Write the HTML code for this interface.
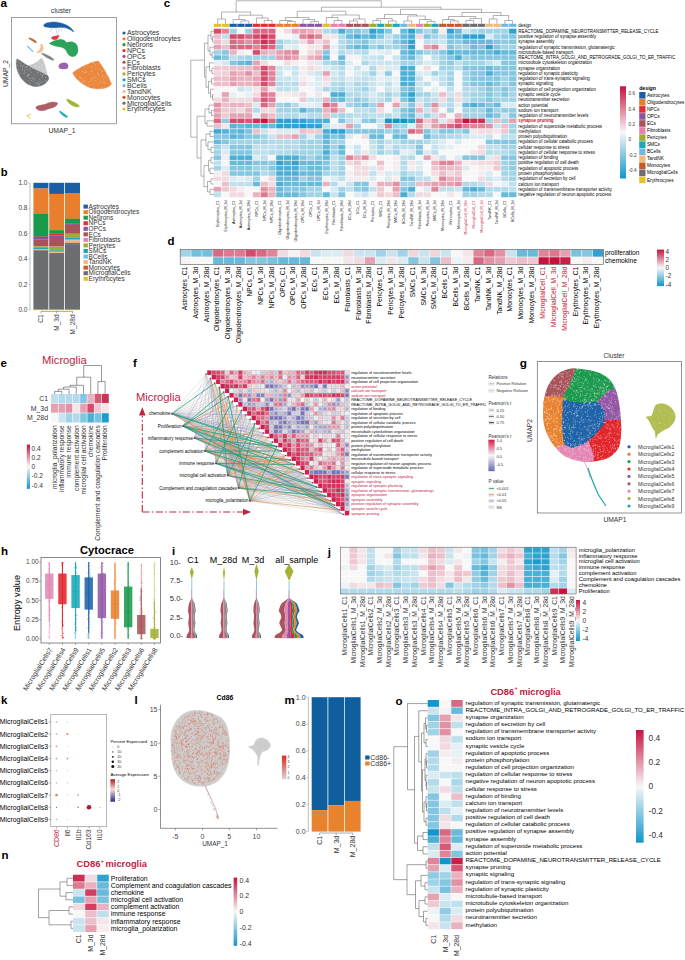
<!DOCTYPE html>
<html><head><meta charset="utf-8"><title>Figure</title>
<style>html,body{margin:0;padding:0;background:#fff;}svg{display:block;}text{font-family:"Liberation Sans", sans-serif;}</style>
</head><body>
<svg width="685" height="960" viewBox="0 0 685 960" font-family='"Liberation Sans", sans-serif'>
<rect x="0" y="0" width="685" height="960" fill="#ffffff"/>
<text x="0.40" y="6.80" font-size="11.8" font-weight="bold" fill="#000">a</text>
<text x="61.00" y="13.20" font-size="6.8" text-anchor="middle" fill="#333">cluster</text>
<rect x="11.40" y="17.40" width="105.00" height="106.40" fill="none" stroke="#777" stroke-width="0.7"/>
<text transform="translate(7.60,73.50) rotate(-90)" font-size="6.8" text-anchor="middle" fill="#333">UMAP_2</text>
<text x="62.00" y="133.40" font-size="6.8" text-anchor="middle" fill="#333">UMAP_1</text>
<path d="M16.4,59.5 C15.5,66 17,72 21,78 C25,83 30,86.5 36,86.6 C42,86.5 47,83.5 48.8,79 C48.9,77.5 48.5,76.5 47.5,75.5 C40,72 30,68 17.8,59.1 Z" stroke="#6b6e70" stroke-width="0.3" fill="#6b6e70" fill-opacity="0.97" stroke-opacity="0.97"/>
<path d="M24,65.5 C30,66 35,64 38,61 L42,57.8 C44,62 46,68 47.5,75.5 C40,72 30,68.5 24,65.5 Z" stroke="#6b6e70" stroke-width="0.3" fill="#6b6e70" fill-opacity="0.38" stroke-opacity="0.38"/>
<path d="M72.6,73 C78,68 90,62 98.5,61 C103,67 108,75 111.5,84 C108,89 100,89.5 93,88.5 C85,87 76,80 72.6,73 Z" stroke="#e97f2e" stroke-width="0.3" fill="#e97f2e" fill-opacity="0.93" stroke-opacity="0.93"/>
<path d="M43.6,25.3 C44.5,22.8 50,21.8 55,21.9 C60,22.2 64,23.5 67.5,25.5 C70,27 72.5,29.5 74,31.5 L72.8,31.6 C70,29.5 67,28.2 64,27.6 C60,27.6 55,28 50,27.7 C46,27.4 43.4,26.8 43.6,25.3 Z" stroke="#1c5ea6" stroke-width="0.3" fill="#1c5ea6" fill-opacity="1" stroke-opacity="1"/>
<path d="M49.1,43.5 C52,41.5 56,40 60,39.3 C63,39.3 65,40.5 66.5,42.5 C68,41.8 71,41.5 73.5,42.3 C77,43.5 78.3,47 78,51 C77.5,54.5 75.5,56.7 72.5,56.7 C69.5,56.5 67.5,54 66.5,51.5 C65.5,49 63,47.5 60,47 C56,46.5 52,45.5 49.1,43.5 Z" stroke="#1c9a4c" stroke-width="0.3" fill="#1c9a4c" fill-opacity="0.92" stroke-opacity="0.92"/>
<path d="M51.3,37.6 C52.5,36.3 55,36 57,35.8 L59.3,35.3 L58.3,37.5 C57.8,39 56,40 54,39.8 C52.5,39.5 51.5,38.7 51.3,37.6 Z" stroke="#e22d33" stroke-width="0.3" fill="#e22d33" fill-opacity="0.95" stroke-opacity="0.95"/>
<path d="M28.4,38.2 L30,37.8 C33,39 36,40 36.7,42.6 L35.5,43 C33,41 30,40 28.4,38.2 Z" stroke="#c25a2a" stroke-width="0.3" fill="#c25a2a" fill-opacity="0.9" stroke-opacity="0.9"/>
<path d="M27,46.2 L28,45.8 C30,48 32,50 33.6,51.5 L32.8,51.9 C30.5,50 28.5,48 27,46.2 Z" stroke="#6cbbe4" stroke-width="0.3" fill="#6cbbe4" fill-opacity="0.9" stroke-opacity="0.9"/>
<path d="M40.5,44.5 L42,44 C43.5,47 44,50 41,52.2 L37,52.8 L36.5,52 C40,50.5 41.5,48 40.5,44.5 Z" stroke="#f2b97e" stroke-width="0.3" fill="#f2b97e" fill-opacity="0.9" stroke-opacity="0.9"/>
<path d="M41.2,53.6 L43,53.2 C48,55 52,57 54.2,59.8 L53,60.5 C49,59 45,57 41.2,53.6 Z" stroke="#6b6e70" stroke-width="0.3" fill="#6b6e70" fill-opacity="0.85" stroke-opacity="0.85"/>
<path d="M58.8,66 C59,63.5 62,62.6 65,62.8 C68,63 68.5,66 68,68 C66,69.5 63,69.2 60,68.5 C59,68 58.6,67 58.8,66 Z" stroke="#8c55a4" stroke-width="0.3" fill="#8c55a4" fill-opacity="0.9" stroke-opacity="0.9"/>
<path d="M35.7,107.5 C37,104.5 43,105.5 47.5,103.2 C51,101.5 55,101.5 57.8,103 C57.5,106.5 52.5,108 47.5,109.2 C43,111.2 37.5,112 35.7,107.5 Z" stroke="#a8525a" stroke-width="0.3" fill="#a8525a" fill-opacity="0.93" stroke-opacity="0.93"/>
<path d="M66.2,99.5 L67.5,99 C72,101 77,103 79.5,106 C79,107.5 76,107.4 73,106 C70,104.5 67.5,102 66.2,99.5 Z" stroke="#9fae30" stroke-width="0.3" fill="#9fae30" fill-opacity="0.95" stroke-opacity="0.95"/>
<path d="M59.2,111.5 L60.5,111 C63,113 66,114.5 67.8,116.8 L66.5,117.8 C63.5,116.5 60.5,114 59.2,111.5 Z" stroke="#19a8b6" stroke-width="0.3" fill="#19a8b6" fill-opacity="0.95" stroke-opacity="0.95"/>
<path d="M26.2,115.5 L31.5,113.8 L30.2,115 L28,116 L30.5,118.5 L29.5,118.6 Z" stroke="#e2c12a" stroke-width="0.3" fill="#e2c12a" fill-opacity="0.7" stroke-opacity="0.7"/>
<path d="M23.9 73.3h0M28.2 75.1h0M36.6 59.0h0M16.4 82.1h0M24.6 64.0h0M48.9 71.1h0M43.6 71.3h0M37.1 61.5h0M37.0 83.0h0M33.3 79.2h0M38.2 58.9h0M41.0 74.7h0M25.9 57.9h0M44.6 71.2h0M39.7 83.4h0M39.6 84.6h0M29.0 81.0h0M30.7 85.1h0M45.0 59.9h0M20.5 63.5h0M47.9 70.1h0M36.7 66.0h0M32.7 68.6h0M27.6 74.6h0M35.3 84.1h0M38.5 84.9h0M44.3 86.7h0M38.2 61.9h0M44.4 85.9h0M45.9 74.1h0M39.6 63.3h0M43.4 74.2h0M25.4 58.9h0M44.2 86.7h0M18.9 81.0h0M29.5 61.5h0M25.7 80.1h0M44.8 58.3h0M36.3 58.3h0M39.7 66.9h0M45.1 86.4h0M32.7 87.0h0M26.2 59.3h0M35.8 57.9h0M22.5 69.2h0M36.1 61.7h0M17.4 83.0h0M26.4 85.8h0M45.6 68.3h0M31.2 72.6h0M37.2 74.9h0M34.5 75.6h0M47.0 72.2h0M30.2 78.6h0M23.8 66.0h0M48.3 72.6h0M34.1 57.3h0M29.7 74.4h0M16.7 75.5h0M36.9 58.8h0M36.7 71.0h0M38.4 67.6h0M39.3 79.1h0M16.7 58.8h0M38.3 85.9h0M24.3 70.7h0M35.6 66.6h0M28.0 66.4h0M28.2 74.9h0M25.9 68.3h0M41.5 57.8h0M34.8 79.1h0M26.2 63.7h0M42.5 64.2h0M22.2 70.1h0M39.0 60.1h0M26.6 67.0h0M43.5 70.2h0M44.2 62.1h0M27.1 76.5h0M45.2 70.5h0M23.4 60.6h0M33.5 62.7h0M42.6 82.2h0M22.1 65.4h0M42.6 76.3h0M42.6 67.4h0M20.3 65.8h0M42.2 65.1h0M27.4 69.5h0M29.9 69.3h0M46.4 61.7h0M16.2 85.3h0M45.0 86.6h0M30.3 85.5h0M46.6 63.7h0M40.6 82.1h0M37.9 72.6h0M25.5 67.2h0M23.5 59.0h0M35.4 65.6h0M42.7 58.4h0M45.8 77.8h0M46.5 83.9h0M45.7 74.3h0M16.4 79.4h0M21.7 66.0h0M37.9 72.7h0M29.7 85.2h0M36.2 67.2h0M24.3 82.8h0M31.7 80.5h0M27.6 62.9h0M33.6 81.5h0M21.7 80.8h0M46.4 81.2h0M43.2 57.2h0M36.7 82.9h0M17.6 65.1h0M24.9 72.8h0M30.0 71.2h0M41.6 57.1h0M17.8 60.8h0M20.1 59.1h0M48.2 82.6h0M18.8 72.1h0M26.4 66.4h0M27.6 76.4h0M35.4 67.8h0M22.3 66.9h0M20.1 73.7h0M39.6 68.4h0M18.6 62.4h0M28.3 75.1h0M41.8 68.4h0M42.4 75.7h0M30.2 68.2h0M32.4 78.1h0M29.9 77.8h0M31.2 64.4h0M33.7 77.9h0M18.4 69.7h0M30.1 83.4h0M46.9 68.2h0M45.6 80.7h0M24.7 70.9h0M20.1 81.4h0M37.9 83.6h0M42.2 77.0h0M40.2 73.9h0M19.4 74.6h0M16.2 61.3h0M41.6 58.3h0M19.0 60.0h0M45.1 62.4h0M16.8 82.2h0M20.0 82.3h0M38.2 82.1h0M47.4 74.4h0M42.4 58.1h0" stroke="#ffffff" stroke-width="0.7" stroke-linecap="round" stroke-opacity="0.5"/>
<path d="M102.7 75.3h0M100.6 63.2h0M102.0 88.0h0M74.4 69.7h0M94.6 84.8h0M81.7 65.4h0M82.0 78.5h0M102.1 71.8h0M86.7 71.9h0M86.0 72.5h0M75.3 75.0h0M110.9 72.4h0M101.9 64.8h0M99.6 82.7h0M99.0 75.5h0M91.3 79.3h0M107.9 64.5h0M75.8 82.4h0M108.7 75.5h0M89.7 81.6h0M79.4 68.0h0M80.0 77.6h0M84.6 67.0h0M99.6 88.6h0M83.8 81.2h0M88.5 85.6h0M95.4 68.0h0M80.7 60.7h0M91.2 71.5h0M78.9 70.8h0M84.9 83.2h0M77.7 89.7h0M91.2 78.0h0M90.7 85.0h0M104.9 76.7h0M91.3 81.6h0M106.3 72.0h0M101.3 88.8h0M90.7 66.9h0M81.4 81.5h0M99.0 88.8h0M106.2 67.3h0M79.6 67.8h0M79.5 81.1h0M106.3 87.0h0M82.2 86.0h0M84.5 72.7h0M101.2 62.6h0M75.7 85.0h0M83.7 70.7h0M95.2 80.3h0M72.3 70.0h0M89.4 74.6h0M80.4 77.6h0M110.2 71.7h0M93.8 63.6h0M83.0 80.0h0M76.5 86.6h0M108.4 62.9h0M109.7 71.2h0M102.9 82.7h0M83.8 80.3h0M98.2 84.2h0M82.6 82.6h0M110.5 80.2h0M93.4 63.4h0M91.8 70.6h0M100.7 80.4h0M94.7 65.5h0M97.8 78.9h0M79.2 86.7h0M98.2 63.7h0M109.3 64.2h0M85.3 81.6h0M95.9 76.6h0M97.9 73.7h0M84.5 65.3h0M74.7 81.5h0M102.2 76.3h0M101.6 70.8h0M82.6 71.5h0M106.9 61.3h0M92.2 67.4h0M102.8 70.6h0M85.3 72.1h0M93.7 83.2h0M86.1 85.4h0M76.5 68.1h0M76.0 63.4h0M103.2 81.8h0M79.4 65.7h0M88.7 82.3h0M104.6 82.5h0M95.7 64.4h0M87.9 65.8h0M93.1 77.1h0M80.1 67.5h0M103.3 60.9h0M104.1 86.7h0M110.0 71.5h0M94.1 77.5h0M97.3 89.3h0M99.5 69.0h0M106.4 74.5h0M96.1 81.8h0M72.1 83.1h0M98.5 74.8h0M92.9 73.8h0M79.7 75.9h0M73.5 75.0h0M97.8 73.3h0M94.6 88.8h0M107.7 64.1h0M103.7 78.7h0M74.0 70.8h0M81.3 62.3h0M93.6 87.9h0M84.9 86.1h0M99.8 64.0h0M106.3 78.0h0" stroke="#ffffff" stroke-width="0.7" stroke-linecap="round" stroke-opacity="0.5"/>
<path d="M52,28.5 L50,32 M56,28.5 L57,33 M60,28.5 L58,32.5 M63,28.5 L61,31 M58,33 L57,35.5" stroke="#1c5ea6" stroke-width="0.35" fill="none" stroke-opacity="0.7"/>
<circle cx="124" cy="33.00" r="1.6" fill="#1c5ea6"/>
<text x="127.00" y="35.30" font-size="6.9" fill="#333">Astrocytes</text>
<circle cx="124" cy="38.85" r="1.6" fill="#e97f2e"/>
<text x="127.00" y="41.15" font-size="6.9" fill="#333">Oligodendrocytes</text>
<circle cx="124" cy="44.70" r="1.6" fill="#1c9a4c"/>
<text x="127.00" y="47.00" font-size="6.9" fill="#333">Neurons</text>
<circle cx="124" cy="50.55" r="1.6" fill="#e22d33"/>
<text x="127.00" y="52.85" font-size="6.9" fill="#333">NPCs</text>
<circle cx="124" cy="56.40" r="1.6" fill="#8c55a4"/>
<text x="127.00" y="58.70" font-size="6.9" fill="#333">OPCs</text>
<circle cx="124" cy="62.25" r="1.6" fill="#a8525a"/>
<text x="127.00" y="64.55" font-size="6.9" fill="#333">ECs</text>
<circle cx="124" cy="68.10" r="1.6" fill="#e680b0"/>
<text x="127.00" y="70.40" font-size="6.9" fill="#333">Fibroblasts</text>
<circle cx="124" cy="73.95" r="1.6" fill="#9fae30"/>
<text x="127.00" y="76.25" font-size="6.9" fill="#333">Pericytes</text>
<circle cx="124" cy="79.80" r="1.6" fill="#19a8b6"/>
<text x="127.00" y="82.10" font-size="6.9" fill="#333">SMCs</text>
<circle cx="124" cy="85.65" r="1.6" fill="#6cbbe4"/>
<text x="127.00" y="87.95" font-size="6.9" fill="#333">BCells</text>
<circle cx="124" cy="91.50" r="1.6" fill="#f2b97e"/>
<text x="127.00" y="93.80" font-size="6.9" fill="#333">TandNK</text>
<circle cx="124" cy="97.35" r="1.6" fill="#c25a2a"/>
<text x="127.00" y="99.65" font-size="6.9" fill="#333">Monocytes</text>
<circle cx="124" cy="103.20" r="1.6" fill="#6b6e70"/>
<text x="127.00" y="105.50" font-size="6.9" fill="#333">MicroglialCells</text>
<circle cx="124" cy="109.05" r="1.6" fill="#e2c12a"/>
<text x="127.00" y="111.35" font-size="6.9" fill="#333">Erythrocytes</text>
<text x="0.80" y="175.60" font-size="11.2" font-weight="bold" fill="#000">b</text>
<line x1="30.00" y1="182.80" x2="30.00" y2="310.20" stroke="#c8c8c8" stroke-width="1.2"/>
<text x="27.50" y="185.00" font-size="6.5" text-anchor="end" fill="#444">1.0</text>
<line x1="28.30" y1="182.80" x2="30.00" y2="182.80" stroke="#999" stroke-width="0.5"/>
<text x="27.50" y="210.44" font-size="6.5" text-anchor="end" fill="#444">0.8</text>
<line x1="28.30" y1="208.24" x2="30.00" y2="208.24" stroke="#999" stroke-width="0.5"/>
<text x="27.50" y="235.88" font-size="6.5" text-anchor="end" fill="#444">0.6</text>
<line x1="28.30" y1="233.68" x2="30.00" y2="233.68" stroke="#999" stroke-width="0.5"/>
<text x="27.50" y="261.32" font-size="6.5" text-anchor="end" fill="#444">0.4</text>
<line x1="28.30" y1="259.12" x2="30.00" y2="259.12" stroke="#999" stroke-width="0.5"/>
<text x="27.50" y="286.76" font-size="6.5" text-anchor="end" fill="#444">0.2</text>
<line x1="28.30" y1="284.56" x2="30.00" y2="284.56" stroke="#999" stroke-width="0.5"/>
<text x="27.50" y="312.20" font-size="6.5" text-anchor="end" fill="#444">0.0</text>
<line x1="28.30" y1="310.00" x2="30.00" y2="310.00" stroke="#999" stroke-width="0.5"/>
<rect x="33.40" y="182.80" width="15.00" height="5.75" fill="#1c5ea6"/>
<rect x="33.40" y="188.40" width="15.00" height="25.34" fill="#e97f2e"/>
<rect x="33.40" y="213.58" width="15.00" height="23.17" fill="#1c9a4c"/>
<rect x="33.40" y="236.61" width="15.00" height="1.55" fill="#e22d33"/>
<rect x="33.40" y="238.00" width="15.00" height="1.55" fill="#8c55a4"/>
<rect x="33.40" y="239.40" width="15.00" height="6.76" fill="#a8525a"/>
<rect x="33.40" y="246.02" width="15.00" height="0.53" fill="#e680b0"/>
<rect x="33.40" y="246.40" width="15.00" height="1.68" fill="#9fae30"/>
<rect x="33.40" y="247.93" width="15.00" height="1.42" fill="#19a8b6"/>
<rect x="33.40" y="249.20" width="15.00" height="0.53" fill="#6cbbe4"/>
<rect x="33.40" y="249.58" width="15.00" height="0.79" fill="#f2b97e"/>
<rect x="33.40" y="250.22" width="15.00" height="0.66" fill="#c25a2a"/>
<rect x="33.40" y="250.72" width="15.00" height="59.04" fill="#6b6e70"/>
<rect x="33.40" y="309.62" width="15.00" height="0.53" fill="#e2c12a"/>
<rect x="49.20" y="182.80" width="15.00" height="11.22" fill="#1c5ea6"/>
<rect x="49.20" y="193.87" width="15.00" height="36.40" fill="#e97f2e"/>
<rect x="49.20" y="230.12" width="15.00" height="3.33" fill="#1c9a4c"/>
<rect x="49.20" y="233.30" width="15.00" height="2.06" fill="#e22d33"/>
<rect x="49.20" y="235.21" width="15.00" height="1.93" fill="#8c55a4"/>
<rect x="49.20" y="236.99" width="15.00" height="9.56" fill="#a8525a"/>
<rect x="49.20" y="246.40" width="15.00" height="0.53" fill="#e680b0"/>
<rect x="49.20" y="246.78" width="15.00" height="3.71" fill="#9fae30"/>
<rect x="49.20" y="250.34" width="15.00" height="1.42" fill="#19a8b6"/>
<rect x="49.20" y="251.62" width="15.00" height="0.79" fill="#6cbbe4"/>
<rect x="49.20" y="252.25" width="15.00" height="0.91" fill="#f2b97e"/>
<rect x="49.20" y="253.01" width="15.00" height="1.04" fill="#c25a2a"/>
<rect x="49.20" y="253.90" width="15.00" height="55.86" fill="#6b6e70"/>
<rect x="49.20" y="309.62" width="15.00" height="0.53" fill="#e2c12a"/>
<rect x="65.00" y="182.80" width="15.00" height="10.33" fill="#1c5ea6"/>
<rect x="65.00" y="192.98" width="15.00" height="25.97" fill="#e97f2e"/>
<rect x="65.00" y="218.80" width="15.00" height="4.86" fill="#1c9a4c"/>
<rect x="65.00" y="223.50" width="15.00" height="0.40" fill="#e22d33"/>
<rect x="65.00" y="223.76" width="15.00" height="1.17" fill="#8c55a4"/>
<rect x="65.00" y="224.78" width="15.00" height="9.05" fill="#a8525a"/>
<rect x="65.00" y="233.68" width="15.00" height="0.40" fill="#e680b0"/>
<rect x="65.00" y="233.93" width="15.00" height="3.84" fill="#9fae30"/>
<rect x="65.00" y="237.62" width="15.00" height="1.42" fill="#19a8b6"/>
<rect x="65.00" y="238.90" width="15.00" height="1.68" fill="#6cbbe4"/>
<rect x="65.00" y="240.42" width="15.00" height="2.57" fill="#f2b97e"/>
<rect x="65.00" y="242.84" width="15.00" height="1.42" fill="#c25a2a"/>
<rect x="65.00" y="244.11" width="15.00" height="65.66" fill="#6b6e70"/>
<rect x="65.00" y="309.62" width="15.00" height="0.53" fill="#e2c12a"/>
<line x1="41.00" y1="311.40" x2="72.60" y2="311.40" stroke="#555" stroke-width="0.5"/>
<line x1="41.00" y1="311.40" x2="41.00" y2="313.40" stroke="#555" stroke-width="0.5"/>
<line x1="56.70" y1="311.40" x2="56.70" y2="313.40" stroke="#555" stroke-width="0.5"/>
<line x1="72.50" y1="311.40" x2="72.50" y2="313.40" stroke="#555" stroke-width="0.5"/>
<text transform="translate(43.30,314.50) rotate(-90)" font-size="6.5" text-anchor="end" fill="#333">C1</text>
<text transform="translate(59.00,314.50) rotate(-90)" font-size="6.5" text-anchor="end" fill="#333">M_3d</text>
<text transform="translate(74.80,314.50) rotate(-90)" font-size="6.5" text-anchor="end" fill="#333">M_28d</text>
<rect x="83.50" y="204.60" width="4.40" height="4.00" fill="#1c5ea6"/>
<text x="88.60" y="208.80" font-size="6.5" fill="#333">Astrocytes</text>
<rect x="83.50" y="210.15" width="4.40" height="4.00" fill="#e97f2e"/>
<text x="88.60" y="214.35" font-size="6.5" fill="#333">Oligodendrocytes</text>
<rect x="83.50" y="215.70" width="4.40" height="4.00" fill="#1c9a4c"/>
<text x="88.60" y="219.90" font-size="6.5" fill="#333">Neurons</text>
<rect x="83.50" y="221.25" width="4.40" height="4.00" fill="#e22d33"/>
<text x="88.60" y="225.45" font-size="6.5" fill="#333">NPCs</text>
<rect x="83.50" y="226.80" width="4.40" height="4.00" fill="#8c55a4"/>
<text x="88.60" y="231.00" font-size="6.5" fill="#333">OPCs</text>
<rect x="83.50" y="232.35" width="4.40" height="4.00" fill="#a8525a"/>
<text x="88.60" y="236.55" font-size="6.5" fill="#333">ECs</text>
<rect x="83.50" y="237.90" width="4.40" height="4.00" fill="#e680b0"/>
<text x="88.60" y="242.10" font-size="6.5" fill="#333">Fibroblasts</text>
<rect x="83.50" y="243.45" width="4.40" height="4.00" fill="#9fae30"/>
<text x="88.60" y="247.65" font-size="6.5" fill="#333">Pericytes</text>
<rect x="83.50" y="249.00" width="4.40" height="4.00" fill="#19a8b6"/>
<text x="88.60" y="253.20" font-size="6.5" fill="#333">SMCs</text>
<rect x="83.50" y="254.55" width="4.40" height="4.00" fill="#6cbbe4"/>
<text x="88.60" y="258.75" font-size="6.5" fill="#333">BCells</text>
<rect x="83.50" y="260.10" width="4.40" height="4.00" fill="#f2b97e"/>
<text x="88.60" y="264.30" font-size="6.5" fill="#333">TandNK</text>
<rect x="83.50" y="265.65" width="4.40" height="4.00" fill="#c25a2a"/>
<text x="88.60" y="269.85" font-size="6.5" fill="#333">Monocytes</text>
<rect x="83.50" y="271.20" width="4.40" height="4.00" fill="#6b6e70"/>
<text x="88.60" y="275.40" font-size="6.5" fill="#333">MicroglialCells</text>
<rect x="83.50" y="276.75" width="4.40" height="4.00" fill="#e2c12a"/>
<text x="88.60" y="280.95" font-size="6.5" fill="#333">Erythrocytes</text>
<text x="163.80" y="7.20" font-size="11.5" font-weight="bold" fill="#000">c</text>
<rect x="213.80" y="23.80" width="7.76" height="3.10" fill="#e2c12a"/>
<rect x="221.56" y="23.80" width="7.76" height="3.10" fill="#e2c12a"/>
<rect x="229.32" y="23.80" width="7.76" height="3.10" fill="#1c5ea6"/>
<rect x="237.08" y="23.80" width="7.76" height="3.10" fill="#1c5ea6"/>
<rect x="244.84" y="23.80" width="7.76" height="3.10" fill="#1c5ea6"/>
<rect x="252.60" y="23.80" width="7.76" height="3.10" fill="#e22d33"/>
<rect x="260.36" y="23.80" width="7.76" height="3.10" fill="#e22d33"/>
<rect x="268.12" y="23.80" width="7.76" height="3.10" fill="#e22d33"/>
<rect x="275.88" y="23.80" width="7.76" height="3.10" fill="#e97f2e"/>
<rect x="283.64" y="23.80" width="7.76" height="3.10" fill="#e97f2e"/>
<rect x="291.40" y="23.80" width="7.76" height="3.10" fill="#e97f2e"/>
<rect x="299.16" y="23.80" width="7.76" height="3.10" fill="#8c55a4"/>
<rect x="306.92" y="23.80" width="7.76" height="3.10" fill="#8c55a4"/>
<rect x="314.68" y="23.80" width="7.76" height="3.10" fill="#8c55a4"/>
<rect x="322.44" y="23.80" width="7.76" height="3.10" fill="#e2c12a"/>
<rect x="330.20" y="23.80" width="7.76" height="3.10" fill="#e680b0"/>
<rect x="337.96" y="23.80" width="7.76" height="3.10" fill="#e680b0"/>
<rect x="345.72" y="23.80" width="7.76" height="3.10" fill="#a8525a"/>
<rect x="353.48" y="23.80" width="7.76" height="3.10" fill="#a8525a"/>
<rect x="361.24" y="23.80" width="7.76" height="3.10" fill="#a8525a"/>
<rect x="369.00" y="23.80" width="7.76" height="3.10" fill="#9fae30"/>
<rect x="376.76" y="23.80" width="7.76" height="3.10" fill="#19a8b6"/>
<rect x="384.52" y="23.80" width="7.76" height="3.10" fill="#9fae30"/>
<rect x="392.28" y="23.80" width="7.76" height="3.10" fill="#19a8b6"/>
<rect x="400.04" y="23.80" width="7.76" height="3.10" fill="#6cbbe4"/>
<rect x="407.80" y="23.80" width="7.76" height="3.10" fill="#f2b97e"/>
<rect x="415.56" y="23.80" width="7.76" height="3.10" fill="#e680b0"/>
<rect x="423.32" y="23.80" width="7.76" height="3.10" fill="#9fae30"/>
<rect x="431.08" y="23.80" width="7.76" height="3.10" fill="#19a8b6"/>
<rect x="438.84" y="23.80" width="7.76" height="3.10" fill="#c25a2a"/>
<rect x="446.60" y="23.80" width="7.76" height="3.10" fill="#c25a2a"/>
<rect x="454.36" y="23.80" width="7.76" height="3.10" fill="#c25a2a"/>
<rect x="462.12" y="23.80" width="7.76" height="3.10" fill="#6b6e70"/>
<rect x="469.88" y="23.80" width="7.76" height="3.10" fill="#6b6e70"/>
<rect x="477.64" y="23.80" width="7.76" height="3.10" fill="#6b6e70"/>
<rect x="485.40" y="23.80" width="7.76" height="3.10" fill="#f2b97e"/>
<rect x="493.16" y="23.80" width="7.76" height="3.10" fill="#f2b97e"/>
<rect x="500.92" y="23.80" width="7.76" height="3.10" fill="#6cbbe4"/>
<rect x="508.68" y="23.80" width="7.76" height="3.10" fill="#6cbbe4"/>
<path d="M221.56 23.8V26.9M229.32 23.8V26.9M237.08 23.8V26.9M244.84 23.8V26.9M252.60 23.8V26.9M260.36 23.8V26.9M268.12 23.8V26.9M275.88 23.8V26.9M283.64 23.8V26.9M291.40 23.8V26.9M299.16 23.8V26.9M306.92 23.8V26.9M314.68 23.8V26.9M322.44 23.8V26.9M330.20 23.8V26.9M337.96 23.8V26.9M345.72 23.8V26.9M353.48 23.8V26.9M361.24 23.8V26.9M369.00 23.8V26.9M376.76 23.8V26.9M384.52 23.8V26.9M392.28 23.8V26.9M400.04 23.8V26.9M407.80 23.8V26.9M415.56 23.8V26.9M423.32 23.8V26.9M431.08 23.8V26.9M438.84 23.8V26.9M446.60 23.8V26.9M454.36 23.8V26.9M462.12 23.8V26.9M469.88 23.8V26.9M477.64 23.8V26.9M485.40 23.8V26.9M493.16 23.8V26.9M500.92 23.8V26.9M508.68 23.8V26.9" stroke="#fff" stroke-width="0.5" fill="none"/>
<text x="518.30" y="27.20" font-size="4.42">design</text>
<rect x="213.80" y="28.70" width="7.76" height="5.27" fill="#d44b6c"/>
<rect x="221.56" y="28.70" width="7.76" height="5.27" fill="#e0849a"/>
<rect x="229.32" y="28.70" width="7.76" height="5.27" fill="#a1d3e6"/>
<rect x="237.08" y="28.70" width="7.76" height="5.27" fill="#f7f7f7"/>
<rect x="244.84" y="28.70" width="7.76" height="5.27" fill="#a1d3e6"/>
<rect x="252.60" y="28.70" width="7.76" height="5.27" fill="#da6883"/>
<rect x="260.36" y="28.70" width="7.76" height="5.27" fill="#da6883"/>
<rect x="268.12" y="28.70" width="7.76" height="5.27" fill="#da6883"/>
<rect x="275.88" y="28.70" width="7.76" height="5.27" fill="#f7f7f7"/>
<rect x="283.64" y="28.70" width="7.76" height="5.27" fill="#f1dae0"/>
<rect x="291.40" y="28.70" width="7.76" height="5.27" fill="#e5a1b2"/>
<rect x="299.16" y="28.70" width="7.76" height="5.27" fill="#e5a1b2"/>
<rect x="306.92" y="28.70" width="7.76" height="5.27" fill="#e8adbb"/>
<rect x="314.68" y="28.70" width="7.76" height="5.27" fill="#eec9d2"/>
<rect x="322.44" y="28.70" width="7.76" height="5.27" fill="#b2daea"/>
<rect x="330.20" y="28.70" width="7.76" height="5.27" fill="#a1d3e6"/>
<rect x="337.96" y="28.70" width="7.76" height="5.27" fill="#4baed5"/>
<rect x="345.72" y="28.70" width="7.76" height="5.27" fill="#84c6e0"/>
<rect x="353.48" y="28.70" width="7.76" height="5.27" fill="#84c6e0"/>
<rect x="361.24" y="28.70" width="7.76" height="5.27" fill="#a1d3e6"/>
<rect x="369.00" y="28.70" width="7.76" height="5.27" fill="#2fa2d0"/>
<rect x="376.76" y="28.70" width="7.76" height="5.27" fill="#4baed5"/>
<rect x="384.52" y="28.70" width="7.76" height="5.27" fill="#84c6e0"/>
<rect x="392.28" y="28.70" width="7.76" height="5.27" fill="#f7f7f7"/>
<rect x="400.04" y="28.70" width="7.76" height="5.27" fill="#68badb"/>
<rect x="407.80" y="28.70" width="7.76" height="5.27" fill="#2fa2d0"/>
<rect x="415.56" y="28.70" width="7.76" height="5.27" fill="#84c6e0"/>
<rect x="423.32" y="28.70" width="7.76" height="5.27" fill="#add7e8"/>
<rect x="431.08" y="28.70" width="7.76" height="5.27" fill="#84c6e0"/>
<rect x="438.84" y="28.70" width="7.76" height="5.27" fill="#f5ecee"/>
<rect x="446.60" y="28.70" width="7.76" height="5.27" fill="#2fa2d0"/>
<rect x="454.36" y="28.70" width="7.76" height="5.27" fill="#68badb"/>
<rect x="462.12" y="28.70" width="7.76" height="5.27" fill="#c9e4ee"/>
<rect x="469.88" y="28.70" width="7.76" height="5.27" fill="#b2daea"/>
<rect x="477.64" y="28.70" width="7.76" height="5.27" fill="#a1d3e6"/>
<rect x="485.40" y="28.70" width="7.76" height="5.27" fill="#a1d3e6"/>
<rect x="493.16" y="28.70" width="7.76" height="5.27" fill="#a1d3e6"/>
<rect x="500.92" y="28.70" width="7.76" height="5.27" fill="#a1d3e6"/>
<rect x="508.68" y="28.70" width="7.76" height="5.27" fill="#2fa2d0"/>
<rect x="213.80" y="33.97" width="7.76" height="5.27" fill="#ebbec9"/>
<rect x="221.56" y="33.97" width="7.76" height="5.27" fill="#bedfec"/>
<rect x="229.32" y="33.97" width="7.76" height="5.27" fill="#d44b6c"/>
<rect x="237.08" y="33.97" width="7.76" height="5.27" fill="#d44b6c"/>
<rect x="244.84" y="33.97" width="7.76" height="5.27" fill="#da6883"/>
<rect x="252.60" y="33.97" width="7.76" height="5.27" fill="#d44b6c"/>
<rect x="260.36" y="33.97" width="7.76" height="5.27" fill="#ce2f55"/>
<rect x="268.12" y="33.97" width="7.76" height="5.27" fill="#d44b6c"/>
<rect x="275.88" y="33.97" width="7.76" height="5.27" fill="#f7f7f7"/>
<rect x="283.64" y="33.97" width="7.76" height="5.27" fill="#f7f7f7"/>
<rect x="291.40" y="33.97" width="7.76" height="5.27" fill="#e6f0f4"/>
<rect x="299.16" y="33.97" width="7.76" height="5.27" fill="#e0849a"/>
<rect x="306.92" y="33.97" width="7.76" height="5.27" fill="#da6883"/>
<rect x="314.68" y="33.97" width="7.76" height="5.27" fill="#e0849a"/>
<rect x="322.44" y="33.97" width="7.76" height="5.27" fill="#f3e6e9"/>
<rect x="330.20" y="33.97" width="7.76" height="5.27" fill="#f3e6e9"/>
<rect x="337.96" y="33.97" width="7.76" height="5.27" fill="#b2daea"/>
<rect x="345.72" y="33.97" width="7.76" height="5.27" fill="#68badb"/>
<rect x="353.48" y="33.97" width="7.76" height="5.27" fill="#4baed5"/>
<rect x="361.24" y="33.97" width="7.76" height="5.27" fill="#68badb"/>
<rect x="369.00" y="33.97" width="7.76" height="5.27" fill="#4baed5"/>
<rect x="376.76" y="33.97" width="7.76" height="5.27" fill="#84c6e0"/>
<rect x="384.52" y="33.97" width="7.76" height="5.27" fill="#bedfec"/>
<rect x="392.28" y="33.97" width="7.76" height="5.27" fill="#a1d3e6"/>
<rect x="400.04" y="33.97" width="7.76" height="5.27" fill="#68badb"/>
<rect x="407.80" y="33.97" width="7.76" height="5.27" fill="#4baed5"/>
<rect x="415.56" y="33.97" width="7.76" height="5.27" fill="#f1dae0"/>
<rect x="423.32" y="33.97" width="7.76" height="5.27" fill="#84c6e0"/>
<rect x="431.08" y="33.97" width="7.76" height="5.27" fill="#a1d3e6"/>
<rect x="438.84" y="33.97" width="7.76" height="5.27" fill="#bedfec"/>
<rect x="446.60" y="33.97" width="7.76" height="5.27" fill="#68badb"/>
<rect x="454.36" y="33.97" width="7.76" height="5.27" fill="#68badb"/>
<rect x="462.12" y="33.97" width="7.76" height="5.27" fill="#2fa2d0"/>
<rect x="469.88" y="33.97" width="7.76" height="5.27" fill="#2fa2d0"/>
<rect x="477.64" y="33.97" width="7.76" height="5.27" fill="#2fa2d0"/>
<rect x="485.40" y="33.97" width="7.76" height="5.27" fill="#daebf1"/>
<rect x="493.16" y="33.97" width="7.76" height="5.27" fill="#a1d3e6"/>
<rect x="500.92" y="33.97" width="7.76" height="5.27" fill="#90cbe3"/>
<rect x="508.68" y="33.97" width="7.76" height="5.27" fill="#84c6e0"/>
<rect x="213.80" y="39.23" width="7.76" height="5.27" fill="#ebbec9"/>
<rect x="221.56" y="39.23" width="7.76" height="5.27" fill="#f1dae0"/>
<rect x="229.32" y="39.23" width="7.76" height="5.27" fill="#da6883"/>
<rect x="237.08" y="39.23" width="7.76" height="5.27" fill="#dd7991"/>
<rect x="244.84" y="39.23" width="7.76" height="5.27" fill="#e290a4"/>
<rect x="252.60" y="39.23" width="7.76" height="5.27" fill="#da6883"/>
<rect x="260.36" y="39.23" width="7.76" height="5.27" fill="#ce2f55"/>
<rect x="268.12" y="39.23" width="7.76" height="5.27" fill="#d44b6c"/>
<rect x="275.88" y="39.23" width="7.76" height="5.27" fill="#a1d3e6"/>
<rect x="283.64" y="39.23" width="7.76" height="5.27" fill="#bedfec"/>
<rect x="291.40" y="39.23" width="7.76" height="5.27" fill="#c9e4ee"/>
<rect x="299.16" y="39.23" width="7.76" height="5.27" fill="#f1dae0"/>
<rect x="306.92" y="39.23" width="7.76" height="5.27" fill="#e5a1b2"/>
<rect x="314.68" y="39.23" width="7.76" height="5.27" fill="#f1dae0"/>
<rect x="322.44" y="39.23" width="7.76" height="5.27" fill="#ebbec9"/>
<rect x="330.20" y="39.23" width="7.76" height="5.27" fill="#f7f7f7"/>
<rect x="337.96" y="39.23" width="7.76" height="5.27" fill="#b2daea"/>
<rect x="345.72" y="39.23" width="7.76" height="5.27" fill="#a1d3e6"/>
<rect x="353.48" y="39.23" width="7.76" height="5.27" fill="#96cee4"/>
<rect x="361.24" y="39.23" width="7.76" height="5.27" fill="#84c6e0"/>
<rect x="369.00" y="39.23" width="7.76" height="5.27" fill="#b2daea"/>
<rect x="376.76" y="39.23" width="7.76" height="5.27" fill="#bedfec"/>
<rect x="384.52" y="39.23" width="7.76" height="5.27" fill="#bedfec"/>
<rect x="392.28" y="39.23" width="7.76" height="5.27" fill="#90cbe3"/>
<rect x="400.04" y="39.23" width="7.76" height="5.27" fill="#68badb"/>
<rect x="407.80" y="39.23" width="7.76" height="5.27" fill="#2fa2d0"/>
<rect x="415.56" y="39.23" width="7.76" height="5.27" fill="#f7f7f7"/>
<rect x="423.32" y="39.23" width="7.76" height="5.27" fill="#bedfec"/>
<rect x="431.08" y="39.23" width="7.76" height="5.27" fill="#bedfec"/>
<rect x="438.84" y="39.23" width="7.76" height="5.27" fill="#c9e4ee"/>
<rect x="446.60" y="39.23" width="7.76" height="5.27" fill="#84c6e0"/>
<rect x="454.36" y="39.23" width="7.76" height="5.27" fill="#90cbe3"/>
<rect x="462.12" y="39.23" width="7.76" height="5.27" fill="#68badb"/>
<rect x="469.88" y="39.23" width="7.76" height="5.27" fill="#68badb"/>
<rect x="477.64" y="39.23" width="7.76" height="5.27" fill="#68badb"/>
<rect x="485.40" y="39.23" width="7.76" height="5.27" fill="#68badb"/>
<rect x="493.16" y="39.23" width="7.76" height="5.27" fill="#84c6e0"/>
<rect x="500.92" y="39.23" width="7.76" height="5.27" fill="#90cbe3"/>
<rect x="508.68" y="39.23" width="7.76" height="5.27" fill="#84c6e0"/>
<rect x="213.80" y="44.50" width="7.76" height="5.27" fill="#e5a1b2"/>
<rect x="221.56" y="44.50" width="7.76" height="5.27" fill="#ebbec9"/>
<rect x="229.32" y="44.50" width="7.76" height="5.27" fill="#da6883"/>
<rect x="237.08" y="44.50" width="7.76" height="5.27" fill="#da6883"/>
<rect x="244.84" y="44.50" width="7.76" height="5.27" fill="#da6883"/>
<rect x="252.60" y="44.50" width="7.76" height="5.27" fill="#e0849a"/>
<rect x="260.36" y="44.50" width="7.76" height="5.27" fill="#d44b6c"/>
<rect x="268.12" y="44.50" width="7.76" height="5.27" fill="#da6883"/>
<rect x="275.88" y="44.50" width="7.76" height="5.27" fill="#96cee4"/>
<rect x="283.64" y="44.50" width="7.76" height="5.27" fill="#e6f0f4"/>
<rect x="291.40" y="44.50" width="7.76" height="5.27" fill="#daebf1"/>
<rect x="299.16" y="44.50" width="7.76" height="5.27" fill="#f7f7f7"/>
<rect x="306.92" y="44.50" width="7.76" height="5.27" fill="#f3e6e9"/>
<rect x="314.68" y="44.50" width="7.76" height="5.27" fill="#f3e6e9"/>
<rect x="322.44" y="44.50" width="7.76" height="5.27" fill="#e5a1b2"/>
<rect x="330.20" y="44.50" width="7.76" height="5.27" fill="#e6f0f4"/>
<rect x="337.96" y="44.50" width="7.76" height="5.27" fill="#b2daea"/>
<rect x="345.72" y="44.50" width="7.76" height="5.27" fill="#84c6e0"/>
<rect x="353.48" y="44.50" width="7.76" height="5.27" fill="#68badb"/>
<rect x="361.24" y="44.50" width="7.76" height="5.27" fill="#68badb"/>
<rect x="369.00" y="44.50" width="7.76" height="5.27" fill="#a1d3e6"/>
<rect x="376.76" y="44.50" width="7.76" height="5.27" fill="#84c6e0"/>
<rect x="384.52" y="44.50" width="7.76" height="5.27" fill="#add7e8"/>
<rect x="392.28" y="44.50" width="7.76" height="5.27" fill="#a1d3e6"/>
<rect x="400.04" y="44.50" width="7.76" height="5.27" fill="#84c6e0"/>
<rect x="407.80" y="44.50" width="7.76" height="5.27" fill="#2fa2d0"/>
<rect x="415.56" y="44.50" width="7.76" height="5.27" fill="#f7f7f7"/>
<rect x="423.32" y="44.50" width="7.76" height="5.27" fill="#e5a1b2"/>
<rect x="431.08" y="44.50" width="7.76" height="5.27" fill="#e0849a"/>
<rect x="438.84" y="44.50" width="7.76" height="5.27" fill="#f3e6e9"/>
<rect x="446.60" y="44.50" width="7.76" height="5.27" fill="#84c6e0"/>
<rect x="454.36" y="44.50" width="7.76" height="5.27" fill="#a1d3e6"/>
<rect x="462.12" y="44.50" width="7.76" height="5.27" fill="#a1d3e6"/>
<rect x="469.88" y="44.50" width="7.76" height="5.27" fill="#68badb"/>
<rect x="477.64" y="44.50" width="7.76" height="5.27" fill="#84c6e0"/>
<rect x="485.40" y="44.50" width="7.76" height="5.27" fill="#2fa2d0"/>
<rect x="493.16" y="44.50" width="7.76" height="5.27" fill="#84c6e0"/>
<rect x="500.92" y="44.50" width="7.76" height="5.27" fill="#a1d3e6"/>
<rect x="508.68" y="44.50" width="7.76" height="5.27" fill="#a1d3e6"/>
<rect x="213.80" y="49.76" width="7.76" height="5.27" fill="#a1d3e6"/>
<rect x="221.56" y="49.76" width="7.76" height="5.27" fill="#84c6e0"/>
<rect x="229.32" y="49.76" width="7.76" height="5.27" fill="#e9b2c0"/>
<rect x="237.08" y="49.76" width="7.76" height="5.27" fill="#f5ecee"/>
<rect x="244.84" y="49.76" width="7.76" height="5.27" fill="#f7f7f7"/>
<rect x="252.60" y="49.76" width="7.76" height="5.27" fill="#d44b6c"/>
<rect x="260.36" y="49.76" width="7.76" height="5.27" fill="#e8adbb"/>
<rect x="268.12" y="49.76" width="7.76" height="5.27" fill="#ebbec9"/>
<rect x="275.88" y="49.76" width="7.76" height="5.27" fill="#e5a1b2"/>
<rect x="283.64" y="49.76" width="7.76" height="5.27" fill="#e290a4"/>
<rect x="291.40" y="49.76" width="7.76" height="5.27" fill="#e0849a"/>
<rect x="299.16" y="49.76" width="7.76" height="5.27" fill="#f7f7f7"/>
<rect x="306.92" y="49.76" width="7.76" height="5.27" fill="#f1dae0"/>
<rect x="314.68" y="49.76" width="7.76" height="5.27" fill="#ebbec9"/>
<rect x="322.44" y="49.76" width="7.76" height="5.27" fill="#84c6e0"/>
<rect x="330.20" y="49.76" width="7.76" height="5.27" fill="#ecf2f5"/>
<rect x="337.96" y="49.76" width="7.76" height="5.27" fill="#b2daea"/>
<rect x="345.72" y="49.76" width="7.76" height="5.27" fill="#c9e4ee"/>
<rect x="353.48" y="49.76" width="7.76" height="5.27" fill="#bedfec"/>
<rect x="361.24" y="49.76" width="7.76" height="5.27" fill="#b2daea"/>
<rect x="369.00" y="49.76" width="7.76" height="5.27" fill="#ecf2f5"/>
<rect x="376.76" y="49.76" width="7.76" height="5.27" fill="#e6f0f4"/>
<rect x="384.52" y="49.76" width="7.76" height="5.27" fill="#daebf1"/>
<rect x="392.28" y="49.76" width="7.76" height="5.27" fill="#f7f7f7"/>
<rect x="400.04" y="49.76" width="7.76" height="5.27" fill="#68badb"/>
<rect x="407.80" y="49.76" width="7.76" height="5.27" fill="#4baed5"/>
<rect x="415.56" y="49.76" width="7.76" height="5.27" fill="#84c6e0"/>
<rect x="423.32" y="49.76" width="7.76" height="5.27" fill="#a1d3e6"/>
<rect x="431.08" y="49.76" width="7.76" height="5.27" fill="#a1d3e6"/>
<rect x="438.84" y="49.76" width="7.76" height="5.27" fill="#84c6e0"/>
<rect x="446.60" y="49.76" width="7.76" height="5.27" fill="#4baed5"/>
<rect x="454.36" y="49.76" width="7.76" height="5.27" fill="#68badb"/>
<rect x="462.12" y="49.76" width="7.76" height="5.27" fill="#68badb"/>
<rect x="469.88" y="49.76" width="7.76" height="5.27" fill="#68badb"/>
<rect x="477.64" y="49.76" width="7.76" height="5.27" fill="#68badb"/>
<rect x="485.40" y="49.76" width="7.76" height="5.27" fill="#68badb"/>
<rect x="493.16" y="49.76" width="7.76" height="5.27" fill="#4baed5"/>
<rect x="500.92" y="49.76" width="7.76" height="5.27" fill="#68badb"/>
<rect x="508.68" y="49.76" width="7.76" height="5.27" fill="#68badb"/>
<rect x="213.80" y="55.03" width="7.76" height="5.27" fill="#68badb"/>
<rect x="221.56" y="55.03" width="7.76" height="5.27" fill="#84c6e0"/>
<rect x="229.32" y="55.03" width="7.76" height="5.27" fill="#bedfec"/>
<rect x="237.08" y="55.03" width="7.76" height="5.27" fill="#add7e8"/>
<rect x="244.84" y="55.03" width="7.76" height="5.27" fill="#a1d3e6"/>
<rect x="252.60" y="55.03" width="7.76" height="5.27" fill="#a1d3e6"/>
<rect x="260.36" y="55.03" width="7.76" height="5.27" fill="#a1d3e6"/>
<rect x="268.12" y="55.03" width="7.76" height="5.27" fill="#a1d3e6"/>
<rect x="275.88" y="55.03" width="7.76" height="5.27" fill="#e5a1b2"/>
<rect x="283.64" y="55.03" width="7.76" height="5.27" fill="#e290a4"/>
<rect x="291.40" y="55.03" width="7.76" height="5.27" fill="#e5a1b2"/>
<rect x="299.16" y="55.03" width="7.76" height="5.27" fill="#f1dae0"/>
<rect x="306.92" y="55.03" width="7.76" height="5.27" fill="#e9b2c0"/>
<rect x="314.68" y="55.03" width="7.76" height="5.27" fill="#e5a1b2"/>
<rect x="322.44" y="55.03" width="7.76" height="5.27" fill="#68badb"/>
<rect x="330.20" y="55.03" width="7.76" height="5.27" fill="#f7f7f7"/>
<rect x="337.96" y="55.03" width="7.76" height="5.27" fill="#68badb"/>
<rect x="345.72" y="55.03" width="7.76" height="5.27" fill="#f6f1f2"/>
<rect x="353.48" y="55.03" width="7.76" height="5.27" fill="#f6f1f2"/>
<rect x="361.24" y="55.03" width="7.76" height="5.27" fill="#c9e4ee"/>
<rect x="369.00" y="55.03" width="7.76" height="5.27" fill="#c9e4ee"/>
<rect x="376.76" y="55.03" width="7.76" height="5.27" fill="#bedfec"/>
<rect x="384.52" y="55.03" width="7.76" height="5.27" fill="#f7f7f7"/>
<rect x="392.28" y="55.03" width="7.76" height="5.27" fill="#c9e4ee"/>
<rect x="400.04" y="55.03" width="7.76" height="5.27" fill="#84c6e0"/>
<rect x="407.80" y="55.03" width="7.76" height="5.27" fill="#68badb"/>
<rect x="415.56" y="55.03" width="7.76" height="5.27" fill="#bedfec"/>
<rect x="423.32" y="55.03" width="7.76" height="5.27" fill="#f7f7f7"/>
<rect x="431.08" y="55.03" width="7.76" height="5.27" fill="#bedfec"/>
<rect x="438.84" y="55.03" width="7.76" height="5.27" fill="#a1d3e6"/>
<rect x="446.60" y="55.03" width="7.76" height="5.27" fill="#84c6e0"/>
<rect x="454.36" y="55.03" width="7.76" height="5.27" fill="#4baed5"/>
<rect x="462.12" y="55.03" width="7.76" height="5.27" fill="#a1d3e6"/>
<rect x="469.88" y="55.03" width="7.76" height="5.27" fill="#84c6e0"/>
<rect x="477.64" y="55.03" width="7.76" height="5.27" fill="#84c6e0"/>
<rect x="485.40" y="55.03" width="7.76" height="5.27" fill="#84c6e0"/>
<rect x="493.16" y="55.03" width="7.76" height="5.27" fill="#84c6e0"/>
<rect x="500.92" y="55.03" width="7.76" height="5.27" fill="#84c6e0"/>
<rect x="508.68" y="55.03" width="7.76" height="5.27" fill="#84c6e0"/>
<rect x="213.80" y="60.30" width="7.76" height="5.27" fill="#e6f0f4"/>
<rect x="221.56" y="60.30" width="7.76" height="5.27" fill="#d5e8f0"/>
<rect x="229.32" y="60.30" width="7.76" height="5.27" fill="#84c6e0"/>
<rect x="237.08" y="60.30" width="7.76" height="5.27" fill="#68badb"/>
<rect x="244.84" y="60.30" width="7.76" height="5.27" fill="#57b3d8"/>
<rect x="252.60" y="60.30" width="7.76" height="5.27" fill="#e5a1b2"/>
<rect x="260.36" y="60.30" width="7.76" height="5.27" fill="#f1dae0"/>
<rect x="268.12" y="60.30" width="7.76" height="5.27" fill="#f7f7f7"/>
<rect x="275.88" y="60.30" width="7.76" height="5.27" fill="#f7f7f7"/>
<rect x="283.64" y="60.30" width="7.76" height="5.27" fill="#f1dae0"/>
<rect x="291.40" y="60.30" width="7.76" height="5.27" fill="#f5ecee"/>
<rect x="299.16" y="60.30" width="7.76" height="5.27" fill="#f7f7f7"/>
<rect x="306.92" y="60.30" width="7.76" height="5.27" fill="#f3e6e9"/>
<rect x="314.68" y="60.30" width="7.76" height="5.27" fill="#daebf1"/>
<rect x="322.44" y="60.30" width="7.76" height="5.27" fill="#add7e8"/>
<rect x="330.20" y="60.30" width="7.76" height="5.27" fill="#a1d3e6"/>
<rect x="337.96" y="60.30" width="7.76" height="5.27" fill="#84c6e0"/>
<rect x="345.72" y="60.30" width="7.76" height="5.27" fill="#daebf1"/>
<rect x="353.48" y="60.30" width="7.76" height="5.27" fill="#f7f7f7"/>
<rect x="361.24" y="60.30" width="7.76" height="5.27" fill="#add7e8"/>
<rect x="369.00" y="60.30" width="7.76" height="5.27" fill="#c9e4ee"/>
<rect x="376.76" y="60.30" width="7.76" height="5.27" fill="#c9e4ee"/>
<rect x="384.52" y="60.30" width="7.76" height="5.27" fill="#c9e4ee"/>
<rect x="392.28" y="60.30" width="7.76" height="5.27" fill="#c9e4ee"/>
<rect x="400.04" y="60.30" width="7.76" height="5.27" fill="#a1d3e6"/>
<rect x="407.80" y="60.30" width="7.76" height="5.27" fill="#a1d3e6"/>
<rect x="415.56" y="60.30" width="7.76" height="5.27" fill="#bedfec"/>
<rect x="423.32" y="60.30" width="7.76" height="5.27" fill="#daebf1"/>
<rect x="431.08" y="60.30" width="7.76" height="5.27" fill="#c9e4ee"/>
<rect x="438.84" y="60.30" width="7.76" height="5.27" fill="#a1d3e6"/>
<rect x="446.60" y="60.30" width="7.76" height="5.27" fill="#90cbe3"/>
<rect x="454.36" y="60.30" width="7.76" height="5.27" fill="#bedfec"/>
<rect x="462.12" y="60.30" width="7.76" height="5.27" fill="#a1d3e6"/>
<rect x="469.88" y="60.30" width="7.76" height="5.27" fill="#a1d3e6"/>
<rect x="477.64" y="60.30" width="7.76" height="5.27" fill="#a1d3e6"/>
<rect x="485.40" y="60.30" width="7.76" height="5.27" fill="#bedfec"/>
<rect x="493.16" y="60.30" width="7.76" height="5.27" fill="#daebf1"/>
<rect x="500.92" y="60.30" width="7.76" height="5.27" fill="#84c6e0"/>
<rect x="508.68" y="60.30" width="7.76" height="5.27" fill="#84c6e0"/>
<rect x="213.80" y="65.56" width="7.76" height="5.27" fill="#eec9d2"/>
<rect x="221.56" y="65.56" width="7.76" height="5.27" fill="#eec9d2"/>
<rect x="229.32" y="65.56" width="7.76" height="5.27" fill="#ebbec9"/>
<rect x="237.08" y="65.56" width="7.76" height="5.27" fill="#ebbec9"/>
<rect x="244.84" y="65.56" width="7.76" height="5.27" fill="#ebbec9"/>
<rect x="252.60" y="65.56" width="7.76" height="5.27" fill="#e5a1b2"/>
<rect x="260.36" y="65.56" width="7.76" height="5.27" fill="#d44b6c"/>
<rect x="268.12" y="65.56" width="7.76" height="5.27" fill="#e0849a"/>
<rect x="275.88" y="65.56" width="7.76" height="5.27" fill="#c9e4ee"/>
<rect x="283.64" y="65.56" width="7.76" height="5.27" fill="#d5e8f0"/>
<rect x="291.40" y="65.56" width="7.76" height="5.27" fill="#c9e4ee"/>
<rect x="299.16" y="65.56" width="7.76" height="5.27" fill="#f5ecee"/>
<rect x="306.92" y="65.56" width="7.76" height="5.27" fill="#f1dae0"/>
<rect x="314.68" y="65.56" width="7.76" height="5.27" fill="#f3e6e9"/>
<rect x="322.44" y="65.56" width="7.76" height="5.27" fill="#daebf1"/>
<rect x="330.20" y="65.56" width="7.76" height="5.27" fill="#c9e4ee"/>
<rect x="337.96" y="65.56" width="7.76" height="5.27" fill="#b2daea"/>
<rect x="345.72" y="65.56" width="7.76" height="5.27" fill="#ecf2f5"/>
<rect x="353.48" y="65.56" width="7.76" height="5.27" fill="#c9e4ee"/>
<rect x="361.24" y="65.56" width="7.76" height="5.27" fill="#ecf2f5"/>
<rect x="369.00" y="65.56" width="7.76" height="5.27" fill="#b2daea"/>
<rect x="376.76" y="65.56" width="7.76" height="5.27" fill="#f3e6e9"/>
<rect x="384.52" y="65.56" width="7.76" height="5.27" fill="#daebf1"/>
<rect x="392.28" y="65.56" width="7.76" height="5.27" fill="#daebf1"/>
<rect x="400.04" y="65.56" width="7.76" height="5.27" fill="#4baed5"/>
<rect x="407.80" y="65.56" width="7.76" height="5.27" fill="#4baed5"/>
<rect x="415.56" y="65.56" width="7.76" height="5.27" fill="#f7f7f7"/>
<rect x="423.32" y="65.56" width="7.76" height="5.27" fill="#f1dae0"/>
<rect x="431.08" y="65.56" width="7.76" height="5.27" fill="#f7f7f7"/>
<rect x="438.84" y="65.56" width="7.76" height="5.27" fill="#a1d3e6"/>
<rect x="446.60" y="65.56" width="7.76" height="5.27" fill="#a1d3e6"/>
<rect x="454.36" y="65.56" width="7.76" height="5.27" fill="#bedfec"/>
<rect x="462.12" y="65.56" width="7.76" height="5.27" fill="#84c6e0"/>
<rect x="469.88" y="65.56" width="7.76" height="5.27" fill="#84c6e0"/>
<rect x="477.64" y="65.56" width="7.76" height="5.27" fill="#84c6e0"/>
<rect x="485.40" y="65.56" width="7.76" height="5.27" fill="#68badb"/>
<rect x="493.16" y="65.56" width="7.76" height="5.27" fill="#84c6e0"/>
<rect x="500.92" y="65.56" width="7.76" height="5.27" fill="#84c6e0"/>
<rect x="508.68" y="65.56" width="7.76" height="5.27" fill="#84c6e0"/>
<rect x="213.80" y="70.83" width="7.76" height="5.27" fill="#f0d5db"/>
<rect x="221.56" y="70.83" width="7.76" height="5.27" fill="#efcfd7"/>
<rect x="229.32" y="70.83" width="7.76" height="5.27" fill="#e5a1b2"/>
<rect x="237.08" y="70.83" width="7.76" height="5.27" fill="#e9b2c0"/>
<rect x="244.84" y="70.83" width="7.76" height="5.27" fill="#e290a4"/>
<rect x="252.60" y="70.83" width="7.76" height="5.27" fill="#ebbec9"/>
<rect x="260.36" y="70.83" width="7.76" height="5.27" fill="#d44b6c"/>
<rect x="268.12" y="70.83" width="7.76" height="5.27" fill="#e0849a"/>
<rect x="275.88" y="70.83" width="7.76" height="5.27" fill="#c9e4ee"/>
<rect x="283.64" y="70.83" width="7.76" height="5.27" fill="#f7f7f7"/>
<rect x="291.40" y="70.83" width="7.76" height="5.27" fill="#c9e4ee"/>
<rect x="299.16" y="70.83" width="7.76" height="5.27" fill="#f5ecee"/>
<rect x="306.92" y="70.83" width="7.76" height="5.27" fill="#daebf1"/>
<rect x="314.68" y="70.83" width="7.76" height="5.27" fill="#c9e4ee"/>
<rect x="322.44" y="70.83" width="7.76" height="5.27" fill="#e5a1b2"/>
<rect x="330.20" y="70.83" width="7.76" height="5.27" fill="#d5e8f0"/>
<rect x="337.96" y="70.83" width="7.76" height="5.27" fill="#bedfec"/>
<rect x="345.72" y="70.83" width="7.76" height="5.27" fill="#f7f7f7"/>
<rect x="353.48" y="70.83" width="7.76" height="5.27" fill="#daebf1"/>
<rect x="361.24" y="70.83" width="7.76" height="5.27" fill="#c9e4ee"/>
<rect x="369.00" y="70.83" width="7.76" height="5.27" fill="#a1d3e6"/>
<rect x="376.76" y="70.83" width="7.76" height="5.27" fill="#e6f0f4"/>
<rect x="384.52" y="70.83" width="7.76" height="5.27" fill="#90cbe3"/>
<rect x="392.28" y="70.83" width="7.76" height="5.27" fill="#f7f7f7"/>
<rect x="400.04" y="70.83" width="7.76" height="5.27" fill="#4baed5"/>
<rect x="407.80" y="70.83" width="7.76" height="5.27" fill="#4baed5"/>
<rect x="415.56" y="70.83" width="7.76" height="5.27" fill="#daebf1"/>
<rect x="423.32" y="70.83" width="7.76" height="5.27" fill="#daebf1"/>
<rect x="431.08" y="70.83" width="7.76" height="5.27" fill="#a1d3e6"/>
<rect x="438.84" y="70.83" width="7.76" height="5.27" fill="#bedfec"/>
<rect x="446.60" y="70.83" width="7.76" height="5.27" fill="#a1d3e6"/>
<rect x="454.36" y="70.83" width="7.76" height="5.27" fill="#f7f7f7"/>
<rect x="462.12" y="70.83" width="7.76" height="5.27" fill="#a1d3e6"/>
<rect x="469.88" y="70.83" width="7.76" height="5.27" fill="#84c6e0"/>
<rect x="477.64" y="70.83" width="7.76" height="5.27" fill="#84c6e0"/>
<rect x="485.40" y="70.83" width="7.76" height="5.27" fill="#4baed5"/>
<rect x="493.16" y="70.83" width="7.76" height="5.27" fill="#84c6e0"/>
<rect x="500.92" y="70.83" width="7.76" height="5.27" fill="#84c6e0"/>
<rect x="508.68" y="70.83" width="7.76" height="5.27" fill="#84c6e0"/>
<rect x="213.80" y="76.09" width="7.76" height="5.27" fill="#ebbec9"/>
<rect x="221.56" y="76.09" width="7.76" height="5.27" fill="#ebbec9"/>
<rect x="229.32" y="76.09" width="7.76" height="5.27" fill="#e5a1b2"/>
<rect x="237.08" y="76.09" width="7.76" height="5.27" fill="#e9b2c0"/>
<rect x="244.84" y="76.09" width="7.76" height="5.27" fill="#e9b2c0"/>
<rect x="252.60" y="76.09" width="7.76" height="5.27" fill="#e5a1b2"/>
<rect x="260.36" y="76.09" width="7.76" height="5.27" fill="#d44b6c"/>
<rect x="268.12" y="76.09" width="7.76" height="5.27" fill="#e0849a"/>
<rect x="275.88" y="76.09" width="7.76" height="5.27" fill="#c9e4ee"/>
<rect x="283.64" y="76.09" width="7.76" height="5.27" fill="#c9e4ee"/>
<rect x="291.40" y="76.09" width="7.76" height="5.27" fill="#d5e8f0"/>
<rect x="299.16" y="76.09" width="7.76" height="5.27" fill="#f5ecee"/>
<rect x="306.92" y="76.09" width="7.76" height="5.27" fill="#f7f7f7"/>
<rect x="314.68" y="76.09" width="7.76" height="5.27" fill="#daebf1"/>
<rect x="322.44" y="76.09" width="7.76" height="5.27" fill="#f1dae0"/>
<rect x="330.20" y="76.09" width="7.76" height="5.27" fill="#c9e4ee"/>
<rect x="337.96" y="76.09" width="7.76" height="5.27" fill="#bedfec"/>
<rect x="345.72" y="76.09" width="7.76" height="5.27" fill="#daebf1"/>
<rect x="353.48" y="76.09" width="7.76" height="5.27" fill="#c9e4ee"/>
<rect x="361.24" y="76.09" width="7.76" height="5.27" fill="#bedfec"/>
<rect x="369.00" y="76.09" width="7.76" height="5.27" fill="#c9e4ee"/>
<rect x="376.76" y="76.09" width="7.76" height="5.27" fill="#e6f0f4"/>
<rect x="384.52" y="76.09" width="7.76" height="5.27" fill="#daebf1"/>
<rect x="392.28" y="76.09" width="7.76" height="5.27" fill="#e6f0f4"/>
<rect x="400.04" y="76.09" width="7.76" height="5.27" fill="#4baed5"/>
<rect x="407.80" y="76.09" width="7.76" height="5.27" fill="#4baed5"/>
<rect x="415.56" y="76.09" width="7.76" height="5.27" fill="#bedfec"/>
<rect x="423.32" y="76.09" width="7.76" height="5.27" fill="#f7f7f7"/>
<rect x="431.08" y="76.09" width="7.76" height="5.27" fill="#daebf1"/>
<rect x="438.84" y="76.09" width="7.76" height="5.27" fill="#bedfec"/>
<rect x="446.60" y="76.09" width="7.76" height="5.27" fill="#a1d3e6"/>
<rect x="454.36" y="76.09" width="7.76" height="5.27" fill="#f7f7f7"/>
<rect x="462.12" y="76.09" width="7.76" height="5.27" fill="#a1d3e6"/>
<rect x="469.88" y="76.09" width="7.76" height="5.27" fill="#84c6e0"/>
<rect x="477.64" y="76.09" width="7.76" height="5.27" fill="#84c6e0"/>
<rect x="485.40" y="76.09" width="7.76" height="5.27" fill="#84c6e0"/>
<rect x="493.16" y="76.09" width="7.76" height="5.27" fill="#84c6e0"/>
<rect x="500.92" y="76.09" width="7.76" height="5.27" fill="#a1d3e6"/>
<rect x="508.68" y="76.09" width="7.76" height="5.27" fill="#84c6e0"/>
<rect x="213.80" y="81.36" width="7.76" height="5.27" fill="#ebbec9"/>
<rect x="221.56" y="81.36" width="7.76" height="5.27" fill="#ebbec9"/>
<rect x="229.32" y="81.36" width="7.76" height="5.27" fill="#e5a1b2"/>
<rect x="237.08" y="81.36" width="7.76" height="5.27" fill="#e9b2c0"/>
<rect x="244.84" y="81.36" width="7.76" height="5.27" fill="#e9b2c0"/>
<rect x="252.60" y="81.36" width="7.76" height="5.27" fill="#e5a1b2"/>
<rect x="260.36" y="81.36" width="7.76" height="5.27" fill="#d44b6c"/>
<rect x="268.12" y="81.36" width="7.76" height="5.27" fill="#e0849a"/>
<rect x="275.88" y="81.36" width="7.76" height="5.27" fill="#b2daea"/>
<rect x="283.64" y="81.36" width="7.76" height="5.27" fill="#bedfec"/>
<rect x="291.40" y="81.36" width="7.76" height="5.27" fill="#b2daea"/>
<rect x="299.16" y="81.36" width="7.76" height="5.27" fill="#f1dae0"/>
<rect x="306.92" y="81.36" width="7.76" height="5.27" fill="#e6f0f4"/>
<rect x="314.68" y="81.36" width="7.76" height="5.27" fill="#daebf1"/>
<rect x="322.44" y="81.36" width="7.76" height="5.27" fill="#f3e6e9"/>
<rect x="330.20" y="81.36" width="7.76" height="5.27" fill="#b2daea"/>
<rect x="337.96" y="81.36" width="7.76" height="5.27" fill="#add7e8"/>
<rect x="345.72" y="81.36" width="7.76" height="5.27" fill="#c9e4ee"/>
<rect x="353.48" y="81.36" width="7.76" height="5.27" fill="#add7e8"/>
<rect x="361.24" y="81.36" width="7.76" height="5.27" fill="#b2daea"/>
<rect x="369.00" y="81.36" width="7.76" height="5.27" fill="#c9e4ee"/>
<rect x="376.76" y="81.36" width="7.76" height="5.27" fill="#daebf1"/>
<rect x="384.52" y="81.36" width="7.76" height="5.27" fill="#bedfec"/>
<rect x="392.28" y="81.36" width="7.76" height="5.27" fill="#e6f0f4"/>
<rect x="400.04" y="81.36" width="7.76" height="5.27" fill="#4baed5"/>
<rect x="407.80" y="81.36" width="7.76" height="5.27" fill="#4baed5"/>
<rect x="415.56" y="81.36" width="7.76" height="5.27" fill="#c9e4ee"/>
<rect x="423.32" y="81.36" width="7.76" height="5.27" fill="#bedfec"/>
<rect x="431.08" y="81.36" width="7.76" height="5.27" fill="#f7f7f7"/>
<rect x="438.84" y="81.36" width="7.76" height="5.27" fill="#bedfec"/>
<rect x="446.60" y="81.36" width="7.76" height="5.27" fill="#a1d3e6"/>
<rect x="454.36" y="81.36" width="7.76" height="5.27" fill="#f7f7f7"/>
<rect x="462.12" y="81.36" width="7.76" height="5.27" fill="#a1d3e6"/>
<rect x="469.88" y="81.36" width="7.76" height="5.27" fill="#84c6e0"/>
<rect x="477.64" y="81.36" width="7.76" height="5.27" fill="#84c6e0"/>
<rect x="485.40" y="81.36" width="7.76" height="5.27" fill="#68badb"/>
<rect x="493.16" y="81.36" width="7.76" height="5.27" fill="#84c6e0"/>
<rect x="500.92" y="81.36" width="7.76" height="5.27" fill="#a1d3e6"/>
<rect x="508.68" y="81.36" width="7.76" height="5.27" fill="#84c6e0"/>
<rect x="213.80" y="86.63" width="7.76" height="5.27" fill="#f7f7f7"/>
<rect x="221.56" y="86.63" width="7.76" height="5.27" fill="#f7f7f7"/>
<rect x="229.32" y="86.63" width="7.76" height="5.27" fill="#f7f7f7"/>
<rect x="237.08" y="86.63" width="7.76" height="5.27" fill="#c9e4ee"/>
<rect x="244.84" y="86.63" width="7.76" height="5.27" fill="#daebf1"/>
<rect x="252.60" y="86.63" width="7.76" height="5.27" fill="#f3e6e9"/>
<rect x="260.36" y="86.63" width="7.76" height="5.27" fill="#e5a1b2"/>
<rect x="268.12" y="86.63" width="7.76" height="5.27" fill="#f3e6e9"/>
<rect x="275.88" y="86.63" width="7.76" height="5.27" fill="#bedfec"/>
<rect x="283.64" y="86.63" width="7.76" height="5.27" fill="#bedfec"/>
<rect x="291.40" y="86.63" width="7.76" height="5.27" fill="#c9e4ee"/>
<rect x="299.16" y="86.63" width="7.76" height="5.27" fill="#f7f7f7"/>
<rect x="306.92" y="86.63" width="7.76" height="5.27" fill="#f7f7f7"/>
<rect x="314.68" y="86.63" width="7.76" height="5.27" fill="#daebf1"/>
<rect x="322.44" y="86.63" width="7.76" height="5.27" fill="#add7e8"/>
<rect x="330.20" y="86.63" width="7.76" height="5.27" fill="#b2daea"/>
<rect x="337.96" y="86.63" width="7.76" height="5.27" fill="#a1d3e6"/>
<rect x="345.72" y="86.63" width="7.76" height="5.27" fill="#c9e4ee"/>
<rect x="353.48" y="86.63" width="7.76" height="5.27" fill="#b2daea"/>
<rect x="361.24" y="86.63" width="7.76" height="5.27" fill="#a1d3e6"/>
<rect x="369.00" y="86.63" width="7.76" height="5.27" fill="#c9e4ee"/>
<rect x="376.76" y="86.63" width="7.76" height="5.27" fill="#f7f7f7"/>
<rect x="384.52" y="86.63" width="7.76" height="5.27" fill="#c9e4ee"/>
<rect x="392.28" y="86.63" width="7.76" height="5.27" fill="#daebf1"/>
<rect x="400.04" y="86.63" width="7.76" height="5.27" fill="#84c6e0"/>
<rect x="407.80" y="86.63" width="7.76" height="5.27" fill="#68badb"/>
<rect x="415.56" y="86.63" width="7.76" height="5.27" fill="#bedfec"/>
<rect x="423.32" y="86.63" width="7.76" height="5.27" fill="#f7f7f7"/>
<rect x="431.08" y="86.63" width="7.76" height="5.27" fill="#e6f0f4"/>
<rect x="438.84" y="86.63" width="7.76" height="5.27" fill="#f7f7f7"/>
<rect x="446.60" y="86.63" width="7.76" height="5.27" fill="#bedfec"/>
<rect x="454.36" y="86.63" width="7.76" height="5.27" fill="#f7f7f7"/>
<rect x="462.12" y="86.63" width="7.76" height="5.27" fill="#b2daea"/>
<rect x="469.88" y="86.63" width="7.76" height="5.27" fill="#b2daea"/>
<rect x="477.64" y="86.63" width="7.76" height="5.27" fill="#a1d3e6"/>
<rect x="485.40" y="86.63" width="7.76" height="5.27" fill="#84c6e0"/>
<rect x="493.16" y="86.63" width="7.76" height="5.27" fill="#a1d3e6"/>
<rect x="500.92" y="86.63" width="7.76" height="5.27" fill="#84c6e0"/>
<rect x="508.68" y="86.63" width="7.76" height="5.27" fill="#a1d3e6"/>
<rect x="213.80" y="91.89" width="7.76" height="5.27" fill="#f7f7f7"/>
<rect x="221.56" y="91.89" width="7.76" height="5.27" fill="#e5a1b2"/>
<rect x="229.32" y="91.89" width="7.76" height="5.27" fill="#e6f0f4"/>
<rect x="237.08" y="91.89" width="7.76" height="5.27" fill="#f7f7f7"/>
<rect x="244.84" y="91.89" width="7.76" height="5.27" fill="#e6f0f4"/>
<rect x="252.60" y="91.89" width="7.76" height="5.27" fill="#f1dae0"/>
<rect x="260.36" y="91.89" width="7.76" height="5.27" fill="#da6883"/>
<rect x="268.12" y="91.89" width="7.76" height="5.27" fill="#e0849a"/>
<rect x="275.88" y="91.89" width="7.76" height="5.27" fill="#f5ecee"/>
<rect x="283.64" y="91.89" width="7.76" height="5.27" fill="#f5ecee"/>
<rect x="291.40" y="91.89" width="7.76" height="5.27" fill="#f3e6e9"/>
<rect x="299.16" y="91.89" width="7.76" height="5.27" fill="#f1dae0"/>
<rect x="306.92" y="91.89" width="7.76" height="5.27" fill="#f7f7f7"/>
<rect x="314.68" y="91.89" width="7.76" height="5.27" fill="#f3e6e9"/>
<rect x="322.44" y="91.89" width="7.76" height="5.27" fill="#f7f7f7"/>
<rect x="330.20" y="91.89" width="7.76" height="5.27" fill="#4baed5"/>
<rect x="337.96" y="91.89" width="7.76" height="5.27" fill="#4baed5"/>
<rect x="345.72" y="91.89" width="7.76" height="5.27" fill="#b2daea"/>
<rect x="353.48" y="91.89" width="7.76" height="5.27" fill="#b2daea"/>
<rect x="361.24" y="91.89" width="7.76" height="5.27" fill="#bedfec"/>
<rect x="369.00" y="91.89" width="7.76" height="5.27" fill="#daebf1"/>
<rect x="376.76" y="91.89" width="7.76" height="5.27" fill="#bedfec"/>
<rect x="384.52" y="91.89" width="7.76" height="5.27" fill="#a1d3e6"/>
<rect x="392.28" y="91.89" width="7.76" height="5.27" fill="#bedfec"/>
<rect x="400.04" y="91.89" width="7.76" height="5.27" fill="#68badb"/>
<rect x="407.80" y="91.89" width="7.76" height="5.27" fill="#2fa2d0"/>
<rect x="415.56" y="91.89" width="7.76" height="5.27" fill="#a1d3e6"/>
<rect x="423.32" y="91.89" width="7.76" height="5.27" fill="#a1d3e6"/>
<rect x="431.08" y="91.89" width="7.76" height="5.27" fill="#c9e4ee"/>
<rect x="438.84" y="91.89" width="7.76" height="5.27" fill="#ebbec9"/>
<rect x="446.60" y="91.89" width="7.76" height="5.27" fill="#c9e4ee"/>
<rect x="454.36" y="91.89" width="7.76" height="5.27" fill="#f1dae0"/>
<rect x="462.12" y="91.89" width="7.76" height="5.27" fill="#b2daea"/>
<rect x="469.88" y="91.89" width="7.76" height="5.27" fill="#a1d3e6"/>
<rect x="477.64" y="91.89" width="7.76" height="5.27" fill="#a1d3e6"/>
<rect x="485.40" y="91.89" width="7.76" height="5.27" fill="#84c6e0"/>
<rect x="493.16" y="91.89" width="7.76" height="5.27" fill="#a1d3e6"/>
<rect x="500.92" y="91.89" width="7.76" height="5.27" fill="#84c6e0"/>
<rect x="508.68" y="91.89" width="7.76" height="5.27" fill="#a1d3e6"/>
<rect x="213.80" y="97.16" width="7.76" height="5.27" fill="#f1dae0"/>
<rect x="221.56" y="97.16" width="7.76" height="5.27" fill="#e9b2c0"/>
<rect x="229.32" y="97.16" width="7.76" height="5.27" fill="#f1dae0"/>
<rect x="237.08" y="97.16" width="7.76" height="5.27" fill="#f1dae0"/>
<rect x="244.84" y="97.16" width="7.76" height="5.27" fill="#f1dae0"/>
<rect x="252.60" y="97.16" width="7.76" height="5.27" fill="#e9b2c0"/>
<rect x="260.36" y="97.16" width="7.76" height="5.27" fill="#d65776"/>
<rect x="268.12" y="97.16" width="7.76" height="5.27" fill="#dd7991"/>
<rect x="275.88" y="97.16" width="7.76" height="5.27" fill="#f7f7f7"/>
<rect x="283.64" y="97.16" width="7.76" height="5.27" fill="#f7f7f7"/>
<rect x="291.40" y="97.16" width="7.76" height="5.27" fill="#f7f7f7"/>
<rect x="299.16" y="97.16" width="7.76" height="5.27" fill="#eec9d2"/>
<rect x="306.92" y="97.16" width="7.76" height="5.27" fill="#c9e4ee"/>
<rect x="314.68" y="97.16" width="7.76" height="5.27" fill="#c9e4ee"/>
<rect x="322.44" y="97.16" width="7.76" height="5.27" fill="#e9b2c0"/>
<rect x="330.20" y="97.16" width="7.76" height="5.27" fill="#79c2de"/>
<rect x="337.96" y="97.16" width="7.76" height="5.27" fill="#68badb"/>
<rect x="345.72" y="97.16" width="7.76" height="5.27" fill="#b2daea"/>
<rect x="353.48" y="97.16" width="7.76" height="5.27" fill="#90cbe3"/>
<rect x="361.24" y="97.16" width="7.76" height="5.27" fill="#a1d3e6"/>
<rect x="369.00" y="97.16" width="7.76" height="5.27" fill="#c9e4ee"/>
<rect x="376.76" y="97.16" width="7.76" height="5.27" fill="#bedfec"/>
<rect x="384.52" y="97.16" width="7.76" height="5.27" fill="#a1d3e6"/>
<rect x="392.28" y="97.16" width="7.76" height="5.27" fill="#f3e6e9"/>
<rect x="400.04" y="97.16" width="7.76" height="5.27" fill="#84c6e0"/>
<rect x="407.80" y="97.16" width="7.76" height="5.27" fill="#4baed5"/>
<rect x="415.56" y="97.16" width="7.76" height="5.27" fill="#c9e4ee"/>
<rect x="423.32" y="97.16" width="7.76" height="5.27" fill="#b2daea"/>
<rect x="431.08" y="97.16" width="7.76" height="5.27" fill="#bedfec"/>
<rect x="438.84" y="97.16" width="7.76" height="5.27" fill="#f1dae0"/>
<rect x="446.60" y="97.16" width="7.76" height="5.27" fill="#b2daea"/>
<rect x="454.36" y="97.16" width="7.76" height="5.27" fill="#f1dae0"/>
<rect x="462.12" y="97.16" width="7.76" height="5.27" fill="#bedfec"/>
<rect x="469.88" y="97.16" width="7.76" height="5.27" fill="#a1d3e6"/>
<rect x="477.64" y="97.16" width="7.76" height="5.27" fill="#a1d3e6"/>
<rect x="485.40" y="97.16" width="7.76" height="5.27" fill="#84c6e0"/>
<rect x="493.16" y="97.16" width="7.76" height="5.27" fill="#a1d3e6"/>
<rect x="500.92" y="97.16" width="7.76" height="5.27" fill="#a1d3e6"/>
<rect x="508.68" y="97.16" width="7.76" height="5.27" fill="#a1d3e6"/>
<rect x="213.80" y="102.42" width="7.76" height="5.27" fill="#e290a4"/>
<rect x="221.56" y="102.42" width="7.76" height="5.27" fill="#ebbec9"/>
<rect x="229.32" y="102.42" width="7.76" height="5.27" fill="#e9b2c0"/>
<rect x="237.08" y="102.42" width="7.76" height="5.27" fill="#e9b2c0"/>
<rect x="244.84" y="102.42" width="7.76" height="5.27" fill="#ebbec9"/>
<rect x="252.60" y="102.42" width="7.76" height="5.27" fill="#daebf1"/>
<rect x="260.36" y="102.42" width="7.76" height="5.27" fill="#da6883"/>
<rect x="268.12" y="102.42" width="7.76" height="5.27" fill="#e5a1b2"/>
<rect x="275.88" y="102.42" width="7.76" height="5.27" fill="#a1d3e6"/>
<rect x="283.64" y="102.42" width="7.76" height="5.27" fill="#90cbe3"/>
<rect x="291.40" y="102.42" width="7.76" height="5.27" fill="#b2daea"/>
<rect x="299.16" y="102.42" width="7.76" height="5.27" fill="#e6f0f4"/>
<rect x="306.92" y="102.42" width="7.76" height="5.27" fill="#e6f0f4"/>
<rect x="314.68" y="102.42" width="7.76" height="5.27" fill="#daebf1"/>
<rect x="322.44" y="102.42" width="7.76" height="5.27" fill="#da6883"/>
<rect x="330.20" y="102.42" width="7.76" height="5.27" fill="#e0849a"/>
<rect x="337.96" y="102.42" width="7.76" height="5.27" fill="#e6f0f4"/>
<rect x="345.72" y="102.42" width="7.76" height="5.27" fill="#a1d3e6"/>
<rect x="353.48" y="102.42" width="7.76" height="5.27" fill="#90cbe3"/>
<rect x="361.24" y="102.42" width="7.76" height="5.27" fill="#79c2de"/>
<rect x="369.00" y="102.42" width="7.76" height="5.27" fill="#a1d3e6"/>
<rect x="376.76" y="102.42" width="7.76" height="5.27" fill="#e5a1b2"/>
<rect x="384.52" y="102.42" width="7.76" height="5.27" fill="#f7f7f7"/>
<rect x="392.28" y="102.42" width="7.76" height="5.27" fill="#e5a1b2"/>
<rect x="400.04" y="102.42" width="7.76" height="5.27" fill="#bedfec"/>
<rect x="407.80" y="102.42" width="7.76" height="5.27" fill="#84c6e0"/>
<rect x="415.56" y="102.42" width="7.76" height="5.27" fill="#f1dae0"/>
<rect x="423.32" y="102.42" width="7.76" height="5.27" fill="#a1d3e6"/>
<rect x="431.08" y="102.42" width="7.76" height="5.27" fill="#e290a4"/>
<rect x="438.84" y="102.42" width="7.76" height="5.27" fill="#c9e4ee"/>
<rect x="446.60" y="102.42" width="7.76" height="5.27" fill="#b2daea"/>
<rect x="454.36" y="102.42" width="7.76" height="5.27" fill="#e6f0f4"/>
<rect x="462.12" y="102.42" width="7.76" height="5.27" fill="#68badb"/>
<rect x="469.88" y="102.42" width="7.76" height="5.27" fill="#4baed5"/>
<rect x="477.64" y="102.42" width="7.76" height="5.27" fill="#68badb"/>
<rect x="485.40" y="102.42" width="7.76" height="5.27" fill="#84c6e0"/>
<rect x="493.16" y="102.42" width="7.76" height="5.27" fill="#68badb"/>
<rect x="500.92" y="102.42" width="7.76" height="5.27" fill="#daebf1"/>
<rect x="508.68" y="102.42" width="7.76" height="5.27" fill="#daebf1"/>
<rect x="213.80" y="107.69" width="7.76" height="5.27" fill="#e5a1b2"/>
<rect x="221.56" y="107.69" width="7.76" height="5.27" fill="#eec9d2"/>
<rect x="229.32" y="107.69" width="7.76" height="5.27" fill="#eec9d2"/>
<rect x="237.08" y="107.69" width="7.76" height="5.27" fill="#f1dae0"/>
<rect x="244.84" y="107.69" width="7.76" height="5.27" fill="#e9b2c0"/>
<rect x="252.60" y="107.69" width="7.76" height="5.27" fill="#b2daea"/>
<rect x="260.36" y="107.69" width="7.76" height="5.27" fill="#f1dae0"/>
<rect x="268.12" y="107.69" width="7.76" height="5.27" fill="#f1dae0"/>
<rect x="275.88" y="107.69" width="7.76" height="5.27" fill="#a1d3e6"/>
<rect x="283.64" y="107.69" width="7.76" height="5.27" fill="#a1d3e6"/>
<rect x="291.40" y="107.69" width="7.76" height="5.27" fill="#a1d3e6"/>
<rect x="299.16" y="107.69" width="7.76" height="5.27" fill="#57b3d8"/>
<rect x="306.92" y="107.69" width="7.76" height="5.27" fill="#90cbe3"/>
<rect x="314.68" y="107.69" width="7.76" height="5.27" fill="#90cbe3"/>
<rect x="322.44" y="107.69" width="7.76" height="5.27" fill="#e9b2c0"/>
<rect x="330.20" y="107.69" width="7.76" height="5.27" fill="#e0849a"/>
<rect x="337.96" y="107.69" width="7.76" height="5.27" fill="#ebbec9"/>
<rect x="345.72" y="107.69" width="7.76" height="5.27" fill="#f7f7f7"/>
<rect x="353.48" y="107.69" width="7.76" height="5.27" fill="#bedfec"/>
<rect x="361.24" y="107.69" width="7.76" height="5.27" fill="#bedfec"/>
<rect x="369.00" y="107.69" width="7.76" height="5.27" fill="#b2daea"/>
<rect x="376.76" y="107.69" width="7.76" height="5.27" fill="#f1dae0"/>
<rect x="384.52" y="107.69" width="7.76" height="5.27" fill="#f7f7f7"/>
<rect x="392.28" y="107.69" width="7.76" height="5.27" fill="#bedfec"/>
<rect x="400.04" y="107.69" width="7.76" height="5.27" fill="#84c6e0"/>
<rect x="407.80" y="107.69" width="7.76" height="5.27" fill="#68badb"/>
<rect x="415.56" y="107.69" width="7.76" height="5.27" fill="#e9b2c0"/>
<rect x="423.32" y="107.69" width="7.76" height="5.27" fill="#c9e4ee"/>
<rect x="431.08" y="107.69" width="7.76" height="5.27" fill="#ebbec9"/>
<rect x="438.84" y="107.69" width="7.76" height="5.27" fill="#f7f7f7"/>
<rect x="446.60" y="107.69" width="7.76" height="5.27" fill="#a1d3e6"/>
<rect x="454.36" y="107.69" width="7.76" height="5.27" fill="#f7f7f7"/>
<rect x="462.12" y="107.69" width="7.76" height="5.27" fill="#a1d3e6"/>
<rect x="469.88" y="107.69" width="7.76" height="5.27" fill="#a1d3e6"/>
<rect x="477.64" y="107.69" width="7.76" height="5.27" fill="#a1d3e6"/>
<rect x="485.40" y="107.69" width="7.76" height="5.27" fill="#68badb"/>
<rect x="493.16" y="107.69" width="7.76" height="5.27" fill="#a1d3e6"/>
<rect x="500.92" y="107.69" width="7.76" height="5.27" fill="#90cbe3"/>
<rect x="508.68" y="107.69" width="7.76" height="5.27" fill="#90cbe3"/>
<rect x="213.80" y="112.96" width="7.76" height="5.27" fill="#e5a1b2"/>
<rect x="221.56" y="112.96" width="7.76" height="5.27" fill="#eec9d2"/>
<rect x="229.32" y="112.96" width="7.76" height="5.27" fill="#e5a1b2"/>
<rect x="237.08" y="112.96" width="7.76" height="5.27" fill="#e5a1b2"/>
<rect x="244.84" y="112.96" width="7.76" height="5.27" fill="#e5a1b2"/>
<rect x="252.60" y="112.96" width="7.76" height="5.27" fill="#e6f0f4"/>
<rect x="260.36" y="112.96" width="7.76" height="5.27" fill="#e5a1b2"/>
<rect x="268.12" y="112.96" width="7.76" height="5.27" fill="#ebbec9"/>
<rect x="275.88" y="112.96" width="7.76" height="5.27" fill="#b2daea"/>
<rect x="283.64" y="112.96" width="7.76" height="5.27" fill="#b2daea"/>
<rect x="291.40" y="112.96" width="7.76" height="5.27" fill="#b2daea"/>
<rect x="299.16" y="112.96" width="7.76" height="5.27" fill="#c9e4ee"/>
<rect x="306.92" y="112.96" width="7.76" height="5.27" fill="#b2daea"/>
<rect x="314.68" y="112.96" width="7.76" height="5.27" fill="#b2daea"/>
<rect x="322.44" y="112.96" width="7.76" height="5.27" fill="#ebbec9"/>
<rect x="330.20" y="112.96" width="7.76" height="5.27" fill="#b2daea"/>
<rect x="337.96" y="112.96" width="7.76" height="5.27" fill="#a1d3e6"/>
<rect x="345.72" y="112.96" width="7.76" height="5.27" fill="#b2daea"/>
<rect x="353.48" y="112.96" width="7.76" height="5.27" fill="#bedfec"/>
<rect x="361.24" y="112.96" width="7.76" height="5.27" fill="#b2daea"/>
<rect x="369.00" y="112.96" width="7.76" height="5.27" fill="#bedfec"/>
<rect x="376.76" y="112.96" width="7.76" height="5.27" fill="#bedfec"/>
<rect x="384.52" y="112.96" width="7.76" height="5.27" fill="#b2daea"/>
<rect x="392.28" y="112.96" width="7.76" height="5.27" fill="#c9e4ee"/>
<rect x="400.04" y="112.96" width="7.76" height="5.27" fill="#84c6e0"/>
<rect x="407.80" y="112.96" width="7.76" height="5.27" fill="#68badb"/>
<rect x="415.56" y="112.96" width="7.76" height="5.27" fill="#c9e4ee"/>
<rect x="423.32" y="112.96" width="7.76" height="5.27" fill="#a1d3e6"/>
<rect x="431.08" y="112.96" width="7.76" height="5.27" fill="#c9e4ee"/>
<rect x="438.84" y="112.96" width="7.76" height="5.27" fill="#ebbec9"/>
<rect x="446.60" y="112.96" width="7.76" height="5.27" fill="#f7f7f7"/>
<rect x="454.36" y="112.96" width="7.76" height="5.27" fill="#e9b2c0"/>
<rect x="462.12" y="112.96" width="7.76" height="5.27" fill="#a1d3e6"/>
<rect x="469.88" y="112.96" width="7.76" height="5.27" fill="#a1d3e6"/>
<rect x="477.64" y="112.96" width="7.76" height="5.27" fill="#a1d3e6"/>
<rect x="485.40" y="112.96" width="7.76" height="5.27" fill="#68badb"/>
<rect x="493.16" y="112.96" width="7.76" height="5.27" fill="#84c6e0"/>
<rect x="500.92" y="112.96" width="7.76" height="5.27" fill="#c9e4ee"/>
<rect x="508.68" y="112.96" width="7.76" height="5.27" fill="#84c6e0"/>
<rect x="213.80" y="118.22" width="7.76" height="5.27" fill="#da6883"/>
<rect x="221.56" y="118.22" width="7.76" height="5.27" fill="#90cbe3"/>
<rect x="229.32" y="118.22" width="7.76" height="5.27" fill="#d44b6c"/>
<rect x="237.08" y="118.22" width="7.76" height="5.27" fill="#d44b6c"/>
<rect x="244.84" y="118.22" width="7.76" height="5.27" fill="#d65776"/>
<rect x="252.60" y="118.22" width="7.76" height="5.27" fill="#ce2f55"/>
<rect x="260.36" y="118.22" width="7.76" height="5.27" fill="#c8123e"/>
<rect x="268.12" y="118.22" width="7.76" height="5.27" fill="#da6883"/>
<rect x="275.88" y="118.22" width="7.76" height="5.27" fill="#2fa2d0"/>
<rect x="283.64" y="118.22" width="7.76" height="5.27" fill="#2fa2d0"/>
<rect x="291.40" y="118.22" width="7.76" height="5.27" fill="#2fa2d0"/>
<rect x="299.16" y="118.22" width="7.76" height="5.27" fill="#2fa2d0"/>
<rect x="306.92" y="118.22" width="7.76" height="5.27" fill="#4baed5"/>
<rect x="314.68" y="118.22" width="7.76" height="5.27" fill="#4baed5"/>
<rect x="322.44" y="118.22" width="7.76" height="5.27" fill="#4baed5"/>
<rect x="330.20" y="118.22" width="7.76" height="5.27" fill="#f7f7f7"/>
<rect x="337.96" y="118.22" width="7.76" height="5.27" fill="#84c6e0"/>
<rect x="345.72" y="118.22" width="7.76" height="5.27" fill="#bedfec"/>
<rect x="353.48" y="118.22" width="7.76" height="5.27" fill="#daebf1"/>
<rect x="361.24" y="118.22" width="7.76" height="5.27" fill="#90cbe3"/>
<rect x="369.00" y="118.22" width="7.76" height="5.27" fill="#84c6e0"/>
<rect x="376.76" y="118.22" width="7.76" height="5.27" fill="#c9e4ee"/>
<rect x="384.52" y="118.22" width="7.76" height="5.27" fill="#1296ca"/>
<rect x="392.28" y="118.22" width="7.76" height="5.27" fill="#1296ca"/>
<rect x="400.04" y="118.22" width="7.76" height="5.27" fill="#1296ca"/>
<rect x="407.80" y="118.22" width="7.76" height="5.27" fill="#2fa2d0"/>
<rect x="415.56" y="118.22" width="7.76" height="5.27" fill="#da6883"/>
<rect x="423.32" y="118.22" width="7.76" height="5.27" fill="#eec9d2"/>
<rect x="431.08" y="118.22" width="7.76" height="5.27" fill="#e5a1b2"/>
<rect x="438.84" y="118.22" width="7.76" height="5.27" fill="#daebf1"/>
<rect x="446.60" y="118.22" width="7.76" height="5.27" fill="#eec9d2"/>
<rect x="454.36" y="118.22" width="7.76" height="5.27" fill="#da6883"/>
<rect x="462.12" y="118.22" width="7.76" height="5.27" fill="#c8123e"/>
<rect x="469.88" y="118.22" width="7.76" height="5.27" fill="#ce2f55"/>
<rect x="477.64" y="118.22" width="7.76" height="5.27" fill="#ce2f55"/>
<rect x="485.40" y="118.22" width="7.76" height="5.27" fill="#a1d3e6"/>
<rect x="493.16" y="118.22" width="7.76" height="5.27" fill="#ebbec9"/>
<rect x="500.92" y="118.22" width="7.76" height="5.27" fill="#a1d3e6"/>
<rect x="508.68" y="118.22" width="7.76" height="5.27" fill="#e5a1b2"/>
<rect x="213.80" y="123.49" width="7.76" height="5.27" fill="#ebbec9"/>
<rect x="221.56" y="123.49" width="7.76" height="5.27" fill="#f3e6e9"/>
<rect x="229.32" y="123.49" width="7.76" height="5.27" fill="#57b3d8"/>
<rect x="237.08" y="123.49" width="7.76" height="5.27" fill="#68badb"/>
<rect x="244.84" y="123.49" width="7.76" height="5.27" fill="#57b3d8"/>
<rect x="252.60" y="123.49" width="7.76" height="5.27" fill="#68badb"/>
<rect x="260.36" y="123.49" width="7.76" height="5.27" fill="#57b3d8"/>
<rect x="268.12" y="123.49" width="7.76" height="5.27" fill="#68badb"/>
<rect x="275.88" y="123.49" width="7.76" height="5.27" fill="#2fa2d0"/>
<rect x="283.64" y="123.49" width="7.76" height="5.27" fill="#2fa2d0"/>
<rect x="291.40" y="123.49" width="7.76" height="5.27" fill="#2fa2d0"/>
<rect x="299.16" y="123.49" width="7.76" height="5.27" fill="#1d9bcc"/>
<rect x="306.92" y="123.49" width="7.76" height="5.27" fill="#2fa2d0"/>
<rect x="314.68" y="123.49" width="7.76" height="5.27" fill="#2fa2d0"/>
<rect x="322.44" y="123.49" width="7.76" height="5.27" fill="#bedfec"/>
<rect x="330.20" y="123.49" width="7.76" height="5.27" fill="#e6f0f4"/>
<rect x="337.96" y="123.49" width="7.76" height="5.27" fill="#f3e6e9"/>
<rect x="345.72" y="123.49" width="7.76" height="5.27" fill="#e5a1b2"/>
<rect x="353.48" y="123.49" width="7.76" height="5.27" fill="#a1d3e6"/>
<rect x="361.24" y="123.49" width="7.76" height="5.27" fill="#f7f7f7"/>
<rect x="369.00" y="123.49" width="7.76" height="5.27" fill="#f7f7f7"/>
<rect x="376.76" y="123.49" width="7.76" height="5.27" fill="#c9e4ee"/>
<rect x="384.52" y="123.49" width="7.76" height="5.27" fill="#e0849a"/>
<rect x="392.28" y="123.49" width="7.76" height="5.27" fill="#a1d3e6"/>
<rect x="400.04" y="123.49" width="7.76" height="5.27" fill="#a1d3e6"/>
<rect x="407.80" y="123.49" width="7.76" height="5.27" fill="#e6f0f4"/>
<rect x="415.56" y="123.49" width="7.76" height="5.27" fill="#e5a1b2"/>
<rect x="423.32" y="123.49" width="7.76" height="5.27" fill="#f1dae0"/>
<rect x="431.08" y="123.49" width="7.76" height="5.27" fill="#e5a1b2"/>
<rect x="438.84" y="123.49" width="7.76" height="5.27" fill="#e0849a"/>
<rect x="446.60" y="123.49" width="7.76" height="5.27" fill="#da6883"/>
<rect x="454.36" y="123.49" width="7.76" height="5.27" fill="#d44b6c"/>
<rect x="462.12" y="123.49" width="7.76" height="5.27" fill="#dd7991"/>
<rect x="469.88" y="123.49" width="7.76" height="5.27" fill="#e0849a"/>
<rect x="477.64" y="123.49" width="7.76" height="5.27" fill="#e0849a"/>
<rect x="485.40" y="123.49" width="7.76" height="5.27" fill="#e290a4"/>
<rect x="493.16" y="123.49" width="7.76" height="5.27" fill="#c9e4ee"/>
<rect x="500.92" y="123.49" width="7.76" height="5.27" fill="#ebbec9"/>
<rect x="508.68" y="123.49" width="7.76" height="5.27" fill="#a1d3e6"/>
<rect x="213.80" y="128.75" width="7.76" height="5.27" fill="#40a9d3"/>
<rect x="221.56" y="128.75" width="7.76" height="5.27" fill="#57b3d8"/>
<rect x="229.32" y="128.75" width="7.76" height="5.27" fill="#68badb"/>
<rect x="237.08" y="128.75" width="7.76" height="5.27" fill="#57b3d8"/>
<rect x="244.84" y="128.75" width="7.76" height="5.27" fill="#79c2de"/>
<rect x="252.60" y="128.75" width="7.76" height="5.27" fill="#ebbec9"/>
<rect x="260.36" y="128.75" width="7.76" height="5.27" fill="#c9e4ee"/>
<rect x="268.12" y="128.75" width="7.76" height="5.27" fill="#f5ecee"/>
<rect x="275.88" y="128.75" width="7.76" height="5.27" fill="#daebf1"/>
<rect x="283.64" y="128.75" width="7.76" height="5.27" fill="#daebf1"/>
<rect x="291.40" y="128.75" width="7.76" height="5.27" fill="#daebf1"/>
<rect x="299.16" y="128.75" width="7.76" height="5.27" fill="#ebbec9"/>
<rect x="306.92" y="128.75" width="7.76" height="5.27" fill="#eec9d2"/>
<rect x="314.68" y="128.75" width="7.76" height="5.27" fill="#eec9d2"/>
<rect x="322.44" y="128.75" width="7.76" height="5.27" fill="#4baed5"/>
<rect x="330.20" y="128.75" width="7.76" height="5.27" fill="#2fa2d0"/>
<rect x="337.96" y="128.75" width="7.76" height="5.27" fill="#2fa2d0"/>
<rect x="345.72" y="128.75" width="7.76" height="5.27" fill="#84c6e0"/>
<rect x="353.48" y="128.75" width="7.76" height="5.27" fill="#84c6e0"/>
<rect x="361.24" y="128.75" width="7.76" height="5.27" fill="#84c6e0"/>
<rect x="369.00" y="128.75" width="7.76" height="5.27" fill="#84c6e0"/>
<rect x="376.76" y="128.75" width="7.76" height="5.27" fill="#84c6e0"/>
<rect x="384.52" y="128.75" width="7.76" height="5.27" fill="#a1d3e6"/>
<rect x="392.28" y="128.75" width="7.76" height="5.27" fill="#84c6e0"/>
<rect x="400.04" y="128.75" width="7.76" height="5.27" fill="#a1d3e6"/>
<rect x="407.80" y="128.75" width="7.76" height="5.27" fill="#da6883"/>
<rect x="415.56" y="128.75" width="7.76" height="5.27" fill="#e0849a"/>
<rect x="423.32" y="128.75" width="7.76" height="5.27" fill="#84c6e0"/>
<rect x="431.08" y="128.75" width="7.76" height="5.27" fill="#b2daea"/>
<rect x="438.84" y="128.75" width="7.76" height="5.27" fill="#84c6e0"/>
<rect x="446.60" y="128.75" width="7.76" height="5.27" fill="#84c6e0"/>
<rect x="454.36" y="128.75" width="7.76" height="5.27" fill="#a1d3e6"/>
<rect x="462.12" y="128.75" width="7.76" height="5.27" fill="#84c6e0"/>
<rect x="469.88" y="128.75" width="7.76" height="5.27" fill="#f3e6e9"/>
<rect x="477.64" y="128.75" width="7.76" height="5.27" fill="#f1dae0"/>
<rect x="485.40" y="128.75" width="7.76" height="5.27" fill="#f1dae0"/>
<rect x="493.16" y="128.75" width="7.76" height="5.27" fill="#f3e6e9"/>
<rect x="500.92" y="128.75" width="7.76" height="5.27" fill="#eec9d2"/>
<rect x="508.68" y="128.75" width="7.76" height="5.27" fill="#a1d3e6"/>
<rect x="213.80" y="134.02" width="7.76" height="5.27" fill="#84c6e0"/>
<rect x="221.56" y="134.02" width="7.76" height="5.27" fill="#84c6e0"/>
<rect x="229.32" y="134.02" width="7.76" height="5.27" fill="#57b3d8"/>
<rect x="237.08" y="134.02" width="7.76" height="5.27" fill="#68badb"/>
<rect x="244.84" y="134.02" width="7.76" height="5.27" fill="#84c6e0"/>
<rect x="252.60" y="134.02" width="7.76" height="5.27" fill="#84c6e0"/>
<rect x="260.36" y="134.02" width="7.76" height="5.27" fill="#a1d3e6"/>
<rect x="268.12" y="134.02" width="7.76" height="5.27" fill="#c9e4ee"/>
<rect x="275.88" y="134.02" width="7.76" height="5.27" fill="#ebbec9"/>
<rect x="283.64" y="134.02" width="7.76" height="5.27" fill="#ebbec9"/>
<rect x="291.40" y="134.02" width="7.76" height="5.27" fill="#e5a1b2"/>
<rect x="299.16" y="134.02" width="7.76" height="5.27" fill="#a1d3e6"/>
<rect x="306.92" y="134.02" width="7.76" height="5.27" fill="#daebf1"/>
<rect x="314.68" y="134.02" width="7.76" height="5.27" fill="#a1d3e6"/>
<rect x="322.44" y="134.02" width="7.76" height="5.27" fill="#57b3d8"/>
<rect x="330.20" y="134.02" width="7.76" height="5.27" fill="#84c6e0"/>
<rect x="337.96" y="134.02" width="7.76" height="5.27" fill="#68badb"/>
<rect x="345.72" y="134.02" width="7.76" height="5.27" fill="#daebf1"/>
<rect x="353.48" y="134.02" width="7.76" height="5.27" fill="#f7f7f7"/>
<rect x="361.24" y="134.02" width="7.76" height="5.27" fill="#f1dae0"/>
<rect x="369.00" y="134.02" width="7.76" height="5.27" fill="#68badb"/>
<rect x="376.76" y="134.02" width="7.76" height="5.27" fill="#68badb"/>
<rect x="384.52" y="134.02" width="7.76" height="5.27" fill="#f7f7f7"/>
<rect x="392.28" y="134.02" width="7.76" height="5.27" fill="#68badb"/>
<rect x="400.04" y="134.02" width="7.76" height="5.27" fill="#68badb"/>
<rect x="407.80" y="134.02" width="7.76" height="5.27" fill="#f7f7f7"/>
<rect x="415.56" y="134.02" width="7.76" height="5.27" fill="#f7f7f7"/>
<rect x="423.32" y="134.02" width="7.76" height="5.27" fill="#68badb"/>
<rect x="431.08" y="134.02" width="7.76" height="5.27" fill="#a1d3e6"/>
<rect x="438.84" y="134.02" width="7.76" height="5.27" fill="#a1d3e6"/>
<rect x="446.60" y="134.02" width="7.76" height="5.27" fill="#b2daea"/>
<rect x="454.36" y="134.02" width="7.76" height="5.27" fill="#b2daea"/>
<rect x="462.12" y="134.02" width="7.76" height="5.27" fill="#c9e4ee"/>
<rect x="469.88" y="134.02" width="7.76" height="5.27" fill="#daebf1"/>
<rect x="477.64" y="134.02" width="7.76" height="5.27" fill="#daebf1"/>
<rect x="485.40" y="134.02" width="7.76" height="5.27" fill="#c9e4ee"/>
<rect x="493.16" y="134.02" width="7.76" height="5.27" fill="#f7f7f7"/>
<rect x="500.92" y="134.02" width="7.76" height="5.27" fill="#bedfec"/>
<rect x="508.68" y="134.02" width="7.76" height="5.27" fill="#bedfec"/>
<rect x="213.80" y="139.29" width="7.76" height="5.27" fill="#68badb"/>
<rect x="221.56" y="139.29" width="7.76" height="5.27" fill="#84c6e0"/>
<rect x="229.32" y="139.29" width="7.76" height="5.27" fill="#a1d3e6"/>
<rect x="237.08" y="139.29" width="7.76" height="5.27" fill="#a1d3e6"/>
<rect x="244.84" y="139.29" width="7.76" height="5.27" fill="#a1d3e6"/>
<rect x="252.60" y="139.29" width="7.76" height="5.27" fill="#a1d3e6"/>
<rect x="260.36" y="139.29" width="7.76" height="5.27" fill="#a1d3e6"/>
<rect x="268.12" y="139.29" width="7.76" height="5.27" fill="#b2daea"/>
<rect x="275.88" y="139.29" width="7.76" height="5.27" fill="#b2daea"/>
<rect x="283.64" y="139.29" width="7.76" height="5.27" fill="#b2daea"/>
<rect x="291.40" y="139.29" width="7.76" height="5.27" fill="#b2daea"/>
<rect x="299.16" y="139.29" width="7.76" height="5.27" fill="#a1d3e6"/>
<rect x="306.92" y="139.29" width="7.76" height="5.27" fill="#a1d3e6"/>
<rect x="314.68" y="139.29" width="7.76" height="5.27" fill="#a1d3e6"/>
<rect x="322.44" y="139.29" width="7.76" height="5.27" fill="#68badb"/>
<rect x="330.20" y="139.29" width="7.76" height="5.27" fill="#a1d3e6"/>
<rect x="337.96" y="139.29" width="7.76" height="5.27" fill="#a1d3e6"/>
<rect x="345.72" y="139.29" width="7.76" height="5.27" fill="#f7f7f7"/>
<rect x="353.48" y="139.29" width="7.76" height="5.27" fill="#f7f7f7"/>
<rect x="361.24" y="139.29" width="7.76" height="5.27" fill="#f7f7f7"/>
<rect x="369.00" y="139.29" width="7.76" height="5.27" fill="#bedfec"/>
<rect x="376.76" y="139.29" width="7.76" height="5.27" fill="#a1d3e6"/>
<rect x="384.52" y="139.29" width="7.76" height="5.27" fill="#bedfec"/>
<rect x="392.28" y="139.29" width="7.76" height="5.27" fill="#bedfec"/>
<rect x="400.04" y="139.29" width="7.76" height="5.27" fill="#a1d3e6"/>
<rect x="407.80" y="139.29" width="7.76" height="5.27" fill="#a1d3e6"/>
<rect x="415.56" y="139.29" width="7.76" height="5.27" fill="#a1d3e6"/>
<rect x="423.32" y="139.29" width="7.76" height="5.27" fill="#b2daea"/>
<rect x="431.08" y="139.29" width="7.76" height="5.27" fill="#c9e4ee"/>
<rect x="438.84" y="139.29" width="7.76" height="5.27" fill="#daebf1"/>
<rect x="446.60" y="139.29" width="7.76" height="5.27" fill="#f7f7f7"/>
<rect x="454.36" y="139.29" width="7.76" height="5.27" fill="#daebf1"/>
<rect x="462.12" y="139.29" width="7.76" height="5.27" fill="#f7f7f7"/>
<rect x="469.88" y="139.29" width="7.76" height="5.27" fill="#f7f7f7"/>
<rect x="477.64" y="139.29" width="7.76" height="5.27" fill="#f7f7f7"/>
<rect x="485.40" y="139.29" width="7.76" height="5.27" fill="#84c6e0"/>
<rect x="493.16" y="139.29" width="7.76" height="5.27" fill="#84c6e0"/>
<rect x="500.92" y="139.29" width="7.76" height="5.27" fill="#84c6e0"/>
<rect x="508.68" y="139.29" width="7.76" height="5.27" fill="#84c6e0"/>
<rect x="213.80" y="144.55" width="7.76" height="5.27" fill="#a1d3e6"/>
<rect x="221.56" y="144.55" width="7.76" height="5.27" fill="#c9e4ee"/>
<rect x="229.32" y="144.55" width="7.76" height="5.27" fill="#84c6e0"/>
<rect x="237.08" y="144.55" width="7.76" height="5.27" fill="#84c6e0"/>
<rect x="244.84" y="144.55" width="7.76" height="5.27" fill="#84c6e0"/>
<rect x="252.60" y="144.55" width="7.76" height="5.27" fill="#bedfec"/>
<rect x="260.36" y="144.55" width="7.76" height="5.27" fill="#bedfec"/>
<rect x="268.12" y="144.55" width="7.76" height="5.27" fill="#bedfec"/>
<rect x="275.88" y="144.55" width="7.76" height="5.27" fill="#b2daea"/>
<rect x="283.64" y="144.55" width="7.76" height="5.27" fill="#b2daea"/>
<rect x="291.40" y="144.55" width="7.76" height="5.27" fill="#b2daea"/>
<rect x="299.16" y="144.55" width="7.76" height="5.27" fill="#a1d3e6"/>
<rect x="306.92" y="144.55" width="7.76" height="5.27" fill="#a1d3e6"/>
<rect x="314.68" y="144.55" width="7.76" height="5.27" fill="#a1d3e6"/>
<rect x="322.44" y="144.55" width="7.76" height="5.27" fill="#68badb"/>
<rect x="330.20" y="144.55" width="7.76" height="5.27" fill="#a1d3e6"/>
<rect x="337.96" y="144.55" width="7.76" height="5.27" fill="#68badb"/>
<rect x="345.72" y="144.55" width="7.76" height="5.27" fill="#ecf2f5"/>
<rect x="353.48" y="144.55" width="7.76" height="5.27" fill="#c9e4ee"/>
<rect x="361.24" y="144.55" width="7.76" height="5.27" fill="#f7f7f7"/>
<rect x="369.00" y="144.55" width="7.76" height="5.27" fill="#c9e4ee"/>
<rect x="376.76" y="144.55" width="7.76" height="5.27" fill="#a1d3e6"/>
<rect x="384.52" y="144.55" width="7.76" height="5.27" fill="#daebf1"/>
<rect x="392.28" y="144.55" width="7.76" height="5.27" fill="#b2daea"/>
<rect x="400.04" y="144.55" width="7.76" height="5.27" fill="#bedfec"/>
<rect x="407.80" y="144.55" width="7.76" height="5.27" fill="#bedfec"/>
<rect x="415.56" y="144.55" width="7.76" height="5.27" fill="#84c6e0"/>
<rect x="423.32" y="144.55" width="7.76" height="5.27" fill="#f7f7f7"/>
<rect x="431.08" y="144.55" width="7.76" height="5.27" fill="#c9e4ee"/>
<rect x="438.84" y="144.55" width="7.76" height="5.27" fill="#daebf1"/>
<rect x="446.60" y="144.55" width="7.76" height="5.27" fill="#e6f0f4"/>
<rect x="454.36" y="144.55" width="7.76" height="5.27" fill="#f7f7f7"/>
<rect x="462.12" y="144.55" width="7.76" height="5.27" fill="#f7f7f7"/>
<rect x="469.88" y="144.55" width="7.76" height="5.27" fill="#f7f7f7"/>
<rect x="477.64" y="144.55" width="7.76" height="5.27" fill="#f1dae0"/>
<rect x="485.40" y="144.55" width="7.76" height="5.27" fill="#bedfec"/>
<rect x="493.16" y="144.55" width="7.76" height="5.27" fill="#bedfec"/>
<rect x="500.92" y="144.55" width="7.76" height="5.27" fill="#a1d3e6"/>
<rect x="508.68" y="144.55" width="7.76" height="5.27" fill="#a1d3e6"/>
<rect x="213.80" y="149.82" width="7.76" height="5.27" fill="#a1d3e6"/>
<rect x="221.56" y="149.82" width="7.76" height="5.27" fill="#daebf1"/>
<rect x="229.32" y="149.82" width="7.76" height="5.27" fill="#84c6e0"/>
<rect x="237.08" y="149.82" width="7.76" height="5.27" fill="#84c6e0"/>
<rect x="244.84" y="149.82" width="7.76" height="5.27" fill="#84c6e0"/>
<rect x="252.60" y="149.82" width="7.76" height="5.27" fill="#bedfec"/>
<rect x="260.36" y="149.82" width="7.76" height="5.27" fill="#bedfec"/>
<rect x="268.12" y="149.82" width="7.76" height="5.27" fill="#b2daea"/>
<rect x="275.88" y="149.82" width="7.76" height="5.27" fill="#b2daea"/>
<rect x="283.64" y="149.82" width="7.76" height="5.27" fill="#b2daea"/>
<rect x="291.40" y="149.82" width="7.76" height="5.27" fill="#a1d3e6"/>
<rect x="299.16" y="149.82" width="7.76" height="5.27" fill="#a1d3e6"/>
<rect x="306.92" y="149.82" width="7.76" height="5.27" fill="#a1d3e6"/>
<rect x="314.68" y="149.82" width="7.76" height="5.27" fill="#a1d3e6"/>
<rect x="322.44" y="149.82" width="7.76" height="5.27" fill="#4baed5"/>
<rect x="330.20" y="149.82" width="7.76" height="5.27" fill="#a1d3e6"/>
<rect x="337.96" y="149.82" width="7.76" height="5.27" fill="#68badb"/>
<rect x="345.72" y="149.82" width="7.76" height="5.27" fill="#f7f7f7"/>
<rect x="353.48" y="149.82" width="7.76" height="5.27" fill="#c9e4ee"/>
<rect x="361.24" y="149.82" width="7.76" height="5.27" fill="#f3e6e9"/>
<rect x="369.00" y="149.82" width="7.76" height="5.27" fill="#c9e4ee"/>
<rect x="376.76" y="149.82" width="7.76" height="5.27" fill="#a1d3e6"/>
<rect x="384.52" y="149.82" width="7.76" height="5.27" fill="#bedfec"/>
<rect x="392.28" y="149.82" width="7.76" height="5.27" fill="#a1d3e6"/>
<rect x="400.04" y="149.82" width="7.76" height="5.27" fill="#e6f0f4"/>
<rect x="407.80" y="149.82" width="7.76" height="5.27" fill="#daebf1"/>
<rect x="415.56" y="149.82" width="7.76" height="5.27" fill="#84c6e0"/>
<rect x="423.32" y="149.82" width="7.76" height="5.27" fill="#daebf1"/>
<rect x="431.08" y="149.82" width="7.76" height="5.27" fill="#bedfec"/>
<rect x="438.84" y="149.82" width="7.76" height="5.27" fill="#f7f7f7"/>
<rect x="446.60" y="149.82" width="7.76" height="5.27" fill="#f7f7f7"/>
<rect x="454.36" y="149.82" width="7.76" height="5.27" fill="#f7f7f7"/>
<rect x="462.12" y="149.82" width="7.76" height="5.27" fill="#f7f7f7"/>
<rect x="469.88" y="149.82" width="7.76" height="5.27" fill="#f3e6e9"/>
<rect x="477.64" y="149.82" width="7.76" height="5.27" fill="#f1dae0"/>
<rect x="485.40" y="149.82" width="7.76" height="5.27" fill="#b2daea"/>
<rect x="493.16" y="149.82" width="7.76" height="5.27" fill="#bedfec"/>
<rect x="500.92" y="149.82" width="7.76" height="5.27" fill="#b2daea"/>
<rect x="508.68" y="149.82" width="7.76" height="5.27" fill="#a1d3e6"/>
<rect x="213.80" y="155.08" width="7.76" height="5.27" fill="#84c6e0"/>
<rect x="221.56" y="155.08" width="7.76" height="5.27" fill="#f5ecee"/>
<rect x="229.32" y="155.08" width="7.76" height="5.27" fill="#4baed5"/>
<rect x="237.08" y="155.08" width="7.76" height="5.27" fill="#4baed5"/>
<rect x="244.84" y="155.08" width="7.76" height="5.27" fill="#4baed5"/>
<rect x="252.60" y="155.08" width="7.76" height="5.27" fill="#daebf1"/>
<rect x="260.36" y="155.08" width="7.76" height="5.27" fill="#bedfec"/>
<rect x="268.12" y="155.08" width="7.76" height="5.27" fill="#f7f7f7"/>
<rect x="275.88" y="155.08" width="7.76" height="5.27" fill="#4baed5"/>
<rect x="283.64" y="155.08" width="7.76" height="5.27" fill="#4baed5"/>
<rect x="291.40" y="155.08" width="7.76" height="5.27" fill="#4baed5"/>
<rect x="299.16" y="155.08" width="7.76" height="5.27" fill="#84c6e0"/>
<rect x="306.92" y="155.08" width="7.76" height="5.27" fill="#a1d3e6"/>
<rect x="314.68" y="155.08" width="7.76" height="5.27" fill="#84c6e0"/>
<rect x="322.44" y="155.08" width="7.76" height="5.27" fill="#68badb"/>
<rect x="330.20" y="155.08" width="7.76" height="5.27" fill="#bedfec"/>
<rect x="337.96" y="155.08" width="7.76" height="5.27" fill="#a1d3e6"/>
<rect x="345.72" y="155.08" width="7.76" height="5.27" fill="#e0849a"/>
<rect x="353.48" y="155.08" width="7.76" height="5.27" fill="#e9b2c0"/>
<rect x="361.24" y="155.08" width="7.76" height="5.27" fill="#e290a4"/>
<rect x="369.00" y="155.08" width="7.76" height="5.27" fill="#f1dae0"/>
<rect x="376.76" y="155.08" width="7.76" height="5.27" fill="#f7f7f7"/>
<rect x="384.52" y="155.08" width="7.76" height="5.27" fill="#f7f7f7"/>
<rect x="392.28" y="155.08" width="7.76" height="5.27" fill="#f5ecee"/>
<rect x="400.04" y="155.08" width="7.76" height="5.27" fill="#bedfec"/>
<rect x="407.80" y="155.08" width="7.76" height="5.27" fill="#b2daea"/>
<rect x="415.56" y="155.08" width="7.76" height="5.27" fill="#f7f7f7"/>
<rect x="423.32" y="155.08" width="7.76" height="5.27" fill="#e5a1b2"/>
<rect x="431.08" y="155.08" width="7.76" height="5.27" fill="#f3e6e9"/>
<rect x="438.84" y="155.08" width="7.76" height="5.27" fill="#c9e4ee"/>
<rect x="446.60" y="155.08" width="7.76" height="5.27" fill="#f7f7f7"/>
<rect x="454.36" y="155.08" width="7.76" height="5.27" fill="#daebf1"/>
<rect x="462.12" y="155.08" width="7.76" height="5.27" fill="#84c6e0"/>
<rect x="469.88" y="155.08" width="7.76" height="5.27" fill="#84c6e0"/>
<rect x="477.64" y="155.08" width="7.76" height="5.27" fill="#84c6e0"/>
<rect x="485.40" y="155.08" width="7.76" height="5.27" fill="#daebf1"/>
<rect x="493.16" y="155.08" width="7.76" height="5.27" fill="#f1dae0"/>
<rect x="500.92" y="155.08" width="7.76" height="5.27" fill="#84c6e0"/>
<rect x="508.68" y="155.08" width="7.76" height="5.27" fill="#84c6e0"/>
<rect x="213.80" y="160.35" width="7.76" height="5.27" fill="#bedfec"/>
<rect x="221.56" y="160.35" width="7.76" height="5.27" fill="#f7f7f7"/>
<rect x="229.32" y="160.35" width="7.76" height="5.27" fill="#68badb"/>
<rect x="237.08" y="160.35" width="7.76" height="5.27" fill="#68badb"/>
<rect x="244.84" y="160.35" width="7.76" height="5.27" fill="#68badb"/>
<rect x="252.60" y="160.35" width="7.76" height="5.27" fill="#84c6e0"/>
<rect x="260.36" y="160.35" width="7.76" height="5.27" fill="#84c6e0"/>
<rect x="268.12" y="160.35" width="7.76" height="5.27" fill="#90cbe3"/>
<rect x="275.88" y="160.35" width="7.76" height="5.27" fill="#2fa2d0"/>
<rect x="283.64" y="160.35" width="7.76" height="5.27" fill="#4baed5"/>
<rect x="291.40" y="160.35" width="7.76" height="5.27" fill="#2fa2d0"/>
<rect x="299.16" y="160.35" width="7.76" height="5.27" fill="#68badb"/>
<rect x="306.92" y="160.35" width="7.76" height="5.27" fill="#68badb"/>
<rect x="314.68" y="160.35" width="7.76" height="5.27" fill="#68badb"/>
<rect x="322.44" y="160.35" width="7.76" height="5.27" fill="#84c6e0"/>
<rect x="330.20" y="160.35" width="7.76" height="5.27" fill="#bedfec"/>
<rect x="337.96" y="160.35" width="7.76" height="5.27" fill="#a1d3e6"/>
<rect x="345.72" y="160.35" width="7.76" height="5.27" fill="#f1dae0"/>
<rect x="353.48" y="160.35" width="7.76" height="5.27" fill="#eec9d2"/>
<rect x="361.24" y="160.35" width="7.76" height="5.27" fill="#f5ecee"/>
<rect x="369.00" y="160.35" width="7.76" height="5.27" fill="#f7f7f7"/>
<rect x="376.76" y="160.35" width="7.76" height="5.27" fill="#ebbec9"/>
<rect x="384.52" y="160.35" width="7.76" height="5.27" fill="#f7f7f7"/>
<rect x="392.28" y="160.35" width="7.76" height="5.27" fill="#f5ecee"/>
<rect x="400.04" y="160.35" width="7.76" height="5.27" fill="#b2daea"/>
<rect x="407.80" y="160.35" width="7.76" height="5.27" fill="#f3e6e9"/>
<rect x="415.56" y="160.35" width="7.76" height="5.27" fill="#daebf1"/>
<rect x="423.32" y="160.35" width="7.76" height="5.27" fill="#f7f7f7"/>
<rect x="431.08" y="160.35" width="7.76" height="5.27" fill="#e9b2c0"/>
<rect x="438.84" y="160.35" width="7.76" height="5.27" fill="#e0849a"/>
<rect x="446.60" y="160.35" width="7.76" height="5.27" fill="#e0849a"/>
<rect x="454.36" y="160.35" width="7.76" height="5.27" fill="#e9b2c0"/>
<rect x="462.12" y="160.35" width="7.76" height="5.27" fill="#f5ecee"/>
<rect x="469.88" y="160.35" width="7.76" height="5.27" fill="#f3e6e9"/>
<rect x="477.64" y="160.35" width="7.76" height="5.27" fill="#f1dae0"/>
<rect x="485.40" y="160.35" width="7.76" height="5.27" fill="#f1dae0"/>
<rect x="493.16" y="160.35" width="7.76" height="5.27" fill="#eec9d2"/>
<rect x="500.92" y="160.35" width="7.76" height="5.27" fill="#a1d3e6"/>
<rect x="508.68" y="160.35" width="7.76" height="5.27" fill="#90cbe3"/>
<rect x="213.80" y="165.62" width="7.76" height="5.27" fill="#a1d3e6"/>
<rect x="221.56" y="165.62" width="7.76" height="5.27" fill="#daebf1"/>
<rect x="229.32" y="165.62" width="7.76" height="5.27" fill="#84c6e0"/>
<rect x="237.08" y="165.62" width="7.76" height="5.27" fill="#84c6e0"/>
<rect x="244.84" y="165.62" width="7.76" height="5.27" fill="#84c6e0"/>
<rect x="252.60" y="165.62" width="7.76" height="5.27" fill="#a1d3e6"/>
<rect x="260.36" y="165.62" width="7.76" height="5.27" fill="#a1d3e6"/>
<rect x="268.12" y="165.62" width="7.76" height="5.27" fill="#84c6e0"/>
<rect x="275.88" y="165.62" width="7.76" height="5.27" fill="#4baed5"/>
<rect x="283.64" y="165.62" width="7.76" height="5.27" fill="#4baed5"/>
<rect x="291.40" y="165.62" width="7.76" height="5.27" fill="#4baed5"/>
<rect x="299.16" y="165.62" width="7.76" height="5.27" fill="#84c6e0"/>
<rect x="306.92" y="165.62" width="7.76" height="5.27" fill="#68badb"/>
<rect x="314.68" y="165.62" width="7.76" height="5.27" fill="#68badb"/>
<rect x="322.44" y="165.62" width="7.76" height="5.27" fill="#84c6e0"/>
<rect x="330.20" y="165.62" width="7.76" height="5.27" fill="#bedfec"/>
<rect x="337.96" y="165.62" width="7.76" height="5.27" fill="#a1d3e6"/>
<rect x="345.72" y="165.62" width="7.76" height="5.27" fill="#f7f7f7"/>
<rect x="353.48" y="165.62" width="7.76" height="5.27" fill="#f1dae0"/>
<rect x="361.24" y="165.62" width="7.76" height="5.27" fill="#f1dae0"/>
<rect x="369.00" y="165.62" width="7.76" height="5.27" fill="#daebf1"/>
<rect x="376.76" y="165.62" width="7.76" height="5.27" fill="#f1dae0"/>
<rect x="384.52" y="165.62" width="7.76" height="5.27" fill="#f7f7f7"/>
<rect x="392.28" y="165.62" width="7.76" height="5.27" fill="#f5ecee"/>
<rect x="400.04" y="165.62" width="7.76" height="5.27" fill="#bedfec"/>
<rect x="407.80" y="165.62" width="7.76" height="5.27" fill="#f5ecee"/>
<rect x="415.56" y="165.62" width="7.76" height="5.27" fill="#daebf1"/>
<rect x="423.32" y="165.62" width="7.76" height="5.27" fill="#f7f7f7"/>
<rect x="431.08" y="165.62" width="7.76" height="5.27" fill="#eec9d2"/>
<rect x="438.84" y="165.62" width="7.76" height="5.27" fill="#e9b2c0"/>
<rect x="446.60" y="165.62" width="7.76" height="5.27" fill="#ebbec9"/>
<rect x="454.36" y="165.62" width="7.76" height="5.27" fill="#ebbec9"/>
<rect x="462.12" y="165.62" width="7.76" height="5.27" fill="#daebf1"/>
<rect x="469.88" y="165.62" width="7.76" height="5.27" fill="#f7f7f7"/>
<rect x="477.64" y="165.62" width="7.76" height="5.27" fill="#f5ecee"/>
<rect x="485.40" y="165.62" width="7.76" height="5.27" fill="#f5ecee"/>
<rect x="493.16" y="165.62" width="7.76" height="5.27" fill="#eec9d2"/>
<rect x="500.92" y="165.62" width="7.76" height="5.27" fill="#a1d3e6"/>
<rect x="508.68" y="165.62" width="7.76" height="5.27" fill="#90cbe3"/>
<rect x="213.80" y="170.88" width="7.76" height="5.27" fill="#f5ecee"/>
<rect x="221.56" y="170.88" width="7.76" height="5.27" fill="#f1dae0"/>
<rect x="229.32" y="170.88" width="7.76" height="5.27" fill="#84c6e0"/>
<rect x="237.08" y="170.88" width="7.76" height="5.27" fill="#84c6e0"/>
<rect x="244.84" y="170.88" width="7.76" height="5.27" fill="#84c6e0"/>
<rect x="252.60" y="170.88" width="7.76" height="5.27" fill="#84c6e0"/>
<rect x="260.36" y="170.88" width="7.76" height="5.27" fill="#b2daea"/>
<rect x="268.12" y="170.88" width="7.76" height="5.27" fill="#a1d3e6"/>
<rect x="275.88" y="170.88" width="7.76" height="5.27" fill="#4baed5"/>
<rect x="283.64" y="170.88" width="7.76" height="5.27" fill="#4baed5"/>
<rect x="291.40" y="170.88" width="7.76" height="5.27" fill="#4baed5"/>
<rect x="299.16" y="170.88" width="7.76" height="5.27" fill="#68badb"/>
<rect x="306.92" y="170.88" width="7.76" height="5.27" fill="#68badb"/>
<rect x="314.68" y="170.88" width="7.76" height="5.27" fill="#68badb"/>
<rect x="322.44" y="170.88" width="7.76" height="5.27" fill="#a1d3e6"/>
<rect x="330.20" y="170.88" width="7.76" height="5.27" fill="#b2daea"/>
<rect x="337.96" y="170.88" width="7.76" height="5.27" fill="#a1d3e6"/>
<rect x="345.72" y="170.88" width="7.76" height="5.27" fill="#f5ecee"/>
<rect x="353.48" y="170.88" width="7.76" height="5.27" fill="#f1dae0"/>
<rect x="361.24" y="170.88" width="7.76" height="5.27" fill="#f1dae0"/>
<rect x="369.00" y="170.88" width="7.76" height="5.27" fill="#bedfec"/>
<rect x="376.76" y="170.88" width="7.76" height="5.27" fill="#f5ecee"/>
<rect x="384.52" y="170.88" width="7.76" height="5.27" fill="#daebf1"/>
<rect x="392.28" y="170.88" width="7.76" height="5.27" fill="#daebf1"/>
<rect x="400.04" y="170.88" width="7.76" height="5.27" fill="#a1d3e6"/>
<rect x="407.80" y="170.88" width="7.76" height="5.27" fill="#bedfec"/>
<rect x="415.56" y="170.88" width="7.76" height="5.27" fill="#bedfec"/>
<rect x="423.32" y="170.88" width="7.76" height="5.27" fill="#f7f7f7"/>
<rect x="431.08" y="170.88" width="7.76" height="5.27" fill="#f1dae0"/>
<rect x="438.84" y="170.88" width="7.76" height="5.27" fill="#ebbec9"/>
<rect x="446.60" y="170.88" width="7.76" height="5.27" fill="#f1dae0"/>
<rect x="454.36" y="170.88" width="7.76" height="5.27" fill="#eec9d2"/>
<rect x="462.12" y="170.88" width="7.76" height="5.27" fill="#f7f7f7"/>
<rect x="469.88" y="170.88" width="7.76" height="5.27" fill="#f7f7f7"/>
<rect x="477.64" y="170.88" width="7.76" height="5.27" fill="#f5ecee"/>
<rect x="485.40" y="170.88" width="7.76" height="5.27" fill="#daebf1"/>
<rect x="493.16" y="170.88" width="7.76" height="5.27" fill="#f7f7f7"/>
<rect x="500.92" y="170.88" width="7.76" height="5.27" fill="#a1d3e6"/>
<rect x="508.68" y="170.88" width="7.76" height="5.27" fill="#a1d3e6"/>
<rect x="213.80" y="176.15" width="7.76" height="5.27" fill="#f1dae0"/>
<rect x="221.56" y="176.15" width="7.76" height="5.27" fill="#f1dae0"/>
<rect x="229.32" y="176.15" width="7.76" height="5.27" fill="#daebf1"/>
<rect x="237.08" y="176.15" width="7.76" height="5.27" fill="#e6f0f4"/>
<rect x="244.84" y="176.15" width="7.76" height="5.27" fill="#daebf1"/>
<rect x="252.60" y="176.15" width="7.76" height="5.27" fill="#a1d3e6"/>
<rect x="260.36" y="176.15" width="7.76" height="5.27" fill="#f7f7f7"/>
<rect x="268.12" y="176.15" width="7.76" height="5.27" fill="#f1dae0"/>
<rect x="275.88" y="176.15" width="7.76" height="5.27" fill="#68badb"/>
<rect x="283.64" y="176.15" width="7.76" height="5.27" fill="#68badb"/>
<rect x="291.40" y="176.15" width="7.76" height="5.27" fill="#68badb"/>
<rect x="299.16" y="176.15" width="7.76" height="5.27" fill="#a1d3e6"/>
<rect x="306.92" y="176.15" width="7.76" height="5.27" fill="#84c6e0"/>
<rect x="314.68" y="176.15" width="7.76" height="5.27" fill="#84c6e0"/>
<rect x="322.44" y="176.15" width="7.76" height="5.27" fill="#ecf2f5"/>
<rect x="330.20" y="176.15" width="7.76" height="5.27" fill="#daebf1"/>
<rect x="337.96" y="176.15" width="7.76" height="5.27" fill="#bedfec"/>
<rect x="345.72" y="176.15" width="7.76" height="5.27" fill="#f5ecee"/>
<rect x="353.48" y="176.15" width="7.76" height="5.27" fill="#f5ecee"/>
<rect x="361.24" y="176.15" width="7.76" height="5.27" fill="#f5ecee"/>
<rect x="369.00" y="176.15" width="7.76" height="5.27" fill="#daebf1"/>
<rect x="376.76" y="176.15" width="7.76" height="5.27" fill="#f7f7f7"/>
<rect x="384.52" y="176.15" width="7.76" height="5.27" fill="#daebf1"/>
<rect x="392.28" y="176.15" width="7.76" height="5.27" fill="#f5ecee"/>
<rect x="400.04" y="176.15" width="7.76" height="5.27" fill="#84c6e0"/>
<rect x="407.80" y="176.15" width="7.76" height="5.27" fill="#84c6e0"/>
<rect x="415.56" y="176.15" width="7.76" height="5.27" fill="#bedfec"/>
<rect x="423.32" y="176.15" width="7.76" height="5.27" fill="#bedfec"/>
<rect x="431.08" y="176.15" width="7.76" height="5.27" fill="#f5ecee"/>
<rect x="438.84" y="176.15" width="7.76" height="5.27" fill="#e0849a"/>
<rect x="446.60" y="176.15" width="7.76" height="5.27" fill="#e9b2c0"/>
<rect x="454.36" y="176.15" width="7.76" height="5.27" fill="#e9b2c0"/>
<rect x="462.12" y="176.15" width="7.76" height="5.27" fill="#f7f7f7"/>
<rect x="469.88" y="176.15" width="7.76" height="5.27" fill="#f7f7f7"/>
<rect x="477.64" y="176.15" width="7.76" height="5.27" fill="#f1dae0"/>
<rect x="485.40" y="176.15" width="7.76" height="5.27" fill="#c9e4ee"/>
<rect x="493.16" y="176.15" width="7.76" height="5.27" fill="#daebf1"/>
<rect x="500.92" y="176.15" width="7.76" height="5.27" fill="#b2daea"/>
<rect x="508.68" y="176.15" width="7.76" height="5.27" fill="#a1d3e6"/>
<rect x="213.80" y="181.41" width="7.76" height="5.27" fill="#f7f7f7"/>
<rect x="221.56" y="181.41" width="7.76" height="5.27" fill="#ebbec9"/>
<rect x="229.32" y="181.41" width="7.76" height="5.27" fill="#bedfec"/>
<rect x="237.08" y="181.41" width="7.76" height="5.27" fill="#bedfec"/>
<rect x="244.84" y="181.41" width="7.76" height="5.27" fill="#bedfec"/>
<rect x="252.60" y="181.41" width="7.76" height="5.27" fill="#68badb"/>
<rect x="260.36" y="181.41" width="7.76" height="5.27" fill="#ebbec9"/>
<rect x="268.12" y="181.41" width="7.76" height="5.27" fill="#f1dae0"/>
<rect x="275.88" y="181.41" width="7.76" height="5.27" fill="#4baed5"/>
<rect x="283.64" y="181.41" width="7.76" height="5.27" fill="#68badb"/>
<rect x="291.40" y="181.41" width="7.76" height="5.27" fill="#68badb"/>
<rect x="299.16" y="181.41" width="7.76" height="5.27" fill="#68badb"/>
<rect x="306.92" y="181.41" width="7.76" height="5.27" fill="#68badb"/>
<rect x="314.68" y="181.41" width="7.76" height="5.27" fill="#68badb"/>
<rect x="322.44" y="181.41" width="7.76" height="5.27" fill="#e9b2c0"/>
<rect x="330.20" y="181.41" width="7.76" height="5.27" fill="#b2daea"/>
<rect x="337.96" y="181.41" width="7.76" height="5.27" fill="#ecf2f5"/>
<rect x="345.72" y="181.41" width="7.76" height="5.27" fill="#c9e4ee"/>
<rect x="353.48" y="181.41" width="7.76" height="5.27" fill="#84c6e0"/>
<rect x="361.24" y="181.41" width="7.76" height="5.27" fill="#84c6e0"/>
<rect x="369.00" y="181.41" width="7.76" height="5.27" fill="#f5ecee"/>
<rect x="376.76" y="181.41" width="7.76" height="5.27" fill="#e9b2c0"/>
<rect x="384.52" y="181.41" width="7.76" height="5.27" fill="#e9b2c0"/>
<rect x="392.28" y="181.41" width="7.76" height="5.27" fill="#e290a4"/>
<rect x="400.04" y="181.41" width="7.76" height="5.27" fill="#a1d3e6"/>
<rect x="407.80" y="181.41" width="7.76" height="5.27" fill="#a1d3e6"/>
<rect x="415.56" y="181.41" width="7.76" height="5.27" fill="#ebbec9"/>
<rect x="423.32" y="181.41" width="7.76" height="5.27" fill="#e9b2c0"/>
<rect x="431.08" y="181.41" width="7.76" height="5.27" fill="#e5a1b2"/>
<rect x="438.84" y="181.41" width="7.76" height="5.27" fill="#e5a1b2"/>
<rect x="446.60" y="181.41" width="7.76" height="5.27" fill="#e5a1b2"/>
<rect x="454.36" y="181.41" width="7.76" height="5.27" fill="#e290a4"/>
<rect x="462.12" y="181.41" width="7.76" height="5.27" fill="#b2daea"/>
<rect x="469.88" y="181.41" width="7.76" height="5.27" fill="#b2daea"/>
<rect x="477.64" y="181.41" width="7.76" height="5.27" fill="#bedfec"/>
<rect x="485.40" y="181.41" width="7.76" height="5.27" fill="#f1dae0"/>
<rect x="493.16" y="181.41" width="7.76" height="5.27" fill="#f7f7f7"/>
<rect x="500.92" y="181.41" width="7.76" height="5.27" fill="#e6f0f4"/>
<rect x="508.68" y="181.41" width="7.76" height="5.27" fill="#bedfec"/>
<rect x="213.80" y="186.68" width="7.76" height="5.27" fill="#e5a1b2"/>
<rect x="221.56" y="186.68" width="7.76" height="5.27" fill="#eec9d2"/>
<rect x="229.32" y="186.68" width="7.76" height="5.27" fill="#f1dae0"/>
<rect x="237.08" y="186.68" width="7.76" height="5.27" fill="#f5ecee"/>
<rect x="244.84" y="186.68" width="7.76" height="5.27" fill="#f7f7f7"/>
<rect x="252.60" y="186.68" width="7.76" height="5.27" fill="#f7f7f7"/>
<rect x="260.36" y="186.68" width="7.76" height="5.27" fill="#e290a4"/>
<rect x="268.12" y="186.68" width="7.76" height="5.27" fill="#e9b2c0"/>
<rect x="275.88" y="186.68" width="7.76" height="5.27" fill="#68badb"/>
<rect x="283.64" y="186.68" width="7.76" height="5.27" fill="#84c6e0"/>
<rect x="291.40" y="186.68" width="7.76" height="5.27" fill="#84c6e0"/>
<rect x="299.16" y="186.68" width="7.76" height="5.27" fill="#84c6e0"/>
<rect x="306.92" y="186.68" width="7.76" height="5.27" fill="#a1d3e6"/>
<rect x="314.68" y="186.68" width="7.76" height="5.27" fill="#a1d3e6"/>
<rect x="322.44" y="186.68" width="7.76" height="5.27" fill="#f7f7f7"/>
<rect x="330.20" y="186.68" width="7.76" height="5.27" fill="#daebf1"/>
<rect x="337.96" y="186.68" width="7.76" height="5.27" fill="#a1d3e6"/>
<rect x="345.72" y="186.68" width="7.76" height="5.27" fill="#bedfec"/>
<rect x="353.48" y="186.68" width="7.76" height="5.27" fill="#90cbe3"/>
<rect x="361.24" y="186.68" width="7.76" height="5.27" fill="#84c6e0"/>
<rect x="369.00" y="186.68" width="7.76" height="5.27" fill="#bedfec"/>
<rect x="376.76" y="186.68" width="7.76" height="5.27" fill="#eec9d2"/>
<rect x="384.52" y="186.68" width="7.76" height="5.27" fill="#f7f7f7"/>
<rect x="392.28" y="186.68" width="7.76" height="5.27" fill="#e5a1b2"/>
<rect x="400.04" y="186.68" width="7.76" height="5.27" fill="#84c6e0"/>
<rect x="407.80" y="186.68" width="7.76" height="5.27" fill="#4baed5"/>
<rect x="415.56" y="186.68" width="7.76" height="5.27" fill="#f7f7f7"/>
<rect x="423.32" y="186.68" width="7.76" height="5.27" fill="#daebf1"/>
<rect x="431.08" y="186.68" width="7.76" height="5.27" fill="#e0849a"/>
<rect x="438.84" y="186.68" width="7.76" height="5.27" fill="#bedfec"/>
<rect x="446.60" y="186.68" width="7.76" height="5.27" fill="#bedfec"/>
<rect x="454.36" y="186.68" width="7.76" height="5.27" fill="#c9e4ee"/>
<rect x="462.12" y="186.68" width="7.76" height="5.27" fill="#68badb"/>
<rect x="469.88" y="186.68" width="7.76" height="5.27" fill="#4baed5"/>
<rect x="477.64" y="186.68" width="7.76" height="5.27" fill="#68badb"/>
<rect x="485.40" y="186.68" width="7.76" height="5.27" fill="#b2daea"/>
<rect x="493.16" y="186.68" width="7.76" height="5.27" fill="#b2daea"/>
<rect x="500.92" y="186.68" width="7.76" height="5.27" fill="#b2daea"/>
<rect x="508.68" y="186.68" width="7.76" height="5.27" fill="#bedfec"/>
<rect x="213.80" y="191.95" width="7.76" height="5.27" fill="#bedfec"/>
<rect x="221.56" y="191.95" width="7.76" height="5.27" fill="#f7f7f7"/>
<rect x="229.32" y="191.95" width="7.76" height="5.27" fill="#f1dae0"/>
<rect x="237.08" y="191.95" width="7.76" height="5.27" fill="#f1dae0"/>
<rect x="244.84" y="191.95" width="7.76" height="5.27" fill="#f7f7f7"/>
<rect x="252.60" y="191.95" width="7.76" height="5.27" fill="#e9b2c0"/>
<rect x="260.36" y="191.95" width="7.76" height="5.27" fill="#dd7991"/>
<rect x="268.12" y="191.95" width="7.76" height="5.27" fill="#e9b2c0"/>
<rect x="275.88" y="191.95" width="7.76" height="5.27" fill="#68badb"/>
<rect x="283.64" y="191.95" width="7.76" height="5.27" fill="#68badb"/>
<rect x="291.40" y="191.95" width="7.76" height="5.27" fill="#68badb"/>
<rect x="299.16" y="191.95" width="7.76" height="5.27" fill="#84c6e0"/>
<rect x="306.92" y="191.95" width="7.76" height="5.27" fill="#a1d3e6"/>
<rect x="314.68" y="191.95" width="7.76" height="5.27" fill="#a1d3e6"/>
<rect x="322.44" y="191.95" width="7.76" height="5.27" fill="#68badb"/>
<rect x="330.20" y="191.95" width="7.76" height="5.27" fill="#c9e4ee"/>
<rect x="337.96" y="191.95" width="7.76" height="5.27" fill="#84c6e0"/>
<rect x="345.72" y="191.95" width="7.76" height="5.27" fill="#f7f7f7"/>
<rect x="353.48" y="191.95" width="7.76" height="5.27" fill="#daebf1"/>
<rect x="361.24" y="191.95" width="7.76" height="5.27" fill="#c9e4ee"/>
<rect x="369.00" y="191.95" width="7.76" height="5.27" fill="#ecf2f5"/>
<rect x="376.76" y="191.95" width="7.76" height="5.27" fill="#eec9d2"/>
<rect x="384.52" y="191.95" width="7.76" height="5.27" fill="#f1dae0"/>
<rect x="392.28" y="191.95" width="7.76" height="5.27" fill="#ebbec9"/>
<rect x="400.04" y="191.95" width="7.76" height="5.27" fill="#4baed5"/>
<rect x="407.80" y="191.95" width="7.76" height="5.27" fill="#b2daea"/>
<rect x="415.56" y="191.95" width="7.76" height="5.27" fill="#f1dae0"/>
<rect x="423.32" y="191.95" width="7.76" height="5.27" fill="#f1dae0"/>
<rect x="431.08" y="191.95" width="7.76" height="5.27" fill="#f7f7f7"/>
<rect x="438.84" y="191.95" width="7.76" height="5.27" fill="#f7f7f7"/>
<rect x="446.60" y="191.95" width="7.76" height="5.27" fill="#f3e6e9"/>
<rect x="454.36" y="191.95" width="7.76" height="5.27" fill="#f7f7f7"/>
<rect x="462.12" y="191.95" width="7.76" height="5.27" fill="#a1d3e6"/>
<rect x="469.88" y="191.95" width="7.76" height="5.27" fill="#a1d3e6"/>
<rect x="477.64" y="191.95" width="7.76" height="5.27" fill="#b2daea"/>
<rect x="485.40" y="191.95" width="7.76" height="5.27" fill="#b2daea"/>
<rect x="493.16" y="191.95" width="7.76" height="5.27" fill="#f7f7f7"/>
<rect x="500.92" y="191.95" width="7.76" height="5.27" fill="#68badb"/>
<rect x="508.68" y="191.95" width="7.76" height="5.27" fill="#68badb"/>
<path d="M221.56 28.70V197.21M229.32 28.70V197.21M237.08 28.70V197.21M244.84 28.70V197.21M252.60 28.70V197.21M260.36 28.70V197.21M268.12 28.70V197.21M275.88 28.70V197.21M283.64 28.70V197.21M291.40 28.70V197.21M299.16 28.70V197.21M306.92 28.70V197.21M314.68 28.70V197.21M322.44 28.70V197.21M330.20 28.70V197.21M337.96 28.70V197.21M345.72 28.70V197.21M353.48 28.70V197.21M361.24 28.70V197.21M369.00 28.70V197.21M376.76 28.70V197.21M384.52 28.70V197.21M392.28 28.70V197.21M400.04 28.70V197.21M407.80 28.70V197.21M415.56 28.70V197.21M423.32 28.70V197.21M431.08 28.70V197.21M438.84 28.70V197.21M446.60 28.70V197.21M454.36 28.70V197.21M462.12 28.70V197.21M469.88 28.70V197.21M477.64 28.70V197.21M485.40 28.70V197.21M493.16 28.70V197.21M500.92 28.70V197.21M508.68 28.70V197.21M213.80 33.97H516.44M213.80 39.23H516.44M213.80 44.50H516.44M213.80 49.76H516.44M213.80 55.03H516.44M213.80 60.30H516.44M213.80 65.56H516.44M213.80 70.83H516.44M213.80 76.09H516.44M213.80 81.36H516.44M213.80 86.63H516.44M213.80 91.89H516.44M213.80 97.16H516.44M213.80 102.42H516.44M213.80 107.69H516.44M213.80 112.96H516.44M213.80 118.22H516.44M213.80 123.49H516.44M213.80 128.75H516.44M213.80 134.02H516.44M213.80 139.29H516.44M213.80 144.55H516.44M213.80 149.82H516.44M213.80 155.08H516.44M213.80 160.35H516.44M213.80 165.62H516.44M213.80 170.88H516.44M213.80 176.15H516.44M213.80 181.41H516.44M213.80 186.68H516.44M213.80 191.95H516.44" stroke="#ffffff" stroke-width="0.55" fill="none"/>
<text x="518.30" y="32.83" font-size="4.42">REACTOME_DOPAMINE_NEUROTRANSMITTER_RELEASE_CYCLE</text>
<text x="518.30" y="38.10" font-size="4.42">positive regulation of synapse assembly</text>
<text x="518.30" y="43.37" font-size="4.42">synapse assembly</text>
<text x="518.30" y="48.63" font-size="4.42">regulation of synaptic transmission, glutamatergic</text>
<text x="518.30" y="53.90" font-size="4.42">microtubule-based transport</text>
<text x="518.30" y="59.16" font-size="4.42">REACTOME_INTRA_GOLGI_AND_RETROGRADE_GOLGI_TO_ER_TRAFFIC</text>
<text x="518.30" y="64.43" font-size="4.42">microtubule cytoskeleton organization</text>
<text x="518.30" y="69.69" font-size="4.42">synapse organization</text>
<text x="518.30" y="74.96" font-size="4.42">regulation of synaptic plasticity</text>
<text x="518.30" y="80.23" font-size="4.42">regulation of trans-synaptic signaling</text>
<text x="518.30" y="85.49" font-size="4.42">synaptic signaling</text>
<text x="518.30" y="90.76" font-size="4.42">regulation of cell projection organization</text>
<text x="518.30" y="96.02" font-size="4.42">synaptic vesicle cycle</text>
<text x="518.30" y="101.29" font-size="4.42">neurotransmitter secretion</text>
<text x="518.30" y="106.56" font-size="4.42">action potential</text>
<text x="518.30" y="111.82" font-size="4.42">sodium ion transport</text>
<text x="518.30" y="117.09" font-size="4.42">regulation of neurotransmitter levels</text>
<text x="518.30" y="122.36" font-size="4.42" font-weight="bold" fill="#c8102e">synapse pruning</text>
<text x="518.30" y="127.62" font-size="4.42">regulation of superoxide metabolic process</text>
<text x="518.30" y="132.89" font-size="4.42">methylation</text>
<text x="518.30" y="138.15" font-size="4.42">protein polyubiquitination</text>
<text x="518.30" y="143.42" font-size="4.42">regulation of cellular catabolic process</text>
<text x="518.30" y="148.69" font-size="4.42">cellular response to stress</text>
<text x="518.30" y="153.95" font-size="4.42">regulation of cellular response to stress</text>
<text x="518.30" y="159.22" font-size="4.42">regulation of binding</text>
<text x="518.30" y="164.48" font-size="4.42">positive regulation of cell death</text>
<text x="518.30" y="169.75" font-size="4.42">regulation of apoptotic process</text>
<text x="518.30" y="175.01" font-size="4.42">protein phosphorylation</text>
<text x="518.30" y="180.28" font-size="4.42">regulation of secretion by cell</text>
<text x="518.30" y="185.55" font-size="4.42">calcium ion transport</text>
<text x="518.30" y="190.81" font-size="4.42">regulation of transmembrane transporter activity</text>
<text x="518.30" y="196.08" font-size="4.42">negative regulation of neuron apoptotic process</text>
<text transform="translate(218.98,200.50) rotate(-90)" font-size="3.6" text-anchor="end">Erythrocytes_C1</text>
<text transform="translate(226.74,200.50) rotate(-90)" font-size="3.6" text-anchor="end">Erythrocytes_M_3d</text>
<text transform="translate(234.50,200.50) rotate(-90)" font-size="3.6" text-anchor="end">Astrocytes_C1</text>
<text transform="translate(242.26,200.50) rotate(-90)" font-size="3.6" text-anchor="end">Astrocytes_M_3d</text>
<text transform="translate(250.02,200.50) rotate(-90)" font-size="3.6" text-anchor="end">Astrocytes_M_28d</text>
<text transform="translate(257.78,200.50) rotate(-90)" font-size="3.6" text-anchor="end">NPCs_C1</text>
<text transform="translate(265.54,200.50) rotate(-90)" font-size="3.6" text-anchor="end">NPCs_M_3d</text>
<text transform="translate(273.30,200.50) rotate(-90)" font-size="3.6" text-anchor="end">NPCs_M_28d</text>
<text transform="translate(281.06,200.50) rotate(-90)" font-size="3.6" text-anchor="end">Oligodendrocytes_C1</text>
<text transform="translate(288.82,200.50) rotate(-90)" font-size="3.6" text-anchor="end">Oligodendrocytes_M_3d</text>
<text transform="translate(296.58,200.50) rotate(-90)" font-size="3.6" text-anchor="end">Oligodendrocytes_M_28d</text>
<text transform="translate(304.34,200.50) rotate(-90)" font-size="3.6" text-anchor="end">OPCs_M_28d</text>
<text transform="translate(312.10,200.50) rotate(-90)" font-size="3.6" text-anchor="end">OPCs_C1</text>
<text transform="translate(319.86,200.50) rotate(-90)" font-size="3.6" text-anchor="end">OPCs_M_3d</text>
<text transform="translate(327.62,200.50) rotate(-90)" font-size="3.6" text-anchor="end">Erythrocytes_M_28d</text>
<text transform="translate(335.38,200.50) rotate(-90)" font-size="3.6" text-anchor="end">Fibroblasts_C1</text>
<text transform="translate(343.14,200.50) rotate(-90)" font-size="3.6" text-anchor="end">Fibroblasts_M_28d</text>
<text transform="translate(350.90,200.50) rotate(-90)" font-size="3.6" text-anchor="end">ECs_M_28d</text>
<text transform="translate(358.66,200.50) rotate(-90)" font-size="3.6" text-anchor="end">ECs_C1</text>
<text transform="translate(366.42,200.50) rotate(-90)" font-size="3.6" text-anchor="end">ECs_M_3d</text>
<text transform="translate(374.18,200.50) rotate(-90)" font-size="3.6" text-anchor="end">Pericytes_C1</text>
<text transform="translate(381.94,200.50) rotate(-90)" font-size="3.6" text-anchor="end">SMCs_C1</text>
<text transform="translate(389.70,200.50) rotate(-90)" font-size="3.6" text-anchor="end">Pericytes_M_28d</text>
<text transform="translate(397.46,200.50) rotate(-90)" font-size="3.6" text-anchor="end">SMCs_M_28d</text>
<text transform="translate(405.22,200.50) rotate(-90)" font-size="3.6" text-anchor="end">BCells_M_28d</text>
<text transform="translate(412.98,200.50) rotate(-90)" font-size="3.6" text-anchor="end">TandNK_M_28d</text>
<text transform="translate(420.74,200.50) rotate(-90)" font-size="3.6" text-anchor="end">Fibroblasts_M_3d</text>
<text transform="translate(428.50,200.50) rotate(-90)" font-size="3.6" text-anchor="end">Pericytes_M_3d</text>
<text transform="translate(436.26,200.50) rotate(-90)" font-size="3.6" text-anchor="end">SMCs_M_3d</text>
<text transform="translate(444.02,200.50) rotate(-90)" font-size="3.6" text-anchor="end">Monocytes_M_28d</text>
<text transform="translate(451.78,200.50) rotate(-90)" font-size="3.6" text-anchor="end">Monocytes_C1</text>
<text transform="translate(459.54,200.50) rotate(-90)" font-size="3.6" text-anchor="end">Monocytes_M_3d</text>
<text transform="translate(467.30,200.50) rotate(-90)" font-size="3.6" text-anchor="end" fill="#c8102e">MicroglialCell_M_28d</text>
<text transform="translate(475.06,200.50) rotate(-90)" font-size="3.6" text-anchor="end" fill="#c8102e">MicroglialCell_C1</text>
<text transform="translate(482.82,200.50) rotate(-90)" font-size="3.6" text-anchor="end" fill="#c8102e">MicroglialCell_M_3d</text>
<text transform="translate(490.58,200.50) rotate(-90)" font-size="3.6" text-anchor="end">TandNK_C1</text>
<text transform="translate(498.34,200.50) rotate(-90)" font-size="3.6" text-anchor="end">TandNK_M_3d</text>
<text transform="translate(506.10,200.50) rotate(-90)" font-size="3.6" text-anchor="end">BCells_C1</text>
<text transform="translate(513.86,200.50) rotate(-90)" font-size="3.6" text-anchor="end">BCells_M_3d</text>
<path d="M217.68 23.80V19.00H225.44V23.80M240.96 23.80V21.00H248.72V23.80M233.20 23.80V19.50H244.84V21.00M264.24 23.80V20.50H272.00V23.80M256.48 23.80V18.00H268.12V20.50M239.02 19.50V15.20H262.30V18.00M221.56 19.00V12.00H250.66V15.20M287.52 23.80V21.50H295.28V23.80M279.76 23.80V20.50H291.40V21.50M310.80 23.80V21.50H318.56V23.80M303.04 23.80V19.50H314.68V21.50M285.58 20.50V17.50H308.86V19.50M334.08 23.80V20.50H341.84V23.80M326.32 23.80V17.50H337.96V20.50M349.60 23.80V21.00H357.36V23.80M353.48 21.00V19.00H365.12V23.80M332.14 17.50V15.00H359.30V19.00M297.22 17.50V11.20H345.72V15.00M372.88 23.80V20.50H380.64V23.80M388.40 23.80V21.00H396.16V23.80M376.76 20.50V18.50H392.28V21.00M403.92 23.80V21.00H411.68V23.80M427.20 23.80V21.50H434.96V23.80M419.44 23.80V19.50H431.08V21.50M407.80 21.00V16.00H425.26V19.50M384.52 18.50V14.50H416.53V16.00M450.48 23.80V21.00H458.24V23.80M442.72 23.80V19.50H454.36V21.00M466.00 23.80V20.50H473.76V23.80M469.88 20.50V18.50H481.52V23.80M448.54 19.50V16.50H475.70V18.50M489.28 23.80V19.00H497.04V23.80M504.80 23.80V20.50H512.56V23.80M493.16 19.00V15.50H508.68V20.50M462.12 16.50V12.50H500.92V15.50M400.52 14.50V9.30H481.52V12.50M321.47 11.20V7.20H441.02V9.30M236.11 12.00V0.80H381.25V7.20" stroke="#555" stroke-width="0.45" fill="none"/>
<path d="M213.80 36.60H212.50V41.86H213.80M213.80 31.33H211.00V39.23H212.50M213.80 52.40H212.00V57.66H213.80M213.80 47.13H210.00V55.03H212.00M211.00 35.28H208.00V51.08H210.00M213.80 68.19H212.00V73.46H213.80M213.80 62.93H209.50V70.83H212.00M213.80 78.73H211.50V83.99H213.80M213.80 94.53H212.50V99.79H213.80M213.80 89.26H210.50V97.16H212.50M211.50 81.36H208.50V93.21H210.50M209.50 66.88H206.00V87.28H208.50M208.00 43.18H204.50V77.08H206.00M213.80 110.32H211.50V115.59H213.80M213.80 105.06H209.00V112.96H211.50M213.80 120.86H207.00V126.12H213.80M209.00 109.01H205.00V123.49H207.00M213.80 131.39H210.00V136.65H213.80M213.80 147.19H211.00V152.45H213.80M213.80 141.92H208.00V149.82H211.00M210.00 134.02H206.00V145.87H208.00M213.80 157.72H211.00V162.98H213.80M213.80 168.25H210.00V173.51H213.80M211.00 160.35H208.50V170.88H210.00M213.80 178.78H211.00V184.05H213.80M213.80 189.31H210.00V194.58H213.80M211.00 181.41H207.50V191.95H210.00M208.50 165.62H204.00V186.68H207.50M206.00 139.94H201.00V176.15H204.00M205.00 116.25H197.00V158.05H201.00M204.50 60.13H190.80V137.15H197.00" stroke="#555" stroke-width="0.45" fill="none"/>
<defs><linearGradient id="cbc" x1="0" y1="0" x2="0" y2="1"><stop offset="0" stop-color="#c8123e"/><stop offset="0.5" stop-color="#f7f7f7"/><stop offset="1" stop-color="#1296ca"/></linearGradient></defs>
<rect x="620.00" y="86.30" width="6.00" height="92.20" fill="url(#cbc)"/>
<text x="628.60" y="95.30" font-size="4.6" fill="#333">0.6</text>
<text x="628.60" y="110.60" font-size="4.6" fill="#333">0.4</text>
<text x="628.60" y="125.90" font-size="4.6" fill="#333">0.2</text>
<text x="628.60" y="141.20" font-size="4.6" fill="#333">0</text>
<text x="628.60" y="156.50" font-size="4.6" fill="#333">-0.2</text>
<text x="628.60" y="171.80" font-size="4.6" fill="#333">-0.4</text>
<text x="639.20" y="90.00" font-size="5.2" font-weight="bold">design</text>
<rect x="639.20" y="92.00" width="6.30" height="6.60" fill="#1c5ea6"/>
<text x="646.90" y="96.90" font-size="4.8">Astrocytes</text>
<rect x="639.20" y="99.05" width="6.30" height="6.60" fill="#e97f2e"/>
<text x="646.90" y="103.95" font-size="4.8">Oligodendrocytes</text>
<rect x="639.20" y="106.10" width="6.30" height="6.60" fill="#e22d33"/>
<text x="646.90" y="111.00" font-size="4.8">NPCs</text>
<rect x="639.20" y="113.15" width="6.30" height="6.60" fill="#8c55a4"/>
<text x="646.90" y="118.05" font-size="4.8">OPCs</text>
<rect x="639.20" y="120.20" width="6.30" height="6.60" fill="#a8525a"/>
<text x="646.90" y="125.10" font-size="4.8">ECs</text>
<rect x="639.20" y="127.25" width="6.30" height="6.60" fill="#e680b0"/>
<text x="646.90" y="132.15" font-size="4.8">Fibroblasts</text>
<rect x="639.20" y="134.30" width="6.30" height="6.60" fill="#9fae30"/>
<text x="646.90" y="139.20" font-size="4.8">Pericytes</text>
<rect x="639.20" y="141.35" width="6.30" height="6.60" fill="#19a8b6"/>
<text x="646.90" y="146.25" font-size="4.8">SMCs</text>
<rect x="639.20" y="148.40" width="6.30" height="6.60" fill="#6cbbe4"/>
<text x="646.90" y="153.30" font-size="4.8">BCells</text>
<rect x="639.20" y="155.45" width="6.30" height="6.60" fill="#f2b97e"/>
<text x="646.90" y="160.35" font-size="4.8">TandNK</text>
<rect x="639.20" y="162.50" width="6.30" height="6.60" fill="#c25a2a"/>
<text x="646.90" y="167.40" font-size="4.8">Monocytes</text>
<rect x="639.20" y="169.55" width="6.30" height="6.60" fill="#6b6e70"/>
<text x="646.90" y="174.45" font-size="4.8">MicroglialCells</text>
<rect x="639.20" y="176.60" width="6.30" height="6.60" fill="#e2c12a"/>
<text x="646.90" y="181.50" font-size="4.8">Erythrocytes</text>
<text x="167.60" y="245.40" font-size="11.5" font-weight="bold" fill="#000">d</text>
<rect x="180.20" y="249.60" width="10.85" height="7.35" fill="#a1d3e6"/>
<rect x="191.05" y="249.60" width="10.85" height="7.35" fill="#73bfdd"/>
<rect x="201.90" y="249.60" width="10.85" height="7.35" fill="#73bfdd"/>
<rect x="212.75" y="249.60" width="10.85" height="7.35" fill="#da6883"/>
<rect x="223.60" y="249.60" width="10.85" height="7.35" fill="#dd7991"/>
<rect x="234.45" y="249.60" width="10.85" height="7.35" fill="#dd7991"/>
<rect x="245.30" y="249.60" width="10.85" height="7.35" fill="#d44b6c"/>
<rect x="256.15" y="249.60" width="10.85" height="7.35" fill="#da6883"/>
<rect x="267.00" y="249.60" width="10.85" height="7.35" fill="#e0849a"/>
<rect x="277.85" y="249.60" width="10.85" height="7.35" fill="#f1dae0"/>
<rect x="288.70" y="249.60" width="10.85" height="7.35" fill="#f6f1f2"/>
<rect x="299.55" y="249.60" width="10.85" height="7.35" fill="#f1dae0"/>
<rect x="310.40" y="249.60" width="10.85" height="7.35" fill="#c9e4ee"/>
<rect x="321.25" y="249.60" width="10.85" height="7.35" fill="#daebf1"/>
<rect x="332.10" y="249.60" width="10.85" height="7.35" fill="#daebf1"/>
<rect x="342.95" y="249.60" width="10.85" height="7.35" fill="#f1dae0"/>
<rect x="353.80" y="249.60" width="10.85" height="7.35" fill="#c9e4ee"/>
<rect x="364.65" y="249.60" width="10.85" height="7.35" fill="#c9e4ee"/>
<rect x="375.50" y="249.60" width="10.85" height="7.35" fill="#a1d3e6"/>
<rect x="386.35" y="249.60" width="10.85" height="7.35" fill="#c9e4ee"/>
<rect x="397.20" y="249.60" width="10.85" height="7.35" fill="#a1d3e6"/>
<rect x="408.05" y="249.60" width="10.85" height="7.35" fill="#f0d5db"/>
<rect x="418.90" y="249.60" width="10.85" height="7.35" fill="#c9e4ee"/>
<rect x="429.75" y="249.60" width="10.85" height="7.35" fill="#f0d5db"/>
<rect x="440.60" y="249.60" width="10.85" height="7.35" fill="#c9e4ee"/>
<rect x="451.45" y="249.60" width="10.85" height="7.35" fill="#f7f7f7"/>
<rect x="462.30" y="249.60" width="10.85" height="7.35" fill="#f3e6e9"/>
<rect x="473.15" y="249.60" width="10.85" height="7.35" fill="#e0849a"/>
<rect x="484.00" y="249.60" width="10.85" height="7.35" fill="#da6883"/>
<rect x="494.85" y="249.60" width="10.85" height="7.35" fill="#e290a4"/>
<rect x="505.70" y="249.60" width="10.85" height="7.35" fill="#c9e4ee"/>
<rect x="516.55" y="249.60" width="10.85" height="7.35" fill="#68badb"/>
<rect x="527.40" y="249.60" width="10.85" height="7.35" fill="#68badb"/>
<rect x="538.25" y="249.60" width="10.85" height="7.35" fill="#e0849a"/>
<rect x="549.10" y="249.60" width="10.85" height="7.35" fill="#dd7991"/>
<rect x="559.95" y="249.60" width="10.85" height="7.35" fill="#e5a1b2"/>
<rect x="570.80" y="249.60" width="10.85" height="7.35" fill="#79c2de"/>
<rect x="581.65" y="249.60" width="10.85" height="7.35" fill="#84c6e0"/>
<rect x="592.50" y="249.60" width="10.85" height="7.35" fill="#2fa2d0"/>
<rect x="180.20" y="256.95" width="10.85" height="7.35" fill="#f6f1f2"/>
<rect x="191.05" y="256.95" width="10.85" height="7.35" fill="#f7f7f7"/>
<rect x="201.90" y="256.95" width="10.85" height="7.35" fill="#f7f7f7"/>
<rect x="212.75" y="256.95" width="10.85" height="7.35" fill="#68badb"/>
<rect x="223.60" y="256.95" width="10.85" height="7.35" fill="#68badb"/>
<rect x="234.45" y="256.95" width="10.85" height="7.35" fill="#68badb"/>
<rect x="245.30" y="256.95" width="10.85" height="7.35" fill="#84c6e0"/>
<rect x="256.15" y="256.95" width="10.85" height="7.35" fill="#84c6e0"/>
<rect x="267.00" y="256.95" width="10.85" height="7.35" fill="#79c2de"/>
<rect x="277.85" y="256.95" width="10.85" height="7.35" fill="#68badb"/>
<rect x="288.70" y="256.95" width="10.85" height="7.35" fill="#68badb"/>
<rect x="299.55" y="256.95" width="10.85" height="7.35" fill="#68badb"/>
<rect x="310.40" y="256.95" width="10.85" height="7.35" fill="#f7f7f7"/>
<rect x="321.25" y="256.95" width="10.85" height="7.35" fill="#f7f7f7"/>
<rect x="332.10" y="256.95" width="10.85" height="7.35" fill="#f7f7f7"/>
<rect x="342.95" y="256.95" width="10.85" height="7.35" fill="#f3e6e9"/>
<rect x="353.80" y="256.95" width="10.85" height="7.35" fill="#f1dae0"/>
<rect x="364.65" y="256.95" width="10.85" height="7.35" fill="#e5a1b2"/>
<rect x="375.50" y="256.95" width="10.85" height="7.35" fill="#daebf1"/>
<rect x="386.35" y="256.95" width="10.85" height="7.35" fill="#f3e6e9"/>
<rect x="397.20" y="256.95" width="10.85" height="7.35" fill="#daebf1"/>
<rect x="408.05" y="256.95" width="10.85" height="7.35" fill="#84c6e0"/>
<rect x="418.90" y="256.95" width="10.85" height="7.35" fill="#c9e4ee"/>
<rect x="429.75" y="256.95" width="10.85" height="7.35" fill="#84c6e0"/>
<rect x="440.60" y="256.95" width="10.85" height="7.35" fill="#ebbec9"/>
<rect x="451.45" y="256.95" width="10.85" height="7.35" fill="#ecf2f5"/>
<rect x="462.30" y="256.95" width="10.85" height="7.35" fill="#f5ecee"/>
<rect x="473.15" y="256.95" width="10.85" height="7.35" fill="#da6883"/>
<rect x="484.00" y="256.95" width="10.85" height="7.35" fill="#e290a4"/>
<rect x="494.85" y="256.95" width="10.85" height="7.35" fill="#e5a1b2"/>
<rect x="505.70" y="256.95" width="10.85" height="7.35" fill="#eec9d2"/>
<rect x="516.55" y="256.95" width="10.85" height="7.35" fill="#ebbec9"/>
<rect x="527.40" y="256.95" width="10.85" height="7.35" fill="#eec9d2"/>
<rect x="538.25" y="256.95" width="10.85" height="7.35" fill="#c8123e"/>
<rect x="549.10" y="256.95" width="10.85" height="7.35" fill="#c8123e"/>
<rect x="559.95" y="256.95" width="10.85" height="7.35" fill="#ca1d47"/>
<rect x="570.80" y="256.95" width="10.85" height="7.35" fill="#f7f7f7"/>
<rect x="581.65" y="256.95" width="10.85" height="7.35" fill="#f5ecee"/>
<rect x="592.50" y="256.95" width="10.85" height="7.35" fill="#f7f7f7"/>
<path d="M191.05 249.60V264.30M201.90 249.60V264.30M212.75 249.60V264.30M223.60 249.60V264.30M234.45 249.60V264.30M245.30 249.60V264.30M256.15 249.60V264.30M267.00 249.60V264.30M277.85 249.60V264.30M288.70 249.60V264.30M299.55 249.60V264.30M310.40 249.60V264.30M321.25 249.60V264.30M332.10 249.60V264.30M342.95 249.60V264.30M353.80 249.60V264.30M364.65 249.60V264.30M375.50 249.60V264.30M386.35 249.60V264.30M397.20 249.60V264.30M408.05 249.60V264.30M418.90 249.60V264.30M429.75 249.60V264.30M440.60 249.60V264.30M451.45 249.60V264.30M462.30 249.60V264.30M473.15 249.60V264.30M484.00 249.60V264.30M494.85 249.60V264.30M505.70 249.60V264.30M516.55 249.60V264.30M527.40 249.60V264.30M538.25 249.60V264.30M549.10 249.60V264.30M559.95 249.60V264.30M570.80 249.60V264.30M581.65 249.60V264.30M592.50 249.60V264.30M180.20 256.95H603.35" stroke="#ffffff" stroke-width="0.5" fill="none"/>
<rect x="180.20" y="249.60" width="423.15" height="14.70" fill="none" stroke="#555" stroke-width="0.6"/>
<text x="605.00" y="254.80" font-size="6.6">proliferation</text>
<text x="605.00" y="263.20" font-size="6.6">chemokine</text>
<text transform="translate(186.93,266.80) rotate(-90)" font-size="6.7" text-anchor="end">Astrocytes_C1</text>
<text transform="translate(197.78,266.80) rotate(-90)" font-size="6.7" text-anchor="end">Astrocytes_M_3d</text>
<text transform="translate(208.62,266.80) rotate(-90)" font-size="6.7" text-anchor="end">Astrocytes_M_28d</text>
<text transform="translate(219.48,266.80) rotate(-90)" font-size="6.7" text-anchor="end">Oligodendrocytes_C1</text>
<text transform="translate(230.33,266.80) rotate(-90)" font-size="6.7" text-anchor="end">Oligodendrocytes_M_3d</text>
<text transform="translate(241.18,266.80) rotate(-90)" font-size="6.7" text-anchor="end">Oligodendrocytes_M_28d</text>
<text transform="translate(252.03,266.80) rotate(-90)" font-size="6.7" text-anchor="end">NPCs_C1</text>
<text transform="translate(262.88,266.80) rotate(-90)" font-size="6.7" text-anchor="end">NPCs_M_3d</text>
<text transform="translate(273.73,266.80) rotate(-90)" font-size="6.7" text-anchor="end">NPCs_M_28d</text>
<text transform="translate(284.57,266.80) rotate(-90)" font-size="6.7" text-anchor="end">OPCs_C1</text>
<text transform="translate(295.43,266.80) rotate(-90)" font-size="6.7" text-anchor="end">OPCs_M_3d</text>
<text transform="translate(306.27,266.80) rotate(-90)" font-size="6.7" text-anchor="end">OPCs_M_28d</text>
<text transform="translate(317.12,266.80) rotate(-90)" font-size="6.7" text-anchor="end">ECs_C1</text>
<text transform="translate(327.98,266.80) rotate(-90)" font-size="6.7" text-anchor="end">ECs_M_3d</text>
<text transform="translate(338.83,266.80) rotate(-90)" font-size="6.7" text-anchor="end">ECs_M_28d</text>
<text transform="translate(349.68,266.80) rotate(-90)" font-size="6.7" text-anchor="end">Fibroblasts_C1</text>
<text transform="translate(360.52,266.80) rotate(-90)" font-size="6.7" text-anchor="end">Fibroblasts_M_3d</text>
<text transform="translate(371.38,266.80) rotate(-90)" font-size="6.7" text-anchor="end">Fibroblasts_M_28d</text>
<text transform="translate(382.23,266.80) rotate(-90)" font-size="6.7" text-anchor="end">Pericytes_C1</text>
<text transform="translate(393.08,266.80) rotate(-90)" font-size="6.7" text-anchor="end">Pericytes_M_3d</text>
<text transform="translate(403.93,266.80) rotate(-90)" font-size="6.7" text-anchor="end">Pericytes_M_28d</text>
<text transform="translate(414.77,266.80) rotate(-90)" font-size="6.7" text-anchor="end">SMCs_C1</text>
<text transform="translate(425.62,266.80) rotate(-90)" font-size="6.7" text-anchor="end">SMCs_M_3d</text>
<text transform="translate(436.48,266.80) rotate(-90)" font-size="6.7" text-anchor="end">SMCs_M_28d</text>
<text transform="translate(447.32,266.80) rotate(-90)" font-size="6.7" text-anchor="end">BCells_C1</text>
<text transform="translate(458.18,266.80) rotate(-90)" font-size="6.7" text-anchor="end">BCells_M_3d</text>
<text transform="translate(469.02,266.80) rotate(-90)" font-size="6.7" text-anchor="end">BCells_M_28d</text>
<text transform="translate(479.88,266.80) rotate(-90)" font-size="6.7" text-anchor="end">TandNK_C1</text>
<text transform="translate(490.73,266.80) rotate(-90)" font-size="6.7" text-anchor="end">TandNK_M_3d</text>
<text transform="translate(501.57,266.80) rotate(-90)" font-size="6.7" text-anchor="end">TandNK_M_28d</text>
<text transform="translate(512.42,266.80) rotate(-90)" font-size="6.7" text-anchor="end">Monocytes_C1</text>
<text transform="translate(523.27,266.80) rotate(-90)" font-size="6.7" text-anchor="end">Monocytes_M_3d</text>
<text transform="translate(534.12,266.80) rotate(-90)" font-size="6.7" text-anchor="end">Monocytes_M_28d</text>
<text transform="translate(544.97,266.80) rotate(-90)" font-size="6.7" text-anchor="end" fill="#c8102e">MicroglialCell_C1</text>
<text transform="translate(555.82,266.80) rotate(-90)" font-size="6.7" text-anchor="end" fill="#c8102e">MicroglialCell_M_3d</text>
<text transform="translate(566.67,266.80) rotate(-90)" font-size="6.7" text-anchor="end" fill="#c8102e">MicroglialCell_M_28d</text>
<text transform="translate(577.52,266.80) rotate(-90)" font-size="6.7" text-anchor="end">Erythrocytes_C1</text>
<text transform="translate(588.37,266.80) rotate(-90)" font-size="6.7" text-anchor="end">Erythrocytes_M_3d</text>
<text transform="translate(599.22,266.80) rotate(-90)" font-size="6.7" text-anchor="end">Erythrocytes_M_28d</text>
<defs><linearGradient id="cbd" x1="0" y1="0" x2="0" y2="1"><stop offset="0" stop-color="#c8123e"/><stop offset="0.5" stop-color="#f7f7f7"/><stop offset="1" stop-color="#1296ca"/></linearGradient></defs>
<rect x="657.00" y="249.60" width="7.00" height="36.50" fill="url(#cbd)"/>
<text x="665.50" y="253.50" font-size="6.4" fill="#333">4</text>
<text x="665.50" y="261.75" font-size="6.4" fill="#333">2</text>
<text x="665.50" y="270.00" font-size="6.4" fill="#333">0</text>
<text x="665.50" y="278.25" font-size="6.4" fill="#333">-2</text>
<text x="665.50" y="286.50" font-size="6.4" fill="#333">-4</text>
<text x="0.40" y="367.10" font-size="11.5" font-weight="bold" fill="#000">e</text>
<text x="42.00" y="364.00" font-size="11.2" fill="#c0223f">Microglia</text>
<rect x="51.00" y="393.90" width="7.22" height="9.53" fill="#bedfec"/>
<rect x="58.22" y="393.90" width="7.22" height="9.53" fill="#b2daea"/>
<rect x="65.44" y="393.90" width="7.22" height="9.53" fill="#b2daea"/>
<rect x="72.66" y="393.90" width="7.22" height="9.53" fill="#b2daea"/>
<rect x="79.88" y="393.90" width="7.22" height="9.53" fill="#84c6e0"/>
<rect x="87.10" y="393.90" width="7.22" height="9.53" fill="#e9b2c0"/>
<rect x="94.32" y="393.90" width="7.22" height="9.53" fill="#d65776"/>
<rect x="101.54" y="393.90" width="7.22" height="9.53" fill="#ce2f55"/>
<rect x="51.00" y="403.43" width="7.22" height="9.53" fill="#e5a1b2"/>
<rect x="58.22" y="403.43" width="7.22" height="9.53" fill="#e5a1b2"/>
<rect x="65.44" y="403.43" width="7.22" height="9.53" fill="#e290a4"/>
<rect x="72.66" y="403.43" width="7.22" height="9.53" fill="#f3e6e9"/>
<rect x="79.88" y="403.43" width="7.22" height="9.53" fill="#e5a1b2"/>
<rect x="87.10" y="403.43" width="7.22" height="9.53" fill="#d44b6c"/>
<rect x="94.32" y="403.43" width="7.22" height="9.53" fill="#eec9d2"/>
<rect x="101.54" y="403.43" width="7.22" height="9.53" fill="#f3e6e9"/>
<rect x="51.00" y="412.96" width="7.22" height="9.53" fill="#f7f7f7"/>
<rect x="58.22" y="412.96" width="7.22" height="9.53" fill="#c9e4ee"/>
<rect x="65.44" y="412.96" width="7.22" height="9.53" fill="#a1d3e6"/>
<rect x="72.66" y="412.96" width="7.22" height="9.53" fill="#b2daea"/>
<rect x="79.88" y="412.96" width="7.22" height="9.53" fill="#84c6e0"/>
<rect x="87.10" y="412.96" width="7.22" height="9.53" fill="#4baed5"/>
<rect x="94.32" y="412.96" width="7.22" height="9.53" fill="#79c2de"/>
<rect x="101.54" y="412.96" width="7.22" height="9.53" fill="#1d9bcc"/>
<path d="M58.22 393.90V422.49M65.44 393.90V422.49M72.66 393.90V422.49M79.88 393.90V422.49M87.10 393.90V422.49M94.32 393.90V422.49M101.54 393.90V422.49M51.00 403.43H108.76M51.00 412.96H108.76" stroke="#ffffff" stroke-width="0.5" fill="none"/>
<text x="48.00" y="401.06" font-size="6.9" text-anchor="end" fill="#333">C1</text>
<text x="48.00" y="410.59" font-size="6.9" text-anchor="end" fill="#333">M_3d</text>
<text x="48.00" y="420.12" font-size="6.9" text-anchor="end" fill="#333">M_28d</text>
<text transform="translate(56.91,425.30) rotate(-90)" font-size="6.6" text-anchor="end" fill="#333">microglia_polarization</text>
<text transform="translate(64.13,425.30) rotate(-90)" font-size="6.6" text-anchor="end" fill="#333">inflammatory response</text>
<text transform="translate(71.35,425.30) rotate(-90)" font-size="6.6" text-anchor="end" fill="#333">immune response</text>
<text transform="translate(78.57,425.30) rotate(-90)" font-size="6.6" text-anchor="end" fill="#333">complement activation</text>
<text transform="translate(85.79,425.30) rotate(-90)" font-size="6.6" text-anchor="end" fill="#333">microglial cell activation</text>
<text transform="translate(93.01,425.30) rotate(-90)" font-size="6.6" text-anchor="end" fill="#333">chemokine</text>
<text transform="translate(100.23,425.30) rotate(-90)" font-size="6.6" text-anchor="end" fill="#333">Complement and coagulation cascades</text>
<text transform="translate(107.45,425.30) rotate(-90)" font-size="6.6" text-anchor="end" fill="#333">Proliferation</text>
<path d="M54.61 393.90V391.40H61.83V393.90M58.22 391.40V389.20H69.05V393.90M63.63 389.20V387.00H76.27V393.90M69.95 387.00V385.30H83.49V393.90M76.72 385.30V377.20H90.71V393.90M97.93 393.90V381.60H105.15V393.90M83.72 377.20V365.50H101.54V381.60" stroke="#333" stroke-width="0.5" fill="none"/>
<defs><linearGradient id="cbe" x1="0" y1="0" x2="0" y2="1"><stop offset="0" stop-color="#c8123e"/><stop offset="0.5" stop-color="#f7f7f7"/><stop offset="1" stop-color="#1296ca"/></linearGradient></defs>
<rect x="26.80" y="444.60" width="3.20" height="44.20" fill="url(#cbe)"/>
<text x="31.60" y="450.50" font-size="6.6" fill="#333">0.4</text>
<text x="31.60" y="459.75" font-size="6.6" fill="#333">0.2</text>
<text x="31.60" y="469.00" font-size="6.6" fill="#333">0</text>
<text x="31.60" y="478.25" font-size="6.6" fill="#333">-0.2</text>
<text x="31.60" y="487.50" font-size="6.6" fill="#333">-0.4</text>
<text x="133.00" y="366.80" font-size="11.5" font-weight="bold" fill="#000">f</text>
<path d="M172.0 413.7L206.0 374.0M172.0 413.7L210.4 378.5M172.0 413.7L219.3 387.6M172.0 413.7L223.8 392.1M172.0 413.7L228.2 396.6M172.0 413.7L232.6 401.2M172.0 413.7L237.1 405.7M172.0 413.7L241.5 410.2M172.0 413.7L250.4 419.3M172.0 413.7L254.8 423.8M172.0 413.7L259.3 428.4M172.0 413.7L272.6 441.9M172.0 413.7L285.9 455.5M172.0 413.7L290.4 460.1M172.0 413.7L294.8 464.6M172.0 413.7L299.2 469.1M172.0 413.7L303.7 473.7M172.0 413.7L308.1 478.2M172.0 413.7L312.6 482.7M172.0 413.7L317.0 487.2M172.0 413.7L321.4 491.8M172.0 413.7L325.9 496.3M172.0 413.7L330.3 500.8M172.0 413.7L339.2 509.9M172.0 413.7L343.6 514.4M183.0 426.0L206.0 374.0M183.0 426.0L214.9 383.1M183.0 426.0L219.3 387.6M183.0 426.0L241.5 410.2M183.0 426.0L246.0 414.8M183.0 426.0L250.4 419.3M183.0 426.0L254.8 423.8M183.0 426.0L263.7 432.9M183.0 426.0L272.6 441.9M183.0 426.0L285.9 455.5M183.0 426.0L290.4 460.1M183.0 426.0L299.2 469.1M183.0 426.0L308.1 478.2M183.0 426.0L312.6 482.7M183.0 426.0L317.0 487.2M183.0 426.0L325.9 496.3M183.0 426.0L330.3 500.8M183.0 426.0L334.8 505.4M194.5 438.0L206.0 374.0M194.5 438.0L210.4 378.5M194.5 438.0L214.9 383.1M194.5 438.0L219.3 387.6M194.5 438.0L228.2 396.6M194.5 438.0L232.6 401.2M194.5 438.0L237.1 405.7M194.5 438.0L241.5 410.2M194.5 438.0L250.4 419.3M194.5 438.0L254.8 423.8M194.5 438.0L259.3 428.4M194.5 438.0L263.7 432.9M194.5 438.0L268.2 437.4M194.5 438.0L272.6 441.9M194.5 438.0L285.9 455.5M194.5 438.0L294.8 464.6M194.5 438.0L299.2 469.1M194.5 438.0L308.1 478.2M194.5 438.0L312.6 482.7M194.5 438.0L321.4 491.8M194.5 438.0L325.9 496.3M194.5 438.0L334.8 505.4M194.5 438.0L339.2 509.9M194.5 438.0L343.6 514.4M205.0 451.0L206.0 374.0M205.0 451.0L210.4 378.5M205.0 451.0L214.9 383.1M205.0 451.0L219.3 387.6M205.0 451.0L223.8 392.1M205.0 451.0L228.2 396.6M205.0 451.0L237.1 405.7M205.0 451.0L241.5 410.2M205.0 451.0L250.4 419.3M205.0 451.0L254.8 423.8M205.0 451.0L268.2 437.4M205.0 451.0L272.6 441.9M205.0 451.0L285.9 455.5M205.0 451.0L299.2 469.1M205.0 451.0L303.7 473.7M205.0 451.0L308.1 478.2M205.0 451.0L312.6 482.7M205.0 451.0L321.4 491.8M205.0 451.0L330.3 500.8M205.0 451.0L339.2 509.9M205.0 451.0L343.6 514.4M216.0 463.4L206.0 374.0M216.0 463.4L214.9 383.1M216.0 463.4L219.3 387.6M216.0 463.4L223.8 392.1M216.0 463.4L232.6 401.2M216.0 463.4L237.1 405.7M216.0 463.4L246.0 414.8M216.0 463.4L250.4 419.3M216.0 463.4L254.8 423.8M216.0 463.4L259.3 428.4M216.0 463.4L263.7 432.9M216.0 463.4L268.2 437.4M216.0 463.4L272.6 441.9M216.0 463.4L277.0 446.5M216.0 463.4L281.5 451.0M216.0 463.4L285.9 455.5M216.0 463.4L299.2 469.1M216.0 463.4L308.1 478.2M216.0 463.4L312.6 482.7M216.0 463.4L317.0 487.2M216.0 463.4L321.4 491.8M216.0 463.4L339.2 509.9M216.0 463.4L343.6 514.4M227.7 475.4L206.0 374.0M227.7 475.4L214.9 383.1M227.7 475.4L223.8 392.1M227.7 475.4L228.2 396.6M227.7 475.4L259.3 428.4M227.7 475.4L277.0 446.5M227.7 475.4L290.4 460.1M227.7 475.4L294.8 464.6M227.7 475.4L299.2 469.1M227.7 475.4L303.7 473.7M227.7 475.4L308.1 478.2M227.7 475.4L312.6 482.7M227.7 475.4L317.0 487.2M227.7 475.4L334.8 505.4M227.7 475.4L343.6 514.4M238.5 488.0L206.0 374.0M238.5 488.0L214.9 383.1M238.5 488.0L223.8 392.1M238.5 488.0L228.2 396.6M238.5 488.0L232.6 401.2M238.5 488.0L237.1 405.7M238.5 488.0L246.0 414.8M238.5 488.0L250.4 419.3M238.5 488.0L259.3 428.4M238.5 488.0L263.7 432.9M238.5 488.0L268.2 437.4M238.5 488.0L277.0 446.5M238.5 488.0L281.5 451.0M238.5 488.0L290.4 460.1M238.5 488.0L294.8 464.6M238.5 488.0L303.7 473.7M238.5 488.0L312.6 482.7M238.5 488.0L317.0 487.2M238.5 488.0L334.8 505.4M238.5 488.0L339.2 509.9M238.5 488.0L343.6 514.4M250.0 500.8L206.0 374.0M250.0 500.8L210.4 378.5M250.0 500.8L232.6 401.2M250.0 500.8L237.1 405.7M250.0 500.8L241.5 410.2M250.0 500.8L246.0 414.8M250.0 500.8L250.4 419.3M250.0 500.8L254.8 423.8M250.0 500.8L259.3 428.4M250.0 500.8L263.7 432.9M250.0 500.8L268.2 437.4M250.0 500.8L281.5 451.0M250.0 500.8L285.9 455.5M250.0 500.8L290.4 460.1M250.0 500.8L299.2 469.1M250.0 500.8L308.1 478.2M250.0 500.8L312.6 482.7M250.0 500.8L321.4 491.8M250.0 500.8L325.9 496.3M250.0 500.8L330.3 500.8M250.0 500.8L334.8 505.4M250.0 500.8L343.6 514.4" stroke="#bbbbbb" stroke-width="0.38" fill="none"/>
<path d="M172.0 413.7L246.0 414.8M172.0 413.7L263.7 432.9M172.0 413.7L268.2 437.4M183.0 426.0L210.4 378.5M183.0 426.0L237.1 405.7M183.0 426.0L259.3 428.4M183.0 426.0L321.4 491.8M183.0 426.0L343.6 514.4M194.5 438.0L223.8 392.1M194.5 438.0L246.0 414.8M194.5 438.0L281.5 451.0M194.5 438.0L330.3 500.8M205.0 451.0L263.7 432.9M205.0 451.0L277.0 446.5M205.0 451.0L325.9 496.3M216.0 463.4L210.4 378.5M216.0 463.4L303.7 473.7M216.0 463.4L330.3 500.8M227.7 475.4L210.4 378.5M227.7 475.4L232.6 401.2M227.7 475.4L241.5 410.2M227.7 475.4L246.0 414.8M227.7 475.4L250.4 419.3M227.7 475.4L263.7 432.9M227.7 475.4L281.5 451.0M227.7 475.4L330.3 500.8M227.7 475.4L339.2 509.9M238.5 488.0L219.3 387.6M238.5 488.0L241.5 410.2M238.5 488.0L272.6 441.9M238.5 488.0L308.1 478.2M238.5 488.0L321.4 491.8M250.0 500.8L223.8 392.1M250.0 500.8L303.7 473.7M250.0 500.8L317.0 487.2" stroke="#8583c4" stroke-width="0.5" fill="none" stroke-opacity="0.85"/>
<path d="M172.0 413.7L334.8 505.4M183.0 426.0L232.6 401.2M183.0 426.0L268.2 437.4M183.0 426.0L281.5 451.0M194.5 438.0L290.4 460.1M194.5 438.0L303.7 473.7M205.0 451.0L246.0 414.8M205.0 451.0L259.3 428.4M205.0 451.0L294.8 464.6M205.0 451.0L334.8 505.4M216.0 463.4L228.2 396.6M216.0 463.4L290.4 460.1M227.7 475.4L237.1 405.7M227.7 475.4L268.2 437.4M227.7 475.4L272.6 441.9M227.7 475.4L285.9 455.5M227.7 475.4L325.9 496.3M238.5 488.0L210.4 378.5M238.5 488.0L285.9 455.5M238.5 488.0L299.2 469.1M238.5 488.0L330.3 500.8M250.0 500.8L214.9 383.1M250.0 500.8L219.3 387.6M250.0 500.8L272.6 441.9M250.0 500.8L294.8 464.6M250.0 500.8L339.2 509.9" stroke="#e08a3c" stroke-width="0.7" fill="none" stroke-opacity="0.9"/>
<path d="M172.0 413.7L214.9 383.1M172.0 413.7L277.0 446.5M172.0 413.7L281.5 451.0M183.0 426.0L223.8 392.1M183.0 426.0L228.2 396.6M183.0 426.0L277.0 446.5M183.0 426.0L294.8 464.6M183.0 426.0L303.7 473.7M183.0 426.0L339.2 509.9M194.5 438.0L277.0 446.5M194.5 438.0L317.0 487.2M205.0 451.0L232.6 401.2M205.0 451.0L281.5 451.0M205.0 451.0L290.4 460.1M205.0 451.0L317.0 487.2M216.0 463.4L241.5 410.2M216.0 463.4L294.8 464.6M216.0 463.4L325.9 496.3M216.0 463.4L334.8 505.4M227.7 475.4L219.3 387.6M227.7 475.4L254.8 423.8M227.7 475.4L321.4 491.8M238.5 488.0L254.8 423.8M238.5 488.0L325.9 496.3M250.0 500.8L228.2 396.6M250.0 500.8L277.0 446.5" stroke="#1b9a78" stroke-width="0.85" fill="none" stroke-opacity="0.9"/>
<rect x="207.20" y="370.40" width="4.44" height="4.53" fill="#d21e4e"/>
<rect x="211.64" y="370.40" width="4.44" height="4.53" fill="#e8a6b7" stroke="#b0b0b0" stroke-width="0.35"/>
<rect x="211.96" y="370.76" width="3.81" height="3.81" fill="#d8456c"/>
<rect x="216.08" y="370.40" width="4.44" height="4.53" fill="#e8a7b9" stroke="#b0b0b0" stroke-width="0.35"/>
<rect x="216.42" y="370.78" width="3.77" height="3.77" fill="#d9496f"/>
<rect x="220.52" y="370.40" width="4.44" height="4.53" fill="#eab1c0" stroke="#b0b0b0" stroke-width="0.35"/>
<rect x="220.97" y="370.89" width="3.55" height="3.55" fill="#dc5d7f"/>
<rect x="224.96" y="370.40" width="4.44" height="4.53" fill="#f1dfe4" stroke="#b0b0b0" stroke-width="0.35"/>
<rect x="225.96" y="371.44" width="2.45" height="2.45" fill="#edc4cf"/>
<rect x="229.40" y="370.40" width="4.44" height="4.53" fill="#ebb5c3" stroke="#b0b0b0" stroke-width="0.35"/>
<rect x="229.90" y="370.94" width="3.45" height="3.45" fill="#de6786"/>
<rect x="233.84" y="370.40" width="4.44" height="4.53" fill="#eeccd5" stroke="#b0b0b0" stroke-width="0.35"/>
<rect x="234.61" y="371.22" width="2.89" height="2.89" fill="#e69aae"/>
<rect x="238.28" y="370.40" width="4.44" height="4.53" fill="#e7a1b4" stroke="#b0b0b0" stroke-width="0.35"/>
<rect x="238.58" y="370.75" width="3.84" height="3.84" fill="#d73b64"/>
<rect x="242.72" y="370.40" width="4.44" height="4.53" fill="#efcfd8" stroke="#b0b0b0" stroke-width="0.35"/>
<rect x="243.53" y="371.26" width="2.82" height="2.82" fill="#e7a1b4"/>
<rect x="247.16" y="370.40" width="4.44" height="4.53" fill="#f1dae0" stroke="#b0b0b0" stroke-width="0.35"/>
<rect x="248.10" y="371.39" width="2.55" height="2.55" fill="#ebbac7"/>
<rect x="251.60" y="370.40" width="4.44" height="4.53" fill="#f1f1f3" stroke="#b0b0b0" stroke-width="0.35"/>
<rect x="252.81" y="371.65" width="2.02" height="2.02" fill="#ececf1"/>
<rect x="256.04" y="370.40" width="4.44" height="4.53" fill="#f0eff2" stroke="#b0b0b0" stroke-width="0.35"/>
<rect x="257.23" y="371.64" width="2.05" height="2.05" fill="#e9e9ef"/>
<rect x="260.48" y="370.40" width="4.44" height="4.53" fill="#e0dfeb" stroke="#b0b0b0" stroke-width="0.35"/>
<rect x="261.48" y="371.45" width="2.44" height="2.44" fill="#c6c5df"/>
<rect x="264.92" y="370.40" width="4.44" height="4.53" fill="#f0d5dc" stroke="#b0b0b0" stroke-width="0.35"/>
<rect x="265.80" y="371.33" width="2.67" height="2.67" fill="#eaafbe"/>
<rect x="269.36" y="370.40" width="4.44" height="4.53" fill="#efd2da" stroke="#b0b0b0" stroke-width="0.35"/>
<rect x="270.20" y="371.29" width="2.75" height="2.75" fill="#e8a7b8"/>
<rect x="273.80" y="370.40" width="4.44" height="4.53" fill="#dedeea" stroke="#b0b0b0" stroke-width="0.35"/>
<rect x="274.78" y="371.43" width="2.48" height="2.48" fill="#c3c1dd"/>
<rect x="278.24" y="370.40" width="4.44" height="4.53" fill="#ebb5c3" stroke="#b0b0b0" stroke-width="0.35"/>
<rect x="278.74" y="370.94" width="3.44" height="3.44" fill="#de6787"/>
<rect x="282.68" y="370.40" width="4.44" height="4.53" fill="#f0d9df" stroke="#b0b0b0" stroke-width="0.35"/>
<rect x="283.61" y="371.37" width="2.58" height="2.58" fill="#ebb7c5"/>
<rect x="287.12" y="370.40" width="4.44" height="4.53" fill="#efd1d9" stroke="#b0b0b0" stroke-width="0.35"/>
<rect x="287.96" y="371.28" width="2.77" height="2.77" fill="#e8a6b8"/>
<rect x="291.56" y="370.40" width="4.44" height="4.53" fill="#efd2da" stroke="#b0b0b0" stroke-width="0.35"/>
<rect x="292.41" y="371.29" width="2.74" height="2.74" fill="#e9a8b9"/>
<rect x="296.00" y="370.40" width="4.44" height="4.53" fill="#eab4c3" stroke="#b0b0b0" stroke-width="0.35"/>
<rect x="296.49" y="370.93" width="3.46" height="3.46" fill="#de6585"/>
<rect x="300.44" y="370.40" width="4.44" height="4.53" fill="#ecbbc8" stroke="#b0b0b0" stroke-width="0.35"/>
<rect x="301.01" y="371.02" width="3.29" height="3.29" fill="#e07591"/>
<rect x="304.88" y="370.40" width="4.44" height="4.53" fill="#e7a1b4" stroke="#b0b0b0" stroke-width="0.35"/>
<rect x="305.18" y="370.75" width="3.84" height="3.84" fill="#d73b65"/>
<rect x="309.32" y="370.40" width="4.44" height="4.53" fill="#e9aebe" stroke="#b0b0b0" stroke-width="0.35"/>
<rect x="309.74" y="370.86" width="3.61" height="3.61" fill="#db577b"/>
<rect x="313.76" y="370.40" width="4.44" height="4.53" fill="#e79db1" stroke="#b0b0b0" stroke-width="0.35"/>
<rect x="314.06" y="370.75" width="3.84" height="3.84" fill="#d5325e"/>
<rect x="318.20" y="370.40" width="4.44" height="4.53" fill="#e699ae" stroke="#b0b0b0" stroke-width="0.35"/>
<rect x="318.50" y="370.75" width="3.84" height="3.84" fill="#d42957"/>
<rect x="322.64" y="370.40" width="4.44" height="4.53" fill="#e69aaf" stroke="#b0b0b0" stroke-width="0.35"/>
<rect x="322.94" y="370.75" width="3.84" height="3.84" fill="#d42c59"/>
<rect x="327.08" y="370.40" width="4.44" height="4.53" fill="#e8a7b9" stroke="#b0b0b0" stroke-width="0.35"/>
<rect x="327.41" y="370.78" width="3.77" height="3.77" fill="#d9486f"/>
<rect x="331.52" y="370.40" width="4.44" height="4.53" fill="#e8a8b9" stroke="#b0b0b0" stroke-width="0.35"/>
<rect x="331.86" y="370.79" width="3.76" height="3.76" fill="#d94a70"/>
<rect x="335.96" y="370.40" width="4.44" height="4.53" fill="#eab0c0" stroke="#b0b0b0" stroke-width="0.35"/>
<rect x="336.40" y="370.89" width="3.56" height="3.56" fill="#dc5c7e"/>
<rect x="340.40" y="370.40" width="4.44" height="4.53" fill="#e9adbd" stroke="#b0b0b0" stroke-width="0.35"/>
<rect x="340.80" y="370.84" width="3.64" height="3.64" fill="#db5478"/>
<rect x="344.84" y="370.40" width="4.44" height="4.53" fill="#e9e9ef" stroke="#b0b0b0" stroke-width="0.35"/>
<rect x="345.95" y="371.56" width="2.21" height="2.21" fill="#dbdae9"/>
<rect x="211.64" y="374.93" width="4.44" height="4.53" fill="#d21e4e"/>
<rect x="216.08" y="374.93" width="4.44" height="4.53" fill="#e7a1b4" stroke="#b0b0b0" stroke-width="0.35"/>
<rect x="216.38" y="375.27" width="3.84" height="3.84" fill="#d73b65"/>
<rect x="220.52" y="374.93" width="4.44" height="4.53" fill="#e8a6b7" stroke="#b0b0b0" stroke-width="0.35"/>
<rect x="220.84" y="375.29" width="3.81" height="3.81" fill="#d8456c"/>
<rect x="224.96" y="374.93" width="4.44" height="4.53" fill="#edc3ce" stroke="#b0b0b0" stroke-width="0.35"/>
<rect x="225.62" y="375.64" width="3.11" height="3.11" fill="#e3869f"/>
<rect x="229.40" y="374.93" width="4.44" height="4.53" fill="#f2e0e4" stroke="#b0b0b0" stroke-width="0.35"/>
<rect x="230.41" y="375.98" width="2.43" height="2.43" fill="#edc6d0"/>
<rect x="233.84" y="374.93" width="4.44" height="4.53" fill="#f0d6dd" stroke="#b0b0b0" stroke-width="0.35"/>
<rect x="234.73" y="375.86" width="2.66" height="2.66" fill="#eab0bf"/>
<rect x="238.28" y="374.93" width="4.44" height="4.53" fill="#e7a0b3" stroke="#b0b0b0" stroke-width="0.35"/>
<rect x="238.58" y="375.27" width="3.84" height="3.84" fill="#d63963"/>
<rect x="242.72" y="374.93" width="4.44" height="4.53" fill="#f0d7dd" stroke="#b0b0b0" stroke-width="0.35"/>
<rect x="243.62" y="375.87" width="2.65" height="2.65" fill="#eab1c0"/>
<rect x="247.16" y="374.93" width="4.44" height="4.53" fill="#efcfd8" stroke="#b0b0b0" stroke-width="0.35"/>
<rect x="247.97" y="375.78" width="2.82" height="2.82" fill="#e7a1b4"/>
<rect x="251.60" y="374.93" width="4.44" height="4.53" fill="#ecbdca" stroke="#b0b0b0" stroke-width="0.35"/>
<rect x="252.19" y="375.57" width="3.25" height="3.25" fill="#e17994"/>
<rect x="256.04" y="374.93" width="4.44" height="4.53" fill="#efd2da" stroke="#b0b0b0" stroke-width="0.35"/>
<rect x="256.88" y="375.82" width="2.75" height="2.75" fill="#e8a7b9"/>
<rect x="260.48" y="374.93" width="4.44" height="4.53" fill="#ecbecb" stroke="#b0b0b0" stroke-width="0.35"/>
<rect x="261.09" y="375.58" width="3.22" height="3.22" fill="#e17c97"/>
<rect x="264.92" y="374.93" width="4.44" height="4.53" fill="#efd1d9" stroke="#b0b0b0" stroke-width="0.35"/>
<rect x="265.75" y="375.80" width="2.79" height="2.79" fill="#e8a4b6"/>
<rect x="269.36" y="374.93" width="4.44" height="4.53" fill="#ecc1cc" stroke="#b0b0b0" stroke-width="0.35"/>
<rect x="270.00" y="375.61" width="3.17" height="3.17" fill="#e2819b"/>
<rect x="273.80" y="374.93" width="4.44" height="4.53" fill="#f0d4dc" stroke="#b0b0b0" stroke-width="0.35"/>
<rect x="274.67" y="375.85" width="2.70" height="2.70" fill="#e9acbd"/>
<rect x="278.24" y="374.93" width="4.44" height="4.53" fill="#ebb8c6" stroke="#b0b0b0" stroke-width="0.35"/>
<rect x="278.78" y="375.51" width="3.37" height="3.37" fill="#df6e8c"/>
<rect x="282.68" y="374.93" width="4.44" height="4.53" fill="#f4eff0" stroke="#b0b0b0" stroke-width="0.35"/>
<rect x="283.87" y="376.16" width="2.07" height="2.07" fill="#f3e7ea"/>
<rect x="287.12" y="374.93" width="4.44" height="4.53" fill="#edc6d1" stroke="#b0b0b0" stroke-width="0.35"/>
<rect x="287.82" y="375.68" width="3.04" height="3.04" fill="#e48da4"/>
<rect x="291.56" y="374.93" width="4.44" height="4.53" fill="#efced7" stroke="#b0b0b0" stroke-width="0.35"/>
<rect x="292.35" y="375.77" width="2.85" height="2.85" fill="#e79eb1"/>
<rect x="296.00" y="374.93" width="4.44" height="4.53" fill="#eab1c0" stroke="#b0b0b0" stroke-width="0.35"/>
<rect x="296.45" y="375.42" width="3.54" height="3.54" fill="#dc5d7f"/>
<rect x="300.44" y="374.93" width="4.44" height="4.53" fill="#f2e0e5" stroke="#b0b0b0" stroke-width="0.35"/>
<rect x="301.45" y="375.99" width="2.41" height="2.41" fill="#eec7d1"/>
<rect x="304.88" y="374.93" width="4.44" height="4.53" fill="#e7a0b3" stroke="#b0b0b0" stroke-width="0.35"/>
<rect x="305.18" y="375.27" width="3.84" height="3.84" fill="#d63963"/>
<rect x="309.32" y="374.93" width="4.44" height="4.53" fill="#e79db0" stroke="#b0b0b0" stroke-width="0.35"/>
<rect x="309.62" y="375.27" width="3.84" height="3.84" fill="#d5315c"/>
<rect x="313.76" y="374.93" width="4.44" height="4.53" fill="#e699ad" stroke="#b0b0b0" stroke-width="0.35"/>
<rect x="314.06" y="375.27" width="3.84" height="3.84" fill="#d42856"/>
<rect x="318.20" y="374.93" width="4.44" height="4.53" fill="#e8a6b8" stroke="#b0b0b0" stroke-width="0.35"/>
<rect x="318.52" y="375.30" width="3.80" height="3.80" fill="#d9466d"/>
<rect x="322.64" y="374.93" width="4.44" height="4.53" fill="#e8a4b6" stroke="#b0b0b0" stroke-width="0.35"/>
<rect x="322.94" y="375.27" width="3.84" height="3.84" fill="#d8426a"/>
<rect x="327.08" y="374.93" width="4.44" height="4.53" fill="#e8a5b7" stroke="#b0b0b0" stroke-width="0.35"/>
<rect x="327.38" y="375.28" width="3.83" height="3.83" fill="#d8426a"/>
<rect x="331.52" y="374.93" width="4.44" height="4.53" fill="#e7a2b4" stroke="#b0b0b0" stroke-width="0.35"/>
<rect x="331.82" y="375.27" width="3.84" height="3.84" fill="#d73c65"/>
<rect x="335.96" y="374.93" width="4.44" height="4.53" fill="#e7a1b4" stroke="#b0b0b0" stroke-width="0.35"/>
<rect x="336.26" y="375.27" width="3.84" height="3.84" fill="#d73a64"/>
<rect x="340.40" y="374.93" width="4.44" height="4.53" fill="#e9acbc" stroke="#b0b0b0" stroke-width="0.35"/>
<rect x="340.79" y="375.36" width="3.67" height="3.67" fill="#da5276"/>
<rect x="344.84" y="374.93" width="4.44" height="4.53" fill="#cac9e1" stroke="#b0b0b0" stroke-width="0.35"/>
<rect x="345.57" y="375.71" width="2.97" height="2.97" fill="#9693c8"/>
<rect x="216.08" y="379.46" width="4.44" height="4.53" fill="#d21e4e"/>
<rect x="220.52" y="379.46" width="4.44" height="4.53" fill="#ecbecb" stroke="#b0b0b0" stroke-width="0.35"/>
<rect x="221.13" y="380.12" width="3.22" height="3.22" fill="#e17c97"/>
<rect x="224.96" y="379.46" width="4.44" height="4.53" fill="#eab2c1" stroke="#b0b0b0" stroke-width="0.35"/>
<rect x="225.43" y="379.97" width="3.51" height="3.51" fill="#dd6182"/>
<rect x="229.40" y="379.46" width="4.44" height="4.53" fill="#e8a8b9" stroke="#b0b0b0" stroke-width="0.35"/>
<rect x="229.74" y="379.85" width="3.76" height="3.76" fill="#d94970"/>
<rect x="233.84" y="379.46" width="4.44" height="4.53" fill="#ecc0cc" stroke="#b0b0b0" stroke-width="0.35"/>
<rect x="234.47" y="380.13" width="3.18" height="3.18" fill="#e27f9a"/>
<rect x="238.28" y="379.46" width="4.44" height="4.53" fill="#edc5d0" stroke="#b0b0b0" stroke-width="0.35"/>
<rect x="238.97" y="380.20" width="3.05" height="3.05" fill="#e48ba3"/>
<rect x="242.72" y="379.46" width="4.44" height="4.53" fill="#edc2cd" stroke="#b0b0b0" stroke-width="0.35"/>
<rect x="243.37" y="380.15" width="3.14" height="3.14" fill="#e2839c"/>
<rect x="247.16" y="379.46" width="4.44" height="4.53" fill="#e9aebe" stroke="#b0b0b0" stroke-width="0.35"/>
<rect x="247.58" y="379.92" width="3.61" height="3.61" fill="#db577b"/>
<rect x="251.60" y="379.46" width="4.44" height="4.53" fill="#edc1cd" stroke="#b0b0b0" stroke-width="0.35"/>
<rect x="252.24" y="380.15" width="3.16" height="3.16" fill="#e2829b"/>
<rect x="256.04" y="379.46" width="4.44" height="4.53" fill="#eec9d3" stroke="#b0b0b0" stroke-width="0.35"/>
<rect x="256.78" y="380.24" width="2.96" height="2.96" fill="#e594a9"/>
<rect x="260.48" y="379.46" width="4.44" height="4.53" fill="#ebb9c6" stroke="#b0b0b0" stroke-width="0.35"/>
<rect x="261.03" y="380.05" width="3.35" height="3.35" fill="#df708e"/>
<rect x="264.92" y="379.46" width="4.44" height="4.53" fill="#d8d7e7" stroke="#b0b0b0" stroke-width="0.35"/>
<rect x="265.83" y="380.41" width="2.62" height="2.62" fill="#b5b3d7"/>
<rect x="269.36" y="379.46" width="4.44" height="4.53" fill="#d4d3e6" stroke="#b0b0b0" stroke-width="0.35"/>
<rect x="270.22" y="380.36" width="2.72" height="2.72" fill="#acaad3"/>
<rect x="273.80" y="379.46" width="4.44" height="4.53" fill="#f0d5dc" stroke="#b0b0b0" stroke-width="0.35"/>
<rect x="274.68" y="380.38" width="2.68" height="2.68" fill="#e9aebe"/>
<rect x="278.24" y="379.46" width="4.44" height="4.53" fill="#f1dee3" stroke="#b0b0b0" stroke-width="0.35"/>
<rect x="279.23" y="380.50" width="2.46" height="2.46" fill="#edc3ce"/>
<rect x="282.68" y="379.46" width="4.44" height="4.53" fill="#efd1d9" stroke="#b0b0b0" stroke-width="0.35"/>
<rect x="283.51" y="380.34" width="2.78" height="2.78" fill="#e8a5b7"/>
<rect x="287.12" y="379.46" width="4.44" height="4.53" fill="#ebbac7" stroke="#b0b0b0" stroke-width="0.35"/>
<rect x="287.68" y="380.07" width="3.32" height="3.32" fill="#e07390"/>
<rect x="291.56" y="379.46" width="4.44" height="4.53" fill="#dcdbe9" stroke="#b0b0b0" stroke-width="0.35"/>
<rect x="292.51" y="380.46" width="2.53" height="2.53" fill="#bebcdb"/>
<rect x="296.00" y="379.46" width="4.44" height="4.53" fill="#ecc0cc" stroke="#b0b0b0" stroke-width="0.35"/>
<rect x="296.63" y="380.13" width="3.18" height="3.18" fill="#e27f9a"/>
<rect x="300.44" y="379.46" width="4.44" height="4.53" fill="#ebb6c4" stroke="#b0b0b0" stroke-width="0.35"/>
<rect x="300.95" y="380.01" width="3.43" height="3.43" fill="#de6888"/>
<rect x="304.88" y="379.46" width="4.44" height="4.53" fill="#e9aebe" stroke="#b0b0b0" stroke-width="0.35"/>
<rect x="305.30" y="379.92" width="3.61" height="3.61" fill="#db577b"/>
<rect x="309.32" y="379.46" width="4.44" height="4.53" fill="#eaafbe" stroke="#b0b0b0" stroke-width="0.35"/>
<rect x="309.74" y="379.93" width="3.59" height="3.59" fill="#dc597c"/>
<rect x="313.76" y="379.46" width="4.44" height="4.53" fill="#eab0bf" stroke="#b0b0b0" stroke-width="0.35"/>
<rect x="314.19" y="379.94" width="3.57" height="3.57" fill="#dc5b7d"/>
<rect x="318.20" y="379.46" width="4.44" height="4.53" fill="#e69aae" stroke="#b0b0b0" stroke-width="0.35"/>
<rect x="318.50" y="379.81" width="3.84" height="3.84" fill="#d42b58"/>
<rect x="322.64" y="379.46" width="4.44" height="4.53" fill="#e8a6b7" stroke="#b0b0b0" stroke-width="0.35"/>
<rect x="322.95" y="379.82" width="3.81" height="3.81" fill="#d8446c"/>
<rect x="327.08" y="379.46" width="4.44" height="4.53" fill="#e699ad" stroke="#b0b0b0" stroke-width="0.35"/>
<rect x="327.38" y="379.81" width="3.84" height="3.84" fill="#d42856"/>
<rect x="331.52" y="379.46" width="4.44" height="4.53" fill="#e8a4b6" stroke="#b0b0b0" stroke-width="0.35"/>
<rect x="331.82" y="379.81" width="3.84" height="3.84" fill="#d84169"/>
<rect x="335.96" y="379.46" width="4.44" height="4.53" fill="#e79db1" stroke="#b0b0b0" stroke-width="0.35"/>
<rect x="336.26" y="379.81" width="3.84" height="3.84" fill="#d5315d"/>
<rect x="340.40" y="379.46" width="4.44" height="4.53" fill="#e79db1" stroke="#b0b0b0" stroke-width="0.35"/>
<rect x="340.70" y="379.81" width="3.84" height="3.84" fill="#d5325e"/>
<rect x="344.84" y="379.46" width="4.44" height="4.53" fill="#d1d0e4" stroke="#b0b0b0" stroke-width="0.35"/>
<rect x="345.66" y="380.33" width="2.80" height="2.80" fill="#a6a3d0"/>
<rect x="220.52" y="383.99" width="4.44" height="4.53" fill="#d21e4e"/>
<rect x="224.96" y="383.99" width="4.44" height="4.53" fill="#e69baf" stroke="#b0b0b0" stroke-width="0.35"/>
<rect x="225.26" y="384.33" width="3.84" height="3.84" fill="#d42c59"/>
<rect x="229.40" y="383.99" width="4.44" height="4.53" fill="#e8a5b7" stroke="#b0b0b0" stroke-width="0.35"/>
<rect x="229.71" y="384.35" width="3.81" height="3.81" fill="#d8446c"/>
<rect x="233.84" y="383.99" width="4.44" height="4.53" fill="#e79cb0" stroke="#b0b0b0" stroke-width="0.35"/>
<rect x="234.14" y="384.33" width="3.84" height="3.84" fill="#d5305c"/>
<rect x="238.28" y="383.99" width="4.44" height="4.53" fill="#eab4c2" stroke="#b0b0b0" stroke-width="0.35"/>
<rect x="238.76" y="384.52" width="3.48" height="3.48" fill="#dd6484"/>
<rect x="242.72" y="383.99" width="4.44" height="4.53" fill="#e79fb3" stroke="#b0b0b0" stroke-width="0.35"/>
<rect x="243.02" y="384.33" width="3.84" height="3.84" fill="#d63761"/>
<rect x="247.16" y="383.99" width="4.44" height="4.53" fill="#f1dbe1" stroke="#b0b0b0" stroke-width="0.35"/>
<rect x="248.11" y="384.98" width="2.55" height="2.55" fill="#ebbac7"/>
<rect x="251.60" y="383.99" width="4.44" height="4.53" fill="#f3e7ea" stroke="#b0b0b0" stroke-width="0.35"/>
<rect x="252.69" y="385.13" width="2.25" height="2.25" fill="#f0d6dd"/>
<rect x="256.04" y="383.99" width="4.44" height="4.53" fill="#e8e8ef" stroke="#b0b0b0" stroke-width="0.35"/>
<rect x="257.14" y="385.14" width="2.23" height="2.23" fill="#d9d8e8"/>
<rect x="260.48" y="383.99" width="4.44" height="4.53" fill="#f0f0f3" stroke="#b0b0b0" stroke-width="0.35"/>
<rect x="261.68" y="385.23" width="2.04" height="2.04" fill="#eae9f0"/>
<rect x="264.92" y="383.99" width="4.44" height="4.53" fill="#bebcdb" stroke="#b0b0b0" stroke-width="0.35"/>
<rect x="265.50" y="384.62" width="3.28" height="3.28" fill="#7a76bb"/>
<rect x="269.36" y="383.99" width="4.44" height="4.53" fill="#bbb9d9" stroke="#b0b0b0" stroke-width="0.35"/>
<rect x="269.90" y="384.58" width="3.36" height="3.36" fill="#7874ba"/>
<rect x="273.80" y="383.99" width="4.44" height="4.53" fill="#c7c5df" stroke="#b0b0b0" stroke-width="0.35"/>
<rect x="274.49" y="384.73" width="3.05" height="3.05" fill="#8f8bc5"/>
<rect x="278.24" y="383.99" width="4.44" height="4.53" fill="#d2d1e4" stroke="#b0b0b0" stroke-width="0.35"/>
<rect x="279.07" y="384.86" width="2.79" height="2.79" fill="#a7a4d0"/>
<rect x="282.68" y="383.99" width="4.44" height="4.53" fill="#dcdbe9" stroke="#b0b0b0" stroke-width="0.35"/>
<rect x="283.64" y="384.99" width="2.53" height="2.53" fill="#bebcdb"/>
<rect x="287.12" y="383.99" width="4.44" height="4.53" fill="#f3f3f4" stroke="#b0b0b0" stroke-width="0.35"/>
<rect x="288.36" y="385.27" width="1.97" height="1.97" fill="#f1f0f3"/>
<rect x="291.56" y="383.99" width="4.44" height="4.53" fill="#dbdae9" stroke="#b0b0b0" stroke-width="0.35"/>
<rect x="292.49" y="384.97" width="2.57" height="2.57" fill="#bab8d9"/>
<rect x="296.00" y="383.99" width="4.44" height="4.53" fill="#f0d9df" stroke="#b0b0b0" stroke-width="0.35"/>
<rect x="296.92" y="384.96" width="2.60" height="2.60" fill="#ebb6c4"/>
<rect x="300.44" y="383.99" width="4.44" height="4.53" fill="#c9c8e0" stroke="#b0b0b0" stroke-width="0.35"/>
<rect x="301.16" y="384.75" width="3.00" height="3.00" fill="#9390c7"/>
<rect x="304.88" y="383.99" width="4.44" height="4.53" fill="#cfcee3" stroke="#b0b0b0" stroke-width="0.35"/>
<rect x="305.67" y="384.83" width="2.85" height="2.85" fill="#a19ecd"/>
<rect x="309.32" y="383.99" width="4.44" height="4.53" fill="#cac9e1" stroke="#b0b0b0" stroke-width="0.35"/>
<rect x="310.06" y="384.77" width="2.97" height="2.97" fill="#9693c8"/>
<rect x="313.76" y="383.99" width="4.44" height="4.53" fill="#b9b7d9" stroke="#b0b0b0" stroke-width="0.35"/>
<rect x="314.28" y="384.56" width="3.40" height="3.40" fill="#7874ba"/>
<rect x="318.20" y="383.99" width="4.44" height="4.53" fill="#f3e6e9" stroke="#b0b0b0" stroke-width="0.35"/>
<rect x="319.28" y="385.12" width="2.27" height="2.27" fill="#f0d4db"/>
<rect x="322.64" y="383.99" width="4.44" height="4.53" fill="#bdbbdb" stroke="#b0b0b0" stroke-width="0.35"/>
<rect x="323.21" y="384.61" width="3.30" height="3.30" fill="#7874ba"/>
<rect x="327.08" y="383.99" width="4.44" height="4.53" fill="#f2e5e9" stroke="#b0b0b0" stroke-width="0.35"/>
<rect x="328.15" y="385.11" width="2.29" height="2.29" fill="#efd2da"/>
<rect x="331.52" y="383.99" width="4.44" height="4.53" fill="#e7e6ee" stroke="#b0b0b0" stroke-width="0.35"/>
<rect x="332.61" y="385.12" width="2.27" height="2.27" fill="#d6d5e6"/>
<rect x="335.96" y="383.99" width="4.44" height="4.53" fill="#f2e3e7" stroke="#b0b0b0" stroke-width="0.35"/>
<rect x="337.00" y="385.08" width="2.36" height="2.36" fill="#eeccd5"/>
<rect x="340.40" y="383.99" width="4.44" height="4.53" fill="#f0d5dc" stroke="#b0b0b0" stroke-width="0.35"/>
<rect x="341.28" y="384.92" width="2.67" height="2.67" fill="#eaafbf"/>
<rect x="344.84" y="383.99" width="4.44" height="4.53" fill="#f4f2f2" stroke="#b0b0b0" stroke-width="0.35"/>
<rect x="346.06" y="385.26" width="2.00" height="2.00" fill="#f4eeef"/>
<rect x="224.96" y="388.52" width="4.44" height="4.53" fill="#d21e4e"/>
<rect x="229.40" y="388.52" width="4.44" height="4.53" fill="#f5f3f4" stroke="#b0b0b0" stroke-width="0.35"/>
<rect x="230.64" y="389.80" width="1.96" height="1.96" fill="#f4f1f2"/>
<rect x="233.84" y="388.52" width="4.44" height="4.53" fill="#e4e4ed" stroke="#b0b0b0" stroke-width="0.35"/>
<rect x="234.89" y="389.62" width="2.33" height="2.33" fill="#d0cee3"/>
<rect x="238.28" y="388.52" width="4.44" height="4.53" fill="#efd3da" stroke="#b0b0b0" stroke-width="0.35"/>
<rect x="239.13" y="389.42" width="2.74" height="2.74" fill="#e9a9ba"/>
<rect x="242.72" y="388.52" width="4.44" height="4.53" fill="#e5e5ee" stroke="#b0b0b0" stroke-width="0.35"/>
<rect x="243.79" y="389.63" width="2.31" height="2.31" fill="#d2d1e5"/>
<rect x="247.16" y="388.52" width="4.44" height="4.53" fill="#d9d8e8" stroke="#b0b0b0" stroke-width="0.35"/>
<rect x="248.08" y="389.48" width="2.61" height="2.61" fill="#b7b5d8"/>
<rect x="251.60" y="388.52" width="4.44" height="4.53" fill="#f1dce2" stroke="#b0b0b0" stroke-width="0.35"/>
<rect x="252.57" y="389.53" width="2.51" height="2.51" fill="#ecbeca"/>
<rect x="256.04" y="388.52" width="4.44" height="4.53" fill="#f2e0e4" stroke="#b0b0b0" stroke-width="0.35"/>
<rect x="257.05" y="389.57" width="2.43" height="2.43" fill="#edc6d0"/>
<rect x="260.48" y="388.52" width="4.44" height="4.53" fill="#f3e6e9" stroke="#b0b0b0" stroke-width="0.35"/>
<rect x="261.56" y="389.65" width="2.28" height="2.28" fill="#f0d4db"/>
<rect x="264.92" y="388.52" width="4.44" height="4.53" fill="#f3e7ea" stroke="#b0b0b0" stroke-width="0.35"/>
<rect x="266.02" y="389.66" width="2.25" height="2.25" fill="#f0d6dd"/>
<rect x="269.36" y="388.52" width="4.44" height="4.53" fill="#e1e0ec" stroke="#b0b0b0" stroke-width="0.35"/>
<rect x="270.37" y="389.58" width="2.41" height="2.41" fill="#c8c7e0"/>
<rect x="273.80" y="388.52" width="4.44" height="4.53" fill="#d7d6e7" stroke="#b0b0b0" stroke-width="0.35"/>
<rect x="274.70" y="389.46" width="2.65" height="2.65" fill="#b3b1d6"/>
<rect x="278.24" y="388.52" width="4.44" height="4.53" fill="#f1dde3" stroke="#b0b0b0" stroke-width="0.35"/>
<rect x="279.22" y="389.54" width="2.48" height="2.48" fill="#ecc0cc"/>
<rect x="282.68" y="388.52" width="4.44" height="4.53" fill="#edc2cd" stroke="#b0b0b0" stroke-width="0.35"/>
<rect x="283.33" y="389.22" width="3.13" height="3.13" fill="#e3849d"/>
<rect x="287.12" y="388.52" width="4.44" height="4.53" fill="#f4f2f2" stroke="#b0b0b0" stroke-width="0.35"/>
<rect x="288.34" y="389.79" width="2.00" height="2.00" fill="#f4eeef"/>
<rect x="291.56" y="388.52" width="4.44" height="4.53" fill="#f1dde2" stroke="#b0b0b0" stroke-width="0.35"/>
<rect x="292.53" y="389.53" width="2.50" height="2.50" fill="#ecbfcb"/>
<rect x="296.00" y="388.52" width="4.44" height="4.53" fill="#d9d8e8" stroke="#b0b0b0" stroke-width="0.35"/>
<rect x="296.92" y="389.48" width="2.60" height="2.60" fill="#b7b5d8"/>
<rect x="300.44" y="388.52" width="4.44" height="4.53" fill="#f2e4e8" stroke="#b0b0b0" stroke-width="0.35"/>
<rect x="301.50" y="389.63" width="2.32" height="2.32" fill="#efd0d8"/>
<rect x="304.88" y="388.52" width="4.44" height="4.53" fill="#f1dee3" stroke="#b0b0b0" stroke-width="0.35"/>
<rect x="305.87" y="389.55" width="2.46" height="2.46" fill="#edc2ce"/>
<rect x="309.32" y="388.52" width="4.44" height="4.53" fill="#ddddea" stroke="#b0b0b0" stroke-width="0.35"/>
<rect x="310.29" y="389.53" width="2.50" height="2.50" fill="#c0bfdc"/>
<rect x="313.76" y="388.52" width="4.44" height="4.53" fill="#eeeef2" stroke="#b0b0b0" stroke-width="0.35"/>
<rect x="314.94" y="389.74" width="2.08" height="2.08" fill="#e6e6ee"/>
<rect x="318.20" y="388.52" width="4.44" height="4.53" fill="#e5e5ee" stroke="#b0b0b0" stroke-width="0.35"/>
<rect x="319.27" y="389.63" width="2.30" height="2.30" fill="#d2d1e5"/>
<rect x="322.64" y="388.52" width="4.44" height="4.53" fill="#dfdeeb" stroke="#b0b0b0" stroke-width="0.35"/>
<rect x="323.63" y="389.55" width="2.47" height="2.47" fill="#c4c2de"/>
<rect x="327.08" y="388.52" width="4.44" height="4.53" fill="#f4eff0" stroke="#b0b0b0" stroke-width="0.35"/>
<rect x="328.26" y="389.75" width="2.07" height="2.07" fill="#f3e7ea"/>
<rect x="331.52" y="388.52" width="4.44" height="4.53" fill="#e2e2ec" stroke="#b0b0b0" stroke-width="0.35"/>
<rect x="332.55" y="389.59" width="2.38" height="2.38" fill="#cbcae1"/>
<rect x="335.96" y="388.52" width="4.44" height="4.53" fill="#f3ebed" stroke="#b0b0b0" stroke-width="0.35"/>
<rect x="337.10" y="389.70" width="2.17" height="2.17" fill="#f1dee3"/>
<rect x="340.40" y="388.52" width="4.44" height="4.53" fill="#f0d7dd" stroke="#b0b0b0" stroke-width="0.35"/>
<rect x="341.30" y="389.46" width="2.64" height="2.64" fill="#eab1c1"/>
<rect x="344.84" y="388.52" width="4.44" height="4.53" fill="#c4c3de" stroke="#b0b0b0" stroke-width="0.35"/>
<rect x="345.50" y="389.23" width="3.11" height="3.11" fill="#8986c2"/>
<rect x="229.40" y="393.05" width="4.44" height="4.53" fill="#d21e4e"/>
<rect x="233.84" y="393.05" width="4.44" height="4.53" fill="#eec9d3" stroke="#b0b0b0" stroke-width="0.35"/>
<rect x="234.58" y="393.83" width="2.97" height="2.97" fill="#e593a9"/>
<rect x="238.28" y="393.05" width="4.44" height="4.53" fill="#bdbbdb" stroke="#b0b0b0" stroke-width="0.35"/>
<rect x="238.85" y="393.67" width="3.29" height="3.29" fill="#7975ba"/>
<rect x="242.72" y="393.05" width="4.44" height="4.53" fill="#ecc0cc" stroke="#b0b0b0" stroke-width="0.35"/>
<rect x="243.35" y="393.73" width="3.18" height="3.18" fill="#e2809a"/>
<rect x="247.16" y="393.05" width="4.44" height="4.53" fill="#cac8e1" stroke="#b0b0b0" stroke-width="0.35"/>
<rect x="247.89" y="393.82" width="2.99" height="2.99" fill="#9491c7"/>
<rect x="251.60" y="393.05" width="4.44" height="4.53" fill="#efd1d9" stroke="#b0b0b0" stroke-width="0.35"/>
<rect x="252.43" y="393.93" width="2.78" height="2.78" fill="#e8a5b7"/>
<rect x="256.04" y="393.05" width="4.44" height="4.53" fill="#c1bfdc" stroke="#b0b0b0" stroke-width="0.35"/>
<rect x="256.66" y="393.71" width="3.20" height="3.20" fill="#817dbe"/>
<rect x="260.48" y="393.05" width="4.44" height="4.53" fill="#c2c0dd" stroke="#b0b0b0" stroke-width="0.35"/>
<rect x="261.11" y="393.73" width="3.18" height="3.18" fill="#837fbf"/>
<rect x="264.92" y="393.05" width="4.44" height="4.53" fill="#f0d7de" stroke="#b0b0b0" stroke-width="0.35"/>
<rect x="265.83" y="394.00" width="2.63" height="2.63" fill="#eab3c2"/>
<rect x="269.36" y="393.05" width="4.44" height="4.53" fill="#f0d4dc" stroke="#b0b0b0" stroke-width="0.35"/>
<rect x="270.23" y="393.96" width="2.70" height="2.70" fill="#e9acbc"/>
<rect x="273.80" y="393.05" width="4.44" height="4.53" fill="#d7d6e7" stroke="#b0b0b0" stroke-width="0.35"/>
<rect x="274.69" y="393.98" width="2.67" height="2.67" fill="#b1afd5"/>
<rect x="278.24" y="393.05" width="4.44" height="4.53" fill="#d1d0e4" stroke="#b0b0b0" stroke-width="0.35"/>
<rect x="279.06" y="393.91" width="2.81" height="2.81" fill="#a5a2cf"/>
<rect x="282.68" y="393.05" width="4.44" height="4.53" fill="#ecc0cc" stroke="#b0b0b0" stroke-width="0.35"/>
<rect x="283.31" y="393.72" width="3.18" height="3.18" fill="#e27f99"/>
<rect x="287.12" y="393.05" width="4.44" height="4.53" fill="#c7c6df" stroke="#b0b0b0" stroke-width="0.35"/>
<rect x="287.82" y="393.79" width="3.05" height="3.05" fill="#8f8cc5"/>
<rect x="291.56" y="393.05" width="4.44" height="4.53" fill="#e3e2ec" stroke="#b0b0b0" stroke-width="0.35"/>
<rect x="292.60" y="394.13" width="2.37" height="2.37" fill="#cccbe2"/>
<rect x="296.00" y="393.05" width="4.44" height="4.53" fill="#f1dfe4" stroke="#b0b0b0" stroke-width="0.35"/>
<rect x="297.00" y="394.09" width="2.44" height="2.44" fill="#edc4cf"/>
<rect x="300.44" y="393.05" width="4.44" height="4.53" fill="#eecbd4" stroke="#b0b0b0" stroke-width="0.35"/>
<rect x="301.20" y="393.86" width="2.92" height="2.92" fill="#e698ad"/>
<rect x="304.88" y="393.05" width="4.44" height="4.53" fill="#e7a1b4" stroke="#b0b0b0" stroke-width="0.35"/>
<rect x="305.18" y="393.39" width="3.84" height="3.84" fill="#d73a64"/>
<rect x="309.32" y="393.05" width="4.44" height="4.53" fill="#e9a9ba" stroke="#b0b0b0" stroke-width="0.35"/>
<rect x="309.67" y="393.45" width="3.73" height="3.73" fill="#d94c72"/>
<rect x="313.76" y="393.05" width="4.44" height="4.53" fill="#eab0bf" stroke="#b0b0b0" stroke-width="0.35"/>
<rect x="314.19" y="393.53" width="3.57" height="3.57" fill="#dc5b7d"/>
<rect x="318.20" y="393.05" width="4.44" height="4.53" fill="#e8a7b8" stroke="#b0b0b0" stroke-width="0.35"/>
<rect x="318.53" y="393.42" width="3.79" height="3.79" fill="#d9476e"/>
<rect x="322.64" y="393.05" width="4.44" height="4.53" fill="#e9a8b9" stroke="#b0b0b0" stroke-width="0.35"/>
<rect x="322.99" y="393.44" width="3.75" height="3.75" fill="#d94b71"/>
<rect x="327.08" y="393.05" width="4.44" height="4.53" fill="#e9adbd" stroke="#b0b0b0" stroke-width="0.35"/>
<rect x="327.48" y="393.50" width="3.63" height="3.63" fill="#db5579"/>
<rect x="331.52" y="393.05" width="4.44" height="4.53" fill="#e69cb0" stroke="#b0b0b0" stroke-width="0.35"/>
<rect x="331.82" y="393.39" width="3.84" height="3.84" fill="#d52f5b"/>
<rect x="335.96" y="393.05" width="4.44" height="4.53" fill="#e7a1b4" stroke="#b0b0b0" stroke-width="0.35"/>
<rect x="336.26" y="393.39" width="3.84" height="3.84" fill="#d73b65"/>
<rect x="340.40" y="393.05" width="4.44" height="4.53" fill="#e9aabb" stroke="#b0b0b0" stroke-width="0.35"/>
<rect x="340.77" y="393.46" width="3.71" height="3.71" fill="#da4e73"/>
<rect x="344.84" y="393.05" width="4.44" height="4.53" fill="#bebcdb" stroke="#b0b0b0" stroke-width="0.35"/>
<rect x="345.42" y="393.68" width="3.28" height="3.28" fill="#7a76bb"/>
<rect x="233.84" y="397.58" width="4.44" height="4.53" fill="#d21e4e"/>
<rect x="238.28" y="397.58" width="4.44" height="4.53" fill="#cbcae1" stroke="#b0b0b0" stroke-width="0.35"/>
<rect x="239.02" y="398.37" width="2.95" height="2.95" fill="#9895c9"/>
<rect x="242.72" y="397.58" width="4.44" height="4.53" fill="#f3e9eb" stroke="#b0b0b0" stroke-width="0.35"/>
<rect x="243.83" y="398.74" width="2.21" height="2.21" fill="#f1dae0"/>
<rect x="247.16" y="397.58" width="4.44" height="4.53" fill="#bdbbda" stroke="#b0b0b0" stroke-width="0.35"/>
<rect x="247.73" y="398.19" width="3.30" height="3.30" fill="#7874ba"/>
<rect x="251.60" y="397.58" width="4.44" height="4.53" fill="#ebb9c7" stroke="#b0b0b0" stroke-width="0.35"/>
<rect x="252.15" y="398.17" width="3.34" height="3.34" fill="#df708e"/>
<rect x="256.04" y="397.58" width="4.44" height="4.53" fill="#eab2c1" stroke="#b0b0b0" stroke-width="0.35"/>
<rect x="256.50" y="398.09" width="3.52" height="3.52" fill="#dd6081"/>
<rect x="260.48" y="397.58" width="4.44" height="4.53" fill="#f4eff1" stroke="#b0b0b0" stroke-width="0.35"/>
<rect x="261.67" y="398.82" width="2.05" height="2.05" fill="#f3e9eb"/>
<rect x="264.92" y="397.58" width="4.44" height="4.53" fill="#cccbe2" stroke="#b0b0b0" stroke-width="0.35"/>
<rect x="265.68" y="398.39" width="2.92" height="2.92" fill="#9b98ca"/>
<rect x="269.36" y="397.58" width="4.44" height="4.53" fill="#bdbbda" stroke="#b0b0b0" stroke-width="0.35"/>
<rect x="269.93" y="398.19" width="3.30" height="3.30" fill="#7874ba"/>
<rect x="273.80" y="397.58" width="4.44" height="4.53" fill="#eec9d2" stroke="#b0b0b0" stroke-width="0.35"/>
<rect x="274.53" y="398.36" width="2.98" height="2.98" fill="#e592a8"/>
<rect x="278.24" y="397.58" width="4.44" height="4.53" fill="#cbcae1" stroke="#b0b0b0" stroke-width="0.35"/>
<rect x="278.98" y="398.37" width="2.95" height="2.95" fill="#9895c9"/>
<rect x="282.68" y="397.58" width="4.44" height="4.53" fill="#ebb9c6" stroke="#b0b0b0" stroke-width="0.35"/>
<rect x="283.22" y="398.17" width="3.35" height="3.35" fill="#df6f8d"/>
<rect x="287.12" y="397.58" width="4.44" height="4.53" fill="#eeeef2" stroke="#b0b0b0" stroke-width="0.35"/>
<rect x="288.29" y="398.80" width="2.09" height="2.09" fill="#e5e5ee"/>
<rect x="291.56" y="397.58" width="4.44" height="4.53" fill="#ececf1" stroke="#b0b0b0" stroke-width="0.35"/>
<rect x="292.71" y="398.78" width="2.14" height="2.14" fill="#e1e1ec"/>
<rect x="296.00" y="397.58" width="4.44" height="4.53" fill="#eecad4" stroke="#b0b0b0" stroke-width="0.35"/>
<rect x="296.75" y="398.37" width="2.94" height="2.94" fill="#e596ab"/>
<rect x="300.44" y="397.58" width="4.44" height="4.53" fill="#f5f5f5" stroke="#b0b0b0" stroke-width="0.35"/>
<rect x="301.70" y="398.88" width="1.93" height="1.93" fill="#f5f4f4"/>
<rect x="304.88" y="397.58" width="4.44" height="4.53" fill="#f1dbe1" stroke="#b0b0b0" stroke-width="0.35"/>
<rect x="305.83" y="398.57" width="2.54" height="2.54" fill="#ecbbc8"/>
<rect x="309.32" y="397.58" width="4.44" height="4.53" fill="#f1f1f3" stroke="#b0b0b0" stroke-width="0.35"/>
<rect x="310.53" y="398.84" width="2.02" height="2.02" fill="#ececf1"/>
<rect x="313.76" y="397.58" width="4.44" height="4.53" fill="#deddea" stroke="#b0b0b0" stroke-width="0.35"/>
<rect x="314.74" y="398.60" width="2.48" height="2.48" fill="#c2c1dd"/>
<rect x="318.20" y="397.58" width="4.44" height="4.53" fill="#f4eff0" stroke="#b0b0b0" stroke-width="0.35"/>
<rect x="319.39" y="398.81" width="2.07" height="2.07" fill="#f3e7ea"/>
<rect x="322.64" y="397.58" width="4.44" height="4.53" fill="#efd3da" stroke="#b0b0b0" stroke-width="0.35"/>
<rect x="323.49" y="398.47" width="2.74" height="2.74" fill="#e9a8b9"/>
<rect x="327.08" y="397.58" width="4.44" height="4.53" fill="#f5f2f3" stroke="#b0b0b0" stroke-width="0.35"/>
<rect x="328.31" y="398.85" width="1.98" height="1.98" fill="#f4eff0"/>
<rect x="331.52" y="397.58" width="4.44" height="4.53" fill="#f3e6ea" stroke="#b0b0b0" stroke-width="0.35"/>
<rect x="332.61" y="398.71" width="2.27" height="2.27" fill="#f0d5dc"/>
<rect x="335.96" y="397.58" width="4.44" height="4.53" fill="#cbc9e1" stroke="#b0b0b0" stroke-width="0.35"/>
<rect x="336.70" y="398.37" width="2.96" height="2.96" fill="#9794c9"/>
<rect x="340.40" y="397.58" width="4.44" height="4.53" fill="#eeeef2" stroke="#b0b0b0" stroke-width="0.35"/>
<rect x="341.58" y="398.80" width="2.08" height="2.08" fill="#e6e6ee"/>
<rect x="344.84" y="397.58" width="4.44" height="4.53" fill="#dcdce9" stroke="#b0b0b0" stroke-width="0.35"/>
<rect x="345.80" y="398.58" width="2.53" height="2.53" fill="#bebddb"/>
<rect x="238.28" y="402.11" width="4.44" height="4.53" fill="#d21e4e"/>
<rect x="242.72" y="402.11" width="4.44" height="4.53" fill="#d9d9e8" stroke="#b0b0b0" stroke-width="0.35"/>
<rect x="243.64" y="403.08" width="2.60" height="2.60" fill="#b8b6d8"/>
<rect x="247.16" y="402.11" width="4.44" height="4.53" fill="#cdcce2" stroke="#b0b0b0" stroke-width="0.35"/>
<rect x="247.93" y="402.92" width="2.90" height="2.90" fill="#9c9acb"/>
<rect x="251.60" y="402.11" width="4.44" height="4.53" fill="#d0cfe4" stroke="#b0b0b0" stroke-width="0.35"/>
<rect x="252.41" y="402.97" width="2.82" height="2.82" fill="#a4a1cf"/>
<rect x="256.04" y="402.11" width="4.44" height="4.53" fill="#dddcea" stroke="#b0b0b0" stroke-width="0.35"/>
<rect x="257.00" y="403.12" width="2.51" height="2.51" fill="#c0bedc"/>
<rect x="260.48" y="402.11" width="4.44" height="4.53" fill="#dddcea" stroke="#b0b0b0" stroke-width="0.35"/>
<rect x="261.45" y="403.12" width="2.51" height="2.51" fill="#c0bedc"/>
<rect x="264.92" y="402.11" width="4.44" height="4.53" fill="#c6c4df" stroke="#b0b0b0" stroke-width="0.35"/>
<rect x="265.60" y="402.84" width="3.08" height="3.08" fill="#8c89c4"/>
<rect x="269.36" y="402.11" width="4.44" height="4.53" fill="#e5e4ed" stroke="#b0b0b0" stroke-width="0.35"/>
<rect x="270.42" y="403.21" width="2.32" height="2.32" fill="#d1cfe4"/>
<rect x="273.80" y="402.11" width="4.44" height="4.53" fill="#ecbbc8" stroke="#b0b0b0" stroke-width="0.35"/>
<rect x="274.37" y="402.73" width="3.30" height="3.30" fill="#e07591"/>
<rect x="278.24" y="402.11" width="4.44" height="4.53" fill="#ebb9c6" stroke="#b0b0b0" stroke-width="0.35"/>
<rect x="278.78" y="402.70" width="3.36" height="3.36" fill="#df6f8d"/>
<rect x="282.68" y="402.11" width="4.44" height="4.53" fill="#d1d0e4" stroke="#b0b0b0" stroke-width="0.35"/>
<rect x="283.50" y="402.97" width="2.81" height="2.81" fill="#a5a2cf"/>
<rect x="287.12" y="402.11" width="4.44" height="4.53" fill="#ebebf0" stroke="#b0b0b0" stroke-width="0.35"/>
<rect x="288.26" y="403.29" width="2.16" height="2.16" fill="#dfdeeb"/>
<rect x="291.56" y="402.11" width="4.44" height="4.53" fill="#f0d5dc" stroke="#b0b0b0" stroke-width="0.35"/>
<rect x="292.44" y="403.04" width="2.68" height="2.68" fill="#eaaebe"/>
<rect x="296.00" y="402.11" width="4.44" height="4.53" fill="#edc3ce" stroke="#b0b0b0" stroke-width="0.35"/>
<rect x="296.67" y="402.82" width="3.11" height="3.11" fill="#e3869f"/>
<rect x="300.44" y="402.11" width="4.44" height="4.53" fill="#eab4c3" stroke="#b0b0b0" stroke-width="0.35"/>
<rect x="300.93" y="402.64" width="3.46" height="3.46" fill="#de6585"/>
<rect x="304.88" y="402.11" width="4.44" height="4.53" fill="#dddcea" stroke="#b0b0b0" stroke-width="0.35"/>
<rect x="305.84" y="403.12" width="2.51" height="2.51" fill="#bfbedc"/>
<rect x="309.32" y="402.11" width="4.44" height="4.53" fill="#ececf1" stroke="#b0b0b0" stroke-width="0.35"/>
<rect x="310.47" y="403.31" width="2.14" height="2.14" fill="#e1e1ec"/>
<rect x="313.76" y="402.11" width="4.44" height="4.53" fill="#edc6d1" stroke="#b0b0b0" stroke-width="0.35"/>
<rect x="314.47" y="402.86" width="3.03" height="3.03" fill="#e48da5"/>
<rect x="318.20" y="402.11" width="4.44" height="4.53" fill="#efeff2" stroke="#b0b0b0" stroke-width="0.35"/>
<rect x="319.39" y="403.34" width="2.06" height="2.06" fill="#e8e8ef"/>
<rect x="322.64" y="402.11" width="4.44" height="4.53" fill="#deddea" stroke="#b0b0b0" stroke-width="0.35"/>
<rect x="323.62" y="403.13" width="2.49" height="2.49" fill="#c2c0dd"/>
<rect x="327.08" y="402.11" width="4.44" height="4.53" fill="#edc6d0" stroke="#b0b0b0" stroke-width="0.35"/>
<rect x="327.77" y="402.85" width="3.05" height="3.05" fill="#e48ca3"/>
<rect x="331.52" y="402.11" width="4.44" height="4.53" fill="#c8c7e0" stroke="#b0b0b0" stroke-width="0.35"/>
<rect x="332.23" y="402.86" width="3.02" height="3.02" fill="#918ec6"/>
<rect x="335.96" y="402.11" width="4.44" height="4.53" fill="#d1d0e4" stroke="#b0b0b0" stroke-width="0.35"/>
<rect x="336.77" y="402.97" width="2.81" height="2.81" fill="#a4a2cf"/>
<rect x="340.40" y="402.11" width="4.44" height="4.53" fill="#f1dae0" stroke="#b0b0b0" stroke-width="0.35"/>
<rect x="341.33" y="403.09" width="2.57" height="2.57" fill="#ebb8c6"/>
<rect x="344.84" y="402.11" width="4.44" height="4.53" fill="#e2e1ec" stroke="#b0b0b0" stroke-width="0.35"/>
<rect x="345.86" y="403.18" width="2.39" height="2.39" fill="#cac9e1"/>
<rect x="242.72" y="406.64" width="4.44" height="4.53" fill="#d21e4e"/>
<rect x="247.16" y="406.64" width="4.44" height="4.53" fill="#eab4c2" stroke="#b0b0b0" stroke-width="0.35"/>
<rect x="247.64" y="407.17" width="3.47" height="3.47" fill="#dd6484"/>
<rect x="251.60" y="406.64" width="4.44" height="4.53" fill="#e9acbc" stroke="#b0b0b0" stroke-width="0.35"/>
<rect x="251.99" y="407.08" width="3.66" height="3.66" fill="#db5377"/>
<rect x="256.04" y="406.64" width="4.44" height="4.53" fill="#eecbd5" stroke="#b0b0b0" stroke-width="0.35"/>
<rect x="256.80" y="407.45" width="2.91" height="2.91" fill="#e699ad"/>
<rect x="260.48" y="406.64" width="4.44" height="4.53" fill="#e9adbd" stroke="#b0b0b0" stroke-width="0.35"/>
<rect x="260.89" y="407.09" width="3.63" height="3.63" fill="#db5579"/>
<rect x="264.92" y="406.64" width="4.44" height="4.53" fill="#e79db0" stroke="#b0b0b0" stroke-width="0.35"/>
<rect x="265.22" y="406.99" width="3.84" height="3.84" fill="#d5315d"/>
<rect x="269.36" y="406.64" width="4.44" height="4.53" fill="#b9b7d9" stroke="#b0b0b0" stroke-width="0.35"/>
<rect x="269.88" y="407.20" width="3.40" height="3.40" fill="#7874ba"/>
<rect x="273.80" y="406.64" width="4.44" height="4.53" fill="#d2d1e5" stroke="#b0b0b0" stroke-width="0.35"/>
<rect x="274.63" y="407.52" width="2.77" height="2.77" fill="#a8a5d1"/>
<rect x="278.24" y="406.64" width="4.44" height="4.53" fill="#dad9e8" stroke="#b0b0b0" stroke-width="0.35"/>
<rect x="279.17" y="407.61" width="2.59" height="2.59" fill="#b9b7d9"/>
<rect x="282.68" y="406.64" width="4.44" height="4.53" fill="#e3e2ec" stroke="#b0b0b0" stroke-width="0.35"/>
<rect x="283.72" y="407.72" width="2.37" height="2.37" fill="#cdcbe2"/>
<rect x="287.12" y="406.64" width="4.44" height="4.53" fill="#cac9e1" stroke="#b0b0b0" stroke-width="0.35"/>
<rect x="287.85" y="407.42" width="2.98" height="2.98" fill="#9592c8"/>
<rect x="291.56" y="406.64" width="4.44" height="4.53" fill="#afadd4" stroke="#b0b0b0" stroke-width="0.35"/>
<rect x="291.96" y="407.09" width="3.64" height="3.64" fill="#7874ba"/>
<rect x="296.00" y="406.64" width="4.44" height="4.53" fill="#d6d5e7" stroke="#b0b0b0" stroke-width="0.35"/>
<rect x="296.88" y="407.57" width="2.67" height="2.67" fill="#b1afd5"/>
<rect x="300.44" y="406.64" width="4.44" height="4.53" fill="#bfbddb" stroke="#b0b0b0" stroke-width="0.35"/>
<rect x="301.03" y="407.28" width="3.26" height="3.26" fill="#7c78bc"/>
<rect x="304.88" y="406.64" width="4.44" height="4.53" fill="#bab8d9" stroke="#b0b0b0" stroke-width="0.35"/>
<rect x="305.41" y="407.22" width="3.37" height="3.37" fill="#7874ba"/>
<rect x="309.32" y="406.64" width="4.44" height="4.53" fill="#efcdd6" stroke="#b0b0b0" stroke-width="0.35"/>
<rect x="310.11" y="407.47" width="2.86" height="2.86" fill="#e79db1"/>
<rect x="313.76" y="406.64" width="4.44" height="4.53" fill="#f3eaec" stroke="#b0b0b0" stroke-width="0.35"/>
<rect x="314.89" y="407.81" width="2.19" height="2.19" fill="#f1dce2"/>
<rect x="318.20" y="406.64" width="4.44" height="4.53" fill="#d3d2e5" stroke="#b0b0b0" stroke-width="0.35"/>
<rect x="319.04" y="407.53" width="2.75" height="2.75" fill="#aaa8d2"/>
<rect x="322.64" y="406.64" width="4.44" height="4.53" fill="#cecce2" stroke="#b0b0b0" stroke-width="0.35"/>
<rect x="323.42" y="407.46" width="2.89" height="2.89" fill="#9d9bcc"/>
<rect x="327.08" y="406.64" width="4.44" height="4.53" fill="#eec9d3" stroke="#b0b0b0" stroke-width="0.35"/>
<rect x="327.81" y="407.42" width="2.98" height="2.98" fill="#e592a8"/>
<rect x="331.52" y="406.64" width="4.44" height="4.53" fill="#edc1cd" stroke="#b0b0b0" stroke-width="0.35"/>
<rect x="332.17" y="407.33" width="3.15" height="3.15" fill="#e2829c"/>
<rect x="335.96" y="406.64" width="4.44" height="4.53" fill="#f2e4e8" stroke="#b0b0b0" stroke-width="0.35"/>
<rect x="337.02" y="407.74" width="2.33" height="2.33" fill="#efcfd7"/>
<rect x="340.40" y="406.64" width="4.44" height="4.53" fill="#f2e2e6" stroke="#b0b0b0" stroke-width="0.35"/>
<rect x="341.43" y="407.72" width="2.37" height="2.37" fill="#eecbd4"/>
<rect x="344.84" y="406.64" width="4.44" height="4.53" fill="#d6d5e7" stroke="#b0b0b0" stroke-width="0.35"/>
<rect x="345.72" y="407.57" width="2.67" height="2.67" fill="#b1afd5"/>
<rect x="247.16" y="411.17" width="4.44" height="4.53" fill="#d21e4e"/>
<rect x="251.60" y="411.17" width="4.44" height="4.53" fill="#eab4c3" stroke="#b0b0b0" stroke-width="0.35"/>
<rect x="252.09" y="411.71" width="3.46" height="3.46" fill="#de6686"/>
<rect x="256.04" y="411.17" width="4.44" height="4.53" fill="#e8a2b5" stroke="#b0b0b0" stroke-width="0.35"/>
<rect x="256.34" y="411.51" width="3.84" height="3.84" fill="#d73d66"/>
<rect x="260.48" y="411.17" width="4.44" height="4.53" fill="#e7a0b3" stroke="#b0b0b0" stroke-width="0.35"/>
<rect x="260.78" y="411.51" width="3.84" height="3.84" fill="#d63862"/>
<rect x="264.92" y="411.17" width="4.44" height="4.53" fill="#ebb5c3" stroke="#b0b0b0" stroke-width="0.35"/>
<rect x="265.42" y="411.71" width="3.45" height="3.45" fill="#de6686"/>
<rect x="269.36" y="411.17" width="4.44" height="4.53" fill="#d1d0e4" stroke="#b0b0b0" stroke-width="0.35"/>
<rect x="270.18" y="412.04" width="2.79" height="2.79" fill="#a6a4d0"/>
<rect x="273.80" y="411.17" width="4.44" height="4.53" fill="#c7c5df" stroke="#b0b0b0" stroke-width="0.35"/>
<rect x="274.49" y="411.91" width="3.05" height="3.05" fill="#8f8bc5"/>
<rect x="278.24" y="411.17" width="4.44" height="4.53" fill="#d9d8e8" stroke="#b0b0b0" stroke-width="0.35"/>
<rect x="279.15" y="412.13" width="2.61" height="2.61" fill="#b7b5d8"/>
<rect x="282.68" y="411.17" width="4.44" height="4.53" fill="#d3d2e5" stroke="#b0b0b0" stroke-width="0.35"/>
<rect x="283.52" y="412.06" width="2.75" height="2.75" fill="#aaa7d2"/>
<rect x="287.12" y="411.17" width="4.44" height="4.53" fill="#b4b2d6" stroke="#b0b0b0" stroke-width="0.35"/>
<rect x="287.58" y="411.68" width="3.52" height="3.52" fill="#7874ba"/>
<rect x="291.56" y="411.17" width="4.44" height="4.53" fill="#e1e0eb" stroke="#b0b0b0" stroke-width="0.35"/>
<rect x="292.57" y="412.22" width="2.42" height="2.42" fill="#c8c6e0"/>
<rect x="296.00" y="411.17" width="4.44" height="4.53" fill="#e2e1ec" stroke="#b0b0b0" stroke-width="0.35"/>
<rect x="297.03" y="412.24" width="2.39" height="2.39" fill="#cbc9e1"/>
<rect x="300.44" y="411.17" width="4.44" height="4.53" fill="#b1aed5" stroke="#b0b0b0" stroke-width="0.35"/>
<rect x="300.86" y="411.63" width="3.60" height="3.60" fill="#7874ba"/>
<rect x="304.88" y="411.17" width="4.44" height="4.53" fill="#dfdeea" stroke="#b0b0b0" stroke-width="0.35"/>
<rect x="305.86" y="412.20" width="2.47" height="2.47" fill="#c3c2de"/>
<rect x="309.32" y="411.17" width="4.44" height="4.53" fill="#e9e8ef" stroke="#b0b0b0" stroke-width="0.35"/>
<rect x="310.43" y="412.32" width="2.22" height="2.22" fill="#dad9e8"/>
<rect x="313.76" y="411.17" width="4.44" height="4.53" fill="#edc7d1" stroke="#b0b0b0" stroke-width="0.35"/>
<rect x="314.47" y="411.93" width="3.02" height="3.02" fill="#e48fa5"/>
<rect x="318.20" y="411.17" width="4.44" height="4.53" fill="#dbdae9" stroke="#b0b0b0" stroke-width="0.35"/>
<rect x="319.14" y="412.16" width="2.56" height="2.56" fill="#bbbada"/>
<rect x="322.64" y="411.17" width="4.44" height="4.53" fill="#f2e1e5" stroke="#b0b0b0" stroke-width="0.35"/>
<rect x="323.66" y="412.23" width="2.41" height="2.41" fill="#eec8d2"/>
<rect x="327.08" y="411.17" width="4.44" height="4.53" fill="#eeedf2" stroke="#b0b0b0" stroke-width="0.35"/>
<rect x="328.25" y="412.38" width="2.10" height="2.10" fill="#e5e4ed"/>
<rect x="331.52" y="411.17" width="4.44" height="4.53" fill="#e0dfeb" stroke="#b0b0b0" stroke-width="0.35"/>
<rect x="332.52" y="412.22" width="2.44" height="2.44" fill="#c6c5df"/>
<rect x="335.96" y="411.17" width="4.44" height="4.53" fill="#e3e2ec" stroke="#b0b0b0" stroke-width="0.35"/>
<rect x="336.99" y="412.25" width="2.37" height="2.37" fill="#cccbe2"/>
<rect x="340.40" y="411.17" width="4.44" height="4.53" fill="#f3eaed" stroke="#b0b0b0" stroke-width="0.35"/>
<rect x="341.53" y="412.35" width="2.18" height="2.18" fill="#f1dde2"/>
<rect x="344.84" y="411.17" width="4.44" height="4.53" fill="#f2f2f4" stroke="#b0b0b0" stroke-width="0.35"/>
<rect x="346.06" y="412.44" width="1.99" height="1.99" fill="#efeef2"/>
<rect x="251.60" y="415.70" width="4.44" height="4.53" fill="#d21e4e"/>
<rect x="256.04" y="415.70" width="4.44" height="4.53" fill="#ebb7c5" stroke="#b0b0b0" stroke-width="0.35"/>
<rect x="256.56" y="416.27" width="3.39" height="3.39" fill="#df6c8a"/>
<rect x="260.48" y="415.70" width="4.44" height="4.53" fill="#eab3c2" stroke="#b0b0b0" stroke-width="0.35"/>
<rect x="260.96" y="416.22" width="3.48" height="3.48" fill="#dd6384"/>
<rect x="264.92" y="415.70" width="4.44" height="4.53" fill="#edc2cd" stroke="#b0b0b0" stroke-width="0.35"/>
<rect x="265.57" y="416.39" width="3.14" height="3.14" fill="#e2839c"/>
<rect x="269.36" y="415.70" width="4.44" height="4.53" fill="#b9b7d9" stroke="#b0b0b0" stroke-width="0.35"/>
<rect x="269.89" y="416.27" width="3.39" height="3.39" fill="#7874ba"/>
<rect x="273.80" y="415.70" width="4.44" height="4.53" fill="#bab8d9" stroke="#b0b0b0" stroke-width="0.35"/>
<rect x="274.33" y="416.28" width="3.37" height="3.37" fill="#7874ba"/>
<rect x="278.24" y="415.70" width="4.44" height="4.53" fill="#b6b4d7" stroke="#b0b0b0" stroke-width="0.35"/>
<rect x="278.73" y="416.23" width="3.47" height="3.47" fill="#7874ba"/>
<rect x="282.68" y="415.70" width="4.44" height="4.53" fill="#cac9e1" stroke="#b0b0b0" stroke-width="0.35"/>
<rect x="283.41" y="416.48" width="2.97" height="2.97" fill="#9693c8"/>
<rect x="287.12" y="415.70" width="4.44" height="4.53" fill="#dfdeeb" stroke="#b0b0b0" stroke-width="0.35"/>
<rect x="288.11" y="416.74" width="2.46" height="2.46" fill="#c4c3de"/>
<rect x="291.56" y="415.70" width="4.44" height="4.53" fill="#d4d3e5" stroke="#b0b0b0" stroke-width="0.35"/>
<rect x="292.41" y="416.60" width="2.73" height="2.73" fill="#aca9d2"/>
<rect x="296.00" y="415.70" width="4.44" height="4.53" fill="#b2afd5" stroke="#b0b0b0" stroke-width="0.35"/>
<rect x="296.43" y="416.18" width="3.58" height="3.58" fill="#7874ba"/>
<rect x="300.44" y="415.70" width="4.44" height="4.53" fill="#c5c3de" stroke="#b0b0b0" stroke-width="0.35"/>
<rect x="301.11" y="416.41" width="3.10" height="3.10" fill="#8a87c3"/>
<rect x="304.88" y="415.70" width="4.44" height="4.53" fill="#dad9e8" stroke="#b0b0b0" stroke-width="0.35"/>
<rect x="305.81" y="416.67" width="2.59" height="2.59" fill="#b9b7d8"/>
<rect x="309.32" y="415.70" width="4.44" height="4.53" fill="#dddcea" stroke="#b0b0b0" stroke-width="0.35"/>
<rect x="310.29" y="416.71" width="2.50" height="2.50" fill="#c0bedc"/>
<rect x="313.76" y="415.70" width="4.44" height="4.53" fill="#eeeef2" stroke="#b0b0b0" stroke-width="0.35"/>
<rect x="314.94" y="416.92" width="2.09" height="2.09" fill="#e6e6ee"/>
<rect x="318.20" y="415.70" width="4.44" height="4.53" fill="#f1dce2" stroke="#b0b0b0" stroke-width="0.35"/>
<rect x="319.16" y="416.71" width="2.51" height="2.51" fill="#ecbeca"/>
<rect x="322.64" y="415.70" width="4.44" height="4.53" fill="#e7e6ee" stroke="#b0b0b0" stroke-width="0.35"/>
<rect x="323.72" y="416.83" width="2.27" height="2.27" fill="#d5d4e6"/>
<rect x="327.08" y="415.70" width="4.44" height="4.53" fill="#e7e7ef" stroke="#b0b0b0" stroke-width="0.35"/>
<rect x="328.17" y="416.84" width="2.25" height="2.25" fill="#d7d6e7"/>
<rect x="331.52" y="415.70" width="4.44" height="4.53" fill="#edc4cf" stroke="#b0b0b0" stroke-width="0.35"/>
<rect x="332.20" y="416.42" width="3.09" height="3.09" fill="#e388a0"/>
<rect x="335.96" y="415.70" width="4.44" height="4.53" fill="#f2e2e6" stroke="#b0b0b0" stroke-width="0.35"/>
<rect x="336.99" y="416.78" width="2.37" height="2.37" fill="#eecbd4"/>
<rect x="340.40" y="415.70" width="4.44" height="4.53" fill="#ebb9c6" stroke="#b0b0b0" stroke-width="0.35"/>
<rect x="340.95" y="416.29" width="3.35" height="3.35" fill="#df708e"/>
<rect x="344.84" y="415.70" width="4.44" height="4.53" fill="#dcdce9" stroke="#b0b0b0" stroke-width="0.35"/>
<rect x="345.80" y="416.70" width="2.53" height="2.53" fill="#bebddb"/>
<rect x="256.04" y="420.23" width="4.44" height="4.53" fill="#d21e4e"/>
<rect x="260.48" y="420.23" width="4.44" height="4.53" fill="#ecbecb" stroke="#b0b0b0" stroke-width="0.35"/>
<rect x="261.09" y="420.88" width="3.22" height="3.22" fill="#e17b97"/>
<rect x="264.92" y="420.23" width="4.44" height="4.53" fill="#e9adbd" stroke="#b0b0b0" stroke-width="0.35"/>
<rect x="265.32" y="420.68" width="3.64" height="3.64" fill="#db5579"/>
<rect x="269.36" y="420.23" width="4.44" height="4.53" fill="#d8d8e8" stroke="#b0b0b0" stroke-width="0.35"/>
<rect x="270.27" y="421.18" width="2.62" height="2.62" fill="#b6b4d7"/>
<rect x="273.80" y="420.23" width="4.44" height="4.53" fill="#dddcea" stroke="#b0b0b0" stroke-width="0.35"/>
<rect x="274.76" y="421.24" width="2.52" height="2.52" fill="#bfbddc"/>
<rect x="278.24" y="420.23" width="4.44" height="4.53" fill="#c6c4df" stroke="#b0b0b0" stroke-width="0.35"/>
<rect x="278.92" y="420.95" width="3.08" height="3.08" fill="#8c88c3"/>
<rect x="282.68" y="420.23" width="4.44" height="4.53" fill="#bebcdb" stroke="#b0b0b0" stroke-width="0.35"/>
<rect x="283.27" y="420.86" width="3.27" height="3.27" fill="#7b77bb"/>
<rect x="287.12" y="420.23" width="4.44" height="4.53" fill="#d0cfe4" stroke="#b0b0b0" stroke-width="0.35"/>
<rect x="287.93" y="421.08" width="2.83" height="2.83" fill="#a3a0ce"/>
<rect x="291.56" y="420.23" width="4.44" height="4.53" fill="#d8d7e7" stroke="#b0b0b0" stroke-width="0.35"/>
<rect x="292.46" y="421.17" width="2.64" height="2.64" fill="#b3b1d6"/>
<rect x="296.00" y="420.23" width="4.44" height="4.53" fill="#c4c3de" stroke="#b0b0b0" stroke-width="0.35"/>
<rect x="296.66" y="420.94" width="3.11" height="3.11" fill="#8986c2"/>
<rect x="300.44" y="420.23" width="4.44" height="4.53" fill="#b2b0d6" stroke="#b0b0b0" stroke-width="0.35"/>
<rect x="300.88" y="420.72" width="3.56" height="3.56" fill="#7874ba"/>
<rect x="304.88" y="420.23" width="4.44" height="4.53" fill="#b3b0d6" stroke="#b0b0b0" stroke-width="0.35"/>
<rect x="305.32" y="420.72" width="3.55" height="3.55" fill="#7874ba"/>
<rect x="309.32" y="420.23" width="4.44" height="4.53" fill="#f0d5dc" stroke="#b0b0b0" stroke-width="0.35"/>
<rect x="310.20" y="421.15" width="2.69" height="2.69" fill="#e9aebd"/>
<rect x="313.76" y="420.23" width="4.44" height="4.53" fill="#cdcce2" stroke="#b0b0b0" stroke-width="0.35"/>
<rect x="314.53" y="421.04" width="2.91" height="2.91" fill="#9c99cb"/>
<rect x="318.20" y="420.23" width="4.44" height="4.53" fill="#f1dde2" stroke="#b0b0b0" stroke-width="0.35"/>
<rect x="319.17" y="421.25" width="2.49" height="2.49" fill="#ecc0cc"/>
<rect x="322.64" y="420.23" width="4.44" height="4.53" fill="#f3e9ec" stroke="#b0b0b0" stroke-width="0.35"/>
<rect x="323.76" y="421.39" width="2.21" height="2.21" fill="#f1dae0"/>
<rect x="327.08" y="420.23" width="4.44" height="4.53" fill="#efeff2" stroke="#b0b0b0" stroke-width="0.35"/>
<rect x="328.26" y="421.46" width="2.07" height="2.07" fill="#e7e7ee"/>
<rect x="331.52" y="420.23" width="4.44" height="4.53" fill="#ecbbc8" stroke="#b0b0b0" stroke-width="0.35"/>
<rect x="332.09" y="420.84" width="3.31" height="3.31" fill="#e07491"/>
<rect x="335.96" y="420.23" width="4.44" height="4.53" fill="#f0d8df" stroke="#b0b0b0" stroke-width="0.35"/>
<rect x="336.88" y="421.19" width="2.60" height="2.60" fill="#ebb6c4"/>
<rect x="340.40" y="420.23" width="4.44" height="4.53" fill="#f3eaec" stroke="#b0b0b0" stroke-width="0.35"/>
<rect x="341.52" y="421.40" width="2.19" height="2.19" fill="#f1dce1"/>
<rect x="344.84" y="420.23" width="4.44" height="4.53" fill="#deddea" stroke="#b0b0b0" stroke-width="0.35"/>
<rect x="345.82" y="421.25" width="2.49" height="2.49" fill="#c2c0dd"/>
<rect x="260.48" y="424.76" width="4.44" height="4.53" fill="#d21e4e"/>
<rect x="264.92" y="424.76" width="4.44" height="4.53" fill="#e8a6b8" stroke="#b0b0b0" stroke-width="0.35"/>
<rect x="265.24" y="425.13" width="3.79" height="3.79" fill="#d9466d"/>
<rect x="269.36" y="424.76" width="4.44" height="4.53" fill="#deddea" stroke="#b0b0b0" stroke-width="0.35"/>
<rect x="270.34" y="425.78" width="2.49" height="2.49" fill="#c2c0dd"/>
<rect x="273.80" y="424.76" width="4.44" height="4.53" fill="#b6b4d7" stroke="#b0b0b0" stroke-width="0.35"/>
<rect x="274.28" y="425.29" width="3.48" height="3.48" fill="#7874ba"/>
<rect x="278.24" y="424.76" width="4.44" height="4.53" fill="#bab8d9" stroke="#b0b0b0" stroke-width="0.35"/>
<rect x="278.78" y="425.34" width="3.37" height="3.37" fill="#7874ba"/>
<rect x="282.68" y="424.76" width="4.44" height="4.53" fill="#d1d0e4" stroke="#b0b0b0" stroke-width="0.35"/>
<rect x="283.50" y="425.62" width="2.80" height="2.80" fill="#a5a3cf"/>
<rect x="287.12" y="424.76" width="4.44" height="4.53" fill="#c5c4df" stroke="#b0b0b0" stroke-width="0.35"/>
<rect x="287.80" y="425.48" width="3.09" height="3.09" fill="#8b88c3"/>
<rect x="291.56" y="424.76" width="4.44" height="4.53" fill="#e5e5ee" stroke="#b0b0b0" stroke-width="0.35"/>
<rect x="292.63" y="425.87" width="2.31" height="2.31" fill="#d2d1e4"/>
<rect x="296.00" y="424.76" width="4.44" height="4.53" fill="#d2d1e4" stroke="#b0b0b0" stroke-width="0.35"/>
<rect x="296.83" y="425.63" width="2.79" height="2.79" fill="#a7a4d0"/>
<rect x="300.44" y="424.76" width="4.44" height="4.53" fill="#dad9e8" stroke="#b0b0b0" stroke-width="0.35"/>
<rect x="301.37" y="425.73" width="2.58" height="2.58" fill="#b9b7d9"/>
<rect x="304.88" y="424.76" width="4.44" height="4.53" fill="#cdcce2" stroke="#b0b0b0" stroke-width="0.35"/>
<rect x="305.65" y="425.57" width="2.91" height="2.91" fill="#9c99cb"/>
<rect x="309.32" y="424.76" width="4.44" height="4.53" fill="#f3eaec" stroke="#b0b0b0" stroke-width="0.35"/>
<rect x="310.45" y="425.93" width="2.19" height="2.19" fill="#f1dce2"/>
<rect x="313.76" y="424.76" width="4.44" height="4.53" fill="#d3d2e5" stroke="#b0b0b0" stroke-width="0.35"/>
<rect x="314.60" y="425.65" width="2.76" height="2.76" fill="#a9a7d1"/>
<rect x="318.20" y="424.76" width="4.44" height="4.53" fill="#d0cfe4" stroke="#b0b0b0" stroke-width="0.35"/>
<rect x="319.01" y="425.61" width="2.83" height="2.83" fill="#a3a0ce"/>
<rect x="322.64" y="424.76" width="4.44" height="4.53" fill="#cfcde3" stroke="#b0b0b0" stroke-width="0.35"/>
<rect x="323.43" y="425.59" width="2.86" height="2.86" fill="#a09dcd"/>
<rect x="327.08" y="424.76" width="4.44" height="4.53" fill="#eec8d2" stroke="#b0b0b0" stroke-width="0.35"/>
<rect x="327.81" y="425.53" width="2.98" height="2.98" fill="#e592a8"/>
<rect x="331.52" y="424.76" width="4.44" height="4.53" fill="#eecad3" stroke="#b0b0b0" stroke-width="0.35"/>
<rect x="332.27" y="425.55" width="2.95" height="2.95" fill="#e595aa"/>
<rect x="335.96" y="424.76" width="4.44" height="4.53" fill="#eec8d2" stroke="#b0b0b0" stroke-width="0.35"/>
<rect x="336.69" y="425.53" width="2.98" height="2.98" fill="#e592a8"/>
<rect x="340.40" y="424.76" width="4.44" height="4.53" fill="#e9e9f0" stroke="#b0b0b0" stroke-width="0.35"/>
<rect x="341.52" y="425.92" width="2.20" height="2.20" fill="#dbdae9"/>
<rect x="344.84" y="424.76" width="4.44" height="4.53" fill="#d7d7e7" stroke="#b0b0b0" stroke-width="0.35"/>
<rect x="345.74" y="425.70" width="2.65" height="2.65" fill="#b3b1d6"/>
<rect x="264.92" y="429.29" width="4.44" height="4.53" fill="#d21e4e"/>
<rect x="269.36" y="429.29" width="4.44" height="4.53" fill="#dcdbe9" stroke="#b0b0b0" stroke-width="0.35"/>
<rect x="270.31" y="430.29" width="2.54" height="2.54" fill="#bdbbdb"/>
<rect x="273.80" y="429.29" width="4.44" height="4.53" fill="#b1afd5" stroke="#b0b0b0" stroke-width="0.35"/>
<rect x="274.23" y="429.76" width="3.58" height="3.58" fill="#7874ba"/>
<rect x="278.24" y="429.29" width="4.44" height="4.53" fill="#c9c8e0" stroke="#b0b0b0" stroke-width="0.35"/>
<rect x="278.96" y="430.05" width="3.00" height="3.00" fill="#9390c7"/>
<rect x="282.68" y="429.29" width="4.44" height="4.53" fill="#e5e5ee" stroke="#b0b0b0" stroke-width="0.35"/>
<rect x="283.75" y="430.40" width="2.30" height="2.30" fill="#d2d1e5"/>
<rect x="287.12" y="429.29" width="4.44" height="4.53" fill="#d4d3e6" stroke="#b0b0b0" stroke-width="0.35"/>
<rect x="287.98" y="430.19" width="2.72" height="2.72" fill="#acaad3"/>
<rect x="291.56" y="429.29" width="4.44" height="4.53" fill="#b3b1d6" stroke="#b0b0b0" stroke-width="0.35"/>
<rect x="292.01" y="429.79" width="3.53" height="3.53" fill="#7874ba"/>
<rect x="296.00" y="429.29" width="4.44" height="4.53" fill="#c6c5df" stroke="#b0b0b0" stroke-width="0.35"/>
<rect x="296.68" y="430.02" width="3.07" height="3.07" fill="#8d89c4"/>
<rect x="300.44" y="429.29" width="4.44" height="4.53" fill="#d0cfe4" stroke="#b0b0b0" stroke-width="0.35"/>
<rect x="301.25" y="430.14" width="2.83" height="2.83" fill="#a3a0ce"/>
<rect x="304.88" y="429.29" width="4.44" height="4.53" fill="#e6e5ee" stroke="#b0b0b0" stroke-width="0.35"/>
<rect x="305.95" y="430.41" width="2.30" height="2.30" fill="#d3d2e5"/>
<rect x="309.32" y="429.29" width="4.44" height="4.53" fill="#efd1d9" stroke="#b0b0b0" stroke-width="0.35"/>
<rect x="310.15" y="430.17" width="2.77" height="2.77" fill="#e8a6b7"/>
<rect x="313.76" y="429.29" width="4.44" height="4.53" fill="#d5d4e6" stroke="#b0b0b0" stroke-width="0.35"/>
<rect x="314.63" y="430.21" width="2.70" height="2.70" fill="#afacd4"/>
<rect x="318.20" y="429.29" width="4.44" height="4.53" fill="#deddea" stroke="#b0b0b0" stroke-width="0.35"/>
<rect x="319.18" y="430.31" width="2.49" height="2.49" fill="#c2c0dd"/>
<rect x="322.64" y="429.29" width="4.44" height="4.53" fill="#d6d5e6" stroke="#b0b0b0" stroke-width="0.35"/>
<rect x="323.52" y="430.21" width="2.68" height="2.68" fill="#b0aed4"/>
<rect x="327.08" y="429.29" width="4.44" height="4.53" fill="#d3d2e5" stroke="#b0b0b0" stroke-width="0.35"/>
<rect x="327.92" y="430.18" width="2.75" height="2.75" fill="#aaa7d1"/>
<rect x="331.52" y="429.29" width="4.44" height="4.53" fill="#f3e9ec" stroke="#b0b0b0" stroke-width="0.35"/>
<rect x="332.64" y="430.45" width="2.20" height="2.20" fill="#f1dae0"/>
<rect x="335.96" y="429.29" width="4.44" height="4.53" fill="#e0e0eb" stroke="#b0b0b0" stroke-width="0.35"/>
<rect x="336.97" y="430.34" width="2.43" height="2.43" fill="#c7c6df"/>
<rect x="340.40" y="429.29" width="4.44" height="4.53" fill="#f0d8de" stroke="#b0b0b0" stroke-width="0.35"/>
<rect x="341.31" y="430.25" width="2.61" height="2.61" fill="#ebb5c3"/>
<rect x="344.84" y="429.29" width="4.44" height="4.53" fill="#eeeef2" stroke="#b0b0b0" stroke-width="0.35"/>
<rect x="346.02" y="430.51" width="2.09" height="2.09" fill="#e6e5ee"/>
<rect x="269.36" y="433.82" width="4.44" height="4.53" fill="#d21e4e"/>
<rect x="273.80" y="433.82" width="4.44" height="4.53" fill="#eab0bf" stroke="#b0b0b0" stroke-width="0.35"/>
<rect x="274.23" y="434.30" width="3.57" height="3.57" fill="#dc5b7d"/>
<rect x="278.24" y="433.82" width="4.44" height="4.53" fill="#ecbdca" stroke="#b0b0b0" stroke-width="0.35"/>
<rect x="278.84" y="434.46" width="3.24" height="3.24" fill="#e17a95"/>
<rect x="282.68" y="433.82" width="4.44" height="4.53" fill="#e7a0b3" stroke="#b0b0b0" stroke-width="0.35"/>
<rect x="282.98" y="434.17" width="3.84" height="3.84" fill="#d63862"/>
<rect x="287.12" y="433.82" width="4.44" height="4.53" fill="#eecad4" stroke="#b0b0b0" stroke-width="0.35"/>
<rect x="287.87" y="434.62" width="2.93" height="2.93" fill="#e696ac"/>
<rect x="291.56" y="433.82" width="4.44" height="4.53" fill="#eaafbf" stroke="#b0b0b0" stroke-width="0.35"/>
<rect x="291.99" y="434.29" width="3.58" height="3.58" fill="#dc5a7d"/>
<rect x="296.00" y="433.82" width="4.44" height="4.53" fill="#eeccd5" stroke="#b0b0b0" stroke-width="0.35"/>
<rect x="296.77" y="434.64" width="2.90" height="2.90" fill="#e69aae"/>
<rect x="300.44" y="433.82" width="4.44" height="4.53" fill="#eecad4" stroke="#b0b0b0" stroke-width="0.35"/>
<rect x="301.19" y="434.62" width="2.94" height="2.94" fill="#e696ab"/>
<rect x="304.88" y="433.82" width="4.44" height="4.53" fill="#edc6d0" stroke="#b0b0b0" stroke-width="0.35"/>
<rect x="305.58" y="434.57" width="3.04" height="3.04" fill="#e48ca4"/>
<rect x="309.32" y="433.82" width="4.44" height="4.53" fill="#f4ecee" stroke="#b0b0b0" stroke-width="0.35"/>
<rect x="310.48" y="435.02" width="2.13" height="2.13" fill="#f2e2e6"/>
<rect x="313.76" y="433.82" width="4.44" height="4.53" fill="#f1dae0" stroke="#b0b0b0" stroke-width="0.35"/>
<rect x="314.70" y="434.81" width="2.55" height="2.55" fill="#ebbac7"/>
<rect x="318.20" y="433.82" width="4.44" height="4.53" fill="#f0eff2" stroke="#b0b0b0" stroke-width="0.35"/>
<rect x="319.39" y="435.06" width="2.06" height="2.06" fill="#e9e8ef"/>
<rect x="322.64" y="433.82" width="4.44" height="4.53" fill="#f2e1e6" stroke="#b0b0b0" stroke-width="0.35"/>
<rect x="323.66" y="434.89" width="2.39" height="2.39" fill="#eec9d3"/>
<rect x="327.08" y="433.82" width="4.44" height="4.53" fill="#f2e4e8" stroke="#b0b0b0" stroke-width="0.35"/>
<rect x="328.13" y="434.92" width="2.33" height="2.33" fill="#efcfd7"/>
<rect x="331.52" y="433.82" width="4.44" height="4.53" fill="#ebebf0" stroke="#b0b0b0" stroke-width="0.35"/>
<rect x="332.66" y="435.00" width="2.17" height="2.17" fill="#dedeea"/>
<rect x="335.96" y="433.82" width="4.44" height="4.53" fill="#ecbdc9" stroke="#b0b0b0" stroke-width="0.35"/>
<rect x="336.55" y="434.45" width="3.26" height="3.26" fill="#e17894"/>
<rect x="340.40" y="433.82" width="4.44" height="4.53" fill="#ededf1" stroke="#b0b0b0" stroke-width="0.35"/>
<rect x="341.56" y="435.03" width="2.12" height="2.12" fill="#e3e2ec"/>
<rect x="344.84" y="433.82" width="4.44" height="4.53" fill="#eae9f0" stroke="#b0b0b0" stroke-width="0.35"/>
<rect x="345.96" y="434.99" width="2.20" height="2.20" fill="#dcdbe9"/>
<rect x="273.80" y="438.35" width="4.44" height="4.53" fill="#d21e4e"/>
<rect x="278.24" y="438.35" width="4.44" height="4.53" fill="#efcdd6" stroke="#b0b0b0" stroke-width="0.35"/>
<rect x="279.03" y="439.18" width="2.87" height="2.87" fill="#e79cb0"/>
<rect x="282.68" y="438.35" width="4.44" height="4.53" fill="#e7a0b3" stroke="#b0b0b0" stroke-width="0.35"/>
<rect x="282.98" y="438.69" width="3.84" height="3.84" fill="#d63862"/>
<rect x="287.12" y="438.35" width="4.44" height="4.53" fill="#ebb7c5" stroke="#b0b0b0" stroke-width="0.35"/>
<rect x="287.64" y="438.92" width="3.39" height="3.39" fill="#df6c8a"/>
<rect x="291.56" y="438.35" width="4.44" height="4.53" fill="#efd0d8" stroke="#b0b0b0" stroke-width="0.35"/>
<rect x="292.38" y="439.22" width="2.80" height="2.80" fill="#e8a3b5"/>
<rect x="296.00" y="438.35" width="4.44" height="4.53" fill="#e8a5b7" stroke="#b0b0b0" stroke-width="0.35"/>
<rect x="296.31" y="438.71" width="3.81" height="3.81" fill="#d8446c"/>
<rect x="300.44" y="438.35" width="4.44" height="4.53" fill="#eab3c2" stroke="#b0b0b0" stroke-width="0.35"/>
<rect x="300.91" y="438.87" width="3.50" height="3.50" fill="#dd6283"/>
<rect x="304.88" y="438.35" width="4.44" height="4.53" fill="#eab3c2" stroke="#b0b0b0" stroke-width="0.35"/>
<rect x="305.35" y="438.87" width="3.50" height="3.50" fill="#dd6283"/>
<rect x="309.32" y="438.35" width="4.44" height="4.53" fill="#f4eff0" stroke="#b0b0b0" stroke-width="0.35"/>
<rect x="310.51" y="439.58" width="2.07" height="2.07" fill="#f3e7ea"/>
<rect x="313.76" y="438.35" width="4.44" height="4.53" fill="#f2e1e5" stroke="#b0b0b0" stroke-width="0.35"/>
<rect x="314.78" y="439.41" width="2.40" height="2.40" fill="#eec8d2"/>
<rect x="318.20" y="438.35" width="4.44" height="4.53" fill="#e8a6b8" stroke="#b0b0b0" stroke-width="0.35"/>
<rect x="318.52" y="438.72" width="3.80" height="3.80" fill="#d8466d"/>
<rect x="322.64" y="438.35" width="4.44" height="4.53" fill="#eeccd5" stroke="#b0b0b0" stroke-width="0.35"/>
<rect x="323.41" y="439.17" width="2.89" height="2.89" fill="#e69aaf"/>
<rect x="327.08" y="438.35" width="4.44" height="4.53" fill="#f2e4e8" stroke="#b0b0b0" stroke-width="0.35"/>
<rect x="328.14" y="439.45" width="2.32" height="2.32" fill="#efd0d8"/>
<rect x="331.52" y="438.35" width="4.44" height="4.53" fill="#e9a9ba" stroke="#b0b0b0" stroke-width="0.35"/>
<rect x="331.87" y="438.75" width="3.74" height="3.74" fill="#d94b71"/>
<rect x="335.96" y="438.35" width="4.44" height="4.53" fill="#e9aebe" stroke="#b0b0b0" stroke-width="0.35"/>
<rect x="336.37" y="438.81" width="3.62" height="3.62" fill="#db577a"/>
<rect x="340.40" y="438.35" width="4.44" height="4.53" fill="#efd1d9" stroke="#b0b0b0" stroke-width="0.35"/>
<rect x="341.23" y="439.23" width="2.77" height="2.77" fill="#e8a6b7"/>
<rect x="344.84" y="438.35" width="4.44" height="4.53" fill="#efeff2" stroke="#b0b0b0" stroke-width="0.35"/>
<rect x="346.03" y="439.58" width="2.06" height="2.06" fill="#e8e8ef"/>
<rect x="278.24" y="442.88" width="4.44" height="4.53" fill="#d21e4e"/>
<rect x="282.68" y="442.88" width="4.44" height="4.53" fill="#eab4c2" stroke="#b0b0b0" stroke-width="0.35"/>
<rect x="283.16" y="443.41" width="3.47" height="3.47" fill="#dd6485"/>
<rect x="287.12" y="442.88" width="4.44" height="4.53" fill="#e79db0" stroke="#b0b0b0" stroke-width="0.35"/>
<rect x="287.42" y="443.23" width="3.84" height="3.84" fill="#d5315d"/>
<rect x="291.56" y="442.88" width="4.44" height="4.53" fill="#edc4cf" stroke="#b0b0b0" stroke-width="0.35"/>
<rect x="292.23" y="443.60" width="3.09" height="3.09" fill="#e388a0"/>
<rect x="296.00" y="442.88" width="4.44" height="4.53" fill="#e8a8b9" stroke="#b0b0b0" stroke-width="0.35"/>
<rect x="296.34" y="443.26" width="3.77" height="3.77" fill="#d9496f"/>
<rect x="300.44" y="442.88" width="4.44" height="4.53" fill="#edc5cf" stroke="#b0b0b0" stroke-width="0.35"/>
<rect x="301.12" y="443.61" width="3.07" height="3.07" fill="#e389a1"/>
<rect x="304.88" y="442.88" width="4.44" height="4.53" fill="#ebb9c6" stroke="#b0b0b0" stroke-width="0.35"/>
<rect x="305.43" y="443.47" width="3.35" height="3.35" fill="#df708d"/>
<rect x="309.32" y="442.88" width="4.44" height="4.53" fill="#edc5d0" stroke="#b0b0b0" stroke-width="0.35"/>
<rect x="310.01" y="443.61" width="3.06" height="3.06" fill="#e48ba2"/>
<rect x="313.76" y="442.88" width="4.44" height="4.53" fill="#f3e6e9" stroke="#b0b0b0" stroke-width="0.35"/>
<rect x="314.84" y="444.01" width="2.28" height="2.28" fill="#f0d4db"/>
<rect x="318.20" y="442.88" width="4.44" height="4.53" fill="#f0d7dd" stroke="#b0b0b0" stroke-width="0.35"/>
<rect x="319.10" y="443.82" width="2.64" height="2.64" fill="#eab2c1"/>
<rect x="322.64" y="442.88" width="4.44" height="4.53" fill="#f4edee" stroke="#b0b0b0" stroke-width="0.35"/>
<rect x="323.80" y="444.08" width="2.12" height="2.12" fill="#f2e2e6"/>
<rect x="327.08" y="442.88" width="4.44" height="4.53" fill="#ededf1" stroke="#b0b0b0" stroke-width="0.35"/>
<rect x="328.25" y="444.09" width="2.11" height="2.11" fill="#e4e4ed"/>
<rect x="331.52" y="442.88" width="4.44" height="4.53" fill="#f5f4f4" stroke="#b0b0b0" stroke-width="0.35"/>
<rect x="332.77" y="444.17" width="1.94" height="1.94" fill="#f5f3f4"/>
<rect x="335.96" y="442.88" width="4.44" height="4.53" fill="#eab0bf" stroke="#b0b0b0" stroke-width="0.35"/>
<rect x="336.40" y="443.36" width="3.57" height="3.57" fill="#dc5b7e"/>
<rect x="340.40" y="442.88" width="4.44" height="4.53" fill="#f0d3db" stroke="#b0b0b0" stroke-width="0.35"/>
<rect x="341.26" y="443.78" width="2.72" height="2.72" fill="#e9aabb"/>
<rect x="344.84" y="442.88" width="4.44" height="4.53" fill="#c6c4df" stroke="#b0b0b0" stroke-width="0.35"/>
<rect x="345.52" y="443.61" width="3.08" height="3.08" fill="#8c89c4"/>
<rect x="282.68" y="447.41" width="4.44" height="4.53" fill="#d21e4e"/>
<rect x="287.12" y="447.41" width="4.44" height="4.53" fill="#e8a6b8" stroke="#b0b0b0" stroke-width="0.35"/>
<rect x="287.44" y="447.78" width="3.79" height="3.79" fill="#d9466d"/>
<rect x="291.56" y="447.41" width="4.44" height="4.53" fill="#edc2ce" stroke="#b0b0b0" stroke-width="0.35"/>
<rect x="292.22" y="448.11" width="3.13" height="3.13" fill="#e3859e"/>
<rect x="296.00" y="447.41" width="4.44" height="4.53" fill="#e8a4b6" stroke="#b0b0b0" stroke-width="0.35"/>
<rect x="296.30" y="447.76" width="3.84" height="3.84" fill="#d8426a"/>
<rect x="300.44" y="447.41" width="4.44" height="4.53" fill="#eab0bf" stroke="#b0b0b0" stroke-width="0.35"/>
<rect x="300.88" y="447.89" width="3.56" height="3.56" fill="#dc5c7e"/>
<rect x="304.88" y="447.41" width="4.44" height="4.53" fill="#eaafbe" stroke="#b0b0b0" stroke-width="0.35"/>
<rect x="305.30" y="447.88" width="3.59" height="3.59" fill="#dc597c"/>
<rect x="309.32" y="447.41" width="4.44" height="4.53" fill="#f0d7de" stroke="#b0b0b0" stroke-width="0.35"/>
<rect x="310.23" y="448.36" width="2.62" height="2.62" fill="#eab3c2"/>
<rect x="313.76" y="447.41" width="4.44" height="4.53" fill="#ecbeca" stroke="#b0b0b0" stroke-width="0.35"/>
<rect x="314.36" y="448.06" width="3.24" height="3.24" fill="#e17a95"/>
<rect x="318.20" y="447.41" width="4.44" height="4.53" fill="#e9aaba" stroke="#b0b0b0" stroke-width="0.35"/>
<rect x="318.56" y="447.82" width="3.72" height="3.72" fill="#da4d73"/>
<rect x="322.64" y="447.41" width="4.44" height="4.53" fill="#f0f0f3" stroke="#b0b0b0" stroke-width="0.35"/>
<rect x="323.84" y="448.66" width="2.03" height="2.03" fill="#ebeaf0"/>
<rect x="327.08" y="447.41" width="4.44" height="4.53" fill="#f1dbe1" stroke="#b0b0b0" stroke-width="0.35"/>
<rect x="328.03" y="448.41" width="2.54" height="2.54" fill="#ecbbc8"/>
<rect x="331.52" y="447.41" width="4.44" height="4.53" fill="#f3f3f4" stroke="#b0b0b0" stroke-width="0.35"/>
<rect x="332.75" y="448.69" width="1.97" height="1.97" fill="#f0f0f3"/>
<rect x="335.96" y="447.41" width="4.44" height="4.53" fill="#eec8d2" stroke="#b0b0b0" stroke-width="0.35"/>
<rect x="336.68" y="448.18" width="3.00" height="3.00" fill="#e590a7"/>
<rect x="340.40" y="447.41" width="4.44" height="4.53" fill="#eab1c0" stroke="#b0b0b0" stroke-width="0.35"/>
<rect x="340.85" y="447.90" width="3.54" height="3.54" fill="#dc5d7f"/>
<rect x="344.84" y="447.41" width="4.44" height="4.53" fill="#dfdeeb" stroke="#b0b0b0" stroke-width="0.35"/>
<rect x="345.83" y="448.44" width="2.46" height="2.46" fill="#c4c2de"/>
<rect x="287.12" y="451.94" width="4.44" height="4.53" fill="#d21e4e"/>
<rect x="291.56" y="451.94" width="4.44" height="4.53" fill="#e9aebe" stroke="#b0b0b0" stroke-width="0.35"/>
<rect x="291.97" y="452.40" width="3.62" height="3.62" fill="#db577a"/>
<rect x="296.00" y="451.94" width="4.44" height="4.53" fill="#e79db1" stroke="#b0b0b0" stroke-width="0.35"/>
<rect x="296.30" y="452.29" width="3.84" height="3.84" fill="#d5325d"/>
<rect x="300.44" y="451.94" width="4.44" height="4.53" fill="#e9adbd" stroke="#b0b0b0" stroke-width="0.35"/>
<rect x="300.84" y="452.38" width="3.64" height="3.64" fill="#db5478"/>
<rect x="304.88" y="451.94" width="4.44" height="4.53" fill="#e9aebe" stroke="#b0b0b0" stroke-width="0.35"/>
<rect x="305.30" y="452.40" width="3.60" height="3.60" fill="#db587b"/>
<rect x="309.32" y="451.94" width="4.44" height="4.53" fill="#eaafbf" stroke="#b0b0b0" stroke-width="0.35"/>
<rect x="309.75" y="452.42" width="3.58" height="3.58" fill="#dc5a7d"/>
<rect x="313.76" y="451.94" width="4.44" height="4.53" fill="#edc1cd" stroke="#b0b0b0" stroke-width="0.35"/>
<rect x="314.40" y="452.62" width="3.16" height="3.16" fill="#e2819b"/>
<rect x="318.20" y="451.94" width="4.44" height="4.53" fill="#ecc1cc" stroke="#b0b0b0" stroke-width="0.35"/>
<rect x="318.84" y="452.62" width="3.16" height="3.16" fill="#e2819b"/>
<rect x="322.64" y="451.94" width="4.44" height="4.53" fill="#f4ecee" stroke="#b0b0b0" stroke-width="0.35"/>
<rect x="323.79" y="453.14" width="2.13" height="2.13" fill="#f2e1e5"/>
<rect x="327.08" y="451.94" width="4.44" height="4.53" fill="#f3e9ec" stroke="#b0b0b0" stroke-width="0.35"/>
<rect x="328.19" y="453.10" width="2.21" height="2.21" fill="#f1dae0"/>
<rect x="331.52" y="451.94" width="4.44" height="4.53" fill="#f2e2e6" stroke="#b0b0b0" stroke-width="0.35"/>
<rect x="332.56" y="453.02" width="2.37" height="2.37" fill="#eecbd5"/>
<rect x="335.96" y="451.94" width="4.44" height="4.53" fill="#eec9d3" stroke="#b0b0b0" stroke-width="0.35"/>
<rect x="336.70" y="452.72" width="2.97" height="2.97" fill="#e593a9"/>
<rect x="340.40" y="451.94" width="4.44" height="4.53" fill="#ebb9c7" stroke="#b0b0b0" stroke-width="0.35"/>
<rect x="340.95" y="452.53" width="3.34" height="3.34" fill="#df708e"/>
<rect x="344.84" y="451.94" width="4.44" height="4.53" fill="#bebcdb" stroke="#b0b0b0" stroke-width="0.35"/>
<rect x="345.42" y="452.57" width="3.27" height="3.27" fill="#7b77bb"/>
<rect x="291.56" y="456.47" width="4.44" height="4.53" fill="#d21e4e"/>
<rect x="296.00" y="456.47" width="4.44" height="4.53" fill="#e7a2b4" stroke="#b0b0b0" stroke-width="0.35"/>
<rect x="296.30" y="456.81" width="3.84" height="3.84" fill="#d73c65"/>
<rect x="300.44" y="456.47" width="4.44" height="4.53" fill="#ecbcc9" stroke="#b0b0b0" stroke-width="0.35"/>
<rect x="301.02" y="457.10" width="3.28" height="3.28" fill="#e07692"/>
<rect x="304.88" y="456.47" width="4.44" height="4.53" fill="#edc5d0" stroke="#b0b0b0" stroke-width="0.35"/>
<rect x="305.57" y="457.20" width="3.07" height="3.07" fill="#e48aa2"/>
<rect x="309.32" y="456.47" width="4.44" height="4.53" fill="#e7a1b3" stroke="#b0b0b0" stroke-width="0.35"/>
<rect x="309.62" y="456.81" width="3.84" height="3.84" fill="#d63963"/>
<rect x="313.76" y="456.47" width="4.44" height="4.53" fill="#f1dde2" stroke="#b0b0b0" stroke-width="0.35"/>
<rect x="314.73" y="457.49" width="2.49" height="2.49" fill="#ecc0cc"/>
<rect x="318.20" y="456.47" width="4.44" height="4.53" fill="#f4f0f1" stroke="#b0b0b0" stroke-width="0.35"/>
<rect x="319.40" y="457.72" width="2.04" height="2.04" fill="#f3eaec"/>
<rect x="322.64" y="456.47" width="4.44" height="4.53" fill="#f2e4e8" stroke="#b0b0b0" stroke-width="0.35"/>
<rect x="323.70" y="457.57" width="2.33" height="2.33" fill="#efcfd7"/>
<rect x="327.08" y="456.47" width="4.44" height="4.53" fill="#f0d4db" stroke="#b0b0b0" stroke-width="0.35"/>
<rect x="327.94" y="457.38" width="2.71" height="2.71" fill="#e9abbc"/>
<rect x="331.52" y="456.47" width="4.44" height="4.53" fill="#eeccd6" stroke="#b0b0b0" stroke-width="0.35"/>
<rect x="332.30" y="457.29" width="2.88" height="2.88" fill="#e69baf"/>
<rect x="335.96" y="456.47" width="4.44" height="4.53" fill="#f0d7de" stroke="#b0b0b0" stroke-width="0.35"/>
<rect x="336.86" y="457.42" width="2.64" height="2.64" fill="#eab2c1"/>
<rect x="340.40" y="456.47" width="4.44" height="4.53" fill="#eecbd4" stroke="#b0b0b0" stroke-width="0.35"/>
<rect x="341.16" y="457.28" width="2.92" height="2.92" fill="#e698ad"/>
<rect x="344.84" y="456.47" width="4.44" height="4.53" fill="#e3e2ed" stroke="#b0b0b0" stroke-width="0.35"/>
<rect x="345.88" y="457.55" width="2.36" height="2.36" fill="#cdcce2"/>
<rect x="296.00" y="461.00" width="4.44" height="4.53" fill="#d21e4e"/>
<rect x="300.44" y="461.00" width="4.44" height="4.53" fill="#e8a3b5" stroke="#b0b0b0" stroke-width="0.35"/>
<rect x="300.74" y="461.35" width="3.84" height="3.84" fill="#d73f68"/>
<rect x="304.88" y="461.00" width="4.44" height="4.53" fill="#e9a9ba" stroke="#b0b0b0" stroke-width="0.35"/>
<rect x="305.24" y="461.40" width="3.72" height="3.72" fill="#da4d72"/>
<rect x="309.32" y="461.00" width="4.44" height="4.53" fill="#f3f3f4" stroke="#b0b0b0" stroke-width="0.35"/>
<rect x="310.56" y="462.28" width="1.97" height="1.97" fill="#f0f0f3"/>
<rect x="313.76" y="461.00" width="4.44" height="4.53" fill="#f2e6e9" stroke="#b0b0b0" stroke-width="0.35"/>
<rect x="314.84" y="462.12" width="2.29" height="2.29" fill="#efd3da"/>
<rect x="318.20" y="461.00" width="4.44" height="4.53" fill="#ebb5c3" stroke="#b0b0b0" stroke-width="0.35"/>
<rect x="318.69" y="461.54" width="3.45" height="3.45" fill="#de6686"/>
<rect x="322.64" y="461.00" width="4.44" height="4.53" fill="#edc1cd" stroke="#b0b0b0" stroke-width="0.35"/>
<rect x="323.28" y="461.69" width="3.16" height="3.16" fill="#e2829b"/>
<rect x="327.08" y="461.00" width="4.44" height="4.53" fill="#edc5d0" stroke="#b0b0b0" stroke-width="0.35"/>
<rect x="327.77" y="461.74" width="3.05" height="3.05" fill="#e48ba3"/>
<rect x="331.52" y="461.00" width="4.44" height="4.53" fill="#ebb9c6" stroke="#b0b0b0" stroke-width="0.35"/>
<rect x="332.06" y="461.59" width="3.35" height="3.35" fill="#df708d"/>
<rect x="335.96" y="461.00" width="4.44" height="4.53" fill="#f4f1f2" stroke="#b0b0b0" stroke-width="0.35"/>
<rect x="337.17" y="462.25" width="2.03" height="2.03" fill="#f3ebed"/>
<rect x="340.40" y="461.00" width="4.44" height="4.53" fill="#edc6d1" stroke="#b0b0b0" stroke-width="0.35"/>
<rect x="341.10" y="461.75" width="3.03" height="3.03" fill="#e48da4"/>
<rect x="344.84" y="461.00" width="4.44" height="4.53" fill="#eaeaf0" stroke="#b0b0b0" stroke-width="0.35"/>
<rect x="345.97" y="462.17" width="2.19" height="2.19" fill="#dddcea"/>
<rect x="300.44" y="465.53" width="4.44" height="4.53" fill="#d21e4e"/>
<rect x="304.88" y="465.53" width="4.44" height="4.53" fill="#eec8d2" stroke="#b0b0b0" stroke-width="0.35"/>
<rect x="305.60" y="466.30" width="2.99" height="2.99" fill="#e591a7"/>
<rect x="309.32" y="465.53" width="4.44" height="4.53" fill="#ebbac8" stroke="#b0b0b0" stroke-width="0.35"/>
<rect x="309.88" y="466.14" width="3.31" height="3.31" fill="#e07390"/>
<rect x="313.76" y="465.53" width="4.44" height="4.53" fill="#f0d8df" stroke="#b0b0b0" stroke-width="0.35"/>
<rect x="314.68" y="466.49" width="2.60" height="2.60" fill="#ebb5c3"/>
<rect x="318.20" y="465.53" width="4.44" height="4.53" fill="#f3e7ea" stroke="#b0b0b0" stroke-width="0.35"/>
<rect x="319.30" y="466.67" width="2.24" height="2.24" fill="#f0d7de"/>
<rect x="322.64" y="465.53" width="4.44" height="4.53" fill="#eec8d2" stroke="#b0b0b0" stroke-width="0.35"/>
<rect x="323.36" y="466.30" width="2.99" height="2.99" fill="#e591a7"/>
<rect x="327.08" y="465.53" width="4.44" height="4.53" fill="#e9aabb" stroke="#b0b0b0" stroke-width="0.35"/>
<rect x="327.44" y="465.94" width="3.71" height="3.71" fill="#da4e73"/>
<rect x="331.52" y="465.53" width="4.44" height="4.53" fill="#eec7d2" stroke="#b0b0b0" stroke-width="0.35"/>
<rect x="332.24" y="466.29" width="3.01" height="3.01" fill="#e490a6"/>
<rect x="335.96" y="465.53" width="4.44" height="4.53" fill="#f2e2e7" stroke="#b0b0b0" stroke-width="0.35"/>
<rect x="337.00" y="466.61" width="2.36" height="2.36" fill="#eeccd5"/>
<rect x="340.40" y="465.53" width="4.44" height="4.53" fill="#ecbecb" stroke="#b0b0b0" stroke-width="0.35"/>
<rect x="341.01" y="466.18" width="3.22" height="3.22" fill="#e17c97"/>
<rect x="344.84" y="465.53" width="4.44" height="4.53" fill="#efeff2" stroke="#b0b0b0" stroke-width="0.35"/>
<rect x="346.03" y="466.76" width="2.06" height="2.06" fill="#e8e7ef"/>
<rect x="304.88" y="470.06" width="4.44" height="4.53" fill="#d21e4e"/>
<rect x="309.32" y="470.06" width="4.44" height="4.53" fill="#c5c3de" stroke="#b0b0b0" stroke-width="0.35"/>
<rect x="309.98" y="470.77" width="3.11" height="3.11" fill="#8986c2"/>
<rect x="313.76" y="470.06" width="4.44" height="4.53" fill="#aaa8d2" stroke="#b0b0b0" stroke-width="0.35"/>
<rect x="314.10" y="470.44" width="3.76" height="3.76" fill="#7874ba"/>
<rect x="318.20" y="470.06" width="4.44" height="4.53" fill="#aaa8d2" stroke="#b0b0b0" stroke-width="0.35"/>
<rect x="318.54" y="470.44" width="3.76" height="3.76" fill="#7874ba"/>
<rect x="322.64" y="470.06" width="4.44" height="4.53" fill="#b9b7d9" stroke="#b0b0b0" stroke-width="0.35"/>
<rect x="323.16" y="470.63" width="3.39" height="3.39" fill="#7874ba"/>
<rect x="327.08" y="470.06" width="4.44" height="4.53" fill="#d1d0e4" stroke="#b0b0b0" stroke-width="0.35"/>
<rect x="327.90" y="470.92" width="2.81" height="2.81" fill="#a5a2cf"/>
<rect x="331.52" y="470.06" width="4.44" height="4.53" fill="#aaa8d2" stroke="#b0b0b0" stroke-width="0.35"/>
<rect x="331.86" y="470.44" width="3.76" height="3.76" fill="#7874ba"/>
<rect x="335.96" y="470.06" width="4.44" height="4.53" fill="#b6b4d7" stroke="#b0b0b0" stroke-width="0.35"/>
<rect x="336.44" y="470.59" width="3.47" height="3.47" fill="#7874ba"/>
<rect x="340.40" y="470.06" width="4.44" height="4.53" fill="#c8c7e0" stroke="#b0b0b0" stroke-width="0.35"/>
<rect x="341.11" y="470.81" width="3.02" height="3.02" fill="#918ec6"/>
<rect x="344.84" y="470.06" width="4.44" height="4.53" fill="#cecde3" stroke="#b0b0b0" stroke-width="0.35"/>
<rect x="345.63" y="470.89" width="2.87" height="2.87" fill="#9f9ccc"/>
<rect x="309.32" y="474.59" width="4.44" height="4.53" fill="#d21e4e"/>
<rect x="313.76" y="474.59" width="4.44" height="4.53" fill="#e69baf" stroke="#b0b0b0" stroke-width="0.35"/>
<rect x="314.06" y="474.94" width="3.84" height="3.84" fill="#d52e5a"/>
<rect x="318.20" y="474.59" width="4.44" height="4.53" fill="#e8a8b9" stroke="#b0b0b0" stroke-width="0.35"/>
<rect x="318.54" y="474.98" width="3.76" height="3.76" fill="#d94a70"/>
<rect x="322.64" y="474.59" width="4.44" height="4.53" fill="#e9a9ba" stroke="#b0b0b0" stroke-width="0.35"/>
<rect x="322.99" y="474.99" width="3.74" height="3.74" fill="#d94b71"/>
<rect x="327.08" y="474.59" width="4.44" height="4.53" fill="#e79eb1" stroke="#b0b0b0" stroke-width="0.35"/>
<rect x="327.38" y="474.94" width="3.84" height="3.84" fill="#d6345f"/>
<rect x="331.52" y="474.59" width="4.44" height="4.53" fill="#e8a4b6" stroke="#b0b0b0" stroke-width="0.35"/>
<rect x="331.82" y="474.94" width="3.84" height="3.84" fill="#d84169"/>
<rect x="335.96" y="474.59" width="4.44" height="4.53" fill="#e8a6b7" stroke="#b0b0b0" stroke-width="0.35"/>
<rect x="336.28" y="474.95" width="3.81" height="3.81" fill="#d8456c"/>
<rect x="340.40" y="474.59" width="4.44" height="4.53" fill="#e7a2b5" stroke="#b0b0b0" stroke-width="0.35"/>
<rect x="340.70" y="474.94" width="3.84" height="3.84" fill="#d73c66"/>
<rect x="344.84" y="474.59" width="4.44" height="4.53" fill="#b9b7d9" stroke="#b0b0b0" stroke-width="0.35"/>
<rect x="345.36" y="475.16" width="3.40" height="3.40" fill="#7874ba"/>
<rect x="313.76" y="479.12" width="4.44" height="4.53" fill="#d21e4e"/>
<rect x="318.20" y="479.12" width="4.44" height="4.53" fill="#e9aabb" stroke="#b0b0b0" stroke-width="0.35"/>
<rect x="318.57" y="479.53" width="3.70" height="3.70" fill="#da4f74"/>
<rect x="322.64" y="479.12" width="4.44" height="4.53" fill="#e9abbc" stroke="#b0b0b0" stroke-width="0.35"/>
<rect x="323.02" y="479.55" width="3.68" height="3.68" fill="#da5176"/>
<rect x="327.08" y="479.12" width="4.44" height="4.53" fill="#e7a1b4" stroke="#b0b0b0" stroke-width="0.35"/>
<rect x="327.38" y="479.47" width="3.84" height="3.84" fill="#d73a64"/>
<rect x="331.52" y="479.12" width="4.44" height="4.53" fill="#e698ac" stroke="#b0b0b0" stroke-width="0.35"/>
<rect x="331.82" y="479.47" width="3.84" height="3.84" fill="#d32654"/>
<rect x="335.96" y="479.12" width="4.44" height="4.53" fill="#e69aae" stroke="#b0b0b0" stroke-width="0.35"/>
<rect x="336.26" y="479.47" width="3.84" height="3.84" fill="#d42a58"/>
<rect x="340.40" y="479.12" width="4.44" height="4.53" fill="#e8a6b8" stroke="#b0b0b0" stroke-width="0.35"/>
<rect x="340.72" y="479.48" width="3.80" height="3.80" fill="#d8456c"/>
<rect x="344.84" y="479.12" width="4.44" height="4.53" fill="#f0f0f2" stroke="#b0b0b0" stroke-width="0.35"/>
<rect x="346.03" y="480.36" width="2.05" height="2.05" fill="#e9e9ef"/>
<rect x="318.20" y="483.65" width="4.44" height="4.53" fill="#d21e4e"/>
<rect x="322.64" y="483.65" width="4.44" height="4.53" fill="#e7a0b3" stroke="#b0b0b0" stroke-width="0.35"/>
<rect x="322.94" y="484.00" width="3.84" height="3.84" fill="#d63862"/>
<rect x="327.08" y="483.65" width="4.44" height="4.53" fill="#e79db1" stroke="#b0b0b0" stroke-width="0.35"/>
<rect x="327.38" y="484.00" width="3.84" height="3.84" fill="#d5325d"/>
<rect x="331.52" y="483.65" width="4.44" height="4.53" fill="#e69cb0" stroke="#b0b0b0" stroke-width="0.35"/>
<rect x="331.82" y="484.00" width="3.84" height="3.84" fill="#d52f5b"/>
<rect x="335.96" y="483.65" width="4.44" height="4.53" fill="#e79cb0" stroke="#b0b0b0" stroke-width="0.35"/>
<rect x="336.26" y="484.00" width="3.84" height="3.84" fill="#d5305c"/>
<rect x="340.40" y="483.65" width="4.44" height="4.53" fill="#e8a3b5" stroke="#b0b0b0" stroke-width="0.35"/>
<rect x="340.70" y="484.00" width="3.84" height="3.84" fill="#d73e67"/>
<rect x="344.84" y="483.65" width="4.44" height="4.53" fill="#d7d7e7" stroke="#b0b0b0" stroke-width="0.35"/>
<rect x="345.74" y="484.59" width="2.65" height="2.65" fill="#b3b1d6"/>
<rect x="322.64" y="488.18" width="4.44" height="4.53" fill="#d21e4e"/>
<rect x="327.08" y="488.18" width="4.44" height="4.53" fill="#e9aabb" stroke="#b0b0b0" stroke-width="0.35"/>
<rect x="327.45" y="488.60" width="3.69" height="3.69" fill="#da4f74"/>
<rect x="331.52" y="488.18" width="4.44" height="4.53" fill="#e8a8b9" stroke="#b0b0b0" stroke-width="0.35"/>
<rect x="331.86" y="488.57" width="3.76" height="3.76" fill="#d94970"/>
<rect x="335.96" y="488.18" width="4.44" height="4.53" fill="#e698ad" stroke="#b0b0b0" stroke-width="0.35"/>
<rect x="336.26" y="488.52" width="3.84" height="3.84" fill="#d32755"/>
<rect x="340.40" y="488.18" width="4.44" height="4.53" fill="#e7a2b4" stroke="#b0b0b0" stroke-width="0.35"/>
<rect x="340.70" y="488.52" width="3.84" height="3.84" fill="#d73c66"/>
<rect x="344.84" y="488.18" width="4.44" height="4.53" fill="#d1cfe4" stroke="#b0b0b0" stroke-width="0.35"/>
<rect x="345.65" y="489.04" width="2.81" height="2.81" fill="#a4a2cf"/>
<rect x="327.08" y="492.71" width="4.44" height="4.53" fill="#d21e4e"/>
<rect x="331.52" y="492.71" width="4.44" height="4.53" fill="#e69baf" stroke="#b0b0b0" stroke-width="0.35"/>
<rect x="331.82" y="493.06" width="3.84" height="3.84" fill="#d42d5a"/>
<rect x="335.96" y="492.71" width="4.44" height="4.53" fill="#e8a5b7" stroke="#b0b0b0" stroke-width="0.35"/>
<rect x="336.27" y="493.06" width="3.82" height="3.82" fill="#d8436b"/>
<rect x="340.40" y="492.71" width="4.44" height="4.53" fill="#e69baf" stroke="#b0b0b0" stroke-width="0.35"/>
<rect x="340.70" y="493.06" width="3.84" height="3.84" fill="#d52d5a"/>
<rect x="344.84" y="492.71" width="4.44" height="4.53" fill="#c8c7e0" stroke="#b0b0b0" stroke-width="0.35"/>
<rect x="345.55" y="493.46" width="3.03" height="3.03" fill="#918ec6"/>
<rect x="331.52" y="497.24" width="4.44" height="4.53" fill="#d21e4e"/>
<rect x="335.96" y="497.24" width="4.44" height="4.53" fill="#e79eb1" stroke="#b0b0b0" stroke-width="0.35"/>
<rect x="336.26" y="497.59" width="3.84" height="3.84" fill="#d6345f"/>
<rect x="340.40" y="497.24" width="4.44" height="4.53" fill="#e9abbc" stroke="#b0b0b0" stroke-width="0.35"/>
<rect x="340.78" y="497.67" width="3.68" height="3.68" fill="#da5176"/>
<rect x="344.84" y="497.24" width="4.44" height="4.53" fill="#c3c2de" stroke="#b0b0b0" stroke-width="0.35"/>
<rect x="345.49" y="497.93" width="3.14" height="3.14" fill="#8683c1"/>
<rect x="335.96" y="501.77" width="4.44" height="4.53" fill="#d21e4e"/>
<rect x="340.40" y="501.77" width="4.44" height="4.53" fill="#e595ab" stroke="#b0b0b0" stroke-width="0.35"/>
<rect x="340.70" y="502.12" width="3.84" height="3.84" fill="#d22050"/>
<rect x="344.84" y="501.77" width="4.44" height="4.53" fill="#cdcce2" stroke="#b0b0b0" stroke-width="0.35"/>
<rect x="345.61" y="502.59" width="2.90" height="2.90" fill="#9c9acb"/>
<rect x="340.40" y="506.30" width="4.44" height="4.53" fill="#d21e4e"/>
<rect x="344.84" y="506.30" width="4.44" height="4.53" fill="#e1e0eb" stroke="#b0b0b0" stroke-width="0.35"/>
<rect x="345.85" y="507.36" width="2.42" height="2.42" fill="#c8c7e0"/>
<rect x="344.84" y="510.83" width="4.44" height="4.53" fill="#d21e4e"/>
<circle cx="206.00" cy="374.00" r="0.75" fill="#9b1d40"/><circle cx="210.44" cy="378.53" r="0.75" fill="#9b1d40"/><circle cx="214.88" cy="383.06" r="0.75" fill="#9b1d40"/><circle cx="219.32" cy="387.59" r="0.75" fill="#9b1d40"/><circle cx="223.76" cy="392.12" r="0.75" fill="#9b1d40"/><circle cx="228.20" cy="396.65" r="0.75" fill="#9b1d40"/><circle cx="232.64" cy="401.18" r="0.75" fill="#9b1d40"/><circle cx="237.08" cy="405.71" r="0.75" fill="#9b1d40"/><circle cx="241.52" cy="410.24" r="0.75" fill="#9b1d40"/><circle cx="245.96" cy="414.77" r="0.75" fill="#9b1d40"/><circle cx="250.40" cy="419.30" r="0.75" fill="#9b1d40"/><circle cx="254.84" cy="423.83" r="0.75" fill="#9b1d40"/><circle cx="259.28" cy="428.36" r="0.75" fill="#9b1d40"/><circle cx="263.72" cy="432.89" r="0.75" fill="#9b1d40"/><circle cx="268.16" cy="437.42" r="0.75" fill="#9b1d40"/><circle cx="272.60" cy="441.95" r="0.75" fill="#9b1d40"/><circle cx="277.04" cy="446.48" r="0.75" fill="#9b1d40"/><circle cx="281.48" cy="451.01" r="0.75" fill="#9b1d40"/><circle cx="285.92" cy="455.54" r="0.75" fill="#9b1d40"/><circle cx="290.36" cy="460.07" r="0.75" fill="#9b1d40"/><circle cx="294.80" cy="464.60" r="0.75" fill="#9b1d40"/><circle cx="299.24" cy="469.13" r="0.75" fill="#9b1d40"/><circle cx="303.68" cy="473.66" r="0.75" fill="#9b1d40"/><circle cx="308.12" cy="478.19" r="0.75" fill="#9b1d40"/><circle cx="312.56" cy="482.72" r="0.75" fill="#9b1d40"/><circle cx="317.00" cy="487.25" r="0.75" fill="#9b1d40"/><circle cx="321.44" cy="491.78" r="0.75" fill="#9b1d40"/><circle cx="325.88" cy="496.31" r="0.75" fill="#9b1d40"/><circle cx="330.32" cy="500.84" r="0.75" fill="#9b1d40"/><circle cx="334.76" cy="505.37" r="0.75" fill="#9b1d40"/><circle cx="339.20" cy="509.90" r="0.75" fill="#9b1d40"/><circle cx="343.64" cy="514.43" r="0.75" fill="#9b1d40"/>
<text x="351.20" y="374.06" font-size="3.8">regulation of neurotransmitter levels</text>
<text x="351.20" y="378.59" font-size="3.8">neurotransmitter secretion</text>
<text x="351.20" y="383.12" font-size="3.8">regulation of cell projection organization</text>
<text x="351.20" y="387.65" font-size="3.8" fill="#c0223f">action potential</text>
<text x="351.20" y="392.18" font-size="3.8" fill="#c0223f">calcium ion transport</text>
<text x="351.20" y="396.71" font-size="3.8" fill="#c0223f">sodium ion transport</text>
<text x="351.20" y="401.24" font-size="3.8">REACTOME_DOPAMINE_NEUROTRANSMITTER_RELEASE_CYCLE</text>
<text x="351.20" y="405.77" font-size="3.8">REACTOME_INTRA_GOLGI_AND_RETROGRADE_GOLGI_TO_ER_TRAFFIC</text>
<text x="351.20" y="410.30" font-size="3.8">regulation of binding</text>
<text x="351.20" y="414.83" font-size="3.8">regulation of apoptotic process</text>
<text x="351.20" y="419.36" font-size="3.8">regulation of secretion by cell</text>
<text x="351.20" y="423.89" font-size="3.8">regulation of cellular catabolic process</text>
<text x="351.20" y="428.42" font-size="3.8">protein polyubiquitination</text>
<text x="351.20" y="432.95" font-size="3.8">microtubule cytoskeleton organization</text>
<text x="351.20" y="437.48" font-size="3.8">regulation of cellular response to stress</text>
<text x="351.20" y="442.01" font-size="3.8">positive regulation of cell death</text>
<text x="351.20" y="446.54" font-size="3.8">protein phosphorylation</text>
<text x="351.20" y="451.07" font-size="3.8">methylation</text>
<text x="351.20" y="455.60" font-size="3.8">regulation of transmembrane transporter activity</text>
<text x="351.20" y="460.13" font-size="3.8">microtubule-based transport</text>
<text x="351.20" y="464.66" font-size="3.8">negative regulation of neuron apoptotic process</text>
<text x="351.20" y="469.19" font-size="3.8">regulation of superoxide metabolic process</text>
<text x="351.20" y="473.72" font-size="3.8">cellular response to stress</text>
<text x="351.20" y="478.25" font-size="3.8" fill="#c0223f">regulation of trans-synaptic signaling</text>
<text x="351.20" y="482.78" font-size="3.8" fill="#c0223f">synaptic signaling</text>
<text x="351.20" y="487.31" font-size="3.8" fill="#c0223f">regulation of synaptic plasticity</text>
<text x="351.20" y="491.84" font-size="3.8" fill="#c0223f">regulation of synaptic transmission, glutamatergic</text>
<text x="351.20" y="496.37" font-size="3.8" fill="#c0223f">synapse organization</text>
<text x="351.20" y="500.90" font-size="3.8" fill="#c0223f">synapse assembly</text>
<text x="351.20" y="505.43" font-size="3.8" fill="#c0223f">positive regulation of synapse assembly</text>
<text x="351.20" y="509.96" font-size="3.8" fill="#c0223f">synaptic vesicle cycle</text>
<text x="351.20" y="514.50" font-size="3.8" fill="#c0223f">synapse pruning</text>
<circle cx="172" cy="413.7" r="0.9" fill="#9b1d40"/>
<text x="170.50" y="415.20" font-size="4.45" text-anchor="end">chemokine</text>
<circle cx="183" cy="426" r="0.9" fill="#9b1d40"/>
<text x="181.50" y="427.50" font-size="4.45" text-anchor="end">Proliferation</text>
<circle cx="194.5" cy="438" r="0.9" fill="#9b1d40"/>
<text x="193.00" y="439.50" font-size="4.45" text-anchor="end">inflammatory response</text>
<circle cx="205" cy="451" r="0.9" fill="#9b1d40"/>
<text x="203.50" y="452.50" font-size="4.45" text-anchor="end">complement activation</text>
<circle cx="216" cy="463.4" r="0.9" fill="#9b1d40"/>
<text x="214.50" y="464.90" font-size="4.45" text-anchor="end">immune response</text>
<circle cx="227.7" cy="475.4" r="0.9" fill="#9b1d40"/>
<text x="226.20" y="476.90" font-size="4.45" text-anchor="end">microglial cell activation</text>
<circle cx="238.5" cy="488" r="0.9" fill="#9b1d40"/>
<text x="237.00" y="489.50" font-size="4.45" text-anchor="end">Complement and coagulation cascades</text>
<circle cx="250" cy="500.8" r="0.9" fill="#9b1d40"/>
<text x="248.50" y="502.30" font-size="4.45" text-anchor="end">microglia_polarization</text>
<text x="136.00" y="400.80" font-size="11.2" fill="#c0223f">Microglia</text>
<path d="M142.3 512 V416" stroke="#c0223f" stroke-width="1.1" fill="none" stroke-dasharray="7 2.5 1.5 2.5"/>
<path d="M142.3 512 H244" stroke="#c0223f" stroke-width="1.1" fill="none" stroke-dasharray="7 2.5 1.5 2.5"/>
<path d="M142.3 407.2 L139 415.5 L145.6 415.5 Z" stroke="none" stroke-width="0" fill="#c0223f"/>
<path d="M251 512 L243 508.7 L243 515.3 Z" stroke="none" stroke-width="0" fill="#c0223f"/>
<text x="488.40" y="378.50" font-size="4.6" fill="#333">Relations</text>
<rect x="488.40" y="381.50" width="6.00" height="4.50" fill="#eeeeee"/>
<line x1="488.90" y1="383.70" x2="493.90" y2="383.70" stroke="#999" stroke-width="0.5"/>
<text x="496.40" y="385.20" font-size="4.0" fill="#333">Positive Relation</text>
<rect x="488.40" y="388.40" width="6.00" height="4.50" fill="#eeeeee"/>
<line x1="488.90" y1="390.60" x2="493.90" y2="390.60" stroke="#999" stroke-width="0.5" stroke-dasharray="1.2 0.8"/>
<text x="496.40" y="392.10" font-size="4.0" fill="#333">Negative Relation</text>
<text x="488.40" y="405.00" font-size="4.6" fill="#333">Pearson's r</text>
<rect x="488.40" y="408.00" width="6.00" height="4.50" fill="#eeeeee"/>
<line x1="488.90" y1="410.20" x2="493.90" y2="410.20" stroke="#555" stroke-width="0.4"/>
<text x="496.40" y="411.70" font-size="4.0" fill="#333">0.25</text>
<rect x="488.40" y="414.20" width="6.00" height="4.50" fill="#eeeeee"/>
<line x1="488.90" y1="416.40" x2="493.90" y2="416.40" stroke="#555" stroke-width="0.8"/>
<text x="496.40" y="417.90" font-size="4.0" fill="#333">0.50</text>
<rect x="488.40" y="420.40" width="6.00" height="4.50" fill="#eeeeee"/>
<line x1="488.90" y1="422.60" x2="493.90" y2="422.60" stroke="#555" stroke-width="1.3"/>
<text x="496.40" y="424.10" font-size="4.0" fill="#333">0.75</text>
<text x="488.40" y="437.50" font-size="4.6" fill="#333">Pearson's r</text>
<defs><linearGradient id="cbf" x1="0" y1="0" x2="0" y2="1"><stop offset="0" stop-color="#d01c48"/><stop offset="0.5" stop-color="#f6f6f6"/><stop offset="1" stop-color="#6a68b0"/></linearGradient></defs>
<rect x="488.40" y="439.70" width="6.20" height="31.50" fill="url(#cbf)"/>
<text x="496.40" y="441.50" font-size="4.0" fill="#333">1.0</text>
<text x="496.40" y="449.60" font-size="4.0" fill="#333">0.5</text>
<text x="496.40" y="457.70" font-size="4.0" fill="#333">0.0</text>
<text x="496.40" y="465.80" font-size="4.0" fill="#333">-0.5</text>
<text x="488.40" y="482.50" font-size="4.6" fill="#333">P value</text>
<rect x="488.40" y="486.30" width="6.00" height="4.50" fill="#eeeeee"/>
<line x1="488.90" y1="488.50" x2="493.90" y2="488.50" stroke="#1b9a78" stroke-width="0.8"/>
<text x="496.40" y="490.00" font-size="4.0" fill="#333">&lt;0.001</text>
<rect x="488.40" y="492.50" width="6.00" height="4.50" fill="#eeeeee"/>
<line x1="488.90" y1="494.70" x2="493.90" y2="494.70" stroke="#e08a3c" stroke-width="0.8"/>
<text x="496.40" y="496.20" font-size="4.0" fill="#333">&lt;0.01</text>
<rect x="488.40" y="498.70" width="6.00" height="4.50" fill="#eeeeee"/>
<line x1="488.90" y1="500.90" x2="493.90" y2="500.90" stroke="#8583c4" stroke-width="0.8"/>
<text x="496.40" y="502.40" font-size="4.0" fill="#333">&lt;0.05</text>
<rect x="488.40" y="504.90" width="6.00" height="4.50" fill="#eeeeee"/>
<line x1="488.90" y1="507.10" x2="493.90" y2="507.10" stroke="#c9c9c9" stroke-width="0.8"/>
<text x="496.40" y="508.60" font-size="4.0" fill="#333">NS</text>
<text x="519.80" y="367.20" font-size="11.8" font-weight="bold" fill="#000">g</text>
<text x="614.00" y="357.50" font-size="6.6" text-anchor="middle" fill="#333">Cluster</text>
<rect x="537.30" y="361.60" width="144.30" height="151.40" fill="none" stroke="#666" stroke-width="0.7"/>
<text transform="translate(532.20,430.50) rotate(-90)" font-size="6.7" text-anchor="middle" fill="#333">UMAP2</text>
<text x="615.00" y="522.00" font-size="6.7" text-anchor="middle" fill="#333">UMAP1</text>
<defs><clipPath id="gclip"><path d="M573,368.4 C590,369 603,372 610,380 C616,387 619,398 620.3,412 C621.5,425 622,437 619,447 C615,455 608,459 600,460.5 C592,462 583,462.5 576,460.5 C568,458.5 562,455 556,448 C549,440 544,430 543.2,419 C542.5,406 544,393 549,384 C554,375 562,369.5 573,368.4 Z"/></clipPath></defs>
<g clip-path="url(#gclip)">
<path d="M560.0,360.0 L625.0,360.0 L625.0,392.0 L612.0,398.0 L600.0,404.0 L580.0,408.0 L565.0,404.0 L558.0,395.0 Z" stroke="#1c9a4e" stroke-width="0.3" fill="#1c9a4e" stroke-linejoin="round"/>
<path d="M540.0,360.0 L578.0,360.0 L574.0,374.0 L568.0,388.0 L562.0,398.0 L548.0,404.0 L540.0,404.0 Z" stroke="#a8555c" stroke-width="0.3" fill="#a8555c" stroke-linejoin="round"/>
<path d="M598.0,400.0 L610.0,390.0 L625.0,386.0 L625.0,432.0 L610.0,432.0 L598.0,426.0 L596.0,410.0 Z" stroke="#9457a6" stroke-width="0.3" fill="#9457a6" stroke-linejoin="round"/>
<path d="M540.0,398.0 L552.0,396.0 L565.0,398.0 L566.0,415.0 L564.0,432.0 L568.0,452.0 L560.0,470.0 L540.0,470.0 Z" stroke="#e8822f" stroke-width="0.3" fill="#e8822f" stroke-linejoin="round"/>
<path d="M580.0,446.0 L590.0,432.0 L598.0,424.0 L608.0,420.0 L625.0,420.0 L625.0,470.0 L585.0,470.0 Z" stroke="#e2262c" stroke-width="0.3" fill="#e2262c" stroke-linejoin="round"/>
<path d="M558.0,446.0 L575.0,444.0 L588.0,440.0 L594.0,456.0 L592.0,470.0 L556.0,470.0 Z" stroke="#e487b4" stroke-width="0.3" fill="#e487b4" stroke-linejoin="round"/>
<path d="M563.0,400.0 L580.0,403.0 L598.0,402.0 L605.0,412.0 L604.0,424.0 L595.0,435.0 L584.0,444.0 L572.0,448.0 L564.0,444.0 L562.0,425.0 Z" stroke="#1f63a8" stroke-width="0.3" fill="#1f63a8" stroke-linejoin="round"/>
<path d="M584.4 448.7h0M621.6 391.9h0M605.1 437.5h0M596.2 372.1h0M542.3 402.3h0M603.4 387.8h0M582.6 394.9h0M611.9 464.0h0M574.1 469.8h0M545.3 449.4h0M614.4 376.6h0M600.0 421.5h0M621.2 383.1h0M585.9 457.1h0M594.3 394.0h0M547.0 463.4h0M580.3 469.6h0M552.0 449.3h0M609.1 461.2h0M541.5 400.9h0M544.4 442.7h0M570.1 465.5h0M571.9 445.2h0M613.8 386.3h0M587.3 465.3h0M584.8 399.6h0M562.7 446.5h0M556.4 426.4h0M587.2 420.9h0M551.0 432.4h0M617.9 395.1h0M568.2 460.0h0M589.2 390.0h0M540.8 442.9h0M569.6 411.4h0M563.2 429.6h0M602.0 394.1h0M546.4 468.5h0M617.4 362.3h0M588.0 435.5h0M574.3 440.5h0M621.6 424.9h0M573.3 381.5h0M561.4 376.6h0M549.4 383.4h0M611.6 419.1h0M608.4 461.2h0M608.9 365.4h0M618.7 370.2h0M605.5 452.3h0M595.9 404.4h0M546.4 369.4h0M594.1 386.6h0M585.2 389.2h0M553.9 392.5h0M601.6 413.5h0M573.4 413.5h0M587.1 416.7h0M577.8 466.4h0M603.9 385.2h0M567.1 380.8h0M570.9 363.1h0M603.3 422.5h0M575.9 458.3h0M567.9 423.6h0M619.0 421.1h0M592.1 400.5h0M624.8 443.0h0M565.8 399.1h0M590.3 417.0h0M584.5 381.1h0M588.9 437.4h0M605.0 409.4h0M577.9 415.5h0M585.6 412.2h0M541.0 389.0h0M624.0 450.9h0M579.7 442.7h0M558.0 389.4h0M584.0 436.9h0M542.3 411.9h0M617.0 427.3h0M624.4 370.9h0M617.2 452.1h0M542.2 419.0h0M604.5 384.4h0M595.2 453.6h0M607.5 407.1h0M545.0 419.3h0M556.0 419.3h0M562.9 398.2h0M586.2 450.2h0M622.9 404.6h0M540.6 442.5h0M568.8 443.3h0M610.6 363.7h0M602.1 391.3h0M567.3 396.8h0M585.8 386.8h0M582.0 391.2h0M550.6 387.5h0M597.9 394.2h0M557.0 400.2h0M558.2 468.3h0M606.9 376.7h0M565.0 407.9h0M584.9 402.7h0M584.5 443.6h0M553.1 421.5h0M554.0 418.8h0M567.0 448.3h0M614.9 465.2h0M574.6 427.8h0M554.3 438.3h0M606.1 407.0h0M567.3 443.4h0M603.8 447.9h0M564.5 386.7h0M561.3 381.0h0M540.6 373.5h0M581.9 407.4h0M615.6 401.6h0M554.5 462.4h0M546.2 397.4h0M604.9 395.3h0M621.9 441.8h0M566.2 455.0h0M618.4 416.5h0M552.2 371.4h0M609.5 457.7h0M595.6 445.1h0M607.5 386.1h0M558.1 455.4h0M611.3 408.0h0M563.0 368.7h0M574.4 460.0h0M557.3 394.7h0M543.0 422.6h0M545.1 434.2h0M581.8 406.5h0M562.0 393.3h0M615.9 463.5h0M603.9 383.4h0M557.7 399.9h0M614.4 463.7h0M559.5 429.7h0M572.3 410.1h0M556.8 439.4h0M606.5 463.3h0M581.2 408.6h0M594.9 374.4h0M614.7 444.5h0M559.4 404.2h0M581.3 453.7h0M598.9 386.3h0M620.8 462.3h0M612.9 414.2h0M580.2 404.7h0M623.1 413.0h0M621.6 380.2h0M542.6 411.9h0M556.9 388.2h0M543.1 373.7h0M577.5 369.6h0M565.2 427.4h0M562.1 394.3h0M572.2 389.0h0M587.9 445.5h0M542.6 419.0h0M585.5 461.0h0M599.8 390.2h0M592.4 459.1h0M620.9 444.4h0M549.1 400.9h0M580.7 396.2h0M604.5 414.2h0M623.2 360.9h0M608.7 372.5h0M584.1 376.4h0M572.5 427.2h0M621.5 364.5h0M573.3 372.0h0M603.2 375.8h0M556.7 449.0h0M544.0 457.4h0M562.8 469.6h0M549.0 370.6h0M580.5 394.0h0M594.7 393.3h0M568.1 361.8h0M547.5 360.3h0M579.2 456.4h0M585.6 395.6h0M579.0 444.2h0M614.0 370.2h0M594.9 392.7h0M619.0 439.7h0M590.2 433.3h0M604.8 367.8h0M567.4 364.3h0M553.1 462.0h0M588.6 382.0h0M565.1 406.1h0M547.3 449.6h0M572.4 366.2h0M583.7 405.5h0M604.9 389.0h0M560.3 415.2h0M574.4 374.2h0M602.5 455.3h0M610.6 432.4h0M580.0 446.9h0M557.9 370.9h0M557.4 418.4h0M557.7 407.9h0M609.1 427.9h0M556.9 373.4h0M540.5 365.6h0M562.2 438.3h0M610.5 402.5h0M543.9 421.6h0M620.6 361.7h0M593.5 469.8h0M567.5 425.1h0M608.9 433.3h0M554.7 446.5h0M589.8 432.6h0M590.9 450.8h0M588.6 461.5h0M549.4 362.6h0M551.7 415.8h0M601.1 460.9h0M540.6 360.9h0M572.5 432.3h0M573.9 390.8h0M557.2 438.4h0M591.6 464.8h0M567.8 412.4h0M621.8 437.0h0M562.2 440.2h0M578.0 369.9h0M548.9 414.8h0M566.5 388.6h0M601.5 388.4h0M578.3 415.9h0M540.7 448.5h0M562.8 377.8h0M583.7 383.5h0M542.7 372.5h0M543.4 399.0h0M567.7 383.1h0M554.9 453.0h0M588.9 426.7h0M540.8 461.6h0M542.8 444.0h0M595.6 405.2h0M568.5 419.5h0M589.4 452.7h0M544.8 369.8h0M593.1 391.3h0M589.3 402.1h0M542.9 450.6h0M555.9 396.7h0M603.2 460.5h0M612.8 462.3h0M567.2 385.7h0M579.0 451.1h0M595.2 428.8h0M600.0 383.8h0M588.2 407.0h0M614.8 394.1h0M586.3 429.6h0M600.0 446.6h0M603.5 374.7h0M622.1 364.1h0M602.2 393.4h0M548.5 399.9h0M549.7 383.2h0M622.2 449.3h0M571.5 414.3h0M590.9 394.9h0M551.5 408.5h0M611.9 465.7h0M591.7 448.2h0M575.6 446.4h0M608.8 459.3h0M556.4 417.7h0M546.3 424.0h0M580.2 425.0h0M585.2 397.7h0M552.0 395.3h0M606.3 390.4h0M622.1 452.3h0M562.4 409.8h0M607.9 361.0h0M605.4 404.7h0M597.4 361.0h0M595.2 366.3h0M564.2 427.5h0M593.9 399.8h0M561.9 400.1h0M565.7 385.0h0M561.0 414.6h0M603.9 450.5h0M573.5 463.9h0M569.5 451.8h0M609.2 442.8h0M617.3 426.4h0M614.9 390.0h0M583.0 422.6h0M585.3 366.6h0M561.9 429.5h0M571.2 437.2h0M602.3 420.8h0M551.3 409.1h0M618.4 394.6h0M547.6 444.6h0M571.2 381.9h0M583.6 460.6h0M587.8 383.3h0M540.7 406.4h0M562.4 466.0h0M615.1 467.5h0M617.6 390.8h0M594.0 420.7h0M585.3 419.5h0M558.5 377.1h0M544.7 435.9h0M554.2 455.1h0M595.1 393.7h0M616.1 370.1h0M557.2 447.4h0M571.5 459.8h0M581.9 360.0h0M619.1 468.7h0M578.4 438.6h0M598.0 371.2h0M604.2 414.1h0M599.0 360.5h0M574.7 381.7h0M618.8 363.3h0M542.1 395.8h0M609.4 381.2h0M598.0 446.7h0M590.6 402.5h0M603.3 373.1h0M562.8 455.1h0M558.3 388.4h0M551.6 418.7h0M618.9 375.9h0M583.7 458.3h0M547.4 413.2h0M565.5 420.5h0M620.1 463.1h0M568.2 382.2h0M583.6 463.7h0M560.5 390.0h0M572.9 463.2h0M565.2 381.3h0M574.1 419.7h0M558.9 445.2h0M556.6 418.1h0M570.4 457.2h0M622.9 411.1h0M574.0 404.5h0M593.3 377.7h0M543.3 389.2h0M588.4 397.9h0M553.9 420.6h0M621.7 463.8h0M561.0 381.2h0M598.0 454.6h0M550.5 416.8h0M566.7 466.0h0M620.5 387.0h0M621.5 375.8h0M561.3 463.2h0M569.3 465.0h0M589.1 429.3h0M618.2 440.7h0M567.5 406.3h0M569.8 386.2h0M567.4 437.4h0M576.7 366.1h0M609.1 433.1h0M617.9 423.2h0M569.0 447.7h0M599.5 423.7h0M591.2 400.6h0M563.7 363.7h0M577.0 416.1h0M554.8 462.6h0M617.7 395.7h0M551.3 368.7h0M593.6 443.7h0M576.5 446.3h0M561.1 396.1h0M559.3 362.4h0M540.6 457.6h0M552.1 369.9h0M595.1 396.1h0M585.9 363.4h0M545.0 412.8h0M621.1 379.2h0M552.2 444.9h0M604.1 416.5h0M601.9 397.0h0M559.4 395.8h0M563.7 422.9h0M603.9 449.0h0M596.3 381.0h0M600.4 387.2h0M551.5 406.8h0M624.5 404.6h0M597.7 445.7h0M594.0 378.8h0M595.5 434.8h0M563.1 373.3h0M544.9 436.5h0M617.9 362.0h0M574.9 447.2h0M612.6 444.5h0M553.5 398.7h0M544.8 402.6h0M603.3 388.8h0M622.7 388.7h0M581.8 420.0h0M584.3 438.5h0M583.2 448.8h0M589.4 465.3h0M611.4 457.8h0M620.1 431.8h0M575.9 379.8h0M560.8 414.6h0M604.5 412.7h0M544.4 391.6h0M586.4 379.5h0M615.5 393.7h0M549.6 460.6h0M579.1 382.9h0M547.9 417.8h0M619.7 394.7h0M570.8 454.8h0M594.9 445.3h0M540.2 454.6h0M624.0 402.3h0M608.8 373.7h0M561.4 461.2h0M558.9 401.8h0M567.0 376.2h0M616.8 369.2h0M620.9 397.3h0M596.3 397.4h0M564.9 425.9h0M619.2 429.8h0M557.7 427.9h0M597.6 468.1h0M573.3 459.7h0M579.2 469.0h0M587.0 390.3h0M600.9 461.2h0M552.4 401.6h0M580.5 461.3h0M617.6 387.3h0M594.8 431.6h0M588.5 365.8h0M575.7 460.0h0M563.1 463.5h0M605.2 403.7h0M559.6 382.7h0M614.1 427.7h0M610.3 406.2h0M594.4 395.9h0M553.7 410.6h0M557.3 412.2h0M569.7 379.0h0M566.0 458.4h0M614.6 455.4h0M558.6 410.5h0M596.9 378.9h0M573.1 444.5h0M621.2 376.3h0M583.0 414.5h0M577.0 456.6h0M541.3 450.2h0M610.8 401.3h0M604.1 445.2h0M575.2 373.9h0M559.3 463.5h0M570.3 446.0h0M547.2 448.0h0M563.2 432.9h0M564.6 440.5h0M599.6 468.3h0M557.2 405.9h0M616.0 429.4h0M548.5 371.1h0M590.5 374.9h0M546.3 409.8h0M564.6 412.2h0M581.1 432.6h0M553.6 462.3h0M546.8 447.9h0M575.0 411.1h0M589.4 403.6h0M579.7 467.0h0M590.8 420.7h0M562.1 463.8h0M596.5 393.7h0M622.0 389.2h0M620.5 464.4h0M608.7 391.6h0M620.6 415.5h0M540.9 411.3h0M585.6 405.4h0M540.7 377.5h0M559.0 396.6h0M562.1 425.1h0M607.4 424.9h0M583.7 385.1h0M576.8 394.7h0M574.1 391.3h0M622.8 419.5h0M575.0 460.9h0M590.5 454.3h0M608.8 465.9h0M563.1 433.5h0M615.8 403.6h0M615.8 367.5h0M546.9 383.1h0M568.4 385.8h0M562.3 418.4h0M590.2 393.8h0M616.0 468.8h0M622.8 439.5h0M621.5 442.0h0M619.2 414.0h0M622.7 362.1h0M600.7 435.5h0M550.2 450.1h0M571.4 460.1h0M624.2 408.5h0M623.9 377.5h0M558.7 455.4h0M605.1 393.3h0M575.2 406.6h0M601.4 364.1h0M587.9 435.1h0M601.7 367.1h0M560.8 386.1h0M576.9 434.5h0M584.7 400.4h0M575.8 451.9h0M621.7 442.8h0M564.7 366.2h0M592.9 361.7h0M559.6 372.4h0M559.8 363.2h0M545.2 465.3h0M616.7 361.7h0M613.5 448.4h0M620.5 447.5h0M564.4 440.3h0M547.4 423.5h0M609.1 367.6h0M554.3 462.7h0M578.0 381.1h0M572.5 397.4h0M541.3 450.9h0M575.2 427.1h0M596.5 464.2h0M610.7 420.7h0M571.4 427.6h0M558.8 377.8h0M600.4 464.7h0M615.6 370.3h0M601.5 437.9h0M603.1 403.6h0M580.8 446.5h0M551.8 399.7h0M548.6 428.5h0M564.7 443.1h0M543.0 459.5h0M582.4 406.2h0M546.5 392.5h0M598.2 404.5h0M554.7 372.1h0M587.9 361.7h0M587.9 411.0h0M589.0 371.9h0M610.8 376.5h0M600.8 437.2h0M613.0 426.0h0M593.3 428.3h0M569.0 386.9h0M559.9 454.1h0M585.2 411.6h0M622.5 444.5h0M597.0 433.7h0M556.2 421.4h0M557.3 446.2h0M588.2 386.2h0M573.0 467.5h0M614.4 414.7h0M563.2 384.7h0M584.8 371.7h0M587.2 416.1h0M579.4 447.1h0M572.0 449.1h0M560.7 445.1h0M579.4 407.5h0M572.3 380.6h0M569.2 362.1h0M573.8 424.2h0M554.5 398.9h0M561.2 375.3h0M624.8 466.9h0M603.3 393.9h0M622.1 383.0h0M572.1 363.2h0M624.1 376.9h0M615.1 448.5h0M604.6 458.2h0M621.3 415.6h0M599.1 413.8h0M570.0 401.1h0M613.3 453.2h0M565.7 406.0h0M583.8 403.7h0M555.0 423.1h0M540.9 469.7h0M564.0 433.3h0M581.3 440.0h0M611.6 369.1h0M552.0 464.0h0M615.8 389.8h0M594.1 380.2h0M577.4 415.3h0M602.0 402.7h0M584.1 399.4h0M565.2 366.7h0M570.6 443.6h0M619.5 400.0h0M611.0 374.4h0M595.5 451.7h0M609.3 465.6h0M616.9 452.1h0M554.9 435.5h0M606.1 441.4h0M598.0 458.2h0M556.4 465.6h0M620.1 398.6h0M568.9 429.1h0M584.1 363.9h0M611.3 400.0h0M592.8 441.2h0M623.2 401.8h0M592.6 461.2h0M599.4 392.9h0M560.9 427.4h0M594.5 405.1h0M604.3 368.4h0M588.7 461.3h0M576.9 390.5h0M602.7 418.6h0M558.0 389.4h0M563.7 377.1h0M552.5 394.8h0M622.5 413.6h0M542.3 426.5h0M600.1 419.7h0M575.5 362.4h0M603.2 391.9h0M598.9 438.3h0M595.1 424.1h0M599.3 368.4h0M578.8 464.8h0M556.3 441.8h0M543.1 371.5h0M541.2 458.0h0M595.7 455.2h0M576.8 413.3h0M624.7 426.7h0M576.0 398.9h0M546.4 419.5h0M546.8 416.3h0M581.8 420.9h0M599.5 380.3h0M547.8 397.3h0M612.4 407.0h0M600.9 386.8h0M611.9 417.9h0M597.4 423.5h0M554.6 387.5h0M555.0 429.2h0M547.1 409.1h0M617.2 444.5h0M549.8 409.6h0M613.4 466.4h0M623.7 391.5h0M589.5 458.2h0M548.1 398.7h0M595.3 430.3h0M581.6 417.9h0M541.2 366.2h0M557.7 365.0h0M576.5 460.3h0M618.6 381.9h0M563.7 422.1h0M602.3 407.8h0M553.9 421.7h0M606.9 386.3h0M608.4 407.8h0M624.9 378.0h0M573.0 384.0h0M547.1 429.0h0M575.6 461.1h0M609.5 361.3h0M579.8 441.0h0M550.9 435.8h0M562.3 437.7h0M589.0 360.2h0M601.5 373.9h0M616.9 433.9h0M543.7 363.4h0M561.0 428.4h0M560.5 441.6h0M543.8 394.6h0M550.8 437.5h0M606.1 386.9h0M579.0 438.3h0M609.1 378.8h0M556.6 413.3h0M542.7 447.6h0M554.6 434.9h0M580.1 439.9h0M566.3 414.9h0M541.8 457.6h0M599.5 367.9h0M579.9 408.8h0M586.4 401.7h0M564.9 391.2h0M609.2 435.9h0M606.4 413.8h0M621.0 417.8h0M612.8 424.6h0M589.0 430.7h0M611.3 411.0h0M543.0 453.1h0M545.6 396.6h0M573.1 427.6h0M551.6 427.2h0M601.9 458.8h0M569.9 411.7h0M608.8 405.2h0M574.1 371.2h0M606.7 370.9h0M579.7 373.4h0M596.4 387.6h0M597.1 369.9h0M618.8 393.1h0M598.9 463.3h0M574.1 461.2h0M617.0 418.6h0M595.9 445.0h0M620.1 407.0h0M555.9 396.2h0M586.9 451.6h0M542.9 389.5h0M622.3 441.3h0M566.0 397.8h0M553.5 433.6h0M618.7 463.8h0M561.5 384.1h0M558.5 451.5h0M564.2 400.2h0M547.8 452.6h0M614.3 432.9h0M565.4 437.2h0M600.9 451.6h0M559.7 430.1h0M592.9 401.0h0M576.2 391.1h0M562.7 461.5h0M544.2 464.4h0M555.0 447.9h0M551.4 396.1h0M545.2 458.5h0M543.7 466.5h0M556.3 370.8h0M548.2 435.8h0M540.6 422.8h0M592.9 466.6h0M595.0 433.9h0M554.7 428.9h0M587.5 413.0h0M560.2 403.4h0M545.5 461.5h0M601.3 366.4h0M620.3 418.2h0M605.8 380.9h0M556.2 365.0h0M594.8 437.1h0M555.8 386.9h0M585.5 401.9h0M585.6 461.8h0M546.1 366.6h0M599.5 424.1h0M555.0 414.4h0M591.7 399.6h0M572.7 464.0h0M544.9 396.3h0M608.8 371.8h0M610.4 446.9h0M555.2 375.7h0M605.1 364.5h0M612.7 447.3h0M603.8 369.1h0M608.8 385.5h0M614.2 445.5h0M545.2 411.1h0M617.3 374.2h0M571.7 430.6h0M614.2 452.8h0M557.6 392.7h0M571.8 384.7h0M602.6 446.0h0M584.2 389.3h0M548.5 418.7h0M586.7 393.4h0M569.8 425.3h0M591.5 371.3h0M546.0 402.0h0M609.8 429.8h0M601.9 456.1h0M563.5 468.9h0M596.7 417.3h0M598.8 424.8h0M614.8 360.5h0M573.4 406.8h0M610.8 429.7h0M598.0 392.8h0M557.3 465.7h0M542.0 411.8h0M614.1 380.8h0M540.7 365.1h0M548.5 396.7h0M548.9 419.0h0M553.7 380.1h0M550.2 419.1h0M609.4 451.6h0M541.9 372.2h0M555.5 404.1h0M547.4 369.2h0M619.8 420.8h0M588.0 388.1h0M544.9 440.0h0M590.7 438.9h0M603.7 390.7h0M618.6 461.1h0M582.5 407.5h0M593.2 426.0h0M595.4 386.4h0M552.0 436.7h0M584.7 449.7h0M602.8 441.5h0M581.7 390.8h0M624.2 468.2h0M609.5 442.1h0M608.3 392.3h0M575.6 424.2h0M567.9 413.2h0M617.4 434.0h0M615.5 454.4h0M583.8 401.1h0M613.1 459.7h0M618.6 435.0h0M620.6 404.0h0M616.9 423.0h0M600.1 388.7h0M575.4 399.1h0M585.8 408.6h0M540.6 380.8h0M608.9 389.4h0M585.8 380.7h0M607.1 391.6h0M607.3 386.7h0M591.8 400.0h0M594.5 467.2h0M590.3 464.5h0M612.1 393.2h0M575.6 463.6h0M600.3 399.8h0M553.2 435.6h0M621.4 449.6h0M606.9 378.5h0M622.1 451.1h0M556.1 443.4h0M561.2 428.4h0M582.3 387.1h0M590.0 374.8h0M619.1 389.2h0M624.4 406.2h0M579.9 389.2h0M607.0 434.8h0M590.2 425.2h0M585.9 371.1h0M624.5 390.5h0M567.2 373.7h0M619.8 434.6h0M606.4 389.3h0M585.7 378.5h0M549.6 369.1h0M542.0 437.2h0M563.1 421.3h0M594.3 415.7h0M577.5 406.6h0M546.1 419.4h0M564.3 395.0h0M597.7 363.4h0M575.0 402.1h0M549.4 419.5h0M595.5 448.4h0M577.9 392.0h0M566.8 388.8h0M563.8 422.1h0M623.2 389.6h0M589.8 396.0h0M564.2 434.9h0M600.5 460.9h0M556.7 459.0h0M611.4 448.9h0M558.4 409.7h0M596.9 439.9h0M573.0 384.9h0M566.9 367.2h0M601.6 381.3h0M555.4 372.4h0M614.4 464.7h0M595.8 396.4h0M556.4 448.1h0M620.5 414.5h0M550.2 445.6h0M620.8 427.6h0M604.6 384.7h0M605.2 396.1h0M549.2 360.9h0M582.1 429.8h0M598.1 433.0h0M583.8 470.0h0M594.5 456.4h0M541.3 415.7h0M623.1 463.3h0M557.1 363.9h0M622.5 401.1h0M556.1 441.1h0M588.1 410.1h0M617.4 426.0h0M589.2 469.7h0M548.6 453.0h0M597.3 426.6h0M604.6 395.7h0M614.2 412.7h0M620.1 375.5h0M590.6 405.9h0M604.7 384.6h0M561.8 469.6h0M566.7 372.8h0M607.0 448.1h0M540.9 407.6h0M562.4 442.4h0M621.7 462.3h0M543.9 369.8h0M561.1 369.3h0M575.3 444.6h0M588.0 441.3h0M577.5 411.4h0M567.2 441.8h0M596.6 397.6h0M545.8 450.2h0M545.7 378.9h0M591.9 430.8h0M602.9 400.4h0M572.1 451.6h0M579.5 464.0h0M606.2 466.7h0M574.8 413.1h0M584.7 405.2h0M563.5 387.1h0M614.8 374.9h0M606.7 415.6h0M565.7 428.3h0M576.1 411.9h0M552.6 469.5h0M580.5 469.4h0M577.7 463.5h0M570.7 435.4h0M564.5 433.6h0M584.1 464.7h0M588.9 404.5h0M575.2 443.6h0M622.2 383.2h0M543.1 434.8h0M554.2 439.8h0M579.8 396.7h0M580.9 419.0h0M563.8 390.5h0M623.9 399.6h0M608.5 425.3h0M573.3 401.8h0M549.4 437.6h0M574.5 379.0h0M615.3 459.5h0M569.2 451.4h0M607.6 450.3h0M576.0 441.7h0M604.8 399.2h0M561.8 426.0h0M576.3 408.9h0M597.7 457.4h0M559.7 401.3h0M569.2 371.6h0M614.1 453.9h0M557.8 456.4h0M602.8 451.5h0M579.9 377.4h0M547.4 416.8h0M565.1 363.9h0M556.2 362.4h0M619.6 383.0h0M607.2 360.1h0M606.1 437.0h0M601.9 408.3h0M595.9 370.1h0M550.0 378.5h0M598.3 425.7h0M540.5 468.3h0M584.0 457.1h0M570.5 433.7h0M569.3 427.0h0M612.2 437.5h0M556.5 428.7h0M556.0 385.5h0M607.2 396.5h0M555.3 385.0h0M556.1 448.7h0M554.3 469.1h0M569.6 427.9h0M611.4 425.2h0M595.1 425.5h0M577.7 463.8h0M548.8 423.1h0M567.5 467.4h0M604.0 434.2h0M579.8 363.5h0M587.3 430.5h0M615.7 448.9h0M568.8 433.6h0M545.1 434.4h0M604.5 380.1h0M616.1 373.0h0M618.3 469.4h0M573.5 418.2h0M562.1 444.6h0M565.1 451.2h0M611.8 397.5h0M557.6 426.3h0M561.7 407.4h0M560.4 373.9h0M562.1 374.1h0M549.0 441.4h0M598.2 466.9h0M580.8 445.0h0M561.7 382.4h0M574.5 445.7h0M617.0 441.7h0M577.4 432.1h0M617.5 420.3h0M582.2 439.6h0M565.7 399.6h0M624.6 409.5h0M550.9 408.4h0M593.6 449.4h0M546.4 413.2h0M620.2 371.2h0M591.3 425.6h0M580.0 434.3h0M602.4 416.9h0M607.8 381.1h0M621.1 394.0h0M582.4 400.8h0M602.9 387.3h0M594.4 404.7h0M570.1 387.7h0M555.2 385.1h0M556.0 436.3h0M554.9 360.2h0M592.1 369.4h0M613.7 393.0h0M613.9 389.0h0M550.9 384.5h0M588.1 406.2h0M572.2 383.4h0M589.1 426.1h0M552.2 437.4h0M558.7 446.6h0M551.7 386.2h0M614.9 465.9h0M563.2 362.3h0M573.1 421.6h0M542.8 436.3h0M609.2 464.5h0M597.6 455.5h0M580.4 463.0h0M555.0 414.9h0M609.0 439.5h0M576.9 410.5h0M614.7 440.6h0M574.7 404.7h0M601.2 422.1h0M614.3 439.4h0M568.2 376.1h0M574.1 370.3h0M553.3 387.2h0M545.4 446.1h0M598.3 463.9h0M578.8 448.5h0M597.7 436.7h0M595.3 384.7h0M584.0 421.5h0M598.9 404.4h0M581.6 387.4h0M542.5 384.0h0M599.7 418.5h0M565.8 462.1h0M540.1 454.9h0M611.3 434.0h0M568.1 443.3h0M589.3 374.0h0M548.4 409.4h0M562.2 376.6h0M594.9 428.3h0M602.2 407.0h0M577.9 369.6h0M565.3 457.4h0M609.9 381.8h0M587.6 428.7h0M546.8 366.8h0M591.3 455.0h0M584.1 403.5h0M624.6 403.3h0M613.1 409.5h0M576.4 462.9h0M612.5 377.2h0M573.7 448.8h0M618.7 389.3h0M545.3 462.4h0M592.0 389.1h0M573.5 425.9h0M601.3 366.1h0M565.0 449.2h0M615.8 440.1h0M595.8 448.7h0M584.1 388.5h0M621.6 461.0h0M610.1 451.7h0M587.3 405.2h0M591.7 420.2h0M566.4 450.0h0M592.5 427.9h0M586.8 446.3h0M622.0 433.1h0M595.0 439.3h0M559.0 442.9h0M624.7 423.5h0M604.6 422.9h0M560.4 469.0h0M613.8 392.3h0M596.5 401.0h0M571.9 377.3h0M600.2 399.6h0M551.7 373.7h0M612.0 413.4h0M592.6 408.5h0M551.3 459.9h0M606.7 367.7h0M621.7 449.5h0M540.3 437.1h0M569.1 363.4h0M594.4 424.4h0M593.0 439.1h0M587.1 399.8h0M606.9 428.0h0M557.0 430.9h0M544.7 412.5h0M553.5 435.2h0M621.2 424.1h0M592.1 453.5h0M596.9 365.0h0M544.8 406.7h0M594.0 446.2h0M617.8 378.8h0M607.5 428.1h0M560.3 401.3h0M611.1 412.2h0M620.5 360.2h0M564.9 400.6h0M560.4 386.2h0M569.3 407.7h0M571.5 412.3h0M591.0 391.2h0M564.8 427.6h0M589.8 422.1h0M621.9 369.8h0M556.9 421.7h0M600.7 438.8h0M563.3 443.3h0M583.4 362.4h0M554.4 380.5h0M547.7 425.5h0M618.8 449.8h0M548.5 382.2h0M589.8 402.7h0M584.2 395.7h0M547.9 423.5h0M612.7 360.7h0M612.8 372.5h0M565.2 398.5h0M544.9 379.9h0M610.0 390.3h0M559.5 449.8h0M566.4 369.5h0M608.8 456.0h0M601.2 360.1h0M609.4 408.7h0M598.0 421.7h0M618.7 396.2h0M600.0 452.4h0M541.0 421.6h0M599.7 449.2h0M607.7 436.8h0M549.5 414.2h0M608.9 419.3h0M560.9 363.3h0M585.9 426.6h0M624.2 382.2h0M589.8 436.6h0M584.0 427.7h0M588.9 443.7h0M581.5 438.8h0M614.1 453.9h0M601.6 463.9h0M598.8 457.8h0M617.2 395.7h0M613.8 427.1h0M554.3 450.4h0M549.4 460.8h0M600.1 416.5h0M578.3 377.2h0M542.0 459.6h0M597.4 401.7h0M608.2 408.7h0M543.3 406.5h0M573.3 454.3h0M548.1 434.9h0M555.4 429.1h0M588.2 363.3h0M550.5 423.3h0M543.8 451.9h0M604.6 390.9h0M608.7 391.9h0M577.7 383.8h0M552.9 399.7h0M593.4 382.6h0M575.7 420.9h0M558.9 405.3h0M590.8 390.0h0M544.5 411.5h0M588.9 419.9h0M614.0 387.0h0M571.8 456.0h0M621.4 397.2h0M570.4 439.1h0M613.8 458.8h0M555.2 468.3h0M605.7 396.9h0M623.8 379.7h0M560.6 459.3h0M551.4 435.8h0M576.5 395.2h0M579.6 372.4h0M554.7 468.6h0M606.3 461.2h0M568.4 438.3h0M551.8 418.6h0M578.3 379.6h0M578.6 460.1h0M599.3 437.9h0M580.2 452.9h0M576.6 379.0h0M608.6 466.1h0M592.4 424.3h0M592.6 389.2h0M563.3 422.8h0M543.2 414.7h0M588.6 449.5h0M570.4 375.4h0M619.7 452.9h0M602.8 415.6h0M547.5 469.5h0M541.4 456.1h0M563.5 418.8h0M574.3 414.9h0M614.6 419.4h0M548.2 397.3h0M603.8 408.9h0M612.2 411.7h0M553.9 431.0h0M605.8 426.8h0M610.6 428.5h0M570.6 431.4h0M583.1 440.1h0M547.1 424.4h0M606.3 424.0h0M580.6 371.5h0M553.5 444.3h0M558.3 469.5h0M557.1 408.9h0M584.6 403.0h0M612.4 365.3h0M599.8 372.5h0M605.1 380.7h0M579.3 468.1h0M553.8 385.1h0M549.0 452.1h0M556.8 398.6h0M590.3 432.0h0M601.2 405.8h0M576.6 408.5h0M573.8 405.8h0M576.2 416.8h0M550.2 369.1h0M562.6 410.2h0M557.0 442.5h0M604.5 466.4h0M573.3 376.9h0M569.8 383.7h0M545.5 468.8h0M605.4 438.3h0M597.1 374.9h0M540.8 430.6h0M598.8 452.8h0M622.3 371.6h0M619.1 415.3h0M552.8 401.4h0M590.0 433.9h0M588.2 416.0h0M614.9 447.8h0M572.7 399.1h0M600.8 364.5h0M578.1 385.1h0M592.1 405.5h0M611.7 449.9h0M550.2 445.9h0M593.9 393.3h0M576.8 468.4h0M608.3 452.8h0M576.1 367.5h0M625.0 363.7h0M587.9 445.7h0M572.4 379.1h0M585.6 369.4h0M567.3 417.5h0M554.9 394.1h0M550.8 401.1h0M610.1 437.6h0M599.2 394.7h0M618.2 371.2h0M563.6 396.1h0M599.7 431.2h0M554.3 395.6h0M570.1 433.5h0M586.3 401.1h0M619.9 384.4h0M623.1 454.5h0M577.9 392.5h0M607.7 458.0h0M584.9 399.2h0M601.2 408.1h0M575.3 393.0h0M579.7 422.2h0M580.4 394.8h0M612.4 368.6h0M609.6 381.8h0M574.7 413.4h0M590.2 441.4h0M581.7 385.5h0M590.0 439.7h0M580.2 368.6h0M609.1 400.2h0M579.0 410.1h0M584.5 442.6h0M552.0 404.1h0M550.1 447.2h0M570.4 445.7h0M560.5 430.4h0M564.7 448.6h0M547.8 375.2h0M573.4 427.9h0M624.5 439.5h0M545.8 452.0h0M552.1 438.7h0M540.6 406.9h0M573.0 386.2h0M613.1 446.4h0M596.4 435.5h0M601.9 404.6h0M571.3 444.4h0M544.3 397.0h0M548.2 432.5h0M565.5 415.4h0M621.3 365.2h0M554.4 456.4h0M623.9 381.7h0M599.0 369.4h0M609.2 370.2h0M619.6 427.8h0M579.1 387.8h0M581.6 433.7h0M610.8 445.5h0M561.0 457.8h0M561.4 418.7h0M566.5 402.4h0M584.3 426.6h0M574.1 453.3h0M583.1 438.5h0M562.1 460.7h0M572.1 438.7h0M542.6 398.7h0M567.1 468.8h0M600.5 449.7h0M576.3 370.9h0M544.4 450.7h0M599.4 379.6h0M555.7 425.5h0M604.0 393.0h0M602.3 391.1h0M549.5 414.8h0M581.7 411.9h0M593.8 385.7h0M552.3 451.4h0M590.7 396.5h0M623.7 425.8h0M565.3 410.6h0M614.0 438.2h0M570.2 429.2h0M553.6 440.1h0M568.6 404.9h0M616.7 416.4h0M545.5 420.4h0M589.2 403.0h0M571.2 448.8h0M610.0 410.6h0M599.0 426.4h0M551.5 374.7h0M619.4 410.6h0M608.8 408.3h0M596.2 466.5h0M595.3 403.6h0M547.7 421.3h0M556.4 371.0h0M598.7 379.8h0M580.7 401.1h0M612.0 465.3h0M557.6 457.8h0M550.0 435.2h0M600.8 456.6h0M620.2 465.3h0M564.4 371.5h0M543.1 427.7h0M562.4 445.9h0M593.1 385.7h0M609.1 434.0h0M581.5 443.8h0M548.6 442.3h0M541.2 393.7h0M582.8 382.7h0M595.4 414.5h0M587.8 393.6h0M556.2 402.1h0M552.7 440.6h0M593.5 451.2h0M569.7 404.0h0M547.1 380.0h0M599.0 460.6h0M563.9 365.5h0M572.4 467.9h0M546.4 375.8h0M620.0 440.8h0M544.4 451.6h0M594.8 390.4h0M572.4 450.0h0M579.5 365.1h0M601.3 412.5h0M599.5 372.4h0M588.4 366.2h0M555.4 365.1h0M558.6 395.0h0M582.3 378.8h0M571.4 394.4h0M542.7 389.3h0M613.0 365.1h0M589.2 467.7h0M570.4 388.4h0M615.1 418.7h0M596.0 409.9h0M606.8 392.5h0M563.8 365.4h0M544.6 393.6h0M576.8 433.0h0M542.8 406.7h0M573.6 397.2h0M597.6 452.5h0M559.6 394.8h0M619.6 458.8h0M595.4 412.0h0M547.7 433.5h0M573.2 466.9h0M598.0 390.6h0M572.6 364.6h0M579.7 436.9h0M576.2 413.2h0M559.0 385.6h0M614.8 399.6h0M569.1 449.0h0M584.0 452.0h0M576.3 390.6h0M559.6 374.2h0M540.1 439.8h0M572.1 453.2h0M603.5 371.8h0M559.4 446.5h0M604.9 422.7h0M554.8 433.0h0M545.9 382.1h0M567.4 460.0h0M572.5 447.8h0M556.4 436.0h0M622.0 454.0h0M560.0 430.9h0M577.6 421.4h0M592.2 434.5h0M560.8 361.4h0M545.3 460.2h0M550.3 369.4h0M587.8 437.4h0M559.0 412.5h0M584.4 368.6h0M544.3 450.8h0M568.6 457.0h0M602.8 373.2h0M618.1 412.7h0M605.2 396.7h0M570.3 363.0h0M601.6 443.7h0M565.1 390.5h0M548.2 410.9h0M617.1 373.0h0M578.1 465.8h0M613.1 368.8h0M603.4 383.1h0M560.3 432.5h0M552.7 375.9h0M561.3 468.9h0M585.2 379.1h0M603.3 451.9h0M624.7 416.3h0M593.5 450.6h0M577.6 376.3h0M545.1 446.8h0M579.6 428.1h0M617.7 444.2h0M614.9 386.8h0M594.0 404.1h0M616.5 418.2h0M559.6 388.2h0M597.0 467.4h0M557.9 446.1h0M609.7 404.3h0M610.1 420.6h0M591.2 388.5h0M563.3 408.0h0M589.6 459.4h0M622.9 411.7h0M554.5 453.2h0M547.6 367.8h0M554.0 416.3h0M575.3 422.4h0M605.0 417.1h0M546.4 464.7h0M621.0 374.6h0M573.7 368.4h0M553.5 413.0h0M573.2 441.1h0M554.5 449.8h0M620.8 459.5h0M606.6 387.7h0M598.1 400.8h0M624.0 380.9h0M558.5 411.3h0M576.4 415.7h0M606.6 413.8h0M567.4 383.7h0M556.0 435.4h0M590.1 405.3h0M614.9 468.3h0M572.9 431.3h0M580.9 437.4h0M581.3 382.7h0M558.1 422.8h0M549.0 428.1h0M553.5 399.5h0M611.9 403.0h0M598.2 428.5h0M543.7 429.8h0M591.2 400.3h0M598.6 381.8h0M603.5 411.3h0M581.8 417.1h0M552.8 462.8h0M624.7 438.0h0M578.9 444.9h0M579.5 449.2h0M621.6 436.8h0M607.0 406.8h0M586.1 458.4h0M608.9 370.8h0M605.2 446.2h0M620.1 367.3h0M562.5 374.4h0M597.7 393.6h0M589.1 419.4h0M558.4 452.3h0M594.2 398.6h0M580.9 450.1h0M542.5 427.0h0M550.1 374.2h0M555.0 396.0h0M540.7 462.3h0M586.6 394.9h0M618.0 399.3h0M599.4 446.7h0M580.5 444.3h0M561.4 416.4h0M600.8 367.6h0M599.6 387.8h0M615.0 365.6h0M560.1 382.2h0M590.3 402.9h0M575.1 381.4h0M610.3 408.1h0M586.3 368.5h0M591.5 406.9h0M598.2 402.6h0M583.3 419.7h0M605.3 422.5h0M568.3 459.2h0M624.9 371.0h0M616.9 392.8h0M566.7 458.2h0M580.1 391.6h0M579.8 422.3h0M588.0 404.5h0M556.6 361.7h0M551.3 448.3h0M547.0 412.9h0M571.5 380.1h0M580.6 387.5h0M565.7 387.2h0M592.5 445.6h0M588.4 450.9h0M593.2 446.1h0M601.3 458.8h0M553.7 429.7h0M598.8 436.3h0M575.1 374.0h0M621.1 403.2h0M546.1 408.3h0M562.9 425.9h0M590.1 408.9h0M574.5 364.4h0M586.5 380.9h0M568.3 361.0h0M593.9 400.7h0M618.7 424.3h0M614.4 378.1h0M579.0 464.8h0M574.4 378.0h0M589.4 445.5h0M617.4 447.9h0" stroke="#ffffff" stroke-width="0.84" stroke-linecap="round" stroke-opacity="0.6"/>
</g>
<path d="M584 461 C587 467 589 472 590 478" stroke="#e487b4" stroke-width="1.0" fill="none" stroke-opacity="0.7"/>
<path d="M588 468 C591 478 595 487 598 494 C601 499 604 503 606 506" stroke="#18a8b8" stroke-width="1.2" fill="none"/>
<path d="M656,405 C662,402 670,404 674,412 C677,418 674,424 668,428 C663,430 660,432 657,435 L656,438 L655,431 C652,428 650,420 646,417 L652,416 C653,412 654,408 656,405 Z" stroke="#a5b236" stroke-width="0.5" fill="#a5b236" fill-opacity="0.85"/>
<path d="M660.1 409.6h0M654.5 411.0h0M669.0 411.0h0M659.6 423.2h0M662.2 415.8h0M665.3 410.1h0M672.5 414.5h0M659.7 423.1h0M653.8 422.5h0M671.2 413.5h0M669.4 417.1h0M660.1 411.5h0M661.6 429.2h0M658.9 410.0h0M669.8 420.7h0M666.5 405.0h0M650.6 417.3h0M670.5 406.3h0M660.6 406.4h0M658.2 418.7h0M655.0 426.0h0M656.4 415.3h0M669.1 413.9h0M665.0 424.9h0M665.2 415.4h0" stroke="#ffffff" stroke-width="0.7" stroke-linecap="round" stroke-opacity="0.55"/>
<circle cx="629" cy="446.8" r="1.6" fill="#1f63a8"/>
<text x="638.00" y="448.70" font-size="5.2" fill="#333">MicroglialCells1</text>
<circle cx="629" cy="454.2" r="1.6" fill="#e8822f"/>
<text x="638.00" y="456.10" font-size="5.2" fill="#333">MicroglialCells2</text>
<circle cx="629" cy="461.6" r="1.6" fill="#1c9a4e"/>
<text x="638.00" y="463.50" font-size="5.2" fill="#333">MicroglialCells3</text>
<circle cx="629" cy="469.0" r="1.6" fill="#e2262c"/>
<text x="638.00" y="470.90" font-size="5.2" fill="#333">MicroglialCells4</text>
<circle cx="629" cy="476.4" r="1.6" fill="#9457a6"/>
<text x="638.00" y="478.30" font-size="5.2" fill="#333">MicroglialCells5</text>
<circle cx="629" cy="483.8" r="1.6" fill="#a8555c"/>
<text x="638.00" y="485.70" font-size="5.2" fill="#333">MicroglialCells6</text>
<circle cx="629" cy="491.2" r="1.6" fill="#e487b4"/>
<text x="638.00" y="493.10" font-size="5.2" fill="#333">MicroglialCells7</text>
<circle cx="629" cy="498.6" r="1.6" fill="#a5b236"/>
<text x="638.00" y="500.50" font-size="5.2" fill="#333">MicroglialCells8</text>
<circle cx="629" cy="506.0" r="1.6" fill="#18a8b8"/>
<text x="638.00" y="507.90" font-size="5.2" fill="#333">MicroglialCells9</text>
<text x="0.90" y="555.20" font-size="11.5" font-weight="bold" fill="#000">h</text>
<text x="107.00" y="554.00" font-size="11.2" text-anchor="middle" font-weight="bold">Cytocrace</text>
<rect x="41.00" y="557.40" width="119.60" height="85.60" fill="none" stroke="#555" stroke-width="0.7"/>
<text x="38.50" y="564.20" font-size="6.4" text-anchor="end" fill="#444">1.00</text>
<line x1="39.00" y1="562.00" x2="41.00" y2="562.00" stroke="#666" stroke-width="0.5"/>
<text x="38.50" y="583.40" font-size="6.4" text-anchor="end" fill="#444">0.75</text>
<line x1="39.00" y1="581.20" x2="41.00" y2="581.20" stroke="#666" stroke-width="0.5"/>
<text x="38.50" y="602.60" font-size="6.4" text-anchor="end" fill="#444">0.50</text>
<line x1="39.00" y1="600.40" x2="41.00" y2="600.40" stroke="#666" stroke-width="0.5"/>
<text x="38.50" y="621.80" font-size="6.4" text-anchor="end" fill="#444">0.25</text>
<line x1="39.00" y1="619.60" x2="41.00" y2="619.60" stroke="#666" stroke-width="0.5"/>
<text x="38.50" y="641.00" font-size="6.4" text-anchor="end" fill="#444">0.00</text>
<line x1="39.00" y1="638.80" x2="41.00" y2="638.80" stroke="#666" stroke-width="0.5"/>
<text transform="translate(19.80,603.00) rotate(-90)" font-size="9.2" text-anchor="middle">Entropy value</text>
<path d="M48.6 600.2h0M48.5 611.0h0M50.8 598.3h0M48.7 568.5h0M48.0 614.0h0M50.3 573.8h0M48.7 637.2h0M50.8 576.5h0M49.6 587.3h0M49.7 608.7h0M50.8 632.3h0M50.3 615.2h0M49.8 623.0h0M48.4 595.0h0M50.7 582.4h0M48.0 615.8h0M48.6 632.0h0M49.2 615.2h0M48.4 582.7h0M49.0 606.5h0M49.9 610.0h0M50.4 624.9h0M50.8 610.0h0M50.5 600.1h0M50.3 624.6h0M49.5 571.6h0M48.0 601.7h0M49.4 590.2h0M47.7 562.5h0M49.0 607.1h0M50.4 637.1h0M50.3 625.7h0M50.0 579.2h0M48.1 569.5h0M48.5 590.9h0M49.4 564.6h0M48.0 636.2h0M50.7 580.2h0M49.2 602.6h0M50.3 594.1h0M49.0 598.1h0M50.2 589.8h0M49.1 563.5h0M47.7 611.1h0M48.8 586.3h0M49.4 611.5h0M48.7 600.2h0M50.7 595.0h0M48.0 570.6h0M47.9 574.3h0M48.7 573.0h0M50.8 618.7h0M49.3 563.2h0M50.6 580.5h0M49.9 638.5h0M49.3 564.0h0M49.4 595.2h0M47.8 579.2h0M50.3 608.5h0M48.9 587.8h0M49.4 565.4h0M49.2 624.7h0M48.1 571.7h0M50.0 627.3h0M49.3 581.6h0M49.5 571.4h0M48.7 564.2h0M49.2 599.2h0M49.8 584.6h0M50.2 581.1h0" stroke="#e487b4" stroke-width="0.7" stroke-linecap="round" stroke-opacity="0.6"/>
<line x1="49.30" y1="562.00" x2="49.30" y2="638.80" stroke="#e487b4" stroke-width="1.0" stroke-opacity="0.5"/>
<line x1="49.30" y1="562.00" x2="49.30" y2="621.90" stroke="#e487b4" stroke-width="1.0"/>
<rect x="45.10" y="573.52" width="8.40" height="25.34" fill="#e487b4" fill-opacity="0.88"/>
<line x1="45.10" y1="584.27" x2="53.50" y2="584.27" stroke="#000" stroke-width="0.4" stroke-opacity="0.12"/>
<text transform="translate(52.70,649.60) rotate(-58)" font-size="7.0" text-anchor="end" fill="#333">MicroglialCells7</text>
<line x1="49.30" y1="643.00" x2="49.30" y2="645.00" stroke="#666" stroke-width="0.5"/>
<path d="M62.4 580.7h0M63.5 574.4h0M62.6 579.8h0M62.1 633.1h0M63.2 636.3h0M62.9 604.1h0M62.0 607.0h0M62.1 638.5h0M63.6 637.6h0M61.7 564.2h0M63.4 598.7h0M62.8 575.6h0M63.4 590.2h0M63.3 633.1h0M63.3 576.8h0M63.5 595.7h0M63.7 598.1h0M63.5 637.7h0M63.5 625.4h0M61.4 607.5h0M62.3 637.7h0M62.2 563.2h0M61.5 593.9h0M61.2 635.8h0M62.6 631.4h0M62.0 575.7h0M61.2 596.6h0M62.9 620.6h0M63.5 637.4h0M64.0 622.4h0M62.9 633.6h0M62.5 603.4h0M63.8 624.5h0M63.5 625.8h0M62.2 564.1h0M62.7 568.7h0M62.6 606.6h0M61.6 627.9h0M62.7 618.0h0M64.0 578.4h0M62.3 566.1h0M62.7 603.1h0M62.6 637.4h0M61.8 630.1h0M61.3 599.0h0M62.2 611.1h0M61.2 622.3h0M63.9 597.7h0M63.0 562.9h0M63.2 614.0h0M62.4 604.8h0M61.7 635.7h0M63.0 616.0h0M62.4 617.9h0M63.3 563.3h0M63.3 583.4h0M63.3 637.8h0M63.6 592.9h0M61.9 591.6h0M62.9 605.9h0M62.6 614.7h0M63.2 593.4h0M62.8 586.9h0M61.3 562.4h0M61.5 628.6h0M61.0 593.7h0M61.9 620.8h0M61.7 565.8h0M63.3 633.5h0M63.9 562.2h0" stroke="#e2262c" stroke-width="0.7" stroke-linecap="round" stroke-opacity="0.6"/>
<line x1="62.44" y1="562.00" x2="62.44" y2="638.80" stroke="#e2262c" stroke-width="1.0" stroke-opacity="0.5"/>
<line x1="62.44" y1="562.00" x2="62.44" y2="627.28" stroke="#e2262c" stroke-width="1.0"/>
<rect x="58.24" y="573.52" width="8.40" height="30.72" fill="#e2262c" fill-opacity="0.88"/>
<line x1="58.24" y1="588.11" x2="66.64" y2="588.11" stroke="#000" stroke-width="0.4" stroke-opacity="0.12"/>
<text transform="translate(65.84,649.60) rotate(-58)" font-size="7.0" text-anchor="end" fill="#333">MicroglialCells4</text>
<line x1="62.44" y1="643.00" x2="62.44" y2="645.00" stroke="#666" stroke-width="0.5"/>
<path d="M74.2 637.1h0M75.5 617.7h0M75.3 634.3h0M74.5 632.6h0M75.3 638.4h0M75.1 576.1h0M74.1 610.4h0M74.0 591.7h0M74.5 567.3h0M74.9 579.7h0M75.3 621.8h0M76.9 627.9h0M77.0 630.8h0M76.1 606.2h0M75.7 629.7h0M75.6 572.9h0M74.6 602.7h0M74.6 569.1h0M76.6 615.6h0M75.3 612.4h0M74.0 564.2h0M75.7 612.3h0M74.5 597.1h0M74.6 571.5h0M75.9 571.9h0M75.8 585.6h0M75.7 595.0h0M76.5 619.2h0M77.1 573.5h0M76.6 627.5h0M77.0 596.8h0M74.7 624.4h0M76.7 614.8h0M76.9 619.8h0M76.1 602.6h0M76.1 567.8h0M76.3 573.2h0M75.2 631.3h0M74.1 567.4h0M74.5 601.7h0M75.9 618.8h0M76.1 600.4h0M75.4 573.6h0M75.7 565.5h0M74.5 622.9h0M77.2 614.9h0M74.6 586.9h0M76.6 581.4h0M76.5 568.2h0M76.4 582.1h0M76.7 630.1h0M75.7 576.8h0M76.8 586.3h0M74.5 584.7h0M74.3 593.2h0M76.2 579.1h0M74.6 587.1h0M74.8 633.8h0M76.2 623.1h0M76.1 604.7h0M76.7 606.6h0M74.8 615.3h0M75.6 612.4h0M74.4 632.9h0M77.1 596.7h0M76.3 567.2h0M75.9 631.1h0M76.5 566.4h0M75.6 582.2h0M75.0 624.7h0" stroke="#18a8b8" stroke-width="0.7" stroke-linecap="round" stroke-opacity="0.6"/>
<line x1="75.58" y1="562.00" x2="75.58" y2="638.80" stroke="#18a8b8" stroke-width="1.0" stroke-opacity="0.5"/>
<line x1="75.58" y1="562.00" x2="75.58" y2="631.12" stroke="#18a8b8" stroke-width="1.0"/>
<rect x="71.38" y="575.06" width="8.40" height="33.02" fill="#18a8b8" fill-opacity="0.88"/>
<line x1="71.38" y1="591.18" x2="79.78" y2="591.18" stroke="#000" stroke-width="0.4" stroke-opacity="0.12"/>
<text transform="translate(78.98,649.60) rotate(-58)" font-size="7.0" text-anchor="end" fill="#333">MicroglialCells9</text>
<line x1="75.58" y1="643.00" x2="75.58" y2="645.00" stroke="#666" stroke-width="0.5"/>
<path d="M90.0 609.4h0M89.4 597.1h0M88.8 634.0h0M89.4 618.4h0M87.2 627.9h0M90.3 575.0h0M88.0 619.4h0M87.7 619.0h0M88.5 589.7h0M87.6 579.6h0M89.2 601.0h0M89.2 586.4h0M87.3 637.4h0M87.4 583.4h0M88.4 614.0h0M87.9 595.7h0M89.5 621.7h0M89.8 596.4h0M88.2 579.8h0M87.8 635.6h0M87.2 573.1h0M89.7 613.6h0M88.7 566.0h0M88.2 592.4h0M88.3 580.0h0M90.1 572.9h0M88.8 577.3h0M89.2 611.2h0M88.8 598.4h0M87.7 633.9h0M88.1 577.4h0M88.5 618.8h0M87.4 591.9h0M89.2 571.7h0M88.6 579.6h0M88.1 580.3h0M90.0 576.7h0M88.7 609.9h0M89.8 579.6h0M87.5 605.1h0M90.2 575.9h0M88.4 586.7h0M89.9 569.4h0M88.9 580.9h0M88.8 617.5h0M88.0 590.9h0M87.9 615.3h0M90.2 609.3h0M89.3 632.9h0M87.6 607.8h0M90.0 624.5h0M87.3 588.6h0M88.5 602.9h0M89.5 627.3h0M88.8 595.1h0M89.2 598.9h0M89.2 611.1h0M89.7 578.7h0M88.0 566.1h0M87.2 604.7h0M88.1 608.3h0M87.4 587.9h0M89.0 591.2h0M89.8 565.7h0M88.8 637.5h0M89.7 604.4h0M89.3 612.2h0M88.8 598.5h0M87.5 589.9h0M89.3 621.8h0" stroke="#1f63a8" stroke-width="0.7" stroke-linecap="round" stroke-opacity="0.6"/>
<line x1="88.72" y1="562.00" x2="88.72" y2="638.80" stroke="#1f63a8" stroke-width="1.0" stroke-opacity="0.5"/>
<line x1="88.72" y1="562.00" x2="88.72" y2="632.66" stroke="#1f63a8" stroke-width="1.0"/>
<rect x="84.52" y="577.36" width="8.40" height="32.26" fill="#1f63a8" fill-opacity="0.88"/>
<line x1="84.52" y1="592.72" x2="92.92" y2="592.72" stroke="#000" stroke-width="0.4" stroke-opacity="0.12"/>
<text transform="translate(92.12,649.60) rotate(-58)" font-size="7.0" text-anchor="end" fill="#333">MicroglialCells1</text>
<line x1="88.72" y1="643.00" x2="88.72" y2="645.00" stroke="#666" stroke-width="0.5"/>
<path d="M100.7 632.2h0M101.8 604.7h0M101.5 635.6h0M102.1 596.3h0M103.2 591.3h0M102.6 629.5h0M103.4 566.3h0M102.2 604.2h0M101.9 603.6h0M101.1 633.5h0M103.5 572.9h0M101.1 582.1h0M103.1 595.6h0M100.3 590.9h0M101.0 582.4h0M103.1 563.6h0M100.7 618.3h0M103.4 580.6h0M101.7 615.8h0M103.4 606.5h0M102.3 580.4h0M101.8 563.2h0M101.3 580.1h0M101.6 592.2h0M101.4 630.7h0M102.9 563.5h0M103.0 632.9h0M101.4 584.7h0M100.5 620.8h0M101.9 566.5h0M101.7 579.7h0M103.3 574.3h0M101.4 600.1h0M101.1 585.4h0M102.8 622.1h0M103.2 622.7h0M101.5 608.4h0M100.7 594.3h0M101.8 590.1h0M102.1 628.5h0M102.0 569.5h0M102.8 588.1h0M102.2 626.3h0M101.6 612.5h0M102.8 583.4h0M102.0 621.4h0M102.9 633.4h0M100.6 615.7h0M100.6 635.8h0M100.7 577.5h0M102.5 575.7h0M100.7 604.9h0M102.6 577.5h0M101.0 586.4h0M101.1 623.8h0M101.9 568.6h0M100.3 618.5h0M100.9 610.2h0M101.8 628.8h0M101.3 588.2h0M100.4 567.9h0M101.8 600.7h0M100.6 574.2h0M103.2 596.3h0M102.4 566.3h0M101.2 633.6h0M102.0 590.5h0M100.4 579.9h0M103.1 573.4h0M103.1 594.9h0" stroke="#9457a6" stroke-width="0.7" stroke-linecap="round" stroke-opacity="0.6"/>
<line x1="101.86" y1="562.00" x2="101.86" y2="638.80" stroke="#9457a6" stroke-width="1.0" stroke-opacity="0.5"/>
<line x1="101.86" y1="562.00" x2="101.86" y2="638.80" stroke="#9457a6" stroke-width="1.0"/>
<rect x="97.66" y="573.52" width="8.40" height="44.54" fill="#9457a6" fill-opacity="0.88"/>
<line x1="97.66" y1="598.10" x2="106.06" y2="598.10" stroke="#000" stroke-width="0.4" stroke-opacity="0.12"/>
<text transform="translate(105.26,649.60) rotate(-58)" font-size="7.0" text-anchor="end" fill="#333">MicroglialCells5</text>
<line x1="101.86" y1="643.00" x2="101.86" y2="645.00" stroke="#666" stroke-width="0.5"/>
<path d="M116.1 593.1h0M115.7 611.8h0M115.1 589.0h0M115.1 606.6h0M113.5 616.2h0M113.6 624.1h0M115.8 613.6h0M116.1 612.6h0M114.4 599.0h0M116.1 602.9h0M113.8 613.3h0M114.9 600.7h0M116.3 576.0h0M114.3 607.3h0M114.8 613.4h0M114.1 609.9h0M114.0 606.0h0M114.5 598.6h0M115.2 621.9h0M114.0 584.1h0M115.5 593.1h0M114.2 607.9h0M115.5 608.2h0M115.2 616.1h0M115.5 601.9h0M116.2 623.7h0M116.0 606.2h0M114.1 612.1h0M114.8 617.8h0M114.4 572.1h0M115.8 606.6h0M116.0 603.2h0M116.6 619.2h0M115.8 587.0h0M115.6 594.8h0M116.3 599.0h0M115.2 628.4h0M116.6 599.2h0M113.5 592.2h0M115.3 599.2h0M115.6 575.7h0M113.7 580.9h0M114.2 630.4h0M116.0 590.8h0M113.8 606.8h0M116.0 598.7h0M116.0 615.5h0M115.4 583.0h0M113.9 612.5h0M116.5 623.8h0M115.7 601.5h0M115.9 635.2h0M116.5 613.0h0M115.5 601.8h0M113.7 583.4h0M115.4 638.8h0M115.8 609.6h0M115.5 601.5h0M115.8 607.5h0M114.0 620.3h0M114.5 617.9h0M114.7 581.5h0M114.4 564.0h0M115.4 608.3h0M113.9 601.3h0M113.6 614.4h0M115.8 597.6h0M114.1 596.9h0M115.8 563.2h0M114.8 579.9h0" stroke="#e8822f" stroke-width="0.7" stroke-linecap="round" stroke-opacity="0.6"/>
<line x1="115.00" y1="562.00" x2="115.00" y2="638.80" stroke="#e8822f" stroke-width="1.0" stroke-opacity="0.5"/>
<line x1="115.00" y1="563.54" x2="115.00" y2="638.80" stroke="#e8822f" stroke-width="1.0"/>
<rect x="110.80" y="590.42" width="8.40" height="28.42" fill="#e8822f" fill-opacity="0.88"/>
<line x1="110.80" y1="604.24" x2="119.20" y2="604.24" stroke="#000" stroke-width="0.4" stroke-opacity="0.12"/>
<text transform="translate(118.40,649.60) rotate(-58)" font-size="7.0" text-anchor="end" fill="#333">MicroglialCells2</text>
<line x1="115.00" y1="643.00" x2="115.00" y2="645.00" stroke="#666" stroke-width="0.5"/>
<path d="M129.0 625.8h0M127.3 609.6h0M129.7 589.4h0M128.3 605.5h0M129.4 626.8h0M128.3 586.2h0M126.7 599.8h0M127.1 599.7h0M128.7 612.7h0M126.5 595.2h0M127.8 612.8h0M128.1 607.5h0M127.1 599.8h0M128.4 602.2h0M126.6 611.3h0M126.7 604.8h0M127.5 600.2h0M128.1 634.4h0M128.6 622.1h0M128.5 626.2h0M128.7 589.7h0M127.0 617.4h0M127.0 611.4h0M126.9 628.1h0M129.3 619.1h0M127.0 611.9h0M129.5 618.1h0M127.3 613.5h0M128.6 564.7h0M129.5 635.3h0M127.0 592.3h0M128.6 619.3h0M128.2 611.8h0M129.0 629.5h0M127.9 604.0h0M128.2 615.1h0M126.8 565.6h0M129.4 585.3h0M127.6 608.5h0M129.3 583.3h0M129.7 607.8h0M128.0 586.8h0M129.4 591.3h0M128.1 624.4h0M129.5 625.7h0M128.8 581.9h0M126.9 619.5h0M128.5 636.8h0M127.3 620.9h0M128.4 624.0h0M126.9 628.7h0M129.0 616.0h0M127.4 624.4h0M128.7 566.2h0M129.0 602.1h0M129.3 597.3h0M129.5 610.9h0M127.1 571.3h0M128.2 613.4h0M128.8 565.2h0M128.3 613.7h0M128.9 593.5h0M127.1 621.2h0M127.6 602.3h0M129.2 597.6h0M129.1 589.9h0M128.4 626.7h0M128.5 564.6h0M129.0 590.4h0M126.7 594.1h0" stroke="#1c9a4e" stroke-width="0.7" stroke-linecap="round" stroke-opacity="0.6"/>
<line x1="128.14" y1="562.00" x2="128.14" y2="638.80" stroke="#1c9a4e" stroke-width="1.0" stroke-opacity="0.5"/>
<line x1="128.14" y1="562.00" x2="128.14" y2="638.80" stroke="#1c9a4e" stroke-width="1.0"/>
<rect x="123.94" y="586.58" width="8.40" height="40.70" fill="#1c9a4e" fill-opacity="0.88"/>
<line x1="123.94" y1="611.92" x2="132.34" y2="611.92" stroke="#000" stroke-width="0.4" stroke-opacity="0.12"/>
<text transform="translate(131.54,649.60) rotate(-58)" font-size="7.0" text-anchor="end" fill="#333">MicroglialCells3</text>
<line x1="128.14" y1="643.00" x2="128.14" y2="645.00" stroke="#666" stroke-width="0.5"/>
<path d="M142.8 612.8h0M141.7 624.8h0M141.3 583.4h0M141.8 565.3h0M141.7 638.8h0M140.2 596.9h0M142.1 632.6h0M140.4 599.8h0M141.1 632.9h0M142.7 621.6h0M139.8 599.9h0M140.8 638.7h0M140.5 591.8h0M141.9 634.6h0M141.0 619.4h0M139.8 631.8h0M142.4 638.8h0M139.8 612.5h0M141.1 622.7h0M140.9 638.8h0M142.2 621.8h0M142.8 622.9h0M142.1 572.1h0M140.1 622.4h0M140.8 628.0h0M140.3 597.1h0M141.0 608.9h0M142.5 610.9h0M142.4 633.2h0M139.7 600.5h0M142.0 635.8h0M142.1 636.2h0M142.0 638.8h0M139.8 597.3h0M142.1 586.8h0M140.5 633.7h0M140.2 625.5h0M140.3 604.1h0M142.2 581.5h0M141.1 638.8h0M141.6 629.9h0M142.8 591.5h0M140.8 620.2h0M140.4 620.3h0M142.5 614.8h0M141.9 625.5h0M141.3 599.1h0M140.6 618.5h0M140.9 637.2h0M141.0 613.9h0M140.1 621.2h0M140.8 627.0h0M139.9 622.7h0M140.1 633.6h0M142.4 638.8h0M142.7 583.2h0M142.1 617.2h0M141.5 608.4h0M140.4 617.0h0M139.7 610.2h0M142.0 621.7h0M140.5 618.6h0M140.5 621.5h0M142.7 611.2h0M141.8 578.8h0M142.7 574.4h0M142.6 609.1h0M140.1 632.2h0M140.2 598.4h0M140.7 624.4h0" stroke="#a8555c" stroke-width="0.7" stroke-linecap="round" stroke-opacity="0.6"/>
<line x1="141.28" y1="563.54" x2="141.28" y2="638.80" stroke="#a8555c" stroke-width="1.0" stroke-opacity="0.5"/>
<line x1="141.28" y1="588.11" x2="141.28" y2="638.80" stroke="#a8555c" stroke-width="1.0"/>
<rect x="137.08" y="614.99" width="8.40" height="19.20" fill="#a8555c" fill-opacity="0.88"/>
<line x1="137.08" y1="626.51" x2="145.48" y2="626.51" stroke="#000" stroke-width="0.4" stroke-opacity="0.12"/>
<text transform="translate(144.68,649.60) rotate(-58)" font-size="7.0" text-anchor="end" fill="#333">MicroglialCells6</text>
<line x1="141.28" y1="643.00" x2="141.28" y2="645.00" stroke="#666" stroke-width="0.5"/>
<path d="M155.8 589.5h0M155.6 638.8h0M154.2 627.4h0M154.3 601.2h0M153.1 638.8h0M155.6 636.1h0M155.1 627.2h0M153.2 628.1h0M153.6 618.6h0M155.5 624.4h0M154.1 638.8h0M154.8 569.4h0M153.4 638.8h0M154.4 638.8h0M155.6 565.4h0M152.9 618.0h0M155.9 633.5h0M154.4 636.8h0M153.8 638.8h0M153.2 602.7h0M154.1 574.5h0M154.4 637.8h0M153.0 638.8h0M154.0 638.8h0M154.0 638.8h0M154.8 634.9h0M153.1 627.6h0M155.5 638.8h0M153.2 566.9h0M155.1 635.7h0M155.3 620.6h0M154.1 573.5h0M153.8 629.9h0M155.4 591.2h0M155.5 638.0h0M155.6 619.9h0M154.9 638.8h0M153.1 618.5h0M155.0 612.5h0M155.9 611.4h0M155.7 638.8h0M153.5 621.9h0M154.3 638.8h0M152.9 630.8h0M156.0 614.1h0M153.3 629.3h0M154.1 638.8h0M155.1 638.8h0M155.2 635.3h0M153.7 601.1h0M153.4 633.2h0M154.7 638.8h0M154.3 599.8h0M155.4 599.8h0M154.5 602.3h0M153.9 631.2h0M155.4 638.8h0M154.8 638.8h0M155.8 612.0h0M153.7 598.6h0M155.7 638.8h0M153.3 564.8h0M154.2 604.9h0M155.0 610.6h0M153.2 616.3h0M155.4 629.6h0M153.8 581.7h0M153.5 608.4h0M155.4 638.2h0M155.9 627.0h0" stroke="#a5b236" stroke-width="0.7" stroke-linecap="round" stroke-opacity="0.6"/>
<line x1="154.42" y1="562.00" x2="154.42" y2="638.80" stroke="#a5b236" stroke-width="1.0" stroke-opacity="0.5"/>
<line x1="154.42" y1="601.94" x2="154.42" y2="638.80" stroke="#a5b236" stroke-width="1.0"/>
<rect x="150.22" y="628.82" width="8.40" height="9.22" fill="#a5b236" fill-opacity="0.88"/>
<line x1="150.22" y1="634.96" x2="158.62" y2="634.96" stroke="#000" stroke-width="0.4" stroke-opacity="0.12"/>
<text transform="translate(157.82,649.60) rotate(-58)" font-size="7.0" text-anchor="end" fill="#333">MicroglialCells8</text>
<line x1="154.42" y1="643.00" x2="154.42" y2="645.00" stroke="#666" stroke-width="0.5"/>
<text x="172.00" y="555.00" font-size="11.5" font-weight="bold" fill="#000">i</text>
<text x="169.80" y="564.80" font-size="7.7" fill="#333">10-</text>
<text x="169.80" y="583.10" font-size="7.7" fill="#333">7.5-</text>
<text x="169.80" y="601.40" font-size="7.7" fill="#333">5.0-</text>
<text x="169.80" y="620.10" font-size="7.7" fill="#333">2.5-</text>
<text x="169.80" y="637.90" font-size="7.7" fill="#333">0.0-</text>
<text x="193.00" y="562.50" font-size="9.0" text-anchor="middle">C1</text>
<text x="223.50" y="562.50" font-size="9.0" text-anchor="middle">M_28d</text>
<text x="253.00" y="562.50" font-size="9.0" text-anchor="middle">M_3d</text>
<text x="296.70" y="562.50" font-size="9.0" text-anchor="middle">all_sample</text>
<line x1="191.80" y1="599.50" x2="191.80" y2="579.00" stroke="#7cc6d2" stroke-width="0.9"/>
<line x1="191.50" y1="599.50" x2="191.50" y2="590.50" stroke="#e487b4" stroke-width="0.6"/>
<path d="M191.5,598.5 L190.2,601.0 L189.0,603.6 L188.4,607.0 L188.0,611.0 L188.7,614.0 L189.0,617.0 L188.6,620.0 L188.2,623.0 L188.8,627.0 L189.3,630.0 L188.5,632.5 L186.8,635.0 L186.5,637.2 L186.6,638.0 L191.3,638.3 L191.7,638.3 L190.9,638.0 L190.9,637.2 L190.9,635.0 L191.2,632.5 L191.4,630.0 L191.3,627.0 L191.2,623.0 L191.2,620.0 L191.3,617.0 L191.3,614.0 L191.1,611.0 L191.2,607.0 L191.3,603.6 L191.5,601.0 L191.7,598.5 Z" stroke="none" stroke-width="0" fill="#a8555c"/>
<path d="M191.7,598.5 L191.5,601.0 L191.3,603.6 L191.2,607.0 L191.1,611.0 L191.3,614.0 L191.3,617.0 L191.2,620.0 L191.2,623.0 L191.3,627.0 L191.4,630.0 L191.2,632.5 L190.9,635.0 L190.9,637.2 L190.9,638.0 L191.7,638.3 L191.8,638.3 L192.2,638.0 L192.2,637.2 L192.2,635.0 L192.0,632.5 L192.0,630.0 L192.0,627.0 L192.1,623.0 L192.0,620.0 L192.0,617.0 L192.0,614.0 L192.1,611.0 L192.1,607.0 L192.0,603.6 L191.9,601.0 L191.8,598.5 Z" stroke="none" stroke-width="0" fill="#e487b4"/>
<path d="M191.8,598.5 L191.9,601.0 L192.0,603.6 L192.1,607.0 L192.1,611.0 L192.0,614.0 L192.0,617.0 L192.0,620.0 L192.1,623.0 L192.0,627.0 L192.0,630.0 L192.0,632.5 L192.2,635.0 L192.2,637.2 L192.2,638.0 L191.8,638.3 L191.9,638.3 L193.2,638.0 L193.2,637.2 L193.2,635.0 L192.7,632.5 L192.5,630.0 L192.6,627.0 L192.8,623.0 L192.7,620.0 L192.6,617.0 L192.6,614.0 L192.8,611.0 L192.7,607.0 L192.6,603.6 L192.2,601.0 L191.9,598.5 Z" stroke="none" stroke-width="0" fill="#9457a6"/>
<path d="M191.9,598.5 L192.2,601.0 L192.6,603.6 L192.7,607.0 L192.8,611.0 L192.6,614.0 L192.6,617.0 L192.7,620.0 L192.8,623.0 L192.6,627.0 L192.5,630.0 L192.7,632.5 L193.2,635.0 L193.2,637.2 L193.2,638.0 L191.9,638.3 L192.0,638.3 L194.2,638.0 L194.3,637.2 L194.2,635.0 L193.4,632.5 L193.0,630.0 L193.2,627.0 L193.5,623.0 L193.3,620.0 L193.1,617.0 L193.3,614.0 L193.6,611.0 L193.4,607.0 L193.1,603.6 L192.6,601.0 L191.9,598.5 Z" stroke="none" stroke-width="0" fill="#e2262c"/>
<path d="M191.9,598.5 L192.6,601.0 L193.1,603.6 L193.4,607.0 L193.6,611.0 L193.3,614.0 L193.1,617.0 L193.3,620.0 L193.5,623.0 L193.2,627.0 L193.0,630.0 L193.4,632.5 L194.2,635.0 L194.3,637.2 L194.2,638.0 L192.0,638.3 L192.1,638.3 L195.1,638.0 L195.2,637.2 L195.0,635.0 L193.9,632.5 L193.4,630.0 L193.7,627.0 L194.1,623.0 L193.8,620.0 L193.6,617.0 L193.8,614.0 L194.2,611.0 L194.0,607.0 L193.6,603.6 L192.8,601.0 L192.0,598.5 Z" stroke="none" stroke-width="0" fill="#1c9a4e"/>
<path d="M192.0,598.5 L192.8,601.0 L193.6,603.6 L194.0,607.0 L194.2,611.0 L193.8,614.0 L193.6,617.0 L193.8,620.0 L194.1,623.0 L193.7,627.0 L193.4,630.0 L193.9,632.5 L195.0,635.0 L195.2,637.2 L195.1,638.0 L192.1,638.3 L192.2,638.3 L196.0,638.0 L196.0,637.2 L195.8,635.0 L194.4,632.5 L193.8,630.0 L194.2,627.0 L194.7,623.0 L194.4,620.0 L194.0,617.0 L194.3,614.0 L194.8,611.0 L194.5,607.0 L194.0,603.6 L193.1,601.0 L192.0,598.5 Z" stroke="none" stroke-width="0" fill="#e8822f"/>
<path d="M192.0,598.5 L193.1,601.0 L194.0,603.6 L194.5,607.0 L194.8,611.0 L194.3,614.0 L194.0,617.0 L194.4,620.0 L194.7,623.0 L194.2,627.0 L193.8,630.0 L194.4,632.5 L195.8,635.0 L196.0,637.2 L196.0,638.0 L192.2,638.3 L192.3,638.3 L197.0,638.0 L197.1,637.2 L196.8,635.0 L195.1,632.5 L194.3,630.0 L194.8,627.0 L195.4,623.0 L195.0,620.0 L194.6,617.0 L194.9,614.0 L195.6,611.0 L195.2,607.0 L194.6,603.6 L193.4,601.0 L192.1,598.5 Z" stroke="none" stroke-width="0" fill="#1f63a8"/>
<path d="M191.8 567.2 L193.8 572.1 L191.8 579.5 L189.8 572.1 Z" stroke="none" stroke-width="0" fill="#a5b236"/>
<line x1="224.00" y1="599.50" x2="224.00" y2="581.00" stroke="#7cc6d2" stroke-width="0.9"/>
<line x1="223.70" y1="599.50" x2="223.70" y2="590.50" stroke="#e487b4" stroke-width="0.6"/>
<path d="M223.7,598.5 L222.5,601.0 L221.3,603.6 L220.8,607.0 L220.4,611.0 L221.1,614.0 L221.3,617.0 L221.0,620.0 L220.6,623.0 L221.2,627.0 L221.6,630.0 L220.9,632.5 L219.2,635.0 L219.0,637.2 L219.1,638.0 L223.5,638.3 L223.9,638.3 L223.1,638.0 L223.1,637.2 L223.2,635.0 L223.5,632.5 L223.6,630.0 L223.5,627.0 L223.4,623.0 L223.5,620.0 L223.5,617.0 L223.5,614.0 L223.4,611.0 L223.4,607.0 L223.5,603.6 L223.7,601.0 L224.0,598.5 Z" stroke="none" stroke-width="0" fill="#a8555c"/>
<path d="M224.0,598.5 L223.7,601.0 L223.5,603.6 L223.4,607.0 L223.4,611.0 L223.5,614.0 L223.5,617.0 L223.5,620.0 L223.4,623.0 L223.5,627.0 L223.6,630.0 L223.5,632.5 L223.2,635.0 L223.1,637.2 L223.1,638.0 L223.9,638.3 L224.0,638.3 L224.4,638.0 L224.4,637.2 L224.4,635.0 L224.2,632.5 L224.2,630.0 L224.2,627.0 L224.3,623.0 L224.2,620.0 L224.2,617.0 L224.2,614.0 L224.3,611.0 L224.2,607.0 L224.2,603.6 L224.1,601.0 L224.0,598.5 Z" stroke="none" stroke-width="0" fill="#e487b4"/>
<path d="M224.0,598.5 L224.1,601.0 L224.2,603.6 L224.2,607.0 L224.3,611.0 L224.2,614.0 L224.2,617.0 L224.2,620.0 L224.3,623.0 L224.2,627.0 L224.2,630.0 L224.2,632.5 L224.4,635.0 L224.4,637.2 L224.4,638.0 L224.0,638.3 L224.1,638.3 L225.3,638.0 L225.4,637.2 L225.3,635.0 L224.9,632.5 L224.6,630.0 L224.8,627.0 L224.9,623.0 L224.8,620.0 L224.7,617.0 L224.8,614.0 L225.0,611.0 L224.9,607.0 L224.7,603.6 L224.4,601.0 L224.1,598.5 Z" stroke="none" stroke-width="0" fill="#9457a6"/>
<path d="M224.1,598.5 L224.4,601.0 L224.7,603.6 L224.9,607.0 L225.0,611.0 L224.8,614.0 L224.7,617.0 L224.8,620.0 L224.9,623.0 L224.8,627.0 L224.6,630.0 L224.9,632.5 L225.3,635.0 L225.4,637.2 L225.3,638.0 L224.1,638.3 L224.2,638.3 L226.3,638.0 L226.4,637.2 L226.2,635.0 L225.5,632.5 L225.1,630.0 L225.3,627.0 L225.6,623.0 L225.4,620.0 L225.3,617.0 L225.4,614.0 L225.7,611.0 L225.5,607.0 L225.3,603.6 L224.7,601.0 L224.1,598.5 Z" stroke="none" stroke-width="0" fill="#e2262c"/>
<path d="M224.1,598.5 L224.7,601.0 L225.3,603.6 L225.5,607.0 L225.7,611.0 L225.4,614.0 L225.3,617.0 L225.4,620.0 L225.6,623.0 L225.3,627.0 L225.1,630.0 L225.5,632.5 L226.2,635.0 L226.4,637.2 L226.3,638.0 L224.2,638.3 L224.3,638.3 L227.1,638.0 L227.2,637.2 L227.0,635.0 L226.0,632.5 L225.5,630.0 L225.8,627.0 L226.2,623.0 L225.9,620.0 L225.7,617.0 L225.9,614.0 L226.3,611.0 L226.1,607.0 L225.7,603.6 L225.0,601.0 L224.2,598.5 Z" stroke="none" stroke-width="0" fill="#1c9a4e"/>
<path d="M224.2,598.5 L225.0,601.0 L225.7,603.6 L226.1,607.0 L226.3,611.0 L225.9,614.0 L225.7,617.0 L225.9,620.0 L226.2,623.0 L225.8,627.0 L225.5,630.0 L226.0,632.5 L227.0,635.0 L227.2,637.2 L227.1,638.0 L224.3,638.3 L224.4,638.3 L228.0,638.0 L228.0,637.2 L227.8,635.0 L226.5,632.5 L225.9,630.0 L226.3,627.0 L226.7,623.0 L226.4,620.0 L226.1,617.0 L226.4,614.0 L226.9,611.0 L226.6,607.0 L226.1,603.6 L225.2,601.0 L224.2,598.5 Z" stroke="none" stroke-width="0" fill="#e8822f"/>
<path d="M224.2,598.5 L225.2,601.0 L226.1,603.6 L226.6,607.0 L226.9,611.0 L226.4,614.0 L226.1,617.0 L226.4,620.0 L226.7,623.0 L226.3,627.0 L225.9,630.0 L226.5,632.5 L227.8,635.0 L228.0,637.2 L228.0,638.0 L224.4,638.3 L224.5,638.3 L228.9,638.0 L229.0,637.2 L228.8,635.0 L227.1,632.5 L226.4,630.0 L226.8,627.0 L227.4,623.0 L227.0,620.0 L226.7,617.0 L226.9,614.0 L227.6,611.0 L227.2,607.0 L226.7,603.6 L225.5,601.0 L224.3,598.5 Z" stroke="none" stroke-width="0" fill="#1f63a8"/>
<path d="M224.0 567 L225.1 572.8 L224.0 581 L222.9 572.8 Z" stroke="none" stroke-width="0" fill="#a5b236"/>
<line x1="256.50" y1="599.50" x2="256.50" y2="580.00" stroke="#7cc6d2" stroke-width="0.9"/>
<line x1="256.20" y1="599.50" x2="256.20" y2="590.50" stroke="#e487b4" stroke-width="0.6"/>
<path d="M256.2,598.5 L255.1,601.0 L254.1,603.6 L253.6,607.0 L253.3,611.0 L253.9,614.0 L254.1,617.0 L253.8,620.0 L253.4,623.0 L253.9,627.0 L254.4,630.0 L253.7,632.5 L252.2,635.0 L252.0,637.2 L252.1,638.0 L256.1,638.3 L256.4,638.3 L255.7,638.0 L255.7,637.2 L255.8,635.0 L256.0,632.5 L256.1,630.0 L256.1,627.0 L256.0,623.0 L256.0,620.0 L256.1,617.0 L256.0,614.0 L255.9,611.0 L256.0,607.0 L256.1,603.6 L256.3,601.0 L256.5,598.5 Z" stroke="none" stroke-width="0" fill="#a8555c"/>
<path d="M256.5,598.5 L256.3,601.0 L256.1,603.6 L256.0,607.0 L255.9,611.0 L256.0,614.0 L256.1,617.0 L256.0,620.0 L256.0,623.0 L256.1,627.0 L256.1,630.0 L256.0,632.5 L255.8,635.0 L255.7,637.2 L255.7,638.0 L256.4,638.3 L256.5,638.3 L256.8,638.0 L256.8,637.2 L256.8,635.0 L256.7,632.5 L256.7,630.0 L256.7,627.0 L256.7,623.0 L256.7,620.0 L256.7,617.0 L256.7,614.0 L256.7,611.0 L256.7,607.0 L256.7,603.6 L256.6,601.0 L256.5,598.5 Z" stroke="none" stroke-width="0" fill="#e487b4"/>
<path d="M256.5,598.5 L256.6,601.0 L256.7,603.6 L256.7,607.0 L256.7,611.0 L256.7,614.0 L256.7,617.0 L256.7,620.0 L256.7,623.0 L256.7,627.0 L256.7,630.0 L256.7,632.5 L256.8,635.0 L256.8,637.2 L256.8,638.0 L256.5,638.3 L256.6,638.3 L257.7,638.0 L257.7,637.2 L257.7,635.0 L257.3,632.5 L257.1,630.0 L257.2,627.0 L257.3,623.0 L257.2,620.0 L257.1,617.0 L257.2,614.0 L257.4,611.0 L257.3,607.0 L257.1,603.6 L256.9,601.0 L256.6,598.5 Z" stroke="none" stroke-width="0" fill="#9457a6"/>
<path d="M256.6,598.5 L256.9,601.0 L257.1,603.6 L257.3,607.0 L257.4,611.0 L257.2,614.0 L257.1,617.0 L257.2,620.0 L257.3,623.0 L257.2,627.0 L257.1,630.0 L257.3,632.5 L257.7,635.0 L257.7,637.2 L257.7,638.0 L256.6,638.3 L256.7,638.3 L258.6,638.0 L258.6,637.2 L258.5,635.0 L257.8,632.5 L257.5,630.0 L257.7,627.0 L257.9,623.0 L257.8,620.0 L257.6,617.0 L257.7,614.0 L258.0,611.0 L257.9,607.0 L257.6,603.6 L257.1,601.0 L256.6,598.5 Z" stroke="none" stroke-width="0" fill="#e2262c"/>
<path d="M256.6,598.5 L257.1,601.0 L257.6,603.6 L257.9,607.0 L258.0,611.0 L257.7,614.0 L257.6,617.0 L257.8,620.0 L257.9,623.0 L257.7,627.0 L257.5,630.0 L257.8,632.5 L258.5,635.0 L258.6,637.2 L258.6,638.0 L256.7,638.3 L256.8,638.3 L259.3,638.0 L259.4,637.2 L259.2,635.0 L258.3,632.5 L257.9,630.0 L258.1,627.0 L258.4,623.0 L258.2,620.0 L258.0,617.0 L258.2,614.0 L258.6,611.0 L258.3,607.0 L258.0,603.6 L257.4,601.0 L256.7,598.5 Z" stroke="none" stroke-width="0" fill="#1c9a4e"/>
<path d="M256.7,598.5 L257.4,601.0 L258.0,603.6 L258.3,607.0 L258.6,611.0 L258.2,614.0 L258.0,617.0 L258.2,620.0 L258.4,623.0 L258.1,627.0 L257.9,630.0 L258.3,632.5 L259.2,635.0 L259.4,637.2 L259.3,638.0 L256.8,638.3 L256.8,638.3 L260.0,638.0 L260.1,637.2 L259.9,635.0 L258.7,632.5 L258.2,630.0 L258.5,627.0 L259.0,623.0 L258.7,620.0 L258.4,617.0 L258.6,614.0 L259.1,611.0 L258.8,607.0 L258.4,603.6 L257.6,601.0 L256.7,598.5 Z" stroke="none" stroke-width="0" fill="#e8822f"/>
<path d="M256.7,598.5 L257.6,601.0 L258.4,603.6 L258.8,607.0 L259.1,611.0 L258.6,614.0 L258.4,617.0 L258.7,620.0 L259.0,623.0 L258.5,627.0 L258.2,630.0 L258.7,632.5 L259.9,635.0 L260.1,637.2 L260.0,638.0 L256.8,638.3 L256.9,638.3 L260.9,638.0 L261.0,637.2 L260.8,635.0 L259.3,632.5 L258.6,630.0 L259.1,627.0 L259.6,623.0 L259.2,620.0 L258.9,617.0 L259.1,614.0 L259.7,611.0 L259.4,607.0 L258.9,603.6 L257.9,601.0 L256.8,598.5 Z" stroke="none" stroke-width="0" fill="#1f63a8"/>
<path d="M256.5 563.8 L258.7 570.9 L256.5 580.5 L254.3 570.9 Z" stroke="none" stroke-width="0" fill="#a5b236"/>
<line x1="289.10" y1="599.50" x2="289.10" y2="581.00" stroke="#7cc6d2" stroke-width="0.9"/>
<line x1="288.80" y1="599.50" x2="288.80" y2="590.50" stroke="#e487b4" stroke-width="0.6"/>
<path d="M288.3,598.5 L284.7,601.0 L281.4,603.6 L279.8,607.0 L278.7,611.0 L280.6,614.0 L281.4,617.0 L280.3,620.0 L279.2,623.0 L280.9,627.0 L282.2,630.0 L280.0,632.5 L275.4,635.0 L274.5,637.2 L274.8,638.0 L287.7,638.3 L288.5,638.3 L282.5,638.0 L282.4,637.2 L282.8,635.0 L284.9,632.5 L285.9,630.0 L285.3,627.0 L284.6,623.0 L285.1,620.0 L285.6,617.0 L285.2,614.0 L284.3,611.0 L284.8,607.0 L285.6,603.6 L287.1,601.0 L288.7,598.5 Z" stroke="none" stroke-width="0" fill="#a8555c"/>
<path d="M288.7,598.5 L287.1,601.0 L285.6,603.6 L284.8,607.0 L284.3,611.0 L285.2,614.0 L285.6,617.0 L285.1,620.0 L284.6,623.0 L285.3,627.0 L285.9,630.0 L284.9,632.5 L282.8,635.0 L282.4,637.2 L282.5,638.0 L288.5,638.3 L288.9,638.3 L286.8,638.0 L286.7,637.2 L286.9,635.0 L287.6,632.5 L288.0,630.0 L287.8,627.0 L287.5,623.0 L287.7,620.0 L287.9,617.0 L287.7,614.0 L287.4,611.0 L287.6,607.0 L287.9,603.6 L288.4,601.0 L289.0,598.5 Z" stroke="none" stroke-width="0" fill="#e487b4"/>
<path d="M289.0,598.5 L288.4,601.0 L287.9,603.6 L287.6,607.0 L287.4,611.0 L287.7,614.0 L287.9,617.0 L287.7,620.0 L287.5,623.0 L287.8,627.0 L288.0,630.0 L287.6,632.5 L286.9,635.0 L286.7,637.2 L286.8,638.0 L288.9,638.3 L289.3,638.3 L291.0,638.0 L291.1,637.2 L291.0,635.0 L290.3,632.5 L290.0,630.0 L290.2,627.0 L290.4,623.0 L290.3,620.0 L290.1,617.0 L290.3,614.0 L290.5,611.0 L290.4,607.0 L290.1,603.6 L289.7,601.0 L289.2,598.5 Z" stroke="none" stroke-width="0" fill="#9457a6"/>
<path d="M289.2,598.5 L289.7,601.0 L290.1,603.6 L290.4,607.0 L290.5,611.0 L290.3,614.0 L290.1,617.0 L290.3,620.0 L290.4,623.0 L290.2,627.0 L290.0,630.0 L290.3,632.5 L291.0,635.0 L291.1,637.2 L291.0,638.0 L289.3,638.3 L289.6,638.3 L294.5,638.0 L294.6,637.2 L294.3,635.0 L292.5,632.5 L291.7,630.0 L292.2,627.0 L292.8,623.0 L292.4,620.0 L292.0,617.0 L292.3,614.0 L293.1,611.0 L292.6,607.0 L292.0,603.6 L290.8,601.0 L289.4,598.5 Z" stroke="none" stroke-width="0" fill="#e2262c"/>
<path d="M289.4,598.5 L290.8,601.0 L292.0,603.6 L292.6,607.0 L293.1,611.0 L292.3,614.0 L292.0,617.0 L292.4,620.0 L292.8,623.0 L292.2,627.0 L291.7,630.0 L292.5,632.5 L294.3,635.0 L294.6,637.2 L294.5,638.0 L289.6,638.3 L289.9,638.3 L297.2,638.0 L297.4,637.2 L296.9,635.0 L294.3,632.5 L293.0,630.0 L293.8,627.0 L294.7,623.0 L294.1,620.0 L293.5,617.0 L293.9,614.0 L295.0,611.0 L294.4,607.0 L293.5,603.6 L291.6,601.0 L289.6,598.5 Z" stroke="none" stroke-width="0" fill="#1c9a4e"/>
<path d="M289.6,598.5 L291.6,601.0 L293.5,603.6 L294.4,607.0 L295.0,611.0 L293.9,614.0 L293.5,617.0 L294.1,620.0 L294.7,623.0 L293.8,627.0 L293.0,630.0 L294.3,632.5 L296.9,635.0 L297.4,637.2 L297.2,638.0 L289.9,638.3 L290.2,638.3 L300.3,638.0 L300.5,637.2 L299.9,635.0 L296.2,632.5 L294.5,630.0 L295.6,627.0 L296.9,623.0 L296.0,620.0 L295.1,617.0 L295.8,614.0 L297.3,611.0 L296.4,607.0 L295.1,603.6 L292.5,601.0 L289.7,598.5 Z" stroke="none" stroke-width="0" fill="#e8822f"/>
<path d="M289.7,598.5 L292.5,601.0 L295.1,603.6 L296.4,607.0 L297.3,611.0 L295.8,614.0 L295.1,617.0 L296.0,620.0 L296.9,623.0 L295.6,627.0 L294.5,630.0 L296.2,632.5 L299.9,635.0 L300.5,637.2 L300.3,638.0 L290.2,638.3 L290.5,638.3 L303.4,638.0 L303.7,637.2 L302.9,635.0 L298.2,632.5 L296.0,630.0 L297.4,627.0 L299.0,623.0 L297.9,620.0 L296.8,617.0 L297.6,614.0 L299.6,611.0 L298.4,607.0 L296.8,603.6 L293.5,601.0 L289.9,598.5 Z" stroke="none" stroke-width="0" fill="#1f63a8"/>
<path d="M289.1 564 L293.5 571.3 L289.1 581 L284.7 571.3 Z" stroke="none" stroke-width="0" fill="#a5b236"/>
<text x="327.80" y="555.50" font-size="11.5" font-weight="bold" fill="#000">j</text>
<rect x="340.40" y="547.20" width="8.73" height="5.85" fill="#f7f7f7"/>
<rect x="349.13" y="547.20" width="8.73" height="5.85" fill="#eec9d2"/>
<rect x="357.86" y="547.20" width="8.73" height="5.85" fill="#f3e6e9"/>
<rect x="366.59" y="547.20" width="8.73" height="5.85" fill="#bedfec"/>
<rect x="375.32" y="547.20" width="8.73" height="5.85" fill="#f7f7f7"/>
<rect x="384.05" y="547.20" width="8.73" height="5.85" fill="#f7f7f7"/>
<rect x="392.78" y="547.20" width="8.73" height="5.85" fill="#a1d3e6"/>
<rect x="401.51" y="547.20" width="8.73" height="5.85" fill="#c9e4ee"/>
<rect x="410.24" y="547.20" width="8.73" height="5.85" fill="#c9e4ee"/>
<rect x="418.97" y="547.20" width="8.73" height="5.85" fill="#f1dae0"/>
<rect x="427.70" y="547.20" width="8.73" height="5.85" fill="#ebbec9"/>
<rect x="436.43" y="547.20" width="8.73" height="5.85" fill="#eec9d2"/>
<rect x="445.16" y="547.20" width="8.73" height="5.85" fill="#c9e4ee"/>
<rect x="453.89" y="547.20" width="8.73" height="5.85" fill="#f3e6e9"/>
<rect x="462.62" y="547.20" width="8.73" height="5.85" fill="#f7f7f7"/>
<rect x="471.35" y="547.20" width="8.73" height="5.85" fill="#84c6e0"/>
<rect x="480.08" y="547.20" width="8.73" height="5.85" fill="#79c2de"/>
<rect x="488.81" y="547.20" width="8.73" height="5.85" fill="#a1d3e6"/>
<rect x="497.54" y="547.20" width="8.73" height="5.85" fill="#f1dae0"/>
<rect x="506.27" y="547.20" width="8.73" height="5.85" fill="#eec9d2"/>
<rect x="515.00" y="547.20" width="8.73" height="5.85" fill="#f1dae0"/>
<rect x="523.73" y="547.20" width="8.73" height="5.85" fill="#2fa2d0"/>
<rect x="532.46" y="547.20" width="8.73" height="5.85" fill="#2fa2d0"/>
<rect x="541.19" y="547.20" width="8.73" height="5.85" fill="#2fa2d0"/>
<rect x="549.92" y="547.20" width="8.73" height="5.85" fill="#bedfec"/>
<rect x="558.65" y="547.20" width="8.73" height="5.85" fill="#a1d3e6"/>
<rect x="567.38" y="547.20" width="8.73" height="5.85" fill="#f3e6e9"/>
<rect x="340.40" y="553.05" width="8.73" height="5.85" fill="#f7f7f7"/>
<rect x="349.13" y="553.05" width="8.73" height="5.85" fill="#eec9d2"/>
<rect x="357.86" y="553.05" width="8.73" height="5.85" fill="#f3e6e9"/>
<rect x="366.59" y="553.05" width="8.73" height="5.85" fill="#bedfec"/>
<rect x="375.32" y="553.05" width="8.73" height="5.85" fill="#f7f7f7"/>
<rect x="384.05" y="553.05" width="8.73" height="5.85" fill="#f3e6e9"/>
<rect x="392.78" y="553.05" width="8.73" height="5.85" fill="#84c6e0"/>
<rect x="401.51" y="553.05" width="8.73" height="5.85" fill="#bedfec"/>
<rect x="410.24" y="553.05" width="8.73" height="5.85" fill="#bedfec"/>
<rect x="418.97" y="553.05" width="8.73" height="5.85" fill="#f3e6e9"/>
<rect x="427.70" y="553.05" width="8.73" height="5.85" fill="#e9b2c0"/>
<rect x="436.43" y="553.05" width="8.73" height="5.85" fill="#ebbec9"/>
<rect x="445.16" y="553.05" width="8.73" height="5.85" fill="#c9e4ee"/>
<rect x="453.89" y="553.05" width="8.73" height="5.85" fill="#f7f7f7"/>
<rect x="462.62" y="553.05" width="8.73" height="5.85" fill="#ecf2f5"/>
<rect x="471.35" y="553.05" width="8.73" height="5.85" fill="#79c2de"/>
<rect x="480.08" y="553.05" width="8.73" height="5.85" fill="#68badb"/>
<rect x="488.81" y="553.05" width="8.73" height="5.85" fill="#a1d3e6"/>
<rect x="497.54" y="553.05" width="8.73" height="5.85" fill="#eec9d2"/>
<rect x="506.27" y="553.05" width="8.73" height="5.85" fill="#e9b2c0"/>
<rect x="515.00" y="553.05" width="8.73" height="5.85" fill="#eec9d2"/>
<rect x="523.73" y="553.05" width="8.73" height="5.85" fill="#4baed5"/>
<rect x="532.46" y="553.05" width="8.73" height="5.85" fill="#2fa2d0"/>
<rect x="541.19" y="553.05" width="8.73" height="5.85" fill="#2fa2d0"/>
<rect x="549.92" y="553.05" width="8.73" height="5.85" fill="#b2daea"/>
<rect x="558.65" y="553.05" width="8.73" height="5.85" fill="#84c6e0"/>
<rect x="567.38" y="553.05" width="8.73" height="5.85" fill="#f5ecee"/>
<rect x="340.40" y="558.90" width="8.73" height="5.85" fill="#f7f7f7"/>
<rect x="349.13" y="558.90" width="8.73" height="5.85" fill="#eec9d2"/>
<rect x="357.86" y="558.90" width="8.73" height="5.85" fill="#f3e6e9"/>
<rect x="366.59" y="558.90" width="8.73" height="5.85" fill="#bedfec"/>
<rect x="375.32" y="558.90" width="8.73" height="5.85" fill="#f7f7f7"/>
<rect x="384.05" y="558.90" width="8.73" height="5.85" fill="#f7f7f7"/>
<rect x="392.78" y="558.90" width="8.73" height="5.85" fill="#b2daea"/>
<rect x="401.51" y="558.90" width="8.73" height="5.85" fill="#f7f7f7"/>
<rect x="410.24" y="558.90" width="8.73" height="5.85" fill="#f7f7f7"/>
<rect x="418.97" y="558.90" width="8.73" height="5.85" fill="#f7f7f7"/>
<rect x="427.70" y="558.90" width="8.73" height="5.85" fill="#eec9d2"/>
<rect x="436.43" y="558.90" width="8.73" height="5.85" fill="#f1dae0"/>
<rect x="445.16" y="558.90" width="8.73" height="5.85" fill="#daebf1"/>
<rect x="453.89" y="558.90" width="8.73" height="5.85" fill="#f3e6e9"/>
<rect x="462.62" y="558.90" width="8.73" height="5.85" fill="#f7f7f7"/>
<rect x="471.35" y="558.90" width="8.73" height="5.85" fill="#a1d3e6"/>
<rect x="480.08" y="558.90" width="8.73" height="5.85" fill="#84c6e0"/>
<rect x="488.81" y="558.90" width="8.73" height="5.85" fill="#c9e4ee"/>
<rect x="497.54" y="558.90" width="8.73" height="5.85" fill="#f5ecee"/>
<rect x="506.27" y="558.90" width="8.73" height="5.85" fill="#eec9d2"/>
<rect x="515.00" y="558.90" width="8.73" height="5.85" fill="#f3e6e9"/>
<rect x="523.73" y="558.90" width="8.73" height="5.85" fill="#2fa2d0"/>
<rect x="532.46" y="558.90" width="8.73" height="5.85" fill="#1d9bcc"/>
<rect x="541.19" y="558.90" width="8.73" height="5.85" fill="#2fa2d0"/>
<rect x="549.92" y="558.90" width="8.73" height="5.85" fill="#bedfec"/>
<rect x="558.65" y="558.90" width="8.73" height="5.85" fill="#a1d3e6"/>
<rect x="567.38" y="558.90" width="8.73" height="5.85" fill="#f7f7f7"/>
<rect x="340.40" y="564.75" width="8.73" height="5.85" fill="#ecf2f5"/>
<rect x="349.13" y="564.75" width="8.73" height="5.85" fill="#f1dae0"/>
<rect x="357.86" y="564.75" width="8.73" height="5.85" fill="#f7f7f7"/>
<rect x="366.59" y="564.75" width="8.73" height="5.85" fill="#a1d3e6"/>
<rect x="375.32" y="564.75" width="8.73" height="5.85" fill="#c9e4ee"/>
<rect x="384.05" y="564.75" width="8.73" height="5.85" fill="#daebf1"/>
<rect x="392.78" y="564.75" width="8.73" height="5.85" fill="#a1d3e6"/>
<rect x="401.51" y="564.75" width="8.73" height="5.85" fill="#bedfec"/>
<rect x="410.24" y="564.75" width="8.73" height="5.85" fill="#bedfec"/>
<rect x="418.97" y="564.75" width="8.73" height="5.85" fill="#eec9d2"/>
<rect x="427.70" y="564.75" width="8.73" height="5.85" fill="#e5a1b2"/>
<rect x="436.43" y="564.75" width="8.73" height="5.85" fill="#ebbec9"/>
<rect x="445.16" y="564.75" width="8.73" height="5.85" fill="#f7f7f7"/>
<rect x="453.89" y="564.75" width="8.73" height="5.85" fill="#eec9d2"/>
<rect x="462.62" y="564.75" width="8.73" height="5.85" fill="#f7f7f7"/>
<rect x="471.35" y="564.75" width="8.73" height="5.85" fill="#68badb"/>
<rect x="480.08" y="564.75" width="8.73" height="5.85" fill="#4baed5"/>
<rect x="488.81" y="564.75" width="8.73" height="5.85" fill="#90cbe3"/>
<rect x="497.54" y="564.75" width="8.73" height="5.85" fill="#f1dae0"/>
<rect x="506.27" y="564.75" width="8.73" height="5.85" fill="#eec9d2"/>
<rect x="515.00" y="564.75" width="8.73" height="5.85" fill="#eec9d2"/>
<rect x="523.73" y="564.75" width="8.73" height="5.85" fill="#4baed5"/>
<rect x="532.46" y="564.75" width="8.73" height="5.85" fill="#40a9d3"/>
<rect x="541.19" y="564.75" width="8.73" height="5.85" fill="#2fa2d0"/>
<rect x="549.92" y="564.75" width="8.73" height="5.85" fill="#bedfec"/>
<rect x="558.65" y="564.75" width="8.73" height="5.85" fill="#b2daea"/>
<rect x="567.38" y="564.75" width="8.73" height="5.85" fill="#f7f7f7"/>
<rect x="340.40" y="570.60" width="8.73" height="5.85" fill="#f7f7f7"/>
<rect x="349.13" y="570.60" width="8.73" height="5.85" fill="#f7f7f7"/>
<rect x="357.86" y="570.60" width="8.73" height="5.85" fill="#f7f7f7"/>
<rect x="366.59" y="570.60" width="8.73" height="5.85" fill="#a1d3e6"/>
<rect x="375.32" y="570.60" width="8.73" height="5.85" fill="#b2daea"/>
<rect x="384.05" y="570.60" width="8.73" height="5.85" fill="#c9e4ee"/>
<rect x="392.78" y="570.60" width="8.73" height="5.85" fill="#b2daea"/>
<rect x="401.51" y="570.60" width="8.73" height="5.85" fill="#bedfec"/>
<rect x="410.24" y="570.60" width="8.73" height="5.85" fill="#c9e4ee"/>
<rect x="418.97" y="570.60" width="8.73" height="5.85" fill="#f7f7f7"/>
<rect x="427.70" y="570.60" width="8.73" height="5.85" fill="#ebbec9"/>
<rect x="436.43" y="570.60" width="8.73" height="5.85" fill="#eec9d2"/>
<rect x="445.16" y="570.60" width="8.73" height="5.85" fill="#f3e6e9"/>
<rect x="453.89" y="570.60" width="8.73" height="5.85" fill="#ebbec9"/>
<rect x="462.62" y="570.60" width="8.73" height="5.85" fill="#eec9d2"/>
<rect x="471.35" y="570.60" width="8.73" height="5.85" fill="#90cbe3"/>
<rect x="480.08" y="570.60" width="8.73" height="5.85" fill="#57b3d8"/>
<rect x="488.81" y="570.60" width="8.73" height="5.85" fill="#a1d3e6"/>
<rect x="497.54" y="570.60" width="8.73" height="5.85" fill="#f1dae0"/>
<rect x="506.27" y="570.60" width="8.73" height="5.85" fill="#ebbec9"/>
<rect x="515.00" y="570.60" width="8.73" height="5.85" fill="#f1dae0"/>
<rect x="523.73" y="570.60" width="8.73" height="5.85" fill="#4baed5"/>
<rect x="532.46" y="570.60" width="8.73" height="5.85" fill="#4baed5"/>
<rect x="541.19" y="570.60" width="8.73" height="5.85" fill="#4baed5"/>
<rect x="549.92" y="570.60" width="8.73" height="5.85" fill="#e6f0f4"/>
<rect x="558.65" y="570.60" width="8.73" height="5.85" fill="#b2daea"/>
<rect x="567.38" y="570.60" width="8.73" height="5.85" fill="#f7f7f7"/>
<rect x="340.40" y="576.45" width="8.73" height="5.85" fill="#f7f7f7"/>
<rect x="349.13" y="576.45" width="8.73" height="5.85" fill="#f7f7f7"/>
<rect x="357.86" y="576.45" width="8.73" height="5.85" fill="#f7f7f7"/>
<rect x="366.59" y="576.45" width="8.73" height="5.85" fill="#b2daea"/>
<rect x="375.32" y="576.45" width="8.73" height="5.85" fill="#bedfec"/>
<rect x="384.05" y="576.45" width="8.73" height="5.85" fill="#c9e4ee"/>
<rect x="392.78" y="576.45" width="8.73" height="5.85" fill="#bedfec"/>
<rect x="401.51" y="576.45" width="8.73" height="5.85" fill="#c9e4ee"/>
<rect x="410.24" y="576.45" width="8.73" height="5.85" fill="#c9e4ee"/>
<rect x="418.97" y="576.45" width="8.73" height="5.85" fill="#f1dae0"/>
<rect x="427.70" y="576.45" width="8.73" height="5.85" fill="#ebbec9"/>
<rect x="436.43" y="576.45" width="8.73" height="5.85" fill="#f1dae0"/>
<rect x="445.16" y="576.45" width="8.73" height="5.85" fill="#f3e6e9"/>
<rect x="453.89" y="576.45" width="8.73" height="5.85" fill="#ebbec9"/>
<rect x="462.62" y="576.45" width="8.73" height="5.85" fill="#f3e6e9"/>
<rect x="471.35" y="576.45" width="8.73" height="5.85" fill="#90cbe3"/>
<rect x="480.08" y="576.45" width="8.73" height="5.85" fill="#68badb"/>
<rect x="488.81" y="576.45" width="8.73" height="5.85" fill="#b2daea"/>
<rect x="497.54" y="576.45" width="8.73" height="5.85" fill="#eec9d2"/>
<rect x="506.27" y="576.45" width="8.73" height="5.85" fill="#ebbec9"/>
<rect x="515.00" y="576.45" width="8.73" height="5.85" fill="#f1dae0"/>
<rect x="523.73" y="576.45" width="8.73" height="5.85" fill="#4baed5"/>
<rect x="532.46" y="576.45" width="8.73" height="5.85" fill="#4baed5"/>
<rect x="541.19" y="576.45" width="8.73" height="5.85" fill="#4baed5"/>
<rect x="549.92" y="576.45" width="8.73" height="5.85" fill="#daebf1"/>
<rect x="558.65" y="576.45" width="8.73" height="5.85" fill="#a1d3e6"/>
<rect x="567.38" y="576.45" width="8.73" height="5.85" fill="#f7f7f7"/>
<rect x="340.40" y="582.30" width="8.73" height="5.85" fill="#ecf2f5"/>
<rect x="349.13" y="582.30" width="8.73" height="5.85" fill="#f1dae0"/>
<rect x="357.86" y="582.30" width="8.73" height="5.85" fill="#f3e6e9"/>
<rect x="366.59" y="582.30" width="8.73" height="5.85" fill="#f3e6e9"/>
<rect x="375.32" y="582.30" width="8.73" height="5.85" fill="#ebbec9"/>
<rect x="384.05" y="582.30" width="8.73" height="5.85" fill="#eec9d2"/>
<rect x="392.78" y="582.30" width="8.73" height="5.85" fill="#84c6e0"/>
<rect x="401.51" y="582.30" width="8.73" height="5.85" fill="#b2daea"/>
<rect x="410.24" y="582.30" width="8.73" height="5.85" fill="#a1d3e6"/>
<rect x="418.97" y="582.30" width="8.73" height="5.85" fill="#eec9d2"/>
<rect x="427.70" y="582.30" width="8.73" height="5.85" fill="#ebbec9"/>
<rect x="436.43" y="582.30" width="8.73" height="5.85" fill="#f1dae0"/>
<rect x="445.16" y="582.30" width="8.73" height="5.85" fill="#84c6e0"/>
<rect x="453.89" y="582.30" width="8.73" height="5.85" fill="#c9e4ee"/>
<rect x="462.62" y="582.30" width="8.73" height="5.85" fill="#b2daea"/>
<rect x="471.35" y="582.30" width="8.73" height="5.85" fill="#a1d3e6"/>
<rect x="480.08" y="582.30" width="8.73" height="5.85" fill="#90cbe3"/>
<rect x="488.81" y="582.30" width="8.73" height="5.85" fill="#b2daea"/>
<rect x="497.54" y="582.30" width="8.73" height="5.85" fill="#ebbec9"/>
<rect x="506.27" y="582.30" width="8.73" height="5.85" fill="#e290a4"/>
<rect x="515.00" y="582.30" width="8.73" height="5.85" fill="#ebbec9"/>
<rect x="523.73" y="582.30" width="8.73" height="5.85" fill="#4baed5"/>
<rect x="532.46" y="582.30" width="8.73" height="5.85" fill="#4baed5"/>
<rect x="541.19" y="582.30" width="8.73" height="5.85" fill="#4baed5"/>
<rect x="549.92" y="582.30" width="8.73" height="5.85" fill="#b2daea"/>
<rect x="558.65" y="582.30" width="8.73" height="5.85" fill="#a1d3e6"/>
<rect x="567.38" y="582.30" width="8.73" height="5.85" fill="#f7f7f7"/>
<rect x="340.40" y="588.15" width="8.73" height="5.85" fill="#b2daea"/>
<rect x="349.13" y="588.15" width="8.73" height="5.85" fill="#b2daea"/>
<rect x="357.86" y="588.15" width="8.73" height="5.85" fill="#b2daea"/>
<rect x="366.59" y="588.15" width="8.73" height="5.85" fill="#b2daea"/>
<rect x="375.32" y="588.15" width="8.73" height="5.85" fill="#b2daea"/>
<rect x="384.05" y="588.15" width="8.73" height="5.85" fill="#b2daea"/>
<rect x="392.78" y="588.15" width="8.73" height="5.85" fill="#b2daea"/>
<rect x="401.51" y="588.15" width="8.73" height="5.85" fill="#b2daea"/>
<rect x="410.24" y="588.15" width="8.73" height="5.85" fill="#b2daea"/>
<rect x="418.97" y="588.15" width="8.73" height="5.85" fill="#b2daea"/>
<rect x="427.70" y="588.15" width="8.73" height="5.85" fill="#b2daea"/>
<rect x="436.43" y="588.15" width="8.73" height="5.85" fill="#b2daea"/>
<rect x="445.16" y="588.15" width="8.73" height="5.85" fill="#b2daea"/>
<rect x="453.89" y="588.15" width="8.73" height="5.85" fill="#bedfec"/>
<rect x="462.62" y="588.15" width="8.73" height="5.85" fill="#b2daea"/>
<rect x="471.35" y="588.15" width="8.73" height="5.85" fill="#a1d3e6"/>
<rect x="480.08" y="588.15" width="8.73" height="5.85" fill="#a1d3e6"/>
<rect x="488.81" y="588.15" width="8.73" height="5.85" fill="#b2daea"/>
<rect x="497.54" y="588.15" width="8.73" height="5.85" fill="#daebf1"/>
<rect x="506.27" y="588.15" width="8.73" height="5.85" fill="#c9e4ee"/>
<rect x="515.00" y="588.15" width="8.73" height="5.85" fill="#c9e4ee"/>
<rect x="523.73" y="588.15" width="8.73" height="5.85" fill="#b2daea"/>
<rect x="532.46" y="588.15" width="8.73" height="5.85" fill="#b2daea"/>
<rect x="541.19" y="588.15" width="8.73" height="5.85" fill="#a1d3e6"/>
<rect x="549.92" y="588.15" width="8.73" height="5.85" fill="#ce2f55"/>
<rect x="558.65" y="588.15" width="8.73" height="5.85" fill="#c8123e"/>
<rect x="567.38" y="588.15" width="8.73" height="5.85" fill="#daebf1"/>
<path d="M349.13 547.20V594.00M357.86 547.20V594.00M366.59 547.20V594.00M375.32 547.20V594.00M384.05 547.20V594.00M392.78 547.20V594.00M401.51 547.20V594.00M410.24 547.20V594.00M418.97 547.20V594.00M427.70 547.20V594.00M436.43 547.20V594.00M445.16 547.20V594.00M453.89 547.20V594.00M462.62 547.20V594.00M471.35 547.20V594.00M480.08 547.20V594.00M488.81 547.20V594.00M497.54 547.20V594.00M506.27 547.20V594.00M515.00 547.20V594.00M523.73 547.20V594.00M532.46 547.20V594.00M541.19 547.20V594.00M549.92 547.20V594.00M558.65 547.20V594.00M567.38 547.20V594.00M340.40 553.05H576.11M340.40 558.90H576.11M340.40 564.75H576.11M340.40 570.60H576.11M340.40 576.45H576.11M340.40 582.30H576.11M340.40 588.15H576.11" stroke="#ffffff" stroke-width="0.5" fill="none"/>
<rect x="340.40" y="547.20" width="235.71" height="46.80" fill="none" stroke="#666" stroke-width="0.6"/>
<text x="578.80" y="551.73" font-size="5.8">microglia_polarization</text>
<text x="578.80" y="557.58" font-size="5.8">inflammatory response</text>
<text x="578.80" y="563.43" font-size="5.8">microglial cell activation</text>
<text x="578.80" y="569.27" font-size="5.8">immune response</text>
<text x="578.80" y="575.12" font-size="5.8">complement activation</text>
<text x="578.80" y="580.98" font-size="5.8">Complement and coagulation cascades</text>
<text x="578.80" y="586.83" font-size="5.8">chemokine</text>
<text x="578.80" y="592.68" font-size="5.8">Proliferation</text>
<text transform="translate(347.06,596.30) rotate(-90)" font-size="6.7" text-anchor="end" fill="#333">MicroglialCells1_C1</text>
<text transform="translate(355.80,596.30) rotate(-90)" font-size="6.7" text-anchor="end" fill="#333">MicroglialCells1_M_3d</text>
<text transform="translate(364.52,596.30) rotate(-90)" font-size="6.7" text-anchor="end" fill="#333">MicroglialCells1_M_28d</text>
<text transform="translate(373.25,596.30) rotate(-90)" font-size="6.7" text-anchor="end" fill="#333">MicroglialCells2_C1</text>
<text transform="translate(381.99,596.30) rotate(-90)" font-size="6.7" text-anchor="end" fill="#333">MicroglialCells2_M_3d</text>
<text transform="translate(390.71,596.30) rotate(-90)" font-size="6.7" text-anchor="end" fill="#333">MicroglialCells2_M_28d</text>
<text transform="translate(399.44,596.30) rotate(-90)" font-size="6.7" text-anchor="end" fill="#333">MicroglialCells3_C1</text>
<text transform="translate(408.18,596.30) rotate(-90)" font-size="6.7" text-anchor="end" fill="#333">MicroglialCells3_M_3d</text>
<text transform="translate(416.91,596.30) rotate(-90)" font-size="6.7" text-anchor="end" fill="#333">MicroglialCells3_M_28d</text>
<text transform="translate(425.63,596.30) rotate(-90)" font-size="6.7" text-anchor="end" fill="#333">MicroglialCells4_C1</text>
<text transform="translate(434.37,596.30) rotate(-90)" font-size="6.7" text-anchor="end" fill="#333">MicroglialCells4_M_3d</text>
<text transform="translate(443.09,596.30) rotate(-90)" font-size="6.7" text-anchor="end" fill="#333">MicroglialCells4_M_28d</text>
<text transform="translate(451.82,596.30) rotate(-90)" font-size="6.7" text-anchor="end" fill="#333">MicroglialCells5_C1</text>
<text transform="translate(460.56,596.30) rotate(-90)" font-size="6.7" text-anchor="end" fill="#333">MicroglialCells5_M_3d</text>
<text transform="translate(469.29,596.30) rotate(-90)" font-size="6.7" text-anchor="end" fill="#333">MicroglialCells5_M_28d</text>
<text transform="translate(478.02,596.30) rotate(-90)" font-size="6.7" text-anchor="end" fill="#333">MicroglialCells6_C1</text>
<text transform="translate(486.75,596.30) rotate(-90)" font-size="6.7" text-anchor="end" fill="#333">MicroglialCells6_M_3d</text>
<text transform="translate(495.47,596.30) rotate(-90)" font-size="6.7" text-anchor="end" fill="#333">MicroglialCells6_M_28d</text>
<text transform="translate(504.20,596.30) rotate(-90)" font-size="6.7" text-anchor="end" fill="#333">MicroglialCells7_C1</text>
<text transform="translate(512.93,596.30) rotate(-90)" font-size="6.7" text-anchor="end" fill="#333">MicroglialCells7_M_3d</text>
<text transform="translate(521.66,596.30) rotate(-90)" font-size="6.7" text-anchor="end" fill="#333">MicroglialCells7_M_28d</text>
<text transform="translate(530.39,596.30) rotate(-90)" font-size="6.7" text-anchor="end" fill="#333">MicroglialCells8_C1</text>
<text transform="translate(539.12,596.30) rotate(-90)" font-size="6.7" text-anchor="end" fill="#333">MicroglialCells8_M_3d</text>
<text transform="translate(547.86,596.30) rotate(-90)" font-size="6.7" text-anchor="end" fill="#333">MicroglialCells8_M_28d</text>
<text transform="translate(556.58,596.30) rotate(-90)" font-size="6.7" text-anchor="end" fill="#333">MicroglialCells9_C1</text>
<text transform="translate(565.31,596.30) rotate(-90)" font-size="6.7" text-anchor="end" fill="#333">MicroglialCells9_M_3d</text>
<text transform="translate(574.04,596.30) rotate(-90)" font-size="6.7" text-anchor="end" fill="#333">MicroglialCells9_M_28d</text>
<defs><linearGradient id="cbj" x1="0" y1="0" x2="0" y2="1"><stop offset="0" stop-color="#c8123e"/><stop offset="0.5" stop-color="#f7f7f7"/><stop offset="1" stop-color="#1296ca"/></linearGradient></defs>
<rect x="576.00" y="600.00" width="4.00" height="41.00" fill="url(#cbj)"/>
<text x="582.50" y="604.80" font-size="6.6" fill="#333">4</text>
<text x="582.50" y="613.80" font-size="6.6" fill="#333">2</text>
<text x="582.50" y="622.80" font-size="6.6" fill="#333">0</text>
<text x="582.50" y="631.80" font-size="6.6" fill="#333">-2</text>
<text x="582.50" y="640.80" font-size="6.6" fill="#333">-4</text>
<text x="0.90" y="703.80" font-size="11.5" font-weight="bold" fill="#000">k</text>
<rect x="50.80" y="714.40" width="55.80" height="112.30" fill="none" stroke="#888" stroke-width="0.6"/>
<text x="48.00" y="724.30" font-size="6.9" text-anchor="end">MicroglialCells1</text>
<line x1="48.80" y1="721.90" x2="50.80" y2="721.90" stroke="#666" stroke-width="0.5"/>
<text x="48.00" y="736.50" font-size="6.9" text-anchor="end">MicroglialCells2</text>
<line x1="48.80" y1="734.10" x2="50.80" y2="734.10" stroke="#666" stroke-width="0.5"/>
<text x="48.00" y="748.70" font-size="6.9" text-anchor="end">MicroglialCells3</text>
<line x1="48.80" y1="746.30" x2="50.80" y2="746.30" stroke="#666" stroke-width="0.5"/>
<text x="48.00" y="760.90" font-size="6.9" text-anchor="end">MicroglialCells4</text>
<line x1="48.80" y1="758.50" x2="50.80" y2="758.50" stroke="#666" stroke-width="0.5"/>
<text x="48.00" y="773.10" font-size="6.9" text-anchor="end">MicroglialCells5</text>
<line x1="48.80" y1="770.70" x2="50.80" y2="770.70" stroke="#666" stroke-width="0.5"/>
<text x="48.00" y="785.30" font-size="6.9" text-anchor="end">MicroglialCells6</text>
<line x1="48.80" y1="782.90" x2="50.80" y2="782.90" stroke="#666" stroke-width="0.5"/>
<text x="48.00" y="797.50" font-size="6.9" text-anchor="end">MicroglialCells7</text>
<line x1="48.80" y1="795.10" x2="50.80" y2="795.10" stroke="#666" stroke-width="0.5"/>
<text x="48.00" y="809.70" font-size="6.9" text-anchor="end">MicroglialCells8</text>
<line x1="48.80" y1="807.30" x2="50.80" y2="807.30" stroke="#666" stroke-width="0.5"/>
<text x="48.00" y="821.90" font-size="6.9" text-anchor="end">MicroglialCells9</text>
<line x1="48.80" y1="819.50" x2="50.80" y2="819.50" stroke="#666" stroke-width="0.5"/>
<circle cx="56.5" cy="721.9" r="0.9" fill="#eab199"/>
<circle cx="67.4" cy="721.9" r="0.6" fill="#eab199"/>
<circle cx="78.1" cy="721.9" r="0.4" fill="#ead0c4"/>
<circle cx="89.0" cy="721.9" r="0.3" fill="#eee"/>
<circle cx="100.0" cy="721.9" r="0.3" fill="#eee"/>
<circle cx="56.5" cy="734.1" r="0.9" fill="#e6a78d"/>
<circle cx="67.4" cy="734.1" r="1.0" fill="#d9805e"/>
<circle cx="78.1" cy="734.1" r="0.5" fill="#eab199"/>
<circle cx="89.0" cy="734.1" r="0.3" fill="#eee"/>
<circle cx="100.0" cy="734.1" r="0.3" fill="#eee"/>
<circle cx="56.5" cy="746.3" r="1.0" fill="#e6a78d"/>
<circle cx="67.4" cy="746.3" r="0.5" fill="#ccc"/>
<circle cx="78.1" cy="746.3" r="0.4" fill="#ddd"/>
<circle cx="89.0" cy="746.3" r="0.3" fill="#eee"/>
<circle cx="100.0" cy="746.3" r="0.3" fill="#eee"/>
<circle cx="56.5" cy="758.5" r="1.0" fill="#e6a78d"/>
<circle cx="67.4" cy="758.5" r="0.9" fill="#e09676"/>
<circle cx="78.1" cy="758.5" r="0.4" fill="#ead0c4"/>
<circle cx="89.0" cy="758.5" r="0.3" fill="#eee"/>
<circle cx="100.0" cy="758.5" r="0.3" fill="#eee"/>
<circle cx="56.5" cy="770.7" r="0.8" fill="#eab199"/>
<circle cx="67.4" cy="770.7" r="0.6" fill="#ead0c4"/>
<circle cx="78.1" cy="770.7" r="0.4" fill="#ddd"/>
<circle cx="89.0" cy="770.7" r="0.3" fill="#eee"/>
<circle cx="100.0" cy="770.7" r="0.3" fill="#eee"/>
<circle cx="56.5" cy="782.9" r="0.8" fill="#eab199"/>
<circle cx="67.4" cy="782.9" r="0.6" fill="#eab199"/>
<circle cx="78.1" cy="782.9" r="0.4" fill="#ddd"/>
<circle cx="89.0" cy="782.9" r="0.3" fill="#eee"/>
<circle cx="100.0" cy="782.9" r="0.3" fill="#eee"/>
<circle cx="56.5" cy="795.1" r="1.3" fill="#d9805e"/>
<circle cx="67.4" cy="795.1" r="0.6" fill="#eab199"/>
<circle cx="78.1" cy="795.1" r="0.8" fill="#d9805e"/>
<circle cx="89.0" cy="795.1" r="0.3" fill="#eee"/>
<circle cx="100.0" cy="795.1" r="0.3" fill="#eee"/>
<circle cx="56.5" cy="807.3" r="0.6" fill="#5a5aa8"/>
<circle cx="67.4" cy="807.3" r="0.4" fill="#ccc"/>
<circle cx="78.1" cy="807.3" r="0.7" fill="#c44a3a"/>
<circle cx="89.0" cy="807.3" r="2.3" fill="#b2182b"/>
<circle cx="100.0" cy="807.3" r="0.6" fill="#e09676"/>
<circle cx="56.5" cy="819.5" r="0.9" fill="#e0b5c0"/>
<circle cx="67.4" cy="819.5" r="0.5" fill="#eab199"/>
<circle cx="78.1" cy="819.5" r="0.4" fill="#ddd"/>
<circle cx="89.0" cy="819.5" r="0.3" fill="#eee"/>
<circle cx="100.0" cy="819.5" r="0.3" fill="#eee"/>
<line x1="56.50" y1="826.70" x2="56.50" y2="828.50" stroke="#666" stroke-width="0.5"/>
<text transform="translate(58.90,829.30) rotate(-90)" font-size="6.9" text-anchor="end" fill="#c0223f">CD86</text>
<line x1="67.40" y1="826.70" x2="67.40" y2="828.50" stroke="#666" stroke-width="0.5"/>
<text transform="translate(69.80,829.30) rotate(-90)" font-size="6.9" text-anchor="end" fill="#333">Il6</text>
<line x1="78.10" y1="826.70" x2="78.10" y2="828.50" stroke="#666" stroke-width="0.5"/>
<text transform="translate(80.50,829.30) rotate(-90)" font-size="6.9" text-anchor="end" fill="#333">Il1b</text>
<line x1="89.00" y1="826.70" x2="89.00" y2="828.50" stroke="#666" stroke-width="0.5"/>
<text transform="translate(91.40,829.30) rotate(-90)" font-size="6.9" text-anchor="end" fill="#333">Cd163</text>
<line x1="100.00" y1="826.70" x2="100.00" y2="828.50" stroke="#666" stroke-width="0.5"/>
<text transform="translate(102.40,829.30) rotate(-90)" font-size="6.9" text-anchor="end" fill="#333">Il10</text>
<text x="110.50" y="743.00" font-size="4.3">Percent Expressed</text>
<circle cx="112.8" cy="747.0" r="0.3" fill="#111"/>
<text x="117.30" y="748.30" font-size="3.6" fill="#333">0</text>
<circle cx="112.8" cy="751.9" r="0.6" fill="#111"/>
<text x="117.30" y="753.20" font-size="3.6" fill="#333">10</text>
<circle cx="112.8" cy="756.8" r="0.9" fill="#111"/>
<text x="117.30" y="758.10" font-size="3.6" fill="#333">20</text>
<circle cx="112.8" cy="761.7" r="1.2" fill="#111"/>
<text x="117.30" y="763.00" font-size="3.6" fill="#333">30</text>
<circle cx="112.8" cy="766.6" r="1.5" fill="#111"/>
<text x="117.30" y="767.90" font-size="3.6" fill="#333">40</text>
<text x="110.50" y="776.20" font-size="4.3">Average Expression</text>
<defs><linearGradient id="cbk" x1="0" y1="0" x2="0" y2="1"><stop offset="0" stop-color="#b2182b"/><stop offset="0.45" stop-color="#f5e0d0"/><stop offset="1" stop-color="#2a2a90"/></linearGradient></defs>
<rect x="110.40" y="779.20" width="4.60" height="22.50" fill="url(#cbk)"/>
<text x="117.30" y="783.20" font-size="3.6" fill="#333">2</text>
<text x="117.30" y="787.60" font-size="3.6" fill="#333">1</text>
<text x="117.30" y="792.00" font-size="3.6" fill="#333">0</text>
<text x="117.30" y="796.40" font-size="3.6" fill="#333">-1</text>
<text x="117.30" y="800.80" font-size="3.6" fill="#333">-2</text>
<text x="134.50" y="703.60" font-size="11.5" font-weight="bold" fill="#000">l</text>
<text x="225.00" y="699.50" font-size="6.9" text-anchor="middle" font-weight="bold">Cd86</text>
<line x1="160.50" y1="704.70" x2="160.50" y2="828.30" stroke="#444" stroke-width="0.6"/>
<line x1="160.50" y1="828.30" x2="277.60" y2="828.30" stroke="#444" stroke-width="0.6"/>
<text x="157.50" y="712.20" font-size="7" text-anchor="end" fill="#444">15</text>
<line x1="158.50" y1="709.70" x2="160.50" y2="709.70" stroke="#444" stroke-width="0.5"/>
<text x="157.50" y="745.70" font-size="7" text-anchor="end" fill="#444">10</text>
<line x1="158.50" y1="743.20" x2="160.50" y2="743.20" stroke="#444" stroke-width="0.5"/>
<text x="157.50" y="778.70" font-size="7" text-anchor="end" fill="#444">5</text>
<line x1="158.50" y1="776.20" x2="160.50" y2="776.20" stroke="#444" stroke-width="0.5"/>
<text x="157.50" y="812.00" font-size="7" text-anchor="end" fill="#444">0</text>
<line x1="158.50" y1="809.50" x2="160.50" y2="809.50" stroke="#444" stroke-width="0.5"/>
<text x="175.40" y="838.50" font-size="7" text-anchor="middle" fill="#444">-5</text>
<line x1="175.40" y1="828.30" x2="175.40" y2="830.30" stroke="#444" stroke-width="0.5"/>
<text x="202.50" y="838.50" font-size="7" text-anchor="middle" fill="#444">0</text>
<line x1="202.50" y1="828.30" x2="202.50" y2="830.30" stroke="#444" stroke-width="0.5"/>
<text x="229.30" y="838.50" font-size="7" text-anchor="middle" fill="#444">5</text>
<line x1="229.30" y1="828.30" x2="229.30" y2="830.30" stroke="#444" stroke-width="0.5"/>
<text x="256.50" y="838.50" font-size="7" text-anchor="middle" fill="#444">10</text>
<line x1="256.50" y1="828.30" x2="256.50" y2="830.30" stroke="#444" stroke-width="0.5"/>
<text x="215.00" y="846.30" font-size="6.4" text-anchor="middle" fill="#333">UMAP_1</text>
<path d="M171,742 C170,725 180,711 195,710.5 C205,710 212,713 220,717 C228,722 230,735 229.5,752 C229,770 222,781 210,785 C200,788 188,786 180,778 C172,770 171,758 171,742 Z" stroke="#cfcfcf" stroke-width="0.6" fill="#cdcdcd"/>
<path d="M204,784 C208,792 212,800 216,810 C217,814 218,817 219,819" stroke="#c8c8c8" stroke-width="1.2" fill="none"/>
<path d="M254.5,744 C255,739 259,737.5 263,738 C267,739 270,742 270.5,745.5 C270,749 266,751 262,752 L259.5,758 L258.5,765.5 L257.5,765 L257.8,757 C256,752 252,749 248.4,746.8 L249,746 C251,746.5 253,746 254.5,744 Z" stroke="#cfcfcf" stroke-width="0.4" fill="#cdcdcd"/>
<path d="M207.4 765.9h0M214.3 779.3h0M172.7 745.5h0M226.2 759.0h0M198.4 729.2h0M202.8 753.5h0M187.3 778.8h0M215.8 722.8h0M217.6 721.3h0M207.1 720.4h0M183.3 726.9h0M202.5 761.2h0M223.3 733.1h0M192.1 723.3h0M188.6 755.6h0M190.8 733.9h0M218.9 746.6h0M189.5 746.6h0M212.2 715.2h0M214.9 773.5h0M192.4 753.8h0M182.5 766.9h0M191.1 737.3h0M201.7 768.4h0M177.3 766.4h0M217.6 774.6h0M176.3 736.2h0M206.7 778.9h0M190.9 779.4h0M202.9 734.1h0M189.5 724.1h0M228.7 750.5h0M194.7 728.6h0M205.7 772.1h0M197.7 742.2h0M172.9 747.5h0M207.9 769.3h0M177.2 743.2h0M179.7 773.5h0M188.2 744.5h0M228.1 744.6h0M199.6 765.0h0M199.0 732.5h0M194.6 721.8h0M227.1 757.4h0M200.2 736.0h0M176.2 731.2h0M216.7 775.2h0M192.1 769.2h0M216.3 762.4h0M209.8 767.2h0M192.3 763.1h0M187.4 746.9h0M216.0 762.1h0M188.2 781.0h0M209.0 754.0h0M171.7 751.5h0M185.7 760.7h0M198.1 771.4h0M208.9 770.0h0M191.4 758.7h0M214.2 772.3h0M191.5 773.4h0M221.9 761.9h0M201.3 750.2h0M180.7 772.9h0M225.8 746.3h0M211.4 764.3h0M213.7 723.7h0M216.7 754.0h0M209.9 742.1h0M207.5 768.3h0M208.3 764.3h0M196.8 759.1h0M183.8 761.8h0M207.9 714.1h0M198.6 727.7h0M189.6 724.4h0M198.2 739.1h0M206.8 754.7h0M184.9 777.8h0M187.3 741.3h0M192.9 713.7h0M206.9 718.0h0M202.9 736.1h0M205.0 781.9h0M218.9 742.0h0M218.6 758.5h0M192.6 721.5h0M205.9 752.7h0M206.6 737.0h0M177.3 752.9h0M207.0 721.4h0M207.8 777.0h0M193.0 742.9h0M184.2 732.6h0M227.9 739.1h0M205.9 730.2h0M228.4 747.7h0M195.3 734.6h0M228.6 747.4h0M187.8 746.3h0M178.1 757.0h0M196.9 732.7h0M216.7 772.2h0M171.8 750.4h0M187.0 780.2h0M216.7 729.2h0M186.7 722.5h0M206.6 746.1h0M208.7 755.7h0M214.5 719.7h0M215.5 733.3h0M202.2 735.9h0M188.4 750.2h0M198.2 737.7h0M214.6 754.7h0M197.7 778.8h0M222.9 751.4h0M196.0 753.6h0M212.4 757.8h0M199.2 778.5h0M193.6 740.0h0M220.8 725.5h0M188.3 772.4h0M211.6 743.0h0M187.8 768.8h0M199.0 751.6h0M200.1 735.5h0M180.0 754.4h0M184.5 771.6h0M217.3 760.1h0M212.0 714.6h0M220.3 727.2h0M208.8 781.5h0M212.7 721.0h0M188.1 778.9h0M179.8 756.2h0M195.2 722.9h0M207.4 714.2h0M177.3 739.1h0M204.7 765.9h0M196.3 734.3h0M206.1 747.2h0M225.9 738.7h0M174.3 762.6h0M179.8 757.7h0M200.6 778.4h0M203.5 756.9h0M186.4 751.8h0M185.9 766.5h0M201.2 720.9h0M184.7 738.5h0M214.1 724.3h0M212.7 759.5h0M176.0 760.4h0M205.7 728.7h0M222.3 746.6h0M189.9 769.9h0M226.7 761.4h0M184.1 719.6h0M219.0 721.3h0M207.6 737.2h0M184.7 735.7h0M206.9 736.8h0M193.6 721.1h0M219.6 758.9h0M218.1 743.1h0M220.8 749.3h0M205.7 753.4h0M214.3 740.3h0M223.0 746.6h0M198.5 776.8h0M207.2 742.7h0M198.2 718.4h0M180.0 722.8h0M192.9 739.5h0M185.9 731.5h0M180.4 732.2h0M184.8 746.7h0M192.6 780.4h0M211.2 760.9h0M198.6 781.0h0M177.9 760.5h0M188.0 760.9h0M213.7 723.1h0M184.5 716.8h0M194.5 783.0h0M192.3 734.1h0M198.4 732.0h0M213.8 764.1h0M180.6 728.8h0M210.3 780.6h0M208.8 742.9h0M195.0 714.3h0M203.1 784.2h0M201.4 736.9h0M223.6 747.3h0M194.2 715.5h0M185.9 741.2h0M188.9 714.8h0M181.5 748.6h0M194.5 750.3h0M175.9 734.2h0M177.3 751.1h0M224.9 755.3h0M221.1 726.9h0M172.0 750.9h0M199.5 753.3h0M193.0 757.3h0M213.4 778.6h0M189.0 744.2h0M219.3 727.6h0M177.8 734.1h0M176.1 768.2h0M218.9 734.2h0M185.3 717.2h0M196.1 753.7h0M212.0 714.6h0M182.7 732.2h0M192.9 718.3h0M195.6 734.2h0M215.0 752.2h0M223.4 759.4h0M215.4 753.5h0M196.9 771.4h0M209.3 781.7h0M213.6 762.9h0M186.7 771.1h0M193.4 720.6h0M186.4 761.0h0M187.7 715.7h0M215.7 752.2h0M178.6 737.4h0M206.8 728.1h0M196.1 737.8h0M205.2 772.2h0M213.5 718.1h0M202.0 723.7h0M212.5 744.0h0M177.9 734.5h0M224.5 745.1h0M196.4 743.7h0M202.2 782.8h0M205.9 718.7h0M218.6 742.0h0M172.9 753.7h0M199.2 776.3h0M194.0 727.0h0M187.2 725.9h0M203.9 737.4h0M214.9 728.9h0M191.6 729.4h0M220.7 756.7h0M194.5 721.6h0M219.7 747.3h0M176.8 764.1h0M217.6 735.0h0M210.9 774.9h0M207.5 770.2h0M200.9 754.4h0M181.8 739.8h0M189.3 739.3h0M198.9 763.0h0M194.3 783.7h0M211.5 760.6h0M202.4 770.1h0M192.2 754.9h0M210.7 749.6h0M187.6 716.8h0M176.1 737.3h0M205.0 767.2h0M212.8 733.7h0M225.4 731.3h0M212.9 716.3h0M215.1 760.6h0M211.2 773.0h0M214.2 756.2h0M183.2 749.2h0M223.4 728.7h0M228.0 751.3h0M193.8 724.2h0M209.2 777.6h0M224.2 756.4h0M193.6 719.1h0M211.3 752.0h0M212.8 738.7h0M222.9 726.7h0M188.9 730.8h0M207.4 777.4h0M180.8 757.8h0M215.8 727.6h0M174.7 752.9h0M213.6 741.8h0M195.9 750.1h0M223.9 733.4h0M187.4 755.8h0M203.9 755.7h0M181.8 725.1h0M205.8 758.8h0M211.4 764.9h0M174.6 746.9h0M189.6 773.9h0M208.7 779.6h0M184.4 762.6h0M220.2 746.3h0M179.9 756.6h0M177.1 767.1h0M214.1 771.4h0M218.0 763.8h0M207.6 782.4h0M192.9 744.9h0M210.8 766.0h0M175.9 740.8h0M202.8 738.8h0M177.9 755.2h0M192.9 761.6h0M200.0 782.2h0M215.4 764.4h0M188.3 719.6h0M199.0 737.2h0M214.1 779.0h0M193.4 732.5h0M200.2 762.6h0M217.2 753.6h0M188.3 735.9h0M220.6 749.4h0M173.9 742.1h0M184.9 760.3h0M175.3 731.1h0M176.6 746.3h0M228.6 751.1h0M193.6 780.1h0M176.4 737.3h0M215.8 737.7h0M197.8 739.3h0M201.2 714.9h0M196.9 745.9h0M176.0 731.7h0M226.9 761.8h0M200.7 714.9h0M194.0 768.6h0M196.4 754.9h0M223.8 758.7h0M208.2 713.7h0M195.2 775.7h0M215.2 777.0h0M179.7 768.8h0M195.7 782.9h0M195.7 731.0h0M198.5 732.2h0M210.0 720.1h0M180.9 744.9h0M175.3 739.2h0M206.0 721.1h0M184.8 779.1h0M181.8 742.7h0M186.6 766.8h0M192.8 768.4h0M179.9 749.4h0M208.6 738.7h0M192.6 746.3h0M205.0 782.5h0M185.1 753.1h0M186.4 751.4h0M213.8 720.9h0M199.1 763.2h0M195.5 748.3h0M206.7 769.7h0M174.3 748.0h0M173.2 739.5h0M188.4 744.3h0M209.3 779.4h0M192.7 750.2h0M212.7 780.4h0M188.7 723.3h0M197.3 765.5h0M201.9 739.8h0M225.1 733.1h0M203.3 772.4h0M179.1 737.0h0M199.9 752.9h0M183.1 744.6h0M191.0 721.6h0M187.1 769.0h0M214.4 730.4h0M219.5 757.3h0M193.7 757.5h0M185.4 730.5h0M222.3 743.5h0M214.3 752.5h0M219.2 747.6h0M205.4 719.7h0M213.2 756.2h0M206.8 727.4h0M174.7 761.6h0M197.9 759.0h0M223.2 764.3h0M175.1 758.6h0M215.1 730.1h0M215.4 749.2h0M223.8 745.4h0M180.1 727.0h0M191.6 716.9h0M195.9 757.0h0M209.1 723.9h0M179.1 747.3h0M211.2 744.1h0M204.5 778.5h0M179.5 730.8h0M199.9 750.7h0M223.7 752.1h0M209.7 742.1h0M216.9 772.9h0M188.2 719.0h0M186.2 737.5h0M223.0 730.6h0M207.8 758.4h0M216.0 735.9h0M177.0 757.8h0M220.4 754.1h0M193.5 758.1h0M213.4 730.3h0M194.9 735.4h0M212.9 741.4h0M188.6 724.3h0M223.4 748.5h0M177.1 741.8h0M204.1 732.5h0M177.3 748.9h0M198.3 718.6h0M216.0 719.5h0M202.4 717.2h0M228.8 751.2h0M196.6 731.1h0M203.2 783.0h0M196.0 726.5h0M201.1 778.9h0M193.3 757.9h0M224.7 735.1h0M218.4 750.1h0M225.9 745.5h0M196.9 778.9h0M204.6 748.0h0M187.6 766.1h0M186.0 745.8h0M215.4 755.8h0M178.9 726.0h0M211.7 764.9h0M178.8 723.4h0M176.2 744.0h0M207.2 774.4h0M180.5 762.7h0M177.2 753.9h0M185.7 737.4h0M174.1 764.3h0M178.2 767.5h0M190.7 754.8h0M208.4 747.2h0M187.5 735.7h0M195.6 741.7h0M209.3 767.0h0M226.2 734.1h0M220.9 759.9h0M195.6 773.0h0M210.5 736.1h0M213.8 748.4h0M212.6 756.5h0M217.6 722.8h0M199.9 711.1h0M217.3 768.1h0M202.3 746.4h0M178.0 726.0h0M184.9 772.4h0M209.1 739.5h0M208.7 727.9h0M209.4 754.0h0M214.5 748.3h0M196.4 733.7h0M214.0 738.6h0M205.9 767.1h0M197.0 761.8h0M174.6 730.3h0M220.2 721.9h0M215.8 718.9h0M197.8 743.4h0M218.0 746.3h0M201.5 712.8h0M217.5 767.8h0M207.5 772.8h0M206.9 764.0h0M220.8 756.7h0M174.9 736.2h0M176.9 738.3h0M176.2 727.3h0M188.6 764.9h0M193.7 723.3h0M211.3 727.1h0M194.6 744.4h0M194.9 712.9h0M197.7 767.8h0M211.6 774.7h0M211.0 767.4h0M217.4 741.8h0M209.6 759.7h0M222.6 763.8h0M196.9 725.1h0M190.2 729.5h0M210.9 767.9h0M182.2 750.5h0M220.2 738.1h0M176.5 755.8h0M192.2 721.6h0M179.7 742.5h0M203.2 781.9h0M219.8 735.1h0M174.4 755.5h0M215.3 746.3h0M218.0 744.4h0M224.7 756.0h0M202.4 723.6h0M196.0 743.6h0M219.1 728.0h0M188.2 771.4h0M175.1 750.7h0M183.8 760.2h0M205.8 718.0h0M213.7 741.1h0M189.8 774.4h0M216.6 733.9h0M210.6 720.1h0M201.4 717.1h0M208.5 778.8h0M208.2 714.0h0M201.0 745.7h0M196.9 722.2h0M187.3 744.3h0M175.2 760.9h0M185.2 732.5h0M176.3 733.4h0M225.5 732.6h0M176.6 736.6h0M191.0 726.5h0M210.9 745.2h0M190.2 761.8h0M197.5 775.5h0M187.7 730.6h0M219.1 748.2h0M191.3 748.5h0M220.5 753.2h0M197.4 759.6h0M207.0 741.0h0M195.9 720.7h0M196.7 776.0h0M188.9 738.0h0M206.3 754.7h0M181.3 744.0h0M177.4 766.9h0M175.8 757.4h0M187.6 759.6h0M173.0 744.8h0M180.5 735.6h0M211.6 748.7h0M220.9 773.3h0M207.2 773.7h0M181.4 746.1h0M189.7 757.2h0M192.7 769.0h0M193.8 774.4h0M214.7 764.8h0M197.8 731.6h0M181.1 741.5h0M225.5 740.7h0M185.9 756.8h0M196.6 756.4h0M197.6 732.2h0M209.6 729.0h0M200.2 754.0h0M200.5 777.7h0M216.5 733.7h0M190.8 756.3h0M173.7 748.0h0M187.0 749.9h0M183.9 744.7h0M189.2 729.3h0M216.8 729.9h0M180.9 731.0h0M213.1 747.3h0M213.7 765.1h0M224.3 752.2h0M193.4 753.4h0M186.2 744.9h0M185.5 738.2h0M227.0 747.0h0M220.0 766.1h0M205.7 734.8h0M194.0 734.5h0M208.1 774.3h0M217.3 732.8h0M205.2 727.9h0M184.4 726.2h0M209.9 754.2h0M187.5 765.1h0M178.0 754.8h0M212.2 765.2h0M199.5 775.5h0M207.8 762.1h0M198.2 751.3h0M176.6 765.9h0M191.3 746.2h0M201.5 773.1h0M188.7 752.4h0M206.4 759.5h0M189.3 731.7h0M198.5 755.5h0M208.7 720.9h0M197.1 752.5h0M200.2 732.8h0M180.4 740.6h0M191.6 762.4h0M207.6 712.5h0M184.4 731.8h0M223.4 743.7h0M186.1 746.5h0M199.4 722.1h0M210.0 764.3h0M198.9 750.8h0M206.8 714.3h0M200.5 760.0h0M190.4 761.6h0M192.5 756.6h0M206.9 760.6h0M225.1 763.4h0M212.5 763.1h0M184.5 756.4h0M207.3 715.5h0M215.1 727.8h0M199.8 749.8h0M213.2 767.6h0M198.4 780.5h0M196.9 752.9h0M175.9 768.5h0M209.1 750.9h0M217.2 774.6h0M179.6 747.0h0M207.0 762.7h0M195.9 778.6h0M190.5 768.0h0M202.1 760.4h0M208.3 775.0h0M199.9 747.5h0M209.5 752.6h0M189.6 748.0h0M225.3 731.5h0M188.5 771.1h0M185.1 760.4h0M204.2 777.3h0M198.9 735.3h0M186.2 737.9h0M179.7 734.3h0M191.7 729.5h0M188.2 757.5h0M199.0 719.7h0M201.6 730.9h0M179.4 769.1h0M177.2 743.5h0M215.8 751.2h0M222.1 734.5h0M223.4 742.4h0M214.1 771.0h0M198.2 778.3h0M228.8 752.0h0M188.8 717.1h0M196.0 749.5h0M197.5 734.0h0M226.4 746.2h0M189.0 768.5h0M185.3 742.3h0M177.1 728.6h0M201.6 760.8h0M210.3 749.6h0M192.5 721.9h0M194.7 711.8h0M210.5 736.0h0M184.7 734.2h0M199.8 726.5h0M220.9 746.7h0M223.1 753.8h0M188.0 763.8h0M225.8 760.2h0M174.0 742.5h0M220.0 754.9h0M183.2 728.3h0M174.7 749.6h0M181.6 744.0h0M199.8 769.0h0M221.6 746.7h0M222.8 733.0h0M225.7 764.8h0M175.3 731.7h0M209.4 778.2h0M210.8 713.9h0M191.3 736.5h0M181.0 727.7h0M201.2 738.6h0M186.6 741.5h0M226.4 755.2h0M214.3 766.7h0M207.0 746.2h0M213.2 742.7h0M182.4 727.2h0M191.4 741.5h0M187.3 768.8h0M199.8 723.6h0M173.7 745.0h0M183.9 758.3h0M192.0 733.0h0M188.7 755.9h0M200.4 747.1h0M210.8 746.0h0M226.4 743.5h0M207.4 754.6h0M217.2 763.7h0M182.3 741.8h0M211.2 735.3h0M191.9 743.3h0M210.5 778.2h0M212.0 727.2h0M205.0 758.7h0M187.8 776.8h0M206.7 763.5h0M179.1 772.6h0M187.8 756.7h0M214.1 734.8h0M186.5 735.4h0M198.6 752.6h0M209.4 730.4h0M205.1 755.3h0M200.0 742.2h0M198.6 738.5h0M215.5 753.6h0M201.8 766.4h0M203.0 754.6h0M204.7 719.5h0M178.7 765.1h0M191.4 720.5h0M218.7 766.3h0M215.7 739.6h0M178.7 767.2h0M183.6 760.4h0M211.7 731.2h0M217.2 754.5h0M213.8 743.2h0M204.9 733.4h0M184.5 751.6h0M206.5 778.3h0M206.3 748.0h0M209.1 757.5h0M194.9 730.7h0M210.9 739.6h0M192.0 761.8h0M209.4 747.3h0M218.8 735.2h0M191.5 766.6h0M210.7 742.5h0M202.4 774.5h0M222.4 725.3h0M218.2 750.4h0M225.7 735.3h0M209.9 758.5h0M193.8 720.2h0M211.0 716.2h0M200.2 766.9h0M191.2 728.9h0M222.6 761.4h0M186.5 765.1h0M223.9 754.9h0M183.9 756.1h0M227.0 754.7h0M179.7 726.0h0M207.9 714.5h0M186.1 747.5h0M175.3 752.4h0M210.5 734.5h0M205.0 750.0h0M217.2 753.6h0M208.3 752.7h0M223.3 756.1h0M221.1 762.9h0M193.0 719.4h0M215.7 763.5h0M198.5 731.0h0M192.3 780.3h0M198.1 726.5h0M181.3 725.6h0M213.7 739.6h0M198.7 761.6h0M187.0 755.0h0M182.9 727.4h0M202.9 742.7h0M224.6 730.4h0M191.1 718.9h0M192.2 772.9h0M181.8 742.9h0M180.8 729.5h0M190.6 723.3h0M210.8 749.7h0M188.0 729.8h0M196.7 716.5h0M201.6 729.9h0M216.2 730.7h0M225.3 745.9h0M222.8 745.3h0M202.6 730.1h0M215.3 738.2h0M222.7 763.4h0M196.1 713.3h0M186.7 741.9h0M192.7 754.1h0M171.3 745.6h0M211.3 761.8h0M217.2 745.1h0M200.0 780.5h0M203.3 755.3h0M189.0 760.2h0M199.6 780.8h0M175.3 736.1h0M219.4 752.3h0M186.0 718.4h0M185.6 720.4h0M179.4 766.1h0M182.3 723.4h0M207.3 720.7h0M219.8 759.1h0M222.3 764.7h0M213.7 730.8h0M195.7 739.1h0M193.9 778.5h0M196.5 770.1h0M207.9 717.1h0M183.3 753.8h0M217.2 728.2h0M185.6 738.9h0M197.9 742.1h0M225.1 756.0h0M187.3 736.5h0M200.7 722.9h0M193.9 715.8h0M209.4 775.2h0M223.6 755.2h0M193.5 752.4h0M203.5 724.1h0M202.6 747.8h0M182.5 743.8h0M219.9 758.5h0M190.2 728.7h0M207.9 751.9h0M188.4 745.9h0M194.8 757.4h0M222.4 738.6h0M202.5 752.6h0M210.0 729.0h0M185.4 779.3h0M179.5 761.4h0M186.2 747.3h0M197.4 728.7h0M214.2 738.5h0M182.4 768.4h0M212.4 740.3h0M223.3 760.1h0M178.7 743.7h0M212.3 722.3h0M225.0 759.2h0M174.7 762.9h0M212.8 743.5h0M208.0 779.6h0M200.2 716.5h0M212.5 780.2h0M211.0 742.7h0M198.1 728.2h0M215.6 768.8h0M213.5 742.8h0M199.7 740.3h0M198.2 735.1h0M198.4 782.2h0M217.9 721.0h0M210.2 771.7h0M191.2 776.8h0M207.6 739.2h0M198.3 751.6h0M221.3 757.7h0M223.0 729.4h0M217.6 740.0h0M181.7 770.4h0M204.8 727.7h0M223.3 747.4h0M190.1 751.2h0M203.0 732.1h0M202.2 782.5h0M211.8 730.6h0M211.0 756.5h0M192.6 760.7h0M193.0 768.8h0M193.7 772.0h0M188.4 723.7h0M190.3 720.3h0M195.3 728.8h0M185.3 733.6h0M200.1 720.8h0M183.3 740.4h0M206.4 733.3h0M210.2 731.3h0M215.4 736.1h0M221.9 742.4h0M211.5 766.6h0M212.1 766.7h0M191.0 722.2h0M192.6 781.9h0M189.1 743.6h0M190.9 764.8h0M197.5 758.8h0M201.0 737.7h0M194.8 714.0h0M176.7 726.0h0M216.8 748.6h0M214.8 766.6h0M179.5 771.9h0M182.8 721.2h0M214.7 771.3h0M188.7 739.5h0M214.0 732.8h0M197.0 784.4h0M185.3 725.7h0M196.6 723.7h0M225.1 753.3h0M220.3 747.4h0M200.2 781.7h0M178.3 727.7h0M221.1 754.6h0M216.2 756.1h0M215.0 750.4h0M183.8 735.1h0M225.1 750.0h0M172.9 758.5h0M199.8 744.7h0M207.9 756.5h0M199.6 777.9h0M222.9 768.9h0M213.4 764.2h0M182.5 747.3h0M186.6 726.2h0M218.7 772.7h0M194.7 712.8h0M181.4 758.8h0M212.5 737.3h0M206.1 723.1h0M209.5 768.8h0M216.8 752.7h0M186.6 741.1h0M227.0 761.6h0M203.9 762.0h0M221.8 758.0h0M196.0 740.0h0M179.9 771.6h0M208.6 736.4h0M211.6 731.3h0M214.6 752.4h0M205.2 715.2h0M215.5 732.7h0M213.3 719.6h0M203.0 736.6h0M198.6 732.4h0M175.1 743.2h0M184.9 724.0h0M190.4 720.2h0M195.6 719.9h0M196.1 748.5h0M174.3 751.2h0M212.6 773.5h0M181.4 741.1h0M226.4 734.3h0M177.9 729.3h0M221.6 736.5h0M209.9 780.4h0M207.4 725.6h0M199.1 735.1h0M199.0 756.5h0M200.8 771.0h0M200.7 725.3h0M210.2 731.0h0M183.4 739.8h0M199.4 713.4h0M192.1 782.1h0M200.8 738.2h0M197.7 762.7h0M200.4 741.0h0M205.0 731.4h0M210.9 742.4h0M212.3 736.8h0M208.3 725.5h0M199.4 747.4h0M197.9 767.6h0M218.5 773.4h0M182.5 722.2h0M179.1 769.7h0M182.1 734.4h0M183.3 728.4h0M205.8 763.0h0M173.2 753.9h0M202.0 752.0h0M201.2 770.0h0M219.1 774.7h0M190.4 714.1h0M198.5 713.0h0M208.2 746.5h0M214.7 772.7h0M213.9 762.3h0M190.5 764.7h0M208.4 727.2h0M221.8 746.0h0M202.1 725.6h0M219.6 746.1h0M214.4 773.3h0M201.4 754.3h0M198.1 728.6h0M198.5 716.9h0M196.7 736.3h0M185.1 768.4h0M205.0 779.2h0M182.4 739.2h0M207.1 768.2h0M196.0 724.8h0M193.6 753.0h0M227.6 759.2h0M220.4 772.7h0M196.1 748.4h0M219.8 764.5h0M194.4 725.0h0M213.8 732.6h0M186.5 729.6h0M211.2 758.8h0M225.8 754.6h0M199.3 776.4h0M179.1 754.6h0M195.1 771.7h0M188.9 730.5h0M185.9 736.1h0M197.5 750.3h0M187.8 750.9h0M188.8 777.3h0M225.7 753.2h0M176.5 738.5h0M212.2 752.9h0M187.4 740.4h0M174.6 740.9h0M219.2 739.7h0M198.3 723.4h0M212.7 741.9h0M193.5 768.2h0M188.4 716.7h0M208.6 765.6h0M174.1 736.5h0M222.8 748.7h0M194.8 720.6h0M187.9 754.4h0M224.5 760.0h0M227.7 741.2h0M175.0 736.2h0M192.4 715.2h0M180.8 733.3h0M184.2 726.4h0M172.8 745.2h0M199.8 720.8h0M222.2 750.5h0M179.3 764.1h0M188.5 777.0h0M187.7 765.8h0M200.0 728.7h0M199.7 742.9h0M180.1 751.4h0M202.1 762.8h0M190.9 756.5h0M182.6 749.6h0M185.0 769.1h0M182.2 732.5h0M175.1 733.1h0M202.7 727.9h0M189.2 727.0h0M194.3 773.3h0M214.7 777.8h0M202.9 735.8h0M200.3 715.3h0M210.9 773.1h0M208.9 770.5h0M188.0 752.6h0M201.0 724.0h0M183.4 773.6h0M207.6 757.1h0M222.3 734.4h0M187.2 753.2h0M182.9 762.7h0M198.9 725.8h0M204.7 778.7h0M217.6 773.8h0M204.2 770.3h0M190.3 738.2h0M223.9 730.1h0M207.5 753.0h0M174.0 752.9h0M217.6 776.8h0M195.5 777.5h0M210.8 771.0h0M197.2 754.5h0M219.3 727.5h0M181.7 766.7h0M222.2 727.8h0M203.0 748.6h0M189.2 773.4h0M187.5 768.7h0M195.1 721.8h0M191.5 713.0h0M185.9 763.9h0M226.8 744.8h0M208.5 734.4h0M181.5 743.3h0M212.6 736.3h0M203.8 724.9h0M203.7 714.1h0M204.7 746.1h0M194.2 766.4h0M204.8 763.5h0M196.9 740.6h0M213.3 724.4h0M191.0 728.8h0M183.0 774.9h0M189.3 765.5h0M198.4 766.1h0M177.2 755.7h0M218.5 732.4h0M176.4 739.3h0M216.0 767.4h0M174.8 735.0h0M224.6 732.4h0M219.0 744.0h0M211.8 766.6h0M219.9 725.0h0M213.7 779.3h0M217.1 749.6h0M194.0 783.5h0M200.6 777.1h0M222.2 748.3h0M178.7 756.3h0M178.9 735.8h0M204.3 748.1h0M208.7 771.7h0M226.5 734.0h0M226.8 734.9h0M191.4 767.0h0M228.1 748.5h0M217.6 772.1h0M189.4 756.7h0M204.1 742.1h0M217.4 743.8h0M179.1 736.9h0M215.5 758.5h0M200.0 711.8h0M187.3 769.5h0M225.9 761.9h0M193.3 766.2h0M210.1 753.8h0M216.9 751.9h0M202.5 730.1h0M216.5 718.9h0M176.6 757.6h0M182.3 745.6h0M186.2 746.7h0M207.1 725.6h0M202.8 783.0h0M179.7 727.2h0M182.4 718.9h0M219.7 753.8h0M183.1 776.3h0M177.8 758.4h0M210.3 762.7h0M184.9 722.1h0M207.9 732.7h0M206.4 765.7h0M228.3 740.8h0M204.6 735.4h0M222.5 727.5h0M176.8 748.2h0M197.0 753.2h0M211.7 803.2h0M213.8 810.4h0M217.6 816.3h0M208.2 793.7h0M206.1 786.3h0M217.8 818.1h0M217.7 818.3h0M217.0 814.5h0M217.0 816.5h0M210.7 802.3h0M216.5 817.3h0M212.8 804.8h0M207.0 790.9h0M207.9 795.2h0M210.0 798.6h0M214.7 809.4h0M218.1 817.2h0M208.6 793.7h0M214.6 808.6h0M206.5 789.8h0M212.6 805.9h0M216.7 816.1h0M213.3 809.1h0M217.6 815.5h0M217.2 817.8h0" stroke="#e2664c" stroke-width="0.7" stroke-linecap="round" stroke-opacity="0.8"/>
<defs><linearGradient id="cbl" x1="0" y1="0" x2="0" y2="1"><stop offset="0" stop-color="#e0281f"/><stop offset="1" stop-color="#d6d6d6"/></linearGradient></defs>
<rect x="281.90" y="755.60" width="4.40" height="23.60" fill="url(#cbl)"/>
<text x="287.50" y="757.50" font-size="3.4" fill="#333">4</text>
<text x="287.50" y="762.90" font-size="3.4" fill="#333">3</text>
<text x="287.50" y="768.30" font-size="3.4" fill="#333">2</text>
<text x="287.50" y="773.70" font-size="3.4" fill="#333">1</text>
<text x="287.50" y="779.10" font-size="3.4" fill="#333">0</text>
<text x="284.60" y="704.20" font-size="11.5" font-weight="bold" fill="#000">m</text>
<line x1="308.40" y1="697.20" x2="308.40" y2="831.60" stroke="#c8c8c8" stroke-width="1.2"/>
<text x="305.60" y="699.60" font-size="7" text-anchor="end" fill="#444">1.0</text>
<line x1="306.20" y1="697.20" x2="308.40" y2="697.20" stroke="#999" stroke-width="0.5"/>
<text x="305.60" y="726.48" font-size="7" text-anchor="end" fill="#444">0.8</text>
<line x1="306.20" y1="724.08" x2="308.40" y2="724.08" stroke="#999" stroke-width="0.5"/>
<text x="305.60" y="753.36" font-size="7" text-anchor="end" fill="#444">0.6</text>
<line x1="306.20" y1="750.96" x2="308.40" y2="750.96" stroke="#999" stroke-width="0.5"/>
<text x="305.60" y="780.24" font-size="7" text-anchor="end" fill="#444">0.4</text>
<line x1="306.20" y1="777.84" x2="308.40" y2="777.84" stroke="#999" stroke-width="0.5"/>
<text x="305.60" y="807.12" font-size="7" text-anchor="end" fill="#444">0.2</text>
<line x1="306.20" y1="804.72" x2="308.40" y2="804.72" stroke="#999" stroke-width="0.5"/>
<text x="305.60" y="834.00" font-size="7" text-anchor="end" fill="#444">0.0</text>
<line x1="306.20" y1="831.60" x2="308.40" y2="831.60" stroke="#999" stroke-width="0.5"/>
<rect x="311.70" y="697.20" width="15.80" height="112.90" fill="#0f5f9e"/>
<rect x="311.70" y="810.10" width="15.80" height="21.50" fill="#e8822d"/>
<rect x="328.30" y="697.20" width="15.80" height="108.19" fill="#0f5f9e"/>
<rect x="328.30" y="805.39" width="15.80" height="26.21" fill="#e8822d"/>
<rect x="344.80" y="697.20" width="15.80" height="103.76" fill="#0f5f9e"/>
<rect x="344.80" y="800.96" width="15.80" height="30.64" fill="#e8822d"/>
<line x1="319.60" y1="833.00" x2="352.70" y2="833.00" stroke="#555" stroke-width="0.5"/>
<line x1="319.60" y1="833.00" x2="319.60" y2="835.00" stroke="#555" stroke-width="0.5"/>
<text transform="translate(322.00,835.80) rotate(-90)" font-size="7" text-anchor="end" fill="#333">C1</text>
<line x1="336.20" y1="833.00" x2="336.20" y2="835.00" stroke="#555" stroke-width="0.5"/>
<text transform="translate(338.60,835.80) rotate(-90)" font-size="7" text-anchor="end" fill="#333">M_3d</text>
<line x1="352.70" y1="833.00" x2="352.70" y2="835.00" stroke="#555" stroke-width="0.5"/>
<text transform="translate(355.10,835.80) rotate(-90)" font-size="7" text-anchor="end" fill="#333">M_28d</text>
<rect x="365.20" y="755.50" width="4.40" height="4.00" fill="#0f5f9e"/>
<text x="370.30" y="759.60" font-size="7" fill="#333">Cd86-</text>
<rect x="365.20" y="761.50" width="4.40" height="4.00" fill="#e8822d"/>
<text x="370.30" y="765.60" font-size="7" fill="#333">Cd86+</text>
<text x="1.50" y="859.40" font-size="11.5" font-weight="bold" fill="#000">n</text>
<text x="100.40" y="867.20" font-size="9.3" text-anchor="end" font-weight="bold" fill="#c0223f">CD86</text>
<text x="100.70" y="862.60" font-size="5.4" font-weight="bold" fill="#c0223f">+</text>
<text x="105.60" y="867.20" font-size="9.3" font-weight="bold" fill="#c0223f">microglia</text>
<rect x="73.00" y="874.70" width="11.93" height="7.16" fill="#ce2f55"/>
<rect x="84.93" y="874.70" width="11.93" height="7.16" fill="#f1dae0"/>
<rect x="96.86" y="874.70" width="11.93" height="7.16" fill="#2fa2d0"/>
<rect x="73.00" y="881.86" width="11.93" height="7.16" fill="#dd7991"/>
<rect x="84.93" y="881.86" width="11.93" height="7.16" fill="#e9b2c0"/>
<rect x="96.86" y="881.86" width="11.93" height="7.16" fill="#68badb"/>
<rect x="73.00" y="889.02" width="11.93" height="7.16" fill="#c9e4ee"/>
<rect x="84.93" y="889.02" width="11.93" height="7.16" fill="#d14063"/>
<rect x="96.86" y="889.02" width="11.93" height="7.16" fill="#68badb"/>
<rect x="73.00" y="896.18" width="11.93" height="7.16" fill="#79c2de"/>
<rect x="84.93" y="896.18" width="11.93" height="7.16" fill="#e5a1b2"/>
<rect x="96.86" y="896.18" width="11.93" height="7.16" fill="#79c2de"/>
<rect x="73.00" y="903.34" width="11.93" height="7.16" fill="#f1dae0"/>
<rect x="84.93" y="903.34" width="11.93" height="7.16" fill="#d14063"/>
<rect x="96.86" y="903.34" width="11.93" height="7.16" fill="#e9b2c0"/>
<rect x="73.00" y="910.50" width="11.93" height="7.16" fill="#f7f7f7"/>
<rect x="84.93" y="910.50" width="11.93" height="7.16" fill="#ebbec9"/>
<rect x="96.86" y="910.50" width="11.93" height="7.16" fill="#bedfec"/>
<rect x="73.00" y="917.66" width="11.93" height="7.16" fill="#c9e4ee"/>
<rect x="84.93" y="917.66" width="11.93" height="7.16" fill="#ebbec9"/>
<rect x="96.86" y="917.66" width="11.93" height="7.16" fill="#f3e6e9"/>
<rect x="73.00" y="924.82" width="11.93" height="7.16" fill="#c9e4ee"/>
<rect x="84.93" y="924.82" width="11.93" height="7.16" fill="#e5a1b2"/>
<rect x="96.86" y="924.82" width="11.93" height="7.16" fill="#f5ecee"/>
<path d="M84.93 874.70V931.98M96.86 874.70V931.98M73.00 881.86H108.79M73.00 889.02H108.79M73.00 896.18H108.79M73.00 903.34H108.79M73.00 910.50H108.79M73.00 917.66H108.79M73.00 924.82H108.79" stroke="#ffffff" stroke-width="0.5" fill="none"/>
<text x="110.80" y="880.68" font-size="6.9">Proliferation</text>
<text x="110.80" y="887.84" font-size="6.9">Complement and coagulation cascades</text>
<text x="110.80" y="895.00" font-size="6.9">chemokine</text>
<text x="110.80" y="902.16" font-size="6.9">microglial cell activation</text>
<text x="110.80" y="909.32" font-size="6.9">complement activation</text>
<text x="110.80" y="916.48" font-size="6.9">immune response</text>
<text x="110.80" y="923.64" font-size="6.9">inflammatory response</text>
<text x="110.80" y="930.80" font-size="6.9">microglia_polarization</text>
<text transform="translate(81.37,934.50) rotate(-90)" font-size="6.9" text-anchor="end" fill="#333">C1</text>
<text transform="translate(93.30,934.50) rotate(-90)" font-size="6.9" text-anchor="end" fill="#333">M_3d</text>
<text transform="translate(105.23,934.50) rotate(-90)" font-size="6.9" text-anchor="end" fill="#333">M_28d</text>
<path d="M73.00 878.28H67.00V885.44H73.00M73.00 892.60H66.00V899.76H73.00M67.00 881.86H60.00V896.18H66.00M73.00 906.92H69.00V914.08H73.00M73.00 921.24H71.00V928.40H73.00M69.00 910.50H49.00V924.82H71.00M60.00 889.02H38.50V917.66H49.00" stroke="#444" stroke-width="0.5" fill="none"/>
<defs><linearGradient id="cbn" x1="0" y1="0" x2="0" y2="1"><stop offset="0" stop-color="#c8123e"/><stop offset="0.5" stop-color="#f7f7f7"/><stop offset="1" stop-color="#1296ca"/></linearGradient></defs>
<rect x="233.60" y="877.60" width="3.60" height="68.20" fill="url(#cbn)"/>
<text x="239.60" y="882.60" font-size="6.9" fill="#333">0.4</text>
<text x="239.60" y="898.35" font-size="6.9" fill="#333">0.2</text>
<text x="239.60" y="914.10" font-size="6.9" fill="#333">0</text>
<text x="239.60" y="929.85" font-size="6.9" fill="#333">-0.2</text>
<text x="239.60" y="945.60" font-size="6.9" fill="#333">-0.4</text>
<text x="395.50" y="704.50" font-size="11.5" font-weight="bold" fill="#000">o</text>
<text x="514.20" y="694.60" font-size="9.3" text-anchor="end" font-weight="bold" fill="#c0223f">CD86</text>
<text x="514.50" y="690.00" font-size="5.4" font-weight="bold" fill="#c0223f">+</text>
<text x="519.40" y="694.60" font-size="9.3" font-weight="bold" fill="#c0223f">microglia</text>
<rect x="427.70" y="700.00" width="11.67" height="7.16" fill="#1296ca"/>
<rect x="439.37" y="700.00" width="11.67" height="7.16" fill="#f7f7f7"/>
<rect x="451.04" y="700.00" width="11.67" height="7.16" fill="#da6883"/>
<rect x="427.70" y="707.16" width="11.67" height="7.16" fill="#c9e4ee"/>
<rect x="439.37" y="707.16" width="11.67" height="7.16" fill="#f6f1f2"/>
<rect x="451.04" y="707.16" width="11.67" height="7.16" fill="#68badb"/>
<rect x="427.70" y="714.32" width="11.67" height="7.16" fill="#84c6e0"/>
<rect x="439.37" y="714.32" width="11.67" height="7.16" fill="#e5a1b2"/>
<rect x="451.04" y="714.32" width="11.67" height="7.16" fill="#f3e6e9"/>
<rect x="427.70" y="721.48" width="11.67" height="7.16" fill="#a1d3e6"/>
<rect x="439.37" y="721.48" width="11.67" height="7.16" fill="#e290a4"/>
<rect x="451.04" y="721.48" width="11.67" height="7.16" fill="#bedfec"/>
<rect x="427.70" y="728.64" width="11.67" height="7.16" fill="#a1d3e6"/>
<rect x="439.37" y="728.64" width="11.67" height="7.16" fill="#e290a4"/>
<rect x="451.04" y="728.64" width="11.67" height="7.16" fill="#f7f7f7"/>
<rect x="427.70" y="735.80" width="11.67" height="7.16" fill="#f7f7f7"/>
<rect x="439.37" y="735.80" width="11.67" height="7.16" fill="#f1dae0"/>
<rect x="451.04" y="735.80" width="11.67" height="7.16" fill="#bedfec"/>
<rect x="427.70" y="742.96" width="11.67" height="7.16" fill="#f7f7f7"/>
<rect x="439.37" y="742.96" width="11.67" height="7.16" fill="#f1dae0"/>
<rect x="451.04" y="742.96" width="11.67" height="7.16" fill="#e6f0f4"/>
<rect x="427.70" y="750.12" width="11.67" height="7.16" fill="#a1d3e6"/>
<rect x="439.37" y="750.12" width="11.67" height="7.16" fill="#f5ecee"/>
<rect x="451.04" y="750.12" width="11.67" height="7.16" fill="#e6f0f4"/>
<rect x="427.70" y="757.28" width="11.67" height="7.16" fill="#b2daea"/>
<rect x="439.37" y="757.28" width="11.67" height="7.16" fill="#f7f7f7"/>
<rect x="451.04" y="757.28" width="11.67" height="7.16" fill="#f5ecee"/>
<rect x="427.70" y="764.44" width="11.67" height="7.16" fill="#b2daea"/>
<rect x="439.37" y="764.44" width="11.67" height="7.16" fill="#f7f7f7"/>
<rect x="451.04" y="764.44" width="11.67" height="7.16" fill="#f7f7f7"/>
<rect x="427.70" y="771.60" width="11.67" height="7.16" fill="#daebf1"/>
<rect x="439.37" y="771.60" width="11.67" height="7.16" fill="#c9e4ee"/>
<rect x="451.04" y="771.60" width="11.67" height="7.16" fill="#bedfec"/>
<rect x="427.70" y="778.76" width="11.67" height="7.16" fill="#b2daea"/>
<rect x="439.37" y="778.76" width="11.67" height="7.16" fill="#f7f7f7"/>
<rect x="451.04" y="778.76" width="11.67" height="7.16" fill="#add7e8"/>
<rect x="427.70" y="785.92" width="11.67" height="7.16" fill="#c9e4ee"/>
<rect x="439.37" y="785.92" width="11.67" height="7.16" fill="#f1dae0"/>
<rect x="451.04" y="785.92" width="11.67" height="7.16" fill="#bedfec"/>
<rect x="427.70" y="793.08" width="11.67" height="7.16" fill="#84c6e0"/>
<rect x="439.37" y="793.08" width="11.67" height="7.16" fill="#f7f7f7"/>
<rect x="451.04" y="793.08" width="11.67" height="7.16" fill="#ebbec9"/>
<rect x="427.70" y="800.24" width="11.67" height="7.16" fill="#84c6e0"/>
<rect x="439.37" y="800.24" width="11.67" height="7.16" fill="#daebf1"/>
<rect x="451.04" y="800.24" width="11.67" height="7.16" fill="#bedfec"/>
<rect x="427.70" y="807.40" width="11.67" height="7.16" fill="#84c6e0"/>
<rect x="439.37" y="807.40" width="11.67" height="7.16" fill="#bedfec"/>
<rect x="451.04" y="807.40" width="11.67" height="7.16" fill="#e6f0f4"/>
<rect x="427.70" y="814.56" width="11.67" height="7.16" fill="#84c6e0"/>
<rect x="439.37" y="814.56" width="11.67" height="7.16" fill="#f1dae0"/>
<rect x="451.04" y="814.56" width="11.67" height="7.16" fill="#b2daea"/>
<rect x="427.70" y="821.72" width="11.67" height="7.16" fill="#84c6e0"/>
<rect x="439.37" y="821.72" width="11.67" height="7.16" fill="#f3e6e9"/>
<rect x="451.04" y="821.72" width="11.67" height="7.16" fill="#f7f7f7"/>
<rect x="427.70" y="828.88" width="11.67" height="7.16" fill="#1296ca"/>
<rect x="439.37" y="828.88" width="11.67" height="7.16" fill="#da6883"/>
<rect x="451.04" y="828.88" width="11.67" height="7.16" fill="#68badb"/>
<rect x="427.70" y="836.04" width="11.67" height="7.16" fill="#4baed5"/>
<rect x="439.37" y="836.04" width="11.67" height="7.16" fill="#e0849a"/>
<rect x="451.04" y="836.04" width="11.67" height="7.16" fill="#68badb"/>
<rect x="427.70" y="843.20" width="11.67" height="7.16" fill="#bedfec"/>
<rect x="439.37" y="843.20" width="11.67" height="7.16" fill="#d65776"/>
<rect x="451.04" y="843.20" width="11.67" height="7.16" fill="#daebf1"/>
<rect x="427.70" y="850.36" width="11.67" height="7.16" fill="#daebf1"/>
<rect x="439.37" y="850.36" width="11.67" height="7.16" fill="#e0849a"/>
<rect x="451.04" y="850.36" width="11.67" height="7.16" fill="#84c6e0"/>
<rect x="427.70" y="857.52" width="11.67" height="7.16" fill="#e0849a"/>
<rect x="439.37" y="857.52" width="11.67" height="7.16" fill="#1296ca"/>
<rect x="451.04" y="857.52" width="11.67" height="7.16" fill="#ca1d47"/>
<rect x="427.70" y="864.68" width="11.67" height="7.16" fill="#e5a1b2"/>
<rect x="439.37" y="864.68" width="11.67" height="7.16" fill="#daebf1"/>
<rect x="451.04" y="864.68" width="11.67" height="7.16" fill="#d65776"/>
<rect x="427.70" y="871.84" width="11.67" height="7.16" fill="#90cbe3"/>
<rect x="439.37" y="871.84" width="11.67" height="7.16" fill="#a1d3e6"/>
<rect x="451.04" y="871.84" width="11.67" height="7.16" fill="#e9b2c0"/>
<rect x="427.70" y="879.00" width="11.67" height="7.16" fill="#a1d3e6"/>
<rect x="439.37" y="879.00" width="11.67" height="7.16" fill="#84c6e0"/>
<rect x="451.04" y="879.00" width="11.67" height="7.16" fill="#e290a4"/>
<rect x="427.70" y="886.16" width="11.67" height="7.16" fill="#c9e4ee"/>
<rect x="439.37" y="886.16" width="11.67" height="7.16" fill="#79c2de"/>
<rect x="451.04" y="886.16" width="11.67" height="7.16" fill="#e9b2c0"/>
<rect x="427.70" y="893.32" width="11.67" height="7.16" fill="#e5a1b2"/>
<rect x="439.37" y="893.32" width="11.67" height="7.16" fill="#daebf1"/>
<rect x="451.04" y="893.32" width="11.67" height="7.16" fill="#f7f7f7"/>
<rect x="427.70" y="900.48" width="11.67" height="7.16" fill="#eec9d2"/>
<rect x="439.37" y="900.48" width="11.67" height="7.16" fill="#c9e4ee"/>
<rect x="451.04" y="900.48" width="11.67" height="7.16" fill="#bedfec"/>
<rect x="427.70" y="907.64" width="11.67" height="7.16" fill="#ecf2f5"/>
<rect x="439.37" y="907.64" width="11.67" height="7.16" fill="#90cbe3"/>
<rect x="451.04" y="907.64" width="11.67" height="7.16" fill="#daebf1"/>
<rect x="427.70" y="914.80" width="11.67" height="7.16" fill="#f7f7f7"/>
<rect x="439.37" y="914.80" width="11.67" height="7.16" fill="#b2daea"/>
<rect x="451.04" y="914.80" width="11.67" height="7.16" fill="#f1dae0"/>
<rect x="427.70" y="921.96" width="11.67" height="7.16" fill="#f3e6e9"/>
<rect x="439.37" y="921.96" width="11.67" height="7.16" fill="#c9e4ee"/>
<rect x="451.04" y="921.96" width="11.67" height="7.16" fill="#e9b2c0"/>
<path d="M439.37 700.00V929.12M451.04 700.00V929.12M427.70 707.16H462.71M427.70 714.32H462.71M427.70 721.48H462.71M427.70 728.64H462.71M427.70 735.80H462.71M427.70 742.96H462.71M427.70 750.12H462.71M427.70 757.28H462.71M427.70 764.44H462.71M427.70 771.60H462.71M427.70 778.76H462.71M427.70 785.92H462.71M427.70 793.08H462.71M427.70 800.24H462.71M427.70 807.40H462.71M427.70 814.56H462.71M427.70 821.72H462.71M427.70 828.88H462.71M427.70 836.04H462.71M427.70 843.20H462.71M427.70 850.36H462.71M427.70 857.52H462.71M427.70 864.68H462.71M427.70 871.84H462.71M427.70 879.00H462.71M427.70 886.16H462.71M427.70 893.32H462.71M427.70 900.48H462.71M427.70 907.64H462.71M427.70 914.80H462.71M427.70 921.96H462.71" stroke="#ffffff" stroke-width="0.5" fill="none"/>
<text x="465.60" y="704.58" font-size="6.15">regulation of synaptic transmission, glutamatergic</text>
<text x="465.60" y="711.74" font-size="6.15">REACTOME_INTRA_GOLGI_AND_RETROGRADE_GOLGI_TO_ER_TRAFFIC</text>
<text x="465.60" y="718.90" font-size="6.15">synapse organization</text>
<text x="465.60" y="726.06" font-size="6.15">regulation of secretion by cell</text>
<text x="465.60" y="733.22" font-size="6.15">regulation of transmembrane transporter activity</text>
<text x="465.60" y="740.38" font-size="6.15">sodium ion transport</text>
<text x="465.60" y="747.54" font-size="6.15">synaptic vesicle cycle</text>
<text x="465.60" y="754.70" font-size="6.15">regulation of apoptotic process</text>
<text x="465.60" y="761.86" font-size="6.15">protein phosphorylation</text>
<text x="465.60" y="769.02" font-size="6.15">regulation of cell projection organization</text>
<text x="465.60" y="776.18" font-size="6.15">regulation of cellular response to stress</text>
<text x="465.60" y="783.34" font-size="6.15">negative regulation of neuron apoptotic process</text>
<text x="465.60" y="790.50" font-size="6.15">cellular response to stress</text>
<text x="465.60" y="797.66" font-size="6.15">regulation of binding</text>
<text x="465.60" y="804.82" font-size="6.15">calcium ion transport</text>
<text x="465.60" y="811.98" font-size="6.15">regulation of neurotransmitter levels</text>
<text x="465.60" y="819.14" font-size="6.15">positive regulation of cell death</text>
<text x="465.60" y="826.30" font-size="6.15">regulation of cellular catabolic process</text>
<text x="465.60" y="833.46" font-size="6.15">positive regulation of synapse assembly</text>
<text x="465.60" y="840.62" font-size="6.15">synapse assembly</text>
<text x="465.60" y="847.78" font-size="6.15">regulation of superoxide metabolic process</text>
<text x="465.60" y="854.94" font-size="6.15">action potential</text>
<text x="465.60" y="862.10" font-size="6.15">REACTOME_DOPAMINE_NEUROTRANSMITTER_RELEASE_CYCLE</text>
<text x="465.60" y="869.26" font-size="6.15">synapse pruning</text>
<text x="465.60" y="876.42" font-size="6.15">synaptic signaling</text>
<text x="465.60" y="883.58" font-size="6.15">regulation of trans-synaptic signaling</text>
<text x="465.60" y="890.74" font-size="6.15">regulation of synaptic plasticity</text>
<text x="465.60" y="897.90" font-size="6.15">microtubule-based transport</text>
<text x="465.60" y="905.06" font-size="6.15">microtubule cytoskeleton organization</text>
<text x="465.60" y="912.22" font-size="6.15">protein polyubiquitination</text>
<text x="465.60" y="919.38" font-size="6.15">neurotransmitter secretion</text>
<text x="465.60" y="926.54" font-size="6.15">methylation</text>
<text transform="translate(435.93,935.00) rotate(-90)" font-size="6.9" text-anchor="end" fill="#333">C1</text>
<text transform="translate(447.60,935.00) rotate(-90)" font-size="6.9" text-anchor="end" fill="#333">M_3d</text>
<text transform="translate(459.27,935.00) rotate(-90)" font-size="6.9" text-anchor="end" fill="#333">M_28d</text>
<path d="M427.70 725.06H426.50V732.22H427.70M427.70 717.90H425.50V728.64H426.50M427.70 739.38H426.00V746.54H427.70M425.50 723.27H424.00V742.96H426.00M427.70 760.86H426.50V768.02H427.70M427.70 753.70H426.00V764.44H426.50M427.70 782.34H426.50V789.50H427.70M427.70 775.18H426.00V785.92H426.50M426.00 759.07H425.00V780.55H426.00M427.70 803.82H426.50V810.98H427.70M427.70 796.66H426.00V807.40H426.50M427.70 818.14H426.00V825.30H427.70M426.00 802.03H424.00V821.72H426.00M425.00 769.81H422.50V811.88H424.00M424.00 733.12H421.50V790.84H422.50M427.70 710.74H418.75V761.98H421.50M427.70 832.46H423.00V839.62H427.70M427.70 846.78H423.00V853.94H427.70M423.00 836.04H417.50V850.36H423.00M418.75 736.36H414.50V843.20H417.50M427.70 703.58H407.50V789.78H414.50M427.70 861.10H426.00V868.26H427.70M427.70 882.58H425.00V889.74H427.70M427.70 875.42H421.00V886.16H425.00M427.70 896.90H425.00V904.06H427.70M427.70 918.38H426.00V925.54H427.70M427.70 911.22H423.50V921.96H426.00M425.00 900.48H419.00V916.59H423.50M421.00 880.79H415.50V908.54H419.00M426.00 864.68H407.00V894.66H415.50M407.50 746.68H393.75V879.67H407.00" stroke="#444" stroke-width="0.5" fill="none"/>
<defs><linearGradient id="cbo" x1="0" y1="0" x2="0" y2="1"><stop offset="0" stop-color="#c8123e"/><stop offset="0.5" stop-color="#f7f7f7"/><stop offset="1" stop-color="#1296ca"/></linearGradient></defs>
<rect x="636.00" y="730.00" width="7.60" height="112.70" fill="url(#cbo)"/>
<text x="648.60" y="740.50" font-size="8.4" fill="#333">0.4</text>
<text x="648.60" y="764.90" font-size="8.4" fill="#333">0.2</text>
<text x="648.60" y="789.30" font-size="8.4" fill="#333">0</text>
<text x="648.60" y="813.70" font-size="8.4" fill="#333">-0.2</text>
<text x="648.60" y="838.10" font-size="8.4" fill="#333">-0.4</text>
</svg>
</body></html>
